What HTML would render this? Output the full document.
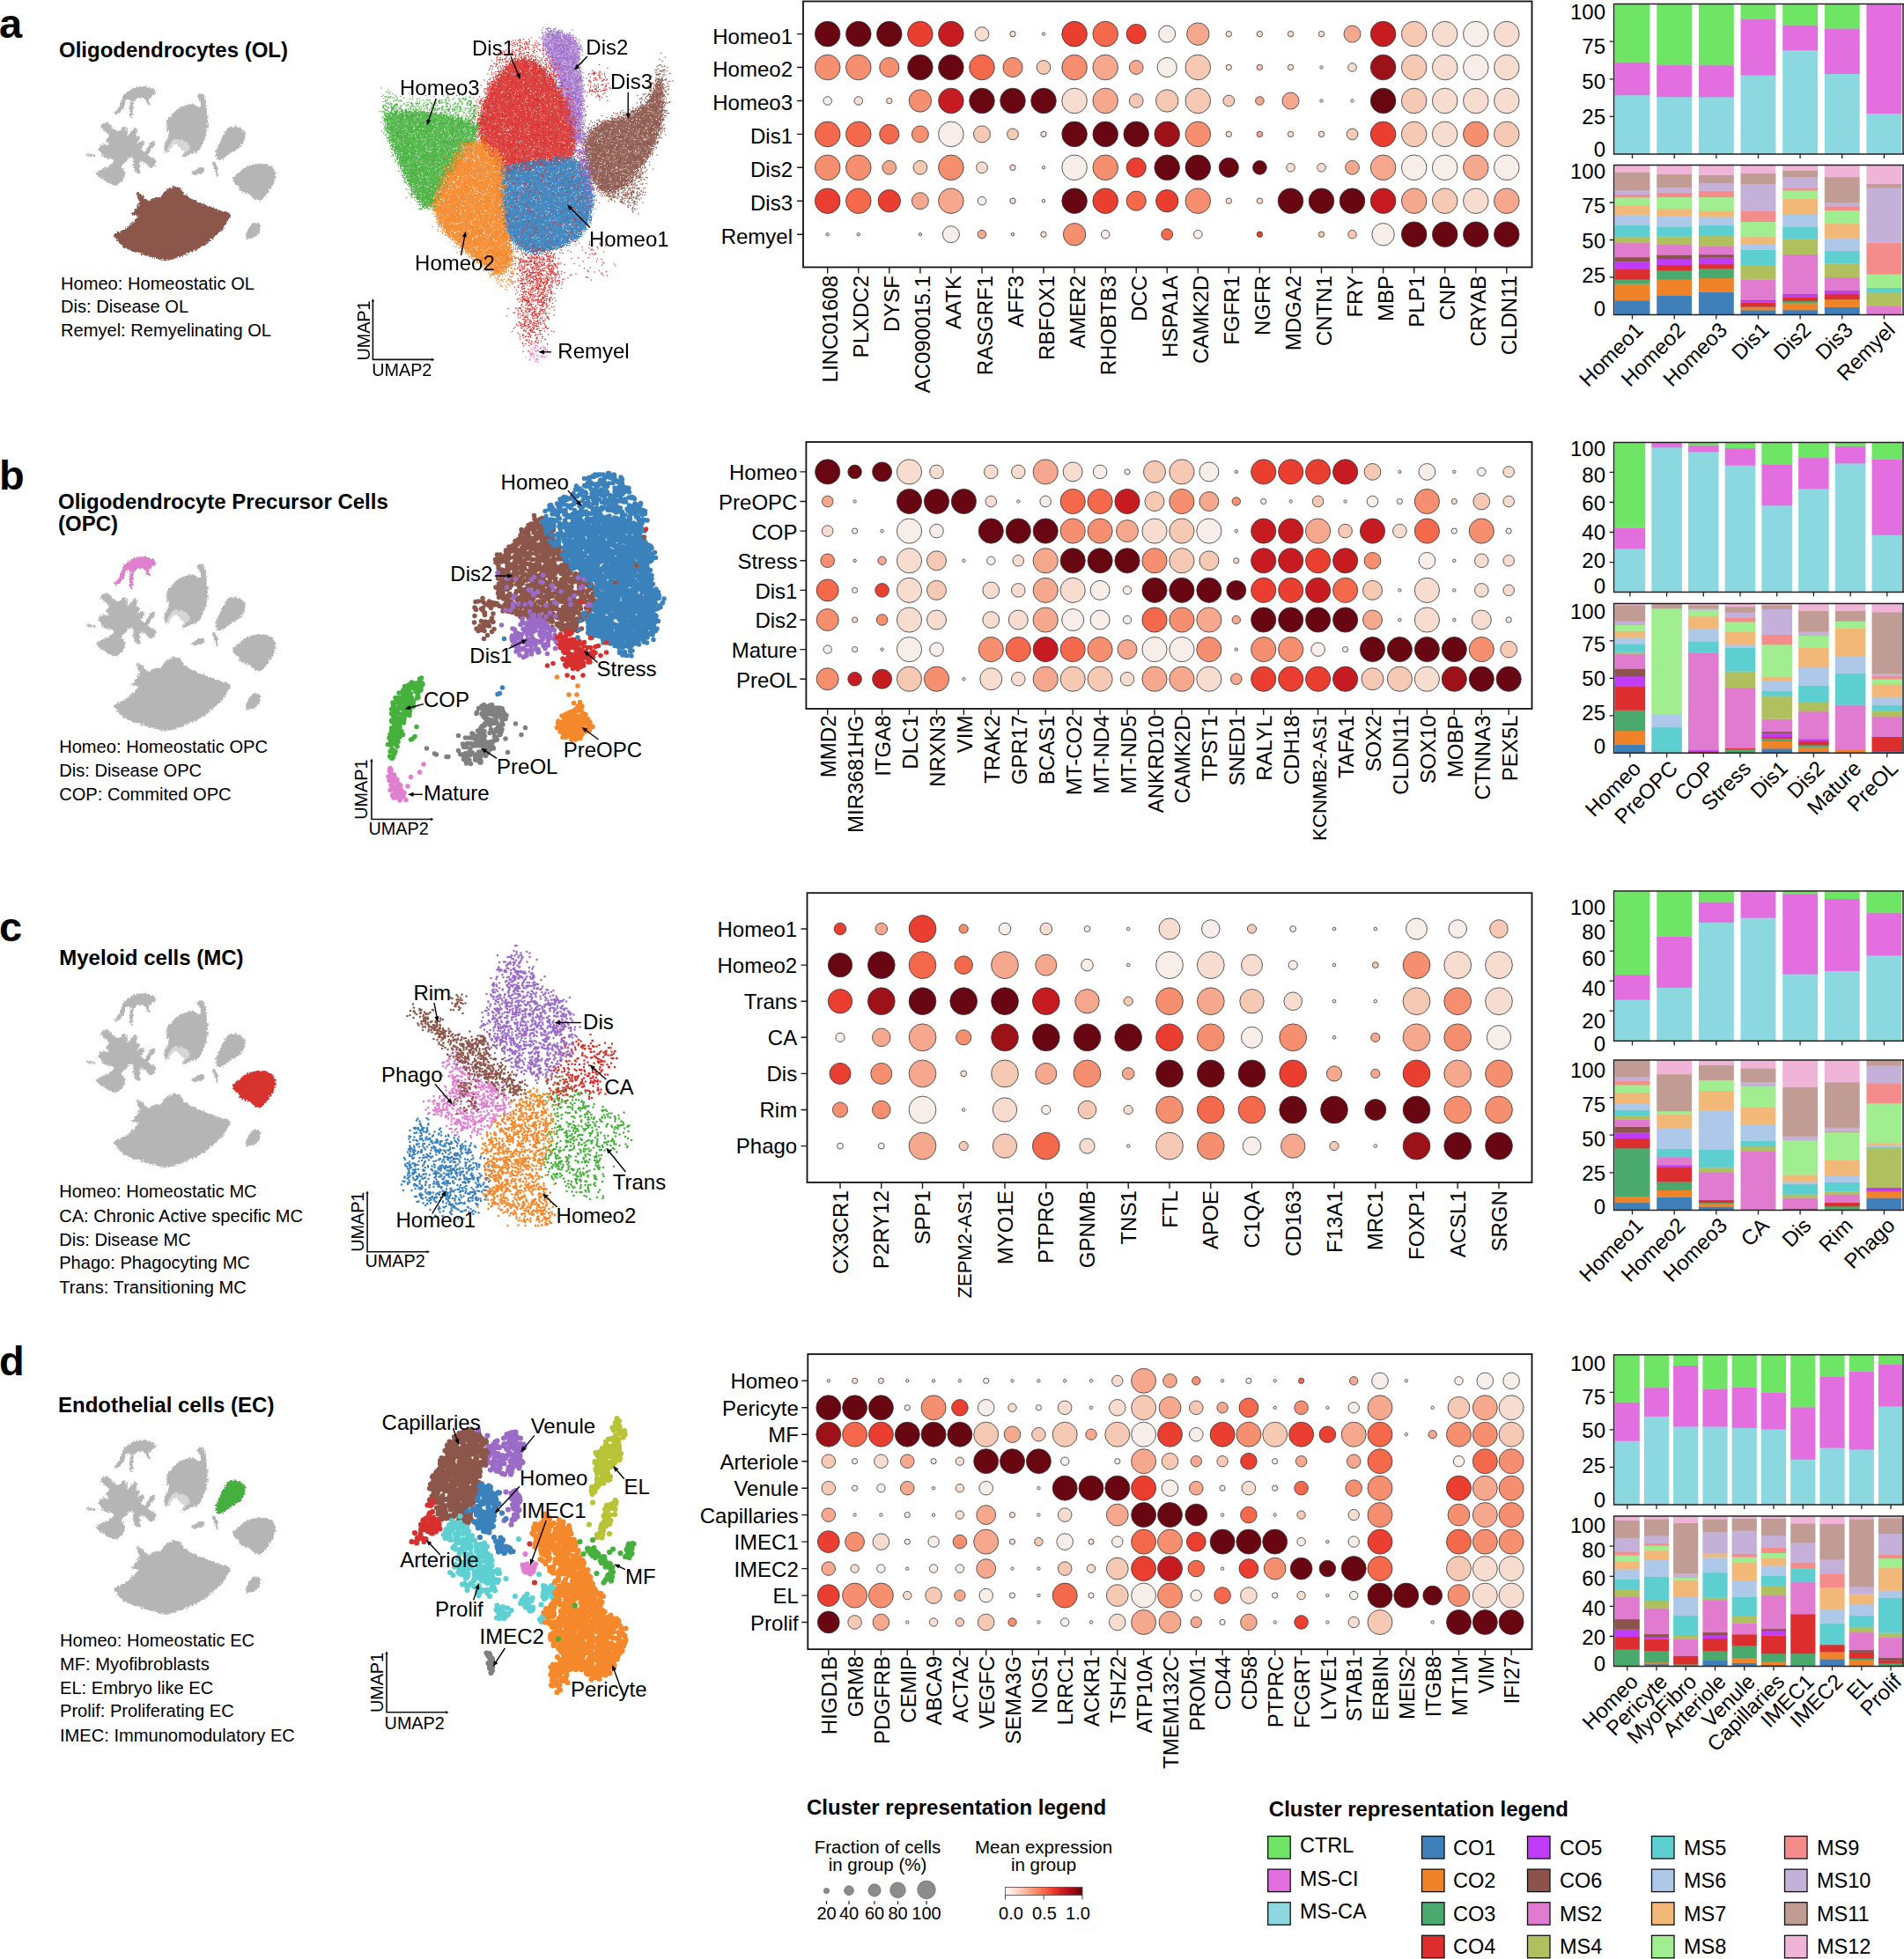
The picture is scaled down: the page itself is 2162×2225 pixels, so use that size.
<!DOCTYPE html><html><head><meta charset="utf-8"><title>Figure</title><style>html,body{margin:0;padding:0;background:#fff}svg{display:block}text{font-family:"Liberation Sans", Arial, Helvetica, sans-serif;fill:#000}.b{font-weight:bold}</style></head><body>
<svg width="2162" height="2225" viewBox="0 0 2162 2225">
<rect width="2162" height="2225" fill="#fff"/>
<defs><filter id="rough" x="-5%" y="-5%" width="110%" height="110%"><feTurbulence type="fractalNoise" baseFrequency="0.45" numOctaves="2" seed="3" result="n"/><feDisplacementMap in="SourceGraphic" in2="n" scale="5" xChannelSelector="R" yChannelSelector="G"/></filter>
<filter id="fuzz" x="-10%" y="-10%" width="120%" height="120%"><feTurbulence type="fractalNoise" baseFrequency="0.8" numOctaves="2" seed="5" result="n"/><feDisplacementMap in="SourceGraphic" in2="n" scale="16" xChannelSelector="R" yChannelSelector="G" result="d"/><feGaussianBlur in="d" stdDeviation="0.45"/></filter>
<g id="mini">
<path id="m_opc" d="M130.7 127.9C131.1 126.3 132.9 126 134.6 123.3C136.4 120.7 136 121.2 137.3 118.1C138.5 114.9 137.5 115 139.2 111.5C141 108 140.5 107.9 143.8 104.9C147.2 102 147.2 102.1 151.7 100.4C156.3 98.6 156.4 98.6 160.9 98.4C165.5 98.2 164.8 98.5 168.8 99.7C172.8 100.9 174.3 101.2 176 103C177.8 104.7 176.6 104.5 175.3 106.3C174.1 108 173.2 107.4 171.4 109.5C169.7 111.6 169.1 111.7 168.8 114.1C168.4 116.6 170.4 117.7 170.1 118.7C169.7 119.8 168.9 119.7 167.5 118.1C166.1 116.5 166.9 114.8 164.8 112.8C162.7 110.9 162.4 111 159.6 110.9C156.8 110.7 156.6 110.2 154.3 112.2C152.1 114.1 152.1 114.8 151.1 118.1C150 121.4 150.7 120.8 150.4 124.6C150 128.5 150.4 131.1 149.7 132.5C149 133.9 148.3 132.7 147.8 129.9C147.2 127.1 147.4 125.9 147.8 122C148.1 118.2 149.4 117.9 149.1 115.5C148.7 113 148.2 112.8 146.5 112.8C144.7 112.8 144.1 113.4 142.5 115.5C140.9 117.6 142 118.1 140.6 120.7C139.2 123.3 139.2 123 137.3 125.3C135.3 127.6 135.1 128.5 133.3 129.2C131.6 129.9 130.4 129.5 130.7 127.9Z"/>
<path id="m_astro" d="M115.6 142.4C116.7 140.4 117.7 139.9 120.2 139.7C122.7 139.6 122.3 139.8 124.8 141.7C127.2 143.6 126.4 145.2 129.4 147C132.4 148.7 133 149 136 148.3C138.9 147.6 138.5 144.7 140.6 144.3C142.7 144 142.6 144.5 143.8 147C145.1 149.4 142.7 153.9 145.1 153.5C147.6 153.2 150.4 146.7 153 145.7C155.7 144.6 154.6 147.1 155 149.6C155.3 152 153.5 153.1 154.3 154.8C155.2 156.6 157.9 154.1 158.3 156.2C158.6 158.3 154.8 161.7 155.7 162.7C156.5 163.8 159.5 159.7 161.6 160.1C163.7 160.4 164.1 161.6 163.5 164C163 166.5 159.2 167.2 159.6 169.3C159.9 171.4 162.4 173 164.8 171.9C167.3 170.9 166.3 168.5 168.8 165.3C171.2 162.2 172.3 160.4 174 160.1C175.8 159.7 176.4 160.9 175.3 164C174.3 167.2 171.8 168.4 170.1 171.9C168.3 175.4 167.4 174.7 168.8 177.2C170.2 179.6 173.2 179 175.3 181.1C177.4 183.2 177.7 182.6 176.7 185C175.6 187.5 174.2 189.9 171.4 190.3C168.6 190.6 169 188.5 166.2 186.4C163.4 184.3 163 181.7 160.9 182.4C158.8 183.1 158.8 185.5 158.3 189C157.8 192.5 160 193.8 158.9 195.5C157.9 197.3 156.3 197.3 154.3 195.5C152.4 193.8 152.4 192.8 151.7 189C151 185.1 152.8 183.9 151.7 181.1C150.7 178.3 150.2 177.8 147.8 178.5C145.3 179.2 145.3 180.9 142.5 183.7C139.7 186.5 137.6 186.2 137.3 189C136.9 191.8 140.5 190.7 141.2 194.2C141.9 197.7 141.6 198.3 139.9 202.1C138.1 206 137.8 206.8 134.6 208.7C131.5 210.6 132.3 210.4 128.1 209.3C123.9 208.3 123.3 207.4 118.9 204.7C114.5 202.1 113.8 201.9 111.7 199.5C109.6 197 109.4 197.6 111 195.5C112.6 193.4 113.7 193.7 117.6 191.6C121.4 189.5 122.3 189.8 125.5 187.7C128.6 185.6 129 185.8 129.4 183.7C129.7 181.6 129.6 181.2 126.8 179.8C124 178.4 122 180.2 118.9 178.5C115.7 176.7 116.7 176 114.9 173.2C113.2 170.4 111.6 170.4 112.3 168C113 165.5 114.8 164.7 117.6 164C120.4 163.3 121.8 166.7 122.8 165.3C123.9 163.9 121.2 161.9 121.5 158.8C121.9 155.6 124.5 156 124.1 153.5C123.8 151.1 122.3 151.3 120.2 149.6C118.1 147.8 117.5 148.9 116.3 147C115 145 114.6 144.3 115.6 142.4Z"/>
<path id="m_speck" d="M99.8 175.2C101.7 175 105.2 175.3 107.1 175.9C108.9 176.4 108.6 177.3 106.8 177.4C105 177.6 102.1 177.1 100.2 176.5C98.4 175.9 98 175.4 99.8 175.2Z"/>
<path id="m_neuron" d="M224.6 108.2C225.3 106.7 227.1 106 229.2 106.9C231.3 107.8 231.2 108.2 232.5 111.5C233.7 114.8 233.3 114.8 233.8 119.4C234.3 123.9 233.9 123.7 234.4 128.6C235 133.5 235.7 132.5 235.7 137.8C235.7 143 235.5 142.7 234.4 148.3C233.4 153.9 233.6 153.9 231.8 158.8C230.1 163.7 230 163.2 227.9 166.7C225.8 170.2 227.1 169.8 223.9 171.9C220.8 174 219.9 172.8 216.1 174.5C212.2 176.3 211.6 178.1 209.5 178.5C207.4 178.8 207.1 177.6 208.2 175.9C209.2 174.1 211.3 174.4 213.4 171.9C215.5 169.5 216.4 169.5 216.1 166.7C215.7 163.9 214.9 163.5 212.1 161.4C209.3 159.3 209 159.8 205.5 158.8C202 157.7 202.1 156.8 199 157.5C195.8 158.2 196.2 158.3 193.7 161.4C191.3 164.6 191.5 166.5 189.8 169.3C188 172.1 187.9 173 187.2 171.9C186.5 170.9 186.5 168.8 187.2 165.3C187.9 161.8 188.4 162.3 189.8 158.8C191.2 155.3 192.4 155.7 192.4 152.2C192.4 148.7 190.5 149.5 189.8 145.7C189.1 141.8 188.4 141.6 189.8 137.8C191.2 133.9 191.9 134.7 195 131.2C198.2 127.7 197.4 127.6 201.6 124.6C205.8 121.7 206.2 121.6 210.8 120C215.4 118.5 214.8 118.2 218.7 118.7C222.5 119.3 222.8 122.2 225.2 122C227.7 121.8 227.5 120.5 227.9 118.1C228.2 115.6 227.4 115.5 226.6 112.8C225.7 110.2 223.9 109.8 224.6 108.2Z"/>
<path id="m_ec" d="M259.4 145.7C262.5 143.2 262.1 144 265.9 144.3C269.8 144.7 270.7 144.9 273.8 147C277 149.1 277.1 148.7 277.8 152.2C278.5 155.7 277.9 156.2 276.4 160.1C275 163.9 275.7 163.5 272.5 166.7C269.4 169.8 268.8 169.1 264.6 171.9C260.4 174.7 260.6 174.7 256.8 177.2C252.9 179.6 253 180.8 250.2 181.1C247.4 181.5 247.3 181.3 246.2 178.5C245.2 175.7 245.2 175.2 246.2 170.6C247.3 166 248.1 166 250.2 161.4C252.3 156.9 251.7 157.7 254.1 153.5C256.6 149.3 256.2 148.1 259.4 145.7Z"/>
<path id="m_small1" d="M218 196.2C218.7 195 220 194.5 222.6 192.9C225.2 191.3 225.6 190.8 227.9 190.3C230.1 189.8 230.4 189.6 231.2 191C231.9 192.4 232.1 193.8 230.5 195.5C228.9 197.3 228 197 225.2 197.5C222.4 198 221.9 197.9 220 197.5C218.1 197.2 217.3 197.4 218 196.2Z"/>
<path id="m_sliver" d="M241.7 185C241.7 182.9 242.9 183.3 244.3 185C245.7 186.8 246 188.1 246.9 191.6C247.8 195.1 247.9 196.2 247.6 198.2C247.2 200.1 246.5 200.2 245.6 198.8C244.7 197.4 245.3 196.6 244.3 192.9C243.2 189.2 241.7 187.1 241.7 185Z"/>
<path id="m_mc" d="M265.3 203.4C266 200.6 266.6 201.3 269.9 198.2C273.2 195 273.2 194.4 277.8 191.6C282.3 188.8 281.7 189.1 287 187.7C292.2 186.3 292.2 186 297.5 186.4C302.7 186.7 302.8 186.5 306.6 189C310.5 191.4 310.5 191.3 311.9 195.5C313.3 199.7 313.3 199.8 311.9 204.7C310.5 209.6 309.5 209.4 306.6 213.9C303.8 218.5 304.2 218.3 301.4 221.8C298.6 225.3 299.3 226 296.1 227.1C293 228.1 293.1 227.5 289.6 225.7C286.1 224 287.2 222.9 283 220.5C278.8 218 277 219 273.8 216.6C270.7 214.1 272.9 213.4 271.2 211.3C269.4 209.2 268.8 210.8 267.3 208.7C265.7 206.6 264.6 206.2 265.3 203.4Z"/>
<path id="m_small2" d="M279.1 269.1C278.4 267 280 266 281.7 262.5C283.5 259 283.2 258.4 285.6 255.9C288.1 253.5 288.4 253.3 290.9 253.3C293.3 253.3 294 253.5 294.8 255.9C295.7 258.4 295.2 259.4 294.2 262.5C293.1 265.7 293.5 265.7 290.9 267.8C288.3 269.9 287.5 270 284.3 270.4C281.2 270.7 279.8 271.2 279.1 269.1Z"/>
<path id="m_ol" d="M129.4 266.4C129.7 264 131.1 265.6 134.6 263.8C138.1 262.1 138.7 262.3 142.5 259.9C146.4 257.4 145.9 257.4 149.1 254.6C152.2 251.8 152.2 251.8 154.3 249.4C156.4 246.9 158 247 157 245.4C155.9 243.9 151.1 245.6 150.4 243.5C149.7 241.4 152.2 240.9 154.3 237.6C156.4 234.2 157.9 235.2 158.3 231C158.6 226.8 155.7 224.8 155.7 221.8C155.7 218.8 156.2 219.1 158.3 219.8C160.4 220.5 160.7 222.2 163.5 224.4C166.3 226.7 166 228 168.8 228.4C171.6 228.7 170.5 226.8 174 225.7C177.5 224.7 178.4 226.5 181.9 224.4C185.4 222.3 184 220.7 187.2 217.9C190.3 215.1 189.5 215.3 193.7 213.9C197.9 212.5 199.4 211.6 202.9 212.6C206.4 213.7 204.4 215.1 206.9 217.9C209.3 220.7 208.3 220.3 212.1 223.1C216 225.9 215.4 225.6 221.3 228.4C227.3 231.2 227.4 230.8 234.4 233.6C241.4 236.4 240.7 236.2 247.6 238.9C254.4 241.5 257.6 239.6 260 243.5C262.5 247.3 259.4 248.2 256.8 253.3C254.1 258.4 254.4 258 250.2 262.5C246 267.1 246.6 265.8 241 270.4C235.4 274.9 235.8 275.4 229.2 279.6C222.5 283.8 223.1 283 216.1 286.1C209 289.3 209.9 289.1 202.9 291.4C195.9 293.7 196.8 294.3 189.8 294.7C182.8 295 183.7 294.3 176.7 292.7C169.7 291.1 170.5 290.9 163.5 288.8C156.5 286.7 156.7 287.3 150.4 284.8C144.1 282.4 144.4 282.7 139.9 279.6C135.3 276.4 136.1 276.5 133.3 273C130.5 269.5 129 268.9 129.4 266.4Z"/>
</g></defs>
<g transform="translate(0,0)" fill="#b5b5b5" stroke="#b5b5b5" stroke-width="1" stroke-linejoin="round" filter="url(#rough)">
<use href="#mini"/>
<path d="M191.1 160.1C194.1 156.4 194.4 157.2 199 156.8C203.5 156.5 204 156.9 208.2 158.8C212.4 160.7 212.5 160.9 214.7 164C217 167.2 217.4 167.4 216.7 170.6C216 173.8 214.4 175.5 212.1 175.9C209.8 176.2 210.6 174.4 208.2 171.9C205.7 169.5 205.7 168.8 202.9 166.7C200.1 164.6 200.1 163.3 197.7 164C195.2 164.7 195.8 166.5 193.7 169.3C191.6 172.1 191.4 174.2 189.8 174.5C188.2 174.9 187.5 174.5 187.8 170.6C188.2 166.7 188.1 163.8 191.1 160.1Z" opacity="0.55" stroke="none"/>
<use href="#m_ol" fill="#8c564b" stroke="#8c564b"/>
</g>
<g transform="translate(0,534.5)" fill="#b5b5b5" stroke="#b5b5b5" stroke-width="1" stroke-linejoin="round" filter="url(#rough)">
<use href="#mini"/>
<path d="M191.1 160.1C194.1 156.4 194.4 157.2 199 156.8C203.5 156.5 204 156.9 208.2 158.8C212.4 160.7 212.5 160.9 214.7 164C217 167.2 217.4 167.4 216.7 170.6C216 173.8 214.4 175.5 212.1 175.9C209.8 176.2 210.6 174.4 208.2 171.9C205.7 169.5 205.7 168.8 202.9 166.7C200.1 164.6 200.1 163.3 197.7 164C195.2 164.7 195.8 166.5 193.7 169.3C191.6 172.1 191.4 174.2 189.8 174.5C188.2 174.9 187.5 174.5 187.8 170.6C188.2 166.7 188.1 163.8 191.1 160.1Z" opacity="0.55" stroke="none"/>
<use href="#m_opc" fill="#e07fd0" stroke="#e07fd0"/>
</g>
<g transform="translate(0,1030.3)" fill="#b5b5b5" stroke="#b5b5b5" stroke-width="1" stroke-linejoin="round" filter="url(#rough)">
<use href="#mini"/>
<path d="M191.1 160.1C194.1 156.4 194.4 157.2 199 156.8C203.5 156.5 204 156.9 208.2 158.8C212.4 160.7 212.5 160.9 214.7 164C217 167.2 217.4 167.4 216.7 170.6C216 173.8 214.4 175.5 212.1 175.9C209.8 176.2 210.6 174.4 208.2 171.9C205.7 169.5 205.7 168.8 202.9 166.7C200.1 164.6 200.1 163.3 197.7 164C195.2 164.7 195.8 166.5 193.7 169.3C191.6 172.1 191.4 174.2 189.8 174.5C188.2 174.9 187.5 174.5 187.8 170.6C188.2 166.7 188.1 163.8 191.1 160.1Z" opacity="0.55" stroke="none"/>
<use href="#m_mc" fill="#d8302e" stroke="#d8302e"/>
</g>
<g transform="translate(0,1537.7)" fill="#b5b5b5" stroke="#b5b5b5" stroke-width="1" stroke-linejoin="round" filter="url(#rough)">
<use href="#mini"/>
<path d="M191.1 160.1C194.1 156.4 194.4 157.2 199 156.8C203.5 156.5 204 156.9 208.2 158.8C212.4 160.7 212.5 160.9 214.7 164C217 167.2 217.4 167.4 216.7 170.6C216 173.8 214.4 175.5 212.1 175.9C209.8 176.2 210.6 174.4 208.2 171.9C205.7 169.5 205.7 168.8 202.9 166.7C200.1 164.6 200.1 163.3 197.7 164C195.2 164.7 195.8 166.5 193.7 169.3C191.6 172.1 191.4 174.2 189.8 174.5C188.2 174.9 187.5 174.5 187.8 170.6C188.2 166.7 188.1 163.8 191.1 160.1Z" opacity="0.55" stroke="none"/>
<use href="#m_ec" fill="#45b03c" stroke="#45b03c"/>
</g>
<text x="-1" y="43" font-size="47" class="b">a</text>
<text x="-1" y="556.4" font-size="47" class="b">b</text>
<text x="-1" y="1069" font-size="47" class="b">c</text>
<text x="-1" y="1561.7" font-size="47" class="b">d</text>
<text x="67" y="65" font-size="24" class="b">Oligodendrocytes (OL)</text>
<text x="66" y="577.9" font-size="24" class="b">Oligodendrocyte Precursor Cells</text>
<text x="66" y="603.1" font-size="24" class="b">(OPC)</text>
<text x="67.2" y="1095.5" font-size="24" class="b">Myeloid cells (MC)</text>
<text x="66" y="1603.8" font-size="24" class="b">Endothelial cells (EC)</text>
<text x="69" y="328.6" font-size="20.1">Homeo: Homeostatic OL</text>
<text x="69" y="355" font-size="20.1">Dis: Disease OL</text>
<text x="69" y="382" font-size="20.1">Remyel: Remyelinating OL</text>
<text x="67.2" y="854.8" font-size="20.1">Homeo: Homeostatic OPC</text>
<text x="67.2" y="881.7" font-size="20.1">Dis: Disease OPC</text>
<text x="67.2" y="908.6" font-size="20.1">COP: Commited OPC</text>
<text x="67.2" y="1360.3" font-size="20.1">Homeo: Homeostatic MC</text>
<text x="67.2" y="1387.6" font-size="20.1">CA: Chronic Active specific MC</text>
<text x="67.2" y="1414.9" font-size="20.1">Dis: Disease MC</text>
<text x="67.2" y="1441.3" font-size="20.1">Phago: Phagocyting MC</text>
<text x="67.2" y="1468.7" font-size="20.1">Trans: Transitioning MC</text>
<text x="68" y="1869.7" font-size="20.1">Homeo: Homeostatic EC</text>
<text x="68" y="1896.6" font-size="20.1">MF: Myofibroblasts</text>
<text x="68" y="1923.5" font-size="20.1">EL: Embryo like EC</text>
<text x="68" y="1950.4" font-size="20.1">Prolif: Proliferating EC</text>
<text x="68" y="1977.7" font-size="20.1">IMEC: Immunomodulatory EC</text>
<g id="umap_a">
<g filter="url(#fuzz)">
<path d="M438.7 128.8C445.1 123.5 448 125.7 462.8 125.7C477.6 125.7 477.4 126.3 494.2 128.8C510.9 131.3 513 130.6 525.5 135.1C538.1 139.6 539 137.2 541.2 145.5C543.5 153.9 539.5 155.9 533.9 166.5C528.3 177.1 527.6 174.7 520.3 185.3C513.1 195.9 512.9 195.4 506.7 206.2C500.6 217.1 503.2 218 497.3 226.1C491.4 234.2 491.4 237.1 484.7 236.6C478 236 478.5 232.7 472.2 224C465.9 215.4 466.6 215 461.1 204.1C455.6 193.3 456.4 194.4 451.7 183.2C446.9 172.1 446.8 172.3 443.3 162.3C439.9 152.2 439.9 154.5 438.7 145.5C437.5 136.6 432.3 134.1 438.7 128.8Z" fill="#45b03c" opacity="0.85"/>
<path d="M619.7 36.7C623.6 33.1 623.9 35.8 632.3 37.8C640.6 39.7 644.1 39.3 651.1 44.1C658.1 48.8 656.6 47.5 658.4 55.6C660.2 63.7 657.2 63.8 657.8 74.4C658.4 85 659.5 84.2 660.5 95.3C661.5 106.5 661.3 105.1 661.6 116.3C661.8 127.4 661.8 124.9 661.6 137.2C661.3 149.5 663.3 157.8 660.5 162.3C657.7 166.8 655.3 161.7 651.1 153.9C646.9 146.1 647.6 144.2 644.8 133C642 121.8 644 123.8 640.6 112.1C637.3 100.4 636.5 100.2 632.3 89.1C628.1 77.9 628.8 80.3 624.9 70.2C621 60.2 619 60.3 617.6 51.4C616.2 42.5 615.8 40.4 619.7 36.7Z" fill="#9b6bc8" opacity="0.6"/>
<path d="M748.4 89.1C752.3 90.7 753.4 100.2 754 114.2C754.7 128.1 754 127.4 750.9 141.4C747.8 155.3 748.1 154.2 742.5 166.5C737 178.8 736.7 177.4 730 187.4C723.3 197.4 724.7 196.6 717.4 204.1C710.2 211.7 710.4 211.7 702.8 215.6C695.1 219.6 695.6 219.9 688.8 218.8C682 217.7 682.6 217.6 677.3 211.5C672 205.3 672.4 205.5 668.9 195.8C665.4 186 664.9 185.4 664.1 174.8C663.2 164.2 662.5 164.4 665.7 156C669 147.6 669 148.8 676.2 143.5C683.5 138.2 684 139.2 692.9 136.1C701.9 133.1 700.8 135.6 709.7 131.9C718.6 128.3 718.5 128.9 726.4 122.5C734.4 116.1 733.5 116.8 739.4 107.9C745.3 99 744.5 87.4 748.4 89.1Z" fill="#8c564b" opacity="0.85"/>
<path d="M545.4 128.8C548.6 117.6 548.6 116 554.4 103.7C560.3 91.4 560 91.7 567.4 82.8C574.8 73.8 573.7 74.4 582 70.2C590.4 66 590.3 66.1 598.8 67.1C607.3 68.1 606.5 68.7 613.9 74C621.2 79.3 620.3 79 626.4 87C632.5 94.9 631.8 94.8 636.9 103.7C641.9 112.6 641.3 110.4 645.2 120.4C649.1 130.5 649.3 130.2 651.5 141.4C653.7 152.5 654.2 152 653.6 162.3C653.1 172.6 655.7 173.7 649.4 180.1C643.2 186.5 640.9 184.1 630.2 186.4C619.5 188.6 620.4 186.8 609.2 188.4C598.1 190.1 597.8 189.8 588.3 192.6C578.8 195.4 580.5 201.3 573.7 198.9C566.9 196.5 569 192.3 562.8 183.6C556.5 175 555.6 176.6 550.2 166.5C544.9 156.3 544 155.6 542.7 145.5C541.4 135.5 542.3 140 545.4 128.8Z" fill="#d8302e" opacity="0.88"/>
<path d="M525.5 164.4C532.5 160.6 534.8 158.1 544.4 159.8C554 161.5 553.6 163.3 561.5 170.7C569.5 178 570.4 177.4 574.1 187.4C577.8 197.4 575.6 197.2 575.4 208.3C575.1 219.5 573.3 218.1 573.3 229.2C573.3 240.4 574 239 575.4 250.2C576.7 261.3 576.6 260.5 578.3 271.1C580 281.7 582.4 280.7 581.6 289.9C580.8 299.1 579.8 299.8 575.4 305.6C570.9 311.5 571.6 312.9 564.9 311.9C558.2 311 558.6 308 550.2 302.1C541.9 296.1 542.4 296.8 533.5 289.5C524.6 282.3 525.1 282.7 516.8 274.9C508.4 267.1 508.1 269 502.1 260.2C496.1 251.4 496.8 250.6 494.2 241.8C491.5 233 490.4 236.1 492.1 227.2C493.7 218.2 495.4 218.9 500.4 208.3C505.5 197.7 506.2 196.6 510.9 187.4C515.6 178.2 514.3 179.9 518.2 173.8C522.1 167.7 518.6 168.1 525.5 164.4Z" fill="#f5882a" opacity="0.88"/>
<path d="M572.6 193.7C577.2 185.9 578.6 188.4 588.3 185.3C598.1 182.2 598.1 183.6 609.2 182.2C620.4 180.8 619 180.4 630.2 180.1C641.3 179.8 641.9 178.1 651.1 181.1C660.3 184.2 659.4 184.3 664.7 191.6C670 198.8 668.7 198.3 671 208.3C673.2 218.4 673.6 218.1 673.1 229.2C672.5 240.4 672.8 239.9 668.9 250.2C665 260.5 666 260.1 658.4 268C650.9 275.8 651 274.7 640.6 279.5C630.3 284.2 630.9 284.1 619.7 285.7C608.6 287.4 608.3 288 598.8 285.7C589.3 283.5 590.3 284.1 584.1 277.4C578 270.7 579.1 270.7 575.8 260.6C572.4 250.6 572.8 252 571.6 239.7C570.4 227.4 570.9 226.9 571.2 214.6C571.4 202.3 568.1 201.5 572.6 193.7Z" fill="#3b82bd" opacity="0.9"/>
</g>
<path transform="scale(0.5)" d="M866 200h0m1 19h0m3-3h0m4 3h0m4-10h0m3-5h0m1 6h0m2 3h0m3-5h0m4 5h0m6 3h0m3 3h0m9 0h0m21-7h0m37 5h0m19 2h0m22-1h0m9-2h0m20 1h0m6-1h0m7 1h0m33 22h0m-3-10h0m-1 10h0m-1 0h0m-3-16h0m0 16h0m-4-7h0m0-2h0m-1 0h0m0 5h0m0-3h0m-1 3h0m0 3h0m-1-17h0m-1 9h0m0 7h0m-1-17h0m0 18h0m-1-9h0m-1 2h0m-1 4h0m-1 4h0m-1-4h0m0-3h0m-1-5h0m-1 11h0m-1-16h0m-1 3h0m-2 2h0m-2-2h0m-2 0h0m0-2h0m0 13h0m-1-4h0m-2 4h0m0-5h0m-3-2h0m-1 2h0m0-6h0m0 3h0m-2-4h0m-1 10h0m-1 4h0m0 0h0m-1-2h0m-5-3h0m0 2h0m-1 4h0m-1-3h0m-1-13h0m-3 15h0m0-12h0m-6 5h0m-1 5h0m-1-10h0m-1 2h0m0 7h0m-1-14h0m-2 0h0m0 14h0m-2 0h0m0-10h0m0 7h0m0 5h0m-1 0h0m0-3h0m-1-8h0m0 2h0m-1 1h0m-3 4h0m-4 1h0m0-3h0m0-4h0m-1 5h0m-3 2h0m-1-7h0m0 4h0m-1 4h0m0-4h0m0-2h0m-1 3h0m-2-2h0m-4 5h0m-1-3h0m0-5h0m-2 9h0m-2-5h0m-2 6h0m-1 1h0m-2-4h0m0 0h0m0 5h0m-2-4h0m-2-8h0m-1 6h0m-2-5h0m-1 10h0m-1-3h0m-2-10h0m0 4h0m0 10h0m0-2h0m-4-5h0m-1 6h0m-2-3h0m-1-8h0m-1 11h0m-8-3h0m0-1h0m0-5h0m-1-6h0m-2 13h0m-2-1h0m-1-10h0m0 5h0m0 4h0m-2 2h0m-1-1h0m-7-15h0m0 5h0m-1 10h0m0 3h0m-1-5h0m0 1h0m-2 1h0m-2-10h0m-2 7h0m-2 6h0m-1 0h0m-2-5h0m-2 6h0m-4-4h0m-1 2h0m0-14h0m-5 16h0m0-9h0m-1-2h0m-3 1h0m-3 1h0m-2-4h0m0 12h0m-1-1h0m0-15h0m-1 6h0m0 8h0m-1 1h0m0 2h0m-1-1h0m-1-1h0m0-9h0m-2 11h0m-1-16h0m-1 6h0m-1 0h0m-1-7h0m-2 14h0m-2-16h0m0 15h0m-1 3h0m0-18h0m-1 12h0m-1-10h0m-1 16h0m-1-18h0m-1 15h0m0 1h0m-1-10h0m-1 0h0m0 8h0m0-13h0m-2 14h0m-1-6h0m0-9h0m-2 8h0m0 11h0m0-9h0m-1 8h0m-2-15h0m-2 16h0m0-8h0m-8 22h0m5 1h0m1-1h0m2-8h0m0-3h0m1 3h0m1 8h0m0 3h0m0-14h0m2 7h0m0 8h0m0-9h0m1-8h0m0 8h0m1-1h0m0 5h0m1-11h0m0 1h0m1 8h0m1 7h0m1-6h0m1 1h0m0-8h0m2 2h0m0-2h0m2 14h0m3-5h0m0-8h0m1-4h0m0 7h0m0-8h0m0 16h0m1-7h0m0-6h0m1 0h0m0 3h0m0 3h0m1-1h0m1-2h0m0-3h0m1 9h0m1-11h0m0 5h0m0-3h0m1 16h0m0-12h0m1-6h0m0 16h0m1-1h0m0-9h0m1 4h0m0-5h0m1 12h0m0-3h0m0-15h0m0 12h0m1-1h0m1-8h0m0 9h0m0-1h0m1 6h0m2-4h0m0 2h0m1-1h0m1-6h0m1-5h0m1 16h0m0-13h0m2-5h0m1 11h0m0-3h0m1 4h0m2 2h0m0-4h0m6-3h0m0 5h0m1 3h0m0-8h0m0 4h0m1-10h0m0 8h0m0 3h0m1-12h0m3 15h0m1-9h0m1 5h0m1-10h0m0 13h0m1 0h0m0-1h0m1 0h0m0-7h0m1-3h0m1 11h0m0-12h0m1-3h0m1 19h0m0-6h0m1-13h0m1 19h0m0-11h0m1-7h0m1 8h0m2-6h0m0 16h0m1-2h0m0-3h0m1-8h0m0 6h0m0 4h0m1-9h0m1-7h0m1 18h0m1-9h0m2-9h0m3 4h0m0 14h0m1-9h0m1 3h0m1 6h0m0-17h0m1 5h0m0 9h0m1-1h0m2 1h0m1-14h0m0 12h0m2-9h0m1 4h0m0 7h0m0 0h0m3-15h0m2 6h0m1 10h0m0-13h0m1 8h0m0-4h0m1 9h0m0 0h0m4-1h0m1 3h0m1-8h0m0-4h0m1-1h0m1-2h0m1 9h0m1 4h0m1-5h0m0 7h0m2-13h0m1 2h0m1 4h0m0 2h0m1-13h0m0 8h0m1 1h0m0-3h0m2 10h0m1-5h0m0-11h0m1 0h0m0 7h0m1 3h0m2-3h0m2 1h0m1-3h0m1 14h0m0-3h0m2 1h0m0 1h0m1 0h0m0-11h0m0 0h0m0-4h0m0 8h0m1 4h0m0-13h0m1 4h0m0 3h0m2-7h0m2 12h0m1-4h0m0 4h0m1 0h0m1 2h0m1-14h0m1 6h0m1 4h0m0-3h0m0-8h0m0-1h0m2 3h0m0 14h0m1-5h0m0-3h0m1 0h0m1 1h0m0 3h0m0-6h0m2 0h0m1-4h0m0-3h0m0 17h0m0-1h0m4-10h0m1 7h0m0-4h0m2 10h0m0-9h0m1-9h0m0 7h0m1-5h0m1 7h0m1-5h0m0 10h0m1 2h0m0 0h0m1-3h0m0-6h0m0-7h0m0 17h0m2-13h0m1-3h0m1 16h0m0-8h0m0-8h0m1 12h0m3-2h0m0-9h0m1 3h0m0-4h0m0 7h0m1-3h0m1 7h0m0-9h0m0-1h0m3 6h0m0 0h0m2 5h0m1 4h0m1-14h0m1 10h0m1-4h0m1-3h0m1 12h0m2-13h0m3-1h0m0 11h0m1-4h0m1-4h0m1 10h0m1-4h0m1-2h0m0-12h0m1 6h0m0 5h0m1-2h0m1 9h0m0-14h0m2 15h0m1-14h0m0 12h0m1-5h0m0 2h0m1-1h0m0-4h0m1-8h0m0 10h0m1 7h0m1-6h0m0 3h0m1-15h0m2 7h0m0 1h0m0-2h0m3 10h0m0-14h0m4 3h0m5 11h0m2 17h0m-1-13h0m-6 1h0m0 17h0m-1-1h0m-2-7h0m-4-5h0m-2 1h0m-1 3h0m-1 2h0m0-7h0m0 8h0m-1-10h0m0-2h0m0 5h0m-2-1h0m0 3h0m0-5h0m-1 7h0m0 1h0m-1 6h0m0-9h0m-1 8h0m0 2h0m-1-7h0m-1 2h0m0-1h0m0-7h0m-1 9h0m-1-11h0m-1 11h0m0-3h0m0-5h0m0 14h0m0-1h0m-2-5h0m-1-5h0m-2 0h0m0-3h0m0 10h0m0-3h0m-1-8h0m-1-2h0m-1 15h0m-1-9h0m-1-4h0m-3 9h0m-3 2h0m0 3h0m-1-11h0m-1 6h0m0 6h0m0-9h0m0-5h0m0 3h0m-1 2h0m0 8h0m-1-6h0m-1 4h0m-3-7h0m-1 4h0m0-4h0m0-7h0m-1 6h0m0-3h0m0-3h0m0 13h0m-2-15h0m-1 0h0m-4 13h0m0-8h0m-4 4h0m0-4h0m-1 14h0m0-4h0m-1 3h0m0-6h0m-1 0h0m-1-6h0m-1-4h0m0 11h0m-2-10h0m0 11h0m-3-1h0m0 5h0m-1-9h0m0 1h0m-1-3h0m-2 5h0m-1-10h0m0 3h0m0 5h0m-1 9h0m0-10h0m-3 2h0m0-3h0m-1-7h0m-1 4h0m0-1h0m-1-4h0m0 5h0m-1-3h0m-1 13h0m-2-6h0m0 7h0m-1 3h0m0-17h0m0 7h0m-1-9h0m0 6h0m0 4h0m-2-1h0m0 4h0m-1-11h0m-2 14h0m-1 1h0m0-11h0m-1 10h0m0 3h0m-2-3h0m-2 2h0m0-18h0m0 5h0m-1-3h0m0-2h0m0 12h0m0-2h0m0 7h0m-2-17h0m0 10h0m-1 9h0m0-17h0m0 11h0m0-10h0m0 8h0m-1 7h0m-1-4h0m0 1h0m0-15h0m-3 4h0m0 0h0m-1 13h0m0-4h0m-2-9h0m0 4h0m-4 7h0m-2-11h0m0-3h0m0 2h0m-1 2h0m0 14h0m0-19h0m-1 16h0m-2-1h0m0-9h0m0 8h0m0-12h0m0 12h0m-1-12h0m0 2h0m0 10h0m0 3h0m-1-2h0m-1-15h0m-2 19h0m-1-10h0m0 8h0m0-11h0m-1 1h0m0 2h0m-2 7h0m-1 2h0m-5-8h0m0-9h0m0 18h0m-1-13h0m-1 3h0m0 3h0m-1-4h0m0-2h0m0 3h0m-2 6h0m-1-11h0m0 7h0m-2-1h0m-2-8h0m0-1h0m-1 17h0m-2-12h0m-1-6h0m0 13h0m-1-10h0m0 2h0m0 8h0m-1-9h0m-1 15h0m0-17h0m-1 3h0m0 6h0m-1-6h0m0-5h0m-1 3h0m0 6h0m-1 5h0m0-11h0m-2-2h0m0 0h0m-1 13h0m0-7h0m-1 10h0m0-6h0m0-4h0m-1-6h0m-2 6h0m-1-4h0m0 5h0m-1-3h0m0 1h0m0 13h0m-1-16h0m-1-3h0m0 6h0m-1 4h0m0-5h0m-1 14h0m-4-18h0m0 5h0m-1 6h0m0-3h0m0-5h0m-2-4h0m0 5h0m-1 13h0m-1-7h0m0 5h0m0-7h0m0 4h0m0-5h0m-1 9h0m0 0h0m-1-7h0m-1 4h0m-1 2h0m-1-7h0m0 6h0m0-12h0m0-1h0m-2 16h0m-1-14h0m-1 4h0m0 0h0m0 9h0m-1-9h0m-4-8h0m-2 1h0m-1 17h0m-1-15h0m0 8h0m-3-11h0m-2 9h0m-2-7h0m-1 6h0m0 4h0m-4 1h0m-1-2h0m-4-8h0m0 4h0m0-5h0m-3 9h0m-7 6h0m1 21h0m5-5h0m4-8h0m0 8h0m3-11h0m1 1h0m1 6h0m0 2h0m0-9h0m0 14h0m1-3h0m0-8h0m5 10h0m2-3h0m0-3h0m1-1h0m0-4h0m1 8h0m0 4h0m1-10h0m0 7h0m1-8h0m0 2h0m1 1h0m1 1h0m2-7h0m0 7h0m3-2h0m0-6h0m1 6h0m1 5h0m4 6h0m1-1h0m0-8h0m0 0h0m0 0h0m1-3h0m0-1h0m0 13h0m2-6h0m1 3h0m0 1h0m1-5h0m0 6h0m1-16h0m1 17h0m2-12h0m1 2h0m1 10h0m0-10h0m1 9h0m1 2h0m1-2h0m2-14h0m2 4h0m1 8h0m1-14h0m0 12h0m0 3h0m2-7h0m0-8h0m2 10h0m0 8h0m0-15h0m2 7h0m0 6h0m0-1h0m1-3h0m0-10h0m1 16h0m0-10h0m0 4h0m1-2h0m1 7h0m0 0h0m0-1h0m1 0h0m1-17h0m2 8h0m0-1h0m0 2h0m3-8h0m1 16h0m0-8h0m0 4h0m1 0h0m0-8h0m1 9h0m2-4h0m0-4h0m0 7h0m0 4h0m1-7h0m0 5h0m0-13h0m2-2h0m0 7h0m0 2h0m0-8h0m2 17h0m0-1h0m0-14h0m1 3h0m0-5h0m0 5h0m1 2h0m0-8h0m0 9h0m0 10h0m1-6h0m1 3h0m0 0h0m1-14h0m0 13h0m1-15h0m0 8h0m0 2h0m1 6h0m0-16h0m1 6h0m0 10h0m2 2h0m2-9h0m0-4h0m1 12h0m2 1h0m2-10h0m0 11h0m0-9h0m0 3h0m2 3h0m0-11h0m0-4h0m0 15h0m1 1h0m1-17h0m1 6h0m1 1h0m0 9h0m1-14h0m0 2h0m0 8h0m1 4h0m0 3h0m2-16h0m0 10h0m0-13h0m1 12h0m0-4h0m2 1h0m0 7h0m1 0h0m1 3h0m2-15h0m1 4h0m0-4h0m7-2h0m0 2h0m0 0h0m1 3h0m1-6h0m0 7h0m0 7h0m2-13h0m0-1h0m0 10h0m2 2h0m1-12h0m3 8h0m0 10h0m1-1h0m0-15h0m0-3h0m0 15h0m1 1h0m0-11h0m1-4h0m1-1h0m0 2h0m1 6h0m0-2h0m1 6h0m1 1h0m4 6h0m2 0h0m0-18h0m3 15h0m1 1h0m1 2h0m0-19h0m0 9h0m0-5h0m3 8h0m0-4h0m0-8h0m0 19h0m1 0h0m0-4h0m1 4h0m0-7h0m0 1h0m0-1h0m1-8h0m1 13h0m0 0h0m0-3h0m1 3h0m0-15h0m4 5h0m1 1h0m0 8h0m2 3h0m1-16h0m1 3h0m0-6h0m1 1h0m0 4h0m1-1h0m0 5h0m0 3h0m1-11h0m1-1h0m1 16h0m0 3h0m1-17h0m1 8h0m0 7h0m3-7h0m0-9h0m1 6h0m2 1h0m0 3h0m0 0h0m1-1h0m1 2h0m0-2h0m1 4h0m1 5h0m1-14h0m0-1h0m1 5h0m0 1h0m0-7h0m1-2h0m0 9h0m0 8h0m1-1h0m1-8h0m0 0h0m1-7h0m2 12h0m1-12h0m2 13h0m0 1h0m1-5h0m1 4h0m1 2h0m0-8h0m1 1h0m1 8h0m0-2h0m1-13h0m0 7h0m0 3h0m0 0h0m1-6h0m1 1h0m0 7h0m1-15h0m1 0h0m1 6h0m0 5h0m1 3h0m0 0h0m0 2h0m1-11h0m1 0h0m0-4h0m0 5h0m1-1h0m0 3h0m1-7h0m1 11h0m5 7h0m0-4h0m2-12h0m7 25h0m-4-5h0m-8 6h0m-2-3h0m-2 6h0m-2-1h0m-3-10h0m-1-1h0m0 11h0m-1-11h0m-1 4h0m0 3h0m0-5h0m0 1h0m-1 13h0m-2-3h0m0-8h0m0 4h0m-1-6h0m-3 15h0m-1-9h0m0 9h0m0-14h0m0 11h0m-1-12h0m-1 10h0m0 4h0m-1-1h0m-1-1h0m-2-2h0m0-9h0m-6 7h0m-1-3h0m-2 10h0m-1-13h0m0 6h0m0-9h0m0 14h0m-1 0h0m-2-13h0m-1-2h0m0 16h0m-1-8h0m-1 10h0m-1-12h0m0 2h0m0 5h0m-1-12h0m0-1h0m0 12h0m-1-1h0m0 0h0m0 4h0m0 1h0m0-1h0m0-8h0m0-1h0m-1 1h0m-1 0h0m0 11h0m-3-19h0m-2 1h0m0 10h0m-1 8h0m0-10h0m-1 7h0m0-4h0m0 2h0m0-11h0m0 16h0m0-11h0m-2 11h0m-1-4h0m0 4h0m-1-9h0m0-6h0m-1 15h0m0-3h0m-1-10h0m0 3h0m0-7h0m0 15h0m0-6h0m-1-7h0m-3-2h0m-1 14h0m-1-11h0m0 8h0m0 4h0m-1-2h0m-1-12h0m-1 8h0m0-6h0m0-2h0m-1 5h0m0-1h0m-4-7h0m0 7h0m-1 4h0m-2-10h0m0 15h0m0-8h0m-2-5h0m-1 8h0m0-6h0m-2 3h0m0 8h0m-2-11h0m-1-1h0m0-2h0m-1 15h0m0-14h0m-1 5h0m-1-3h0m0 3h0m0 5h0m-1 0h0m-2-4h0m-1 10h0m-2-3h0m0-2h0m-2-12h0m-1 9h0m-1-4h0m-1-7h0m0 5h0m-1 9h0m0-9h0m0 9h0m-1-11h0m-2 2h0m-3 8h0m0 4h0m0-2h0m-1-3h0m-2 4h0m0-5h0m-1 3h0m-1 0h0m-1-14h0m-1 5h0m0 4h0m0-9h0m0 11h0m-1-1h0m0 6h0m-1-13h0m0 2h0m-2 14h0m0-17h0m-1 6h0m0-7h0m-1-1h0m-1 2h0m0 14h0m-2-14h0m0 1h0m0 11h0m-1-3h0m0-3h0m0 4h0m-1-7h0m0 6h0m-4 8h0m-1-6h0m-1 3h0m0-14h0m-1 1h0m0 3h0m0-1h0m-2 6h0m0 4h0m0-6h0m-1 7h0m0-5h0m-3 0h0m-1 8h0m0-11h0m-1 5h0m-2 3h0m-1-5h0m0-10h0m0 7h0m0 0h0m-1 1h0m-1-6h0m0 10h0m-1-4h0m-2 7h0m0-15h0m-1 11h0m0-5h0m0 2h0m0 8h0m-2-4h0m-1-12h0m0 16h0m-3-8h0m0 8h0m-1-9h0m-1-2h0m0-4h0m0 6h0m0-2h0m-1 1h0m0 9h0m-3-11h0m-1 1h0m0 7h0m0 5h0m0-10h0m-1 11h0m-1-12h0m0-1h0m0-2h0m0 15h0m-1-6h0m0-2h0m-3-2h0m-1 1h0m0 4h0m-2 3h0m-3 1h0m-1-16h0m-1 10h0m0-7h0m0 12h0m-2-16h0m0 6h0m0-3h0m-1 2h0m0 0h0m0-4h0m0 10h0m0-4h0m-1-3h0m0 6h0m0 2h0m-1-5h0m0 11h0m-2-18h0m0 9h0m-1-7h0m-1 2h0m-1 2h0m0 4h0m0-9h0m-1 3h0m0 4h0m0-1h0m-1 0h0m0 8h0m0-6h0m-1-1h0m0-8h0m0 11h0m0 5h0m-1-14h0m0-3h0m0 0h0m-2 12h0m0-2h0m0 1h0m-1 6h0m0-8h0m-1 9h0m0-6h0m-1-5h0m-1 0h0m-1 10h0m-2-17h0m0 15h0m-2 4h0m-1-19h0m0 19h0m-2-7h0m-1 1h0m-1-1h0m-1-11h0m-1 18h0m0-19h0m-1 13h0m-1 1h0m-4-7h0m-4-4h0m14 18h0m2 11h0m2-9h0m0 14h0m3-13h0m0-1h0m2 0h0m1 3h0m0-1h0m0 14h0m3-6h0m0 1h0m1-7h0m1 7h0m0 5h0m1-16h0m0 13h0m2-5h0m1 4h0m0-2h0m2-8h0m1-1h0m0-4h0m1 14h0m0-14h0m1 14h0m0-3h0m0 4h0m1-13h0m3 4h0m0 2h0m1 2h0m1-4h0m2 10h0m1 3h0m0-5h0m0-9h0m1 10h0m0-4h0m2-5h0m0-6h0m1 17h0m0-4h0m1-8h0m2 1h0m0 6h0m0 1h0m1 5h0m1-12h0m0 7h0m0-4h0m1-9h0m1 12h0m0-7h0m0 10h0m0-12h0m1 6h0m1 6h0m0 1h0m0-9h0m0 12h0m1-14h0m2 12h0m2-12h0m0 5h0m1 1h0m0 7h0m0-5h0m1 3h0m1-6h0m0 3h0m2-13h0m1 16h0m2-6h0m1-7h0m1 12h0m1-9h0m2-5h0m1 13h0m0-8h0m1-3h0m2-2h0m0 9h0m1 9h0m1-15h0m1 5h0m1 0h0m1 5h0m1-14h0m2 14h0m1 1h0m0-6h0m0-8h0m1 12h0m1-4h0m1 7h0m1-15h0m1 16h0m0 1h0m1-17h0m1 5h0m1 12h0m0-11h0m0 1h0m2-8h0m0 3h0m1 0h0m0-3h0m1 19h0m0-7h0m7 4h0m1-6h0m1-7h0m0 16h0m1-8h0m0 8h0m1-4h0m1-2h0m0 1h0m0-8h0m0 13h0m1-2h0m0-4h0m1-4h0m0-3h0m2 13h0m0-11h0m3 8h0m2-8h0m1-2h0m2 5h0m3-7h0m1-3h0m0 16h0m0 1h0m2-18h0m0 14h0m1-13h0m1 2h0m0 14h0m1-6h0m0 3h0m0-14h0m1 19h0m0-5h0m0 1h0m1-12h0m0-3h0m0 6h0m0-1h0m3 10h0m1-12h0m0 13h0m0-15h0m1 18h0m1-18h0m0 4h0m2 14h0m0-14h0m0-2h0m0 16h0m2-5h0m0 0h0m1-5h0m0 0h0m1-7h0m0 3h0m1 9h0m0 1h0m1 3h0m1-9h0m0-5h0m1 7h0m2 0h0m0-7h0m3-2h0m0 1h0m0 6h0m1-6h0m1 2h0m2 5h0m0 9h0m0-2h0m3-17h0m1 2h0m2 5h0m1 10h0m4-11h0m1 12h0m2 0h0m1-18h0m1 19h0m0-8h0m1 4h0m1-6h0m1 6h0m2-11h0m0 6h0m2 6h0m0-3h0m1 0h0m0 3h0m1-8h0m0-2h0m1-4h0m0-2h0m2 2h0m0 3h0m1-4h0m1 4h0m2-1h0m5 5h0m2-6h0m1 14h0m2-11h0m1-6h0m1 0h0m3 9h0m-13 11h0m-8 1h0m-1-1h0m-5 10h0m-3-6h0m-2-3h0m0 15h0m-1-3h0m0-8h0m-1 3h0m0-7h0m-1 8h0m-2 10h0m-1-17h0m0 5h0m-1 4h0m-1-7h0m0 4h0m0-4h0m-1 15h0m0-5h0m-1 1h0m-1-11h0m0 3h0m-1 5h0m-1 5h0m0-15h0m-1 3h0m0 14h0m0-18h0m-1 11h0m-2-9h0m0-3h0m-3 8h0m-1-6h0m-1 4h0m-1 11h0m-1 2h0m-2-10h0m-1 4h0m0 0h0m-1-10h0m0 9h0m-1-7h0m0 5h0m-1-6h0m0 3h0m0 11h0m0-7h0m0-4h0m-1-4h0m0 5h0m0 9h0m-1-7h0m0 7h0m0-17h0m0 18h0m-1-8h0m-3-3h0m-1 6h0m0 2h0m-2-15h0m-2 2h0m-1-2h0m-1 8h0m-1-4h0m0-4h0m0 14h0m-2-5h0m0 2h0m0-11h0m-3 2h0m0 13h0m0 3h0m-4 1h0m0-13h0m-1-5h0m0-1h0m-3 13h0m-1-6h0m-1 4h0m0 4h0m-1-15h0m-1 5h0m0-3h0m-1 12h0m-1 0h0m-1 2h0m0-4h0m-1-7h0m-1 3h0m0-2h0m-1 9h0m-2 1h0m-1-9h0m-2 6h0m-2-7h0m-1 10h0m0-16h0m0 7h0m-2 8h0m0-2h0m-1-5h0m0 3h0m-1 6h0m-1-10h0m0-3h0m-1-4h0m-1 0h0m-1 13h0m0-3h0m0-10h0m-1 7h0m0-5h0m0 3h0m0 6h0m-1 6h0m-1-6h0m0 4h0m-1-4h0m0 2h0m-1 3h0m0-3h0m0-12h0m0 16h0m0-7h0m-2 9h0m-2-2h0m0-17h0m-1 7h0m-2 4h0m0 0h0m-1-8h0m0 12h0m-4-7h0m-2-7h0m0-1h0m-1 19h0m-1-10h0m0-6h0m-1-3h0m-1 2h0m-1 3h0m0-4h0m-1 14h0m-1-7h0m-1 1h0m-1 2h0m-1 6h0m0-8h0m-1-4h0m0 3h0m-2 1h0m-1-4h0m0 12h0m0-11h0m-2 6h0m-2 3h0m-1-7h0m-1-5h0m0 11h0m0-6h0m-1 10h0m-1 1h0m-1-10h0m0-3h0m-2-5h0m-1 0h0m0 7h0m-1-1h0m-1-1h0m-1 3h0m0 5h0m-1-11h0m0 14h0m-1 2h0m-1-4h0m0-15h0m-1 7h0m-1 6h0m0 6h0m-1-7h0m0 7h0m-1-14h0m0 12h0m-1-14h0m-1 0h0m0-2h0m-1 11h0m0 0h0m-1-10h0m-2 11h0m-1 4h0m-1 0h0m0-12h0m0 10h0m-4-9h0m-6 7h0m-3-6h0m0-7h0m0 14h0m13 6h0m0 1h0m1 13h0m3-13h0m1 1h0m0-2h0m1 18h0m1-17h0m0-1h0m0 3h0m1 16h0m0-8h0m2-6h0m1 0h0m0 6h0m0-5h0m0-3h0m1 2h0m0 2h0m3 11h0m1 0h0m0-12h0m1 1h0m0-2h0m1 4h0m0-4h0m1 0h0m0-3h0m1 14h0m0-2h0m0-14h0m0 12h0m1-8h0m0 11h0m0 4h0m1-6h0m0 4h0m2-11h0m1 8h0m0-14h0m1 11h0m4-7h0m0 10h0m1-14h0m0 19h0m0-17h0m3 13h0m3 0h0m1 2h0m0-11h0m0 6h0m0 1h0m0 4h0m0-3h0m1 4h0m1-9h0m0 0h0m1 10h0m0-8h0m0 4h0m1-3h0m0-10h0m0-2h0m0 10h0m0 6h0m1-16h0m0 16h0m1-3h0m2 0h0m2-4h0m1-8h0m0 1h0m0 17h0m1 0h0m2-7h0m0-10h0m2 2h0m0 15h0m1-12h0m1 11h0m0-16h0m1 13h0m0-8h0m1 8h0m2-14h0m1 5h0m0 10h0m1 3h0m0 0h0m1-13h0m1-4h0m0 12h0m2-13h0m0 2h0m2 5h0m1 2h0m1-7h0m1 11h0m1-7h0m1-1h0m1-3h0m0 15h0m1-1h0m1-2h0m2 4h0m0-12h0m0 6h0m0-11h0m1 12h0m0 5h0m1-13h0m0-3h0m1 16h0m0-16h0m1 10h0m0-3h0m0-10h0m1 5h0m4 3h0m0 1h0m3 9h0m2-1h0m0-17h0m0 4h0m0 0h0m1 6h0m1 3h0m0 6h0m0-4h0m1-2h0m0-7h0m1-5h0m1 4h0m3 3h0m1 2h0m1-4h0m0 8h0m1-11h0m1-1h0m0 5h0m0-2h0m1-5h0m1 7h0m0 11h0m2-14h0m0 5h0m0-7h0m1 15h0m0-16h0m2 8h0m0 6h0m0-2h0m1 4h0m0-15h0m0 4h0m1 0h0m0 5h0m0 3h0m0-5h0m1 2h0m1 1h0m1 4h0m1-2h0m0-8h0m0-4h0m1 9h0m1-7h0m2 15h0m1-9h0m1-6h0m1 4h0m1-7h0m3 2h0m2 16h0m0-7h0m2 4h0m1-8h0m0 8h0m1-13h0m2 2h0m2-3h0m7 0h0m-14 20h0m-1 12h0m-3-7h0m-3-5h0m0 13h0m-1-6h0m-1 0h0m0-4h0m-1 3h0m-1 2h0m-2-6h0m-2-3h0m-3 15h0m0-14h0m-1 13h0m0-8h0m-1 2h0m-1 6h0m-2-1h0m0 4h0m-1-15h0m0 10h0m-1-12h0m0 5h0m-1 4h0m-1 9h0m-1 0h0m0-4h0m0 0h0m0-13h0m-1 15h0m-2-14h0m0 5h0m-1 2h0m-1-8h0m-1 5h0m-3-1h0m0 2h0m-1 6h0m0-2h0m-1 4h0m0-6h0m0 7h0m0 1h0m-2-8h0m0 5h0m-2-8h0m-1-1h0m-1 7h0m-2-2h0m-1 7h0m0-16h0m-1 0h0m0 13h0m-3-14h0m0 1h0m-1 3h0m-1 7h0m-2-11h0m0 9h0m-1-6h0m-2 12h0m-1-10h0m0 0h0m0-4h0m-1 15h0m-1-12h0m-1 11h0m0 0h0m-2-5h0m0 6h0m0-4h0m-3-10h0m-1 10h0m0 1h0m-1-13h0m0 14h0m-2-7h0m-2-2h0m-1 4h0m0 2h0m0-10h0m0 15h0m-1-11h0m-2 12h0m0-5h0m0 6h0m0-18h0m0 15h0m-1-3h0m-1-4h0m0-2h0m-1-2h0m-1 1h0m0 3h0m0-1h0m-1-4h0m-1 2h0m0 4h0m-2-2h0m0-1h0m-1 5h0m0-12h0m0 6h0m-1 11h0m0-16h0m0 0h0m-1 4h0m0 13h0m-1 1h0m-1-3h0m0-6h0m-1-3h0m0 3h0m-1 9h0m-1-5h0m-2 0h0m0-3h0m0 2h0m-1 0h0m-1-8h0m0 11h0m-1-10h0m-1 5h0m0-3h0m-2 7h0m-1-11h0m0 2h0m0 10h0m-2-10h0m-1 8h0m0-11h0m-1 1h0m0 6h0m-1 6h0m0-8h0m-1-6h0m-1 5h0m-2-3h0m0 1h0m0 9h0m-1 1h0m-1-11h0m-3 9h0m-1 6h0m-1-11h0m-1 1h0m-2 10h0m-6-10h0m12 23h0m0 1h0m1-5h0m0-3h0m3 10h0m1-14h0m1 2h0m3 8h0m1 6h0m1-4h0m0-4h0m0 10h0m1-13h0m0 13h0m1-4h0m0-14h0m1 0h0m0 10h0m2-2h0m1-3h0m0 6h0m1-10h0m0-1h0m2 14h0m1-6h0m1 0h0m0 4h0m0-3h0m1 8h0m1-13h0m2 11h0m1-8h0m1 4h0m0 5h0m0-16h0m1 1h0m0-1h0m1 3h0m1 6h0m1-3h0m1 2h0m1-2h0m0 7h0m1-14h0m1 3h0m0 12h0m2 0h0m0 1h0m0-10h0m1 9h0m1-5h0m0-10h0m1 13h0m0 6h0m1-19h0m1 7h0m1-1h0m0-6h0m0 16h0m1-6h0m1 9h0m1-11h0m1-3h0m0-1h0m0 11h0m1 3h0m0-9h0m0-9h0m1 6h0m1 1h0m1 11h0m4-12h0m0 1h0m2 9h0m0-10h0m0-3h0m3 3h0m1 2h0m1-8h0m1 17h0m1-9h0m1 2h0m2 1h0m2 3h0m1-11h0m1 0h0m1 9h0m1-7h0m3-1h0m0 15h0m1-8h0m1-4h0m1 2h0m2 9h0m2-9h0m0 0h0m1 2h0m0 8h0m1-19h0m0 0h0m0 12h0m1 7h0m0-14h0m1 11h0m0-13h0m0 11h0m1 0h0m1-7h0m0 3h0m4 2h0m1 4h0m2-16h0m1 6h0m1 19h0m-7 14h0m-2-13h0m-3-6h0m-2 6h0m-2-2h0m-1 7h0m0-7h0m-1-1h0m-1 7h0m-1-8h0m0 11h0m0-11h0m-2 9h0m-1-5h0m-2 7h0m0 2h0m0 1h0m-1-14h0m-1-2h0m-1 15h0m0-3h0m0-2h0m-1-1h0m-1-6h0m0-3h0m-1 7h0m-1-3h0m-1-3h0m0 18h0m-1-14h0m0-4h0m0 16h0m-1-16h0m0 10h0m0 4h0m0-1h0m-1-13h0m-1 4h0m-1 10h0m0-13h0m0 15h0m-1-13h0m-1 7h0m0 3h0m-1-10h0m0 14h0m-1-13h0m0 5h0m-1-1h0m-1 10h0m0-9h0m0-5h0m0 10h0m0-3h0m-2 6h0m0-1h0m-1-11h0m-2-5h0m0 18h0m-1-18h0m-1 11h0m0-10h0m0 10h0m-1-4h0m-1 6h0m0 5h0m-1-15h0m0 1h0m-1 5h0m0 2h0m-1-3h0m0-2h0m0 9h0m0-10h0m-1 0h0m-1-3h0m0 11h0m-1-12h0m-2 4h0m-1 5h0m0-4h0m-1-6h0m-1 14h0m-3-11h0m0 15h0m0-14h0m-2-4h0m0 17h0m-2-10h0m0-8h0m-1 11h0m0 7h0m0 1h0m-2-4h0m0-14h0m-2 15h0m-1-12h0m0 12h0m-1-12h0m-1 6h0m0 9h0m-1-19h0m-2 13h0m0 2h0m0-13h0m-4-1h0m0-1h0m-3 19h0m-2-8h0m-4-2h0m1 20h0m9-4h0m0-4h0m3 2h0m1-1h0m0 7h0m5 1h0m3-2h0m1 0h0m0 1h0m2 3h0m1-9h0m0 16h0m0-13h0m0 3h0m0 3h0m1-12h0m2 9h0m1 4h0m0-13h0m1 7h0m5 4h0m1 0h0m1-7h0m0-2h0m0 17h0m0-4h0m1-1h0m1-13h0m1 3h0m0 5h0m3 0h0m1 1h0m1 8h0m0-10h0m0-5h0m0 2h0m2 8h0m0-5h0m1 5h0m1-4h0m1-3h0m1 9h0m0 0h0m1-13h0m0-2h0m1 13h0m0-4h0m0-4h0m2 8h0m1 5h0m1-1h0m0-12h0m0-3h0m0 11h0m1 3h0m0-11h0m0 12h0m1-9h0m0-7h0m1 16h0m0-13h0m0 2h0m1 9h0m1-15h0m0 7h0m0-1h0m1 11h0m1-3h0m0-14h0m1 10h0m0 0h0m1-4h0m1-1h0m1 12h0m1-11h0m1 1h0m3-6h0m0 9h0m4-10h0m0 1h0m1 1h0m5 11h0m-16 15h0m-1-8h0m-2 8h0m-4 9h0m-4-15h0m-3 0h0m-2 5h0m-3 3h0m-5 3h0m-1-10h0m0 1h0m-1 9h0m-2-5h0m0-7h0m-2 4h0m-1-5h0m-1 15h0m-1-2h0m-2 3h0m-2-1h0m-1-1h0m-1-8h0" stroke="#45b03c" stroke-width="3" stroke-linecap="round" fill="none"/>
<path transform="scale(0.5)" d="M1300 68h0m-6 11h0m0-5h0m-1 2h0m-4 1h0m-2 1h0m-5 0h0m-4-2h0m-1-6h0m-1 4h0m0-4h0m-1 3h0m-2 0h0m0 6h0m-1-11h0m0 6h0m-1 2h0m-1-7h0m-1 4h0m0-1h0m-1 2h0m0 4h0m0-5h0m0-1h0m0-1h0m-1 2h0m0 6h0m-1-3h0m0-3h0m-1 2h0m0 1h0m0-4h0m-2 3h0m-1-11h0m0 4h0m-3-2h0m0 5h0m-1 1h0m0-6h0m-1 5h0m-1-3h0m0 7h0m-1 3h0m0 1h0m-2-3h0m0-5h0m-1-2h0m-1 1h0m-1-5h0m0 8h0m-1-2h0m-1 7h0m0 0h0m-1-2h0m0-12h0m-1 8h0m-1 7h0m0-1h0m0-14h0m-1 6h0m-1-4h0m0 13h0m-2 0h0m0-14h0m-1 1h0m-1 8h0m-5-11h0m-1 13h0m-2-8h0m0 6h0m-6 11h0m5 3h0m3 10h0m0-14h0m1 11h0m0-14h0m1 18h0m0-9h0m1 1h0m2 8h0m1-10h0m1 6h0m0 4h0m1-7h0m2-9h0m1 1h0m1 13h0m0 2h0m1-15h0m1 1h0m0 12h0m2-3h0m0-2h0m3 4h0m0-4h0m0-12h0m1 18h0m0-2h0m1-1h0m0 1h0m0-15h0m0 8h0m1-7h0m1-2h0m0 1h0m0 1h0m0 7h0m0-3h0m1 1h0m0 4h0m0 8h0m0-18h0m1 6h0m0-6h0m1 17h0m1-5h0m0-10h0m0 1h0m0 13h0m0-11h0m1-3h0m0 4h0m0-4h0m1 15h0m0-13h0m0 0h0m0 8h0m0-9h0m1 4h0m0-1h0m0-7h0m1 1h0m0 12h0m1-6h0m0-2h0m1 9h0m0-14h0m1 10h0m0 3h0m1-8h0m0 8h0m1-7h0m0-4h0m0 0h0m0 0h0m1 13h0m1-9h0m1-2h0m1 9h0m0-4h0m0-1h0m1 11h0m0-19h0m0 9h0m1 7h0m0-4h0m0 4h0m2-4h0m0 1h0m0 2h0m0-2h0m1-10h0m0 9h0m2-8h0m1-4h0m1 17h0m0-11h0m0 9h0m0-13h0m0 4h0m1 8h0m0 1h0m0-7h0m0 2h0m0-9h0m1 3h0m1 5h0m1-4h0m1-2h0m0-2h0m1 14h0m0-7h0m1 0h0m0 3h0m2-11h0m0 19h0m0-16h0m0 8h0m0-6h0m1 10h0m0-9h0m1 7h0m0 3h0m0-6h0m0 5h0m1 3h0m0-17h0m0 18h0m0-3h0m0-10h0m0 8h0m2-5h0m0-1h0m0 11h0m1-14h0m1-5h0m0 15h0m2 4h0m1-15h0m0 6h0m1 6h0m0-16h0m1 6h0m0 12h0m0-11h0m1 12h0m1-6h0m1 3h0m1-3h0m1-8h0m1 4h0m1 10h0m1 0h0m4-9h0m0 9h0m7 10h0m0 5h0m-1-1h0m-2-8h0m0-3h0m0 3h0m0 2h0m-1 5h0m0-4h0m-1 3h0m0 8h0m-2-9h0m-1 0h0m-1 8h0m0-7h0m-1-7h0m0 9h0m0-2h0m-1 1h0m0 5h0m-1-17h0m0 17h0m0-12h0m-4 2h0m0-5h0m-1 10h0m0-12h0m-1 19h0m0-19h0m0 13h0m-2 6h0m0-14h0m-1 7h0m0 3h0m-1 3h0m-2-11h0m0 2h0m-1-9h0m-1 10h0m-2 9h0m0-18h0m0 1h0m-1 4h0m0 1h0m-1 3h0m0 3h0m0 6h0m0-15h0m-1 9h0m0-1h0m0 3h0m-1-3h0m0 3h0m-1-10h0m0 1h0m-1 8h0m0-4h0m0-4h0m0-4h0m-1 0h0m0 4h0m0 5h0m-1-1h0m0-5h0m0-4h0m-1 2h0m0 15h0m0 0h0m-1-14h0m0 8h0m-2 4h0m0-16h0m0 11h0m-1-3h0m0-3h0m0 11h0m0 2h0m0-8h0m-1 3h0m0-12h0m-1 3h0m0 10h0m0 4h0m-1-2h0m0-10h0m0 1h0m-1 1h0m0-1h0m0-7h0m0 1h0m0 18h0m-1-13h0m0-4h0m-1 15h0m0-5h0m0 6h0m-1-2h0m0-13h0m0 14h0m0-6h0m-1-1h0m-1-9h0m0 13h0m-1-9h0m-1 2h0m0 10h0m0-15h0m0 11h0m0-11h0m-1-2h0m0 4h0m0 12h0m-1-12h0m0 8h0m0-7h0m0 7h0m-1-6h0m0 10h0m-1-11h0m0-2h0m0 6h0m-1 9h0m0-3h0m0 0h0m-1-13h0m0 8h0m-1-10h0m0 7h0m0-7h0m-1 9h0m0 4h0m0-11h0m0 4h0m-1 7h0m0-7h0m0 0h0m-1 5h0m0 5h0m-1-4h0m0-12h0m0 10h0m-1-6h0m0 9h0m0 5h0m0-13h0m-1 1h0m0 11h0m-3-3h0m0 5h0m-1-7h0m0-7h0m-1 8h0m-1-3h0m-1 1h0m0 3h0m-1 1h0m-1 3h0m0-9h0m-2-9h0m0 7h0m0 5h0m0 6h0m-1-8h0m0 2h0m0 7h0m-1 0h0m0-15h0m0-2h0m0 9h0m-2-7h0m-2 1h0m-1 8h0m0-12h0m0 10h0m-2-8h0m-3 10h0m-1-3h0m-1-8h0m7 20h0m0 11h0m4-13h0m2 6h0m1-5h0m0 8h0m1 0h0m0-8h0m0 9h0m0 1h0m0 0h0m2 6h0m2-16h0m0 7h0m2-6h0m0 11h0m1-8h0m1-4h0m0 0h0m0 15h0m0-12h0m0 7h0m1-5h0m1 4h0m2 5h0m0 0h0m0-11h0m1 7h0m1 1h0m1-2h0m0-10h0m0 11h0m0-7h0m0-4h0m0 7h0m1 7h0m1 1h0m1 4h0m0-7h0m0 4h0m0-11h0m0 14h0m1-16h0m0 10h0m2 0h0m0-1h0m0-8h0m0-2h0m0 15h0m1-7h0m1 8h0m0-5h0m1-12h0m0 10h0m1 2h0m0-8h0m0 13h0m2-13h0m0 4h0m0-9h0m0 3h0m0-1h0m1-2h0m0 13h0m0-2h0m1-10h0m0 18h0m0-2h0m1 1h0m0-18h0m0 12h0m0 6h0m2-10h0m0-1h0m1 7h0m0-8h0m0-3h0m0 9h0m1 0h0m0-11h0m0 4h0m0 7h0m1 1h0m0-3h0m1 5h0m2-4h0m0-6h0m0-5h0m1 14h0m0 2h0m0-11h0m0-1h0m1 8h0m0 2h0m0 0h0m0-14h0m1 15h0m0-13h0m0 3h0m0 7h0m0-3h0m1 8h0m0-2h0m1 4h0m0-8h0m1-7h0m1 10h0m1-6h0m0 8h0m1-4h0m0-2h0m1 1h0m1-4h0m0 9h0m1-5h0m0-8h0m1 4h0m0 3h0m0 3h0m1-6h0m1-6h0m0 15h0m1-1h0m0 1h0m0-6h0m1 9h0m0-8h0m1 2h0m0-7h0m1 1h0m0 10h0m1-9h0m0 7h0m0-11h0m0 3h0m0 8h0m0 3h0m1-3h0m0-3h0m0-9h0m0 3h0m1-5h0m0 14h0m1-6h0m1-4h0m0 14h0m0-8h0m1-1h0m2 4h0m0-12h0m1 17h0m1-9h0m0 3h0m1-4h0m0-2h0m2 7h0m6-8h0m-1 16h0m-1 2h0m0-4h0m-2 12h0m-2 7h0m-1-15h0m0 2h0m-1 9h0m-2-8h0m-1 7h0m-2-1h0m0-7h0m0 7h0m0 2h0m-1-2h0m0 6h0m0-5h0m-1-1h0m0 1h0m0-7h0m-1 10h0m0-14h0m0-1h0m-1 12h0m-1 0h0m0-3h0m-1-9h0m0 2h0m0 11h0m-1 1h0m0 1h0m0-14h0m-1 15h0m0-17h0m0-1h0m-1 8h0m0 5h0m0-6h0m0-3h0m-1 4h0m0 7h0m0-12h0m-1 4h0m0 11h0m0-16h0m0-1h0m-1 11h0m-2 0h0m-1 2h0m-2-13h0m0 13h0m0 5h0m-1-10h0m0 5h0m0-4h0m-1 2h0m0-8h0m-1 11h0m-1-14h0m0 18h0m0-13h0m0 12h0m-1 0h0m0-12h0m0 6h0m0 0h0m-1-1h0m0 2h0m-1 1h0m-1 5h0m0-8h0m-1-8h0m0 7h0m-1-1h0m0 8h0m-1 0h0m0-7h0m-1 0h0m-1-6h0m0 8h0m0 5h0m-1 2h0m0-7h0m0 0h0m-1 4h0m0-7h0m0 1h0m0 2h0m-1-3h0m-1 6h0m0 1h0m0 2h0m-1-4h0m-1-7h0m0-6h0m0 6h0m0 8h0m-1-12h0m0 8h0m0 1h0m0 7h0m-1-8h0m0-7h0m-1 11h0m0-12h0m-1 14h0m0-9h0m-1-6h0m-1 17h0m0-7h0m0 0h0m-1-6h0m0 7h0m0 5h0m0-15h0m0 14h0m0-1h0m-2-8h0m0-4h0m0 5h0m-1-5h0m0-2h0m0 11h0m0 5h0m-1-13h0m0 7h0m-1-6h0m0 3h0m0-7h0m0 13h0m-1-10h0m0 13h0m0-9h0m-1 7h0m0-10h0m0-6h0m-1 0h0m-1 8h0m-1 6h0m-1-12h0m-1 11h0m-1-9h0m-1-3h0m0 7h0m0 5h0m-3-12h0m-1 4h0m-1-1h0m0 11h0m0-15h0m-3 0h0m10 22h0m3-2h0m0 12h0m0-9h0m1 1h0m0-1h0m1-2h0m1 10h0m0 1h0m1 2h0m0-13h0m1 15h0m3-6h0m2-2h0m1-2h0m0 6h0m1 6h0m0-4h0m0 3h0m1 1h0m1-17h0m0 15h0m0-5h0m1-2h0m1 9h0m1 1h0m1-17h0m0 15h0m0-5h0m1 1h0m1-12h0m0 14h0m1-11h0m0-4h0m0 14h0m0-1h0m1-8h0m0 3h0m1 5h0m0 6h0m1-14h0m0 6h0m1 8h0m1-8h0m0-5h0m1 10h0m0-4h0m0 3h0m2-8h0m3 5h0m0-7h0m1 4h0m1-4h0m0 12h0m0-13h0m0 12h0m0-11h0m0 0h0m1 3h0m0 11h0m0-6h0m0 1h0m0-10h0m1 10h0m1-13h0m1 8h0m0-6h0m0 3h0m1 0h0m0 7h0m0-4h0m1 9h0m1-17h0m0 6h0m0 10h0m1-17h0m0 16h0m0-11h0m0 0h0m0 9h0m0-9h0m1 8h0m0-13h0m2 18h0m1-18h0m0 9h0m0-7h0m1 9h0m1-3h0m1 7h0m1 3h0m0-1h0m2-1h0m0-13h0m1 10h0m1-4h0m1 3h0m1-9h0m0 13h0m1-10h0m0 12h0m1-3h0m1 4h0m0-6h0m1-12h0m0 16h0m0-15h0m0 5h0m1-3h0m0 14h0m0-7h0m1 4h0m0 3h0m1-5h0m3-8h0m3 29h0m-1-2h0m-2-8h0m-1 12h0m-1-14h0m-1 9h0m0-8h0m0 9h0m-1 6h0m0-11h0m-1-5h0m-1 14h0m0-16h0m0 4h0m-1-1h0m-1-2h0m-1 5h0m-1 12h0m0-5h0m0 3h0m-1-9h0m0-7h0m0 3h0m0 14h0m-1-10h0m0-6h0m-1 2h0m0 13h0m0 2h0m-1-14h0m0 5h0m0 10h0m-1 0h0m0-17h0m0 4h0m-1-1h0m0-4h0m0 13h0m-1-14h0m0 6h0m0 5h0m0 1h0m-1-12h0m0 10h0m-2-4h0m-1-2h0m0 11h0m-1-14h0m0 8h0m-3 10h0m-1-9h0m0 1h0m-1 8h0m0-2h0m0 1h0m-1 1h0m0-11h0m0 6h0m-1-14h0m0 12h0m-1-5h0m0 5h0m-1-10h0m0 14h0m0-4h0m0 2h0m-1-1h0m0-5h0m-1-8h0m0 5h0m0 14h0m-1-4h0m0 2h0m-1-12h0m0 4h0m-1 3h0m0 0h0m-1-7h0m0 7h0m-1-12h0m0 4h0m0 8h0m0-12h0m-1 0h0m0 18h0m0-8h0m0-7h0m-1 0h0m0 13h0m-1-14h0m0 13h0m0-1h0m0 0h0m0 0h0m0-14h0m-1 1h0m0 7h0m0-8h0m-1 3h0m0-2h0m0 13h0m0-10h0m0 11h0m-1-12h0m0 16h0m0-13h0m0-5h0m-1 14h0m0-10h0m0 9h0m-1-12h0m0 4h0m0 9h0m0-4h0m0-3h0m0-4h0m-1 5h0m0 2h0m0-3h0m0 8h0m0-10h0m-1 6h0m0 2h0m0-3h0m-1-10h0m0 8h0m0 6h0m-1 2h0m0-2h0m0 0h0m0-6h0m0-6h0m0 3h0m-1 12h0m0-10h0m0-2h0m-1 0h0m0-1h0m0-5h0m-1 6h0m0 1h0m-1 8h0m-1-7h0m-1-8h0m-1 16h0m0 3h0m-6-3h0m8 6h0m1-2h0m2 0h0m2 10h0m0 0h0m0 7h0m2-15h0m2 5h0m1 3h0m1-7h0m0 2h0m2 4h0m0-9h0m1 3h0m1-2h0m0 15h0m0 0h0m1-3h0m0 2h0m1-12h0m1 9h0m0 3h0m1-12h0m0 7h0m0-1h0m1 4h0m0 5h0m0-16h0m1 12h0m0-13h0m0 17h0m0-15h0m1 2h0m0-5h0m1 11h0m0-7h0m0 12h0m1-1h0m0-7h0m0 4h0m1 5h0m0-15h0m0 16h0m1-14h0m0 15h0m0-4h0m1-6h0m0 1h0m0 4h0m0 5h0m1-10h0m1 10h0m0-3h0m0-7h0m0 7h0m2-2h0m0 5h0m0-19h0m0 6h0m0 9h0m0-5h0m0 0h0m1 9h0m2-7h0m0-2h0m1 3h0m0-1h0m1-10h0m0 2h0m0 7h0m0-1h0m1-3h0m0 0h0m1 7h0m0-2h0m0-11h0m0 15h0m1-6h0m0 4h0m1 2h0m0-9h0m0-7h0m1 14h0m0-9h0m1-5h0m0 6h0m0-4h0m1 6h0m0 5h0m1-1h0m1-8h0m1 13h0m0-12h0m1 10h0m0-12h0m0 1h0m1 6h0m1 0h0m1 6h0m0-13h0m0 0h0m0 6h0m1-5h0m0 14h0m1-18h0m1 8h0m2-6h0m0 8h0m1-9h0m1 4h0m2 5h0m1-3h0m-1 21h0m-2 10h0m0 1h0m0-9h0m-1-8h0m-1 7h0m0 0h0m0 0h0m0 1h0m0-5h0m-2-5h0m0 5h0m0 10h0m-1 2h0m0-17h0m0 14h0m0 5h0m-1-9h0m-1 8h0m0-6h0m0-9h0m0 15h0m-1-8h0m0 8h0m0-10h0m0 10h0m0-14h0m-1 15h0m0-12h0m0 10h0m0 1h0m0 0h0m-1-12h0m0-6h0m-1 7h0m-1 4h0m0-7h0m0 9h0m-1-4h0m0-3h0m-1 10h0m0-3h0m-1-2h0m0-7h0m0 9h0m0-4h0m-1 5h0m0-8h0m-1-5h0m-1 9h0m0 9h0m0-2h0m-1-14h0m0-3h0m0 4h0m0 5h0m0-4h0m-1-2h0m0-3h0m0 0h0m-1 2h0m0 3h0m-1 0h0m0-3h0m-1 13h0m0-6h0m0 7h0m0-11h0m-1-3h0m-1 14h0m0-16h0m-1 18h0m0-11h0m-1 2h0m0-5h0m0 5h0m-1-4h0m0 2h0m-1 0h0m0 7h0m0-14h0m0 8h0m0 3h0m-1 7h0m0-5h0m-1-6h0m0 7h0m-1-10h0m-1 9h0m-1 2h0m0-12h0m0 9h0m-1-7h0m0 10h0m-1 2h0m0-12h0m0 2h0m0 3h0m-1-2h0m-1 11h0m0-4h0m0 4h0m0-13h0m0 5h0m-1 1h0m0 7h0m-1-10h0m-2-2h0m0 3h0m-3-7h0m-2-3h0m0 3h0m-1 5h0m0 10h0m-3-11h0m6 23h0m1-10h0m0 16h0m0 1h0m1-14h0m2-1h0m2 8h0m2-4h0m1-3h0m1 13h0m1-6h0m0-2h0m1-3h0m0-4h0m1 0h0m0 8h0m0-4h0m0 9h0m2-5h0m0 0h0m2 8h0m0-15h0m0 17h0m0-5h0m0-6h0m0 5h0m1-8h0m0 1h0m0-1h0m2-2h0m0-3h0m0 13h0m0 4h0m2-12h0m0 9h0m0 1h0m0 4h0m0-1h0m1-14h0m0 6h0m0-8h0m1 13h0m0-10h0m0 14h0m0-18h0m0 9h0m1 6h0m0-15h0m1-1h0m0 17h0m1-5h0m0-3h0m0-3h0m1 11h0m2 0h0m1-12h0m0 12h0m0-9h0m1 0h0m0-4h0m1 8h0m0 4h0m0 0h0m0-1h0m0-1h0m0-7h0m1 11h0m0-2h0m1-3h0m0-5h0m0-5h0m0 9h0m1 7h0m0-14h0m1 12h0m2-6h0m0-5h0m1 6h0m0 5h0m1-17h0m0 1h0m0 16h0m1-10h0m3-1h0m1 0h0m0 4h0m1-1h0m2 4h0m3-11h0m1 0h0m-3 19h0m-1-1h0m0 3h0m-1 13h0m0-15h0m-1 11h0m-2-8h0m-2 15h0m-1-13h0m0 2h0m0-2h0m-1 6h0m-1-6h0m0-4h0m-1 17h0m0-7h0m-1-12h0m-1 15h0m-1-10h0m0-3h0m0 5h0m-1-5h0m0 8h0m-1 8h0m0-13h0m0 5h0m0-10h0m-1 18h0m0-9h0m0 8h0m0-12h0m-1 8h0m0-12h0m0 10h0m0 7h0m-2-17h0m-1 0h0m0 17h0m-1-7h0m0 6h0m0-6h0m-1-6h0m-1 2h0m-1 9h0m0-5h0m-1 3h0m0-2h0m0-4h0m0 9h0m0-8h0m-1-2h0m-1 0h0m0 6h0m-1 3h0m0-6h0m-1 2h0m0-10h0m0 11h0m0-7h0m0 10h0m-1-6h0m0-1h0m0-5h0m0 13h0m0-8h0m-1-6h0m0 8h0m0-9h0m-1 8h0m0-4h0m0 9h0m-1-4h0m0-4h0m0-3h0m-1 9h0m0-11h0m-1 12h0m0 2h0m-1-16h0m0 13h0m0-13h0m-1 11h0m0-8h0m-1-3h0m0 3h0m0 13h0m-1 0h0m0-8h0m-2 5h0m0-12h0m-1 0h0m0 4h0m-1 0h0m0-2h0m-2 6h0m-2 12h0m4 2h0m5-1h0m1-2h0m1 0h0m3 7h0m0-5h0m0 8h0m0-7h0m0-3h0m0 17h0m1-17h0m0 2h0m2-1h0m0 13h0m0 2h0m0-12h0m0 11h0m2-6h0m1 5h0m0-14h0m1 4h0m1-2h0m1 14h0m0-16h0m0 7h0m0-7h0m1 7h0m1-7h0m2 5h0m1 9h0m0-10h0m0 1h0m0 0h0m2-1h0m0 6h0m0-1h0m0-2h0m0-3h0m1-4h0m0 0h0m0 1h0m1 14h0m0 3h0m1-3h0m0-13h0m0-1h0m0 11h0m1 2h0m1-11h0m0 3h0m0 8h0m1 3h0m0-3h0m3 3h0m1-14h0m0 6h0m0 2h0m0 1h0m1-3h0m1 9h0m2-17h0m1 5h0m3 3h0m4 3h0m2 1h0m-1 7h0m0 10h0m-6-7h0m-1 2h0m0 4h0m-1-6h0m0 13h0m0-11h0m-1 6h0m0 8h0m-1-3h0m0-8h0m0 7h0m0 2h0m0-13h0m-2-2h0m0 15h0m0-12h0m0 9h0m0 4h0m-1-4h0m-1-1h0m-1 5h0m-1-3h0m0-11h0m-1 2h0m0-6h0m0 15h0m-1 3h0m0-8h0m-1-7h0m-1 6h0m-1 7h0m0-3h0m0-8h0m0-5h0m0 3h0m-1 2h0m-1 6h0m0-4h0m0 6h0m-1-1h0m0-12h0m0 4h0m0 0h0m-1 4h0m-1-6h0m0 6h0m0-6h0m-1 12h0m0 2h0m0-14h0m0 10h0m-1-12h0m-1 2h0m-1 12h0m-1-2h0m-1-10h0m0 7h0m0-8h0m-1 9h0m0-8h0m-2 13h0m-1-12h0m-2-1h0m-2 1h0m0 9h0m0-2h0m-2 0h0m-2 4h0m-1-4h0m9 27h0m1-11h0m1-6h0m1 5h0m1-3h0m4 7h0m0-9h0m1 7h0m0 7h0m1-5h0m2 2h0m0-9h0m1 4h0m2 13h0m0-19h0m1 13h0m2 6h0m1-12h0m2 8h0m1-9h0m1 8h0m1 2h0m1 3h0m1-16h0m0 8h0m0 8h0m0-13h0m1-1h0m2-1h0m1 12h0m1 3h0m1-3h0m1-10h0m0 11h0m1 0h0m4 2h0m1-6h0m0 10h0m-1 1h0m-1 15h0m-2-7h0m0-4h0m0 8h0m-1-15h0m0 18h0m0-6h0m-1-11h0m0 1h0m0 11h0m0-8h0m-1 5h0m0-1h0m-1-4h0m-2 9h0m-1-6h0m0-3h0m0-3h0m0 5h0m0-4h0m-1-3h0m0 7h0m-1 3h0m0-3h0m0 8h0m-1-1h0m0-4h0m0-6h0m-1-5h0m-2 5h0m0 0h0m0-4h0m-1 14h0m-1-8h0m0 10h0m0-15h0m-1 3h0m0 14h0m0-15h0m-1 8h0m-1-12h0m0 8h0m0-3h0m0 7h0m-1 5h0m0-12h0m-1 4h0m0 10h0m0-15h0m-1-2h0m0 6h0m-1-6h0m0 11h0m-1-12h0m0 16h0m-1-1h0m0-8h0m0 11h0m-1-15h0m0-2h0m-1-2h0m0 0h0m-2 6h0m-2 2h0m-1 10h0m0-11h0m-2-4h0m0-3h0m-6 4h0m-3-3h0m20 36h0m1-1h0m0-5h0m1-4h0m1 2h0m0 4h0m0-11h0m1 16h0m1-11h0m0-7h0m1 4h0m0 2h0m1 5h0m0 1h0m1-11h0m1 5h0m0 3h0m0-5h0m0 9h0m1-5h0m0-5h0m0 6h0m0 1h0m0-3h0m0-4h0m0 16h0m1-11h0m1 1h0m0 0h0m0-5h0m0 1h0m1 14h0m0-12h0m1 10h0m0 0h0m1-7h0m0-10h0m0 5h0m1 11h0m0-3h0m0 1h0m1-6h0m0 11h0m0-14h0m0 9h0m0 0h0m1-8h0m0 7h0m1-11h0m0 15h0m1-4h0m0-3h0m0 9h0m1 0h0m0-6h0m0 0h0m0-2h0m2 8h0m0-7h0m0-1h0m0-10h0m0 4h0m2-1h0m0 12h0m1-7h0m1 10h0m1-1h0m1-1h0m0-6h0m11 22h0m-5-1h0m0-3h0m-1-2h0m-3 8h0m0 4h0m-1-2h0m-1-3h0m-1-3h0m0-5h0m-1 2h0m0-5h0m-2 5h0m0 7h0m0 4h0m0-17h0m-1 3h0m0 4h0m0 0h0m0 10h0m-1-17h0m-1 4h0m0-2h0m-1 14h0m0-15h0m-1-3h0m0 6h0m0 6h0m-1 7h0m-1-11h0m-1 4h0m0 6h0m-1-15h0m0 7h0m0 7h0m-1-6h0m-1-8h0m0-3h0m0 0h0m0 4h0m-1 10h0m0-10h0m0 13h0m0-16h0m-1 18h0m-1-19h0m0 16h0m0-11h0m-1 6h0m0-8h0m-1 0h0m-1 8h0m0 6h0m0-16h0m-1 5h0m0-4h0m0 11h0m-1-9h0m0-2h0m0-2h0m0 10h0m-2-8h0m-1 10h0m0-6h0m-1-3h0m-1 12h0m0-1h0m-5-11h0m6 21h0m3-1h0m7 9h0m1-1h0m0-6h0m2 0h0m0 1h0m1 11h0m0-12h0m1 6h0m1-11h0m0 19h0m1-6h0m0-12h0m2 9h0m1-9h0m0 4h0m1-4h0m2 14h0m0-3h0m0 6h0m1-1h0m1-10h0m0 6h0m0 1h0m1-14h0m0 19h0m0-8h0m0 5h0m1-9h0m1-7h0m0 17h0m3-17h0m1 6h0m2 27h0m-3-3h0m0-2h0m-1-2h0m-1 10h0m-1-13h0m0 7h0m-1-6h0m0 15h0m-1-4h0m-1 3h0m0-1h0m0-14h0m0-1h0m0 4h0m0 12h0m0-17h0m-1 12h0m0 5h0m-1-5h0m-1-8h0m0-3h0m0 11h0m-1 5h0m-1-18h0m-1 19h0m-1-12h0m0-4h0m0 16h0m0-8h0m-1-2h0m-1-3h0m-1 13h0m0-11h0m-1-4h0m-2 6h0m0 6h0m0 1h0m0-11h0m0-5h0m0 15h0m-1 0h0m-1-4h0m-1-5h0m0 31h0m3-12h0m1 9h0m1-12h0m0 12h0m1-4h0m2-7h0m1 13h0m0-14h0m2 14h0m1-10h0m0 0h0m1 2h0m1 0h0m0 9h0m0-10h0m1-3h0m0 9h0m0-11h0m0 11h0m0-10h0m1-1h0m1 3h0m1 4h0m1-6h0m0 10h0m0-8h0m0 1h0m1-4h0m1-1h0m0 13h0m4 4h0m0-5h0m1 0h0m1-8h0m2-2h0m1 12h0m7 5h0m-12 5h0m-7-6h0m0 6h0m-2 11h0m0-7h0m-1 0h0m0-6h0m0 14h0m-2-12h0m-1-1h0m0-5h0m0 15h0m0-11h0m-4-2h0m0 5h0m4 13h0" stroke="#9b6bc8" stroke-width="3" stroke-linecap="round" fill="none"/>
<path transform="scale(0.5)" d="M1498 135h0m3-14h0m3 18h0m7-9h0m5 23h0m-6 5h0m0-7h0m-1-1h0m-3 9h0m-2-8h0m0 1h0m-4-4h0m0-1h0m-1 0h0m0 1h0m-4 1h0m-1 7h0m-2-5h0m-1 8h0m-3 0h0m-8 14h0m9-9h0m1 5h0m1-5h0m1 7h0m0-2h0m3-6h0m0 6h0m1 10h0m0-12h0m2 1h0m0 7h0m0-15h0m2 8h0m0-7h0m1 1h0m2 16h0m0-16h0m0 14h0m1-15h0m2 12h0m0-4h0m2-9h0m0 4h0m1 6h0m3 1h0m1 8h0m1-18h0m7 6h0m1 0h0m6 17h0m-6 1h0m-4 0h0m0 9h0m0 3h0m-2-8h0m-3-7h0m0 15h0m-1-15h0m-2-1h0m0 18h0m-4-1h0m0-8h0m0 3h0m-1-13h0m-1 19h0m-1-6h0m0-12h0m0 7h0m0-6h0m0 3h0m-1-2h0m-2-1h0m-1 10h0m0 1h0m-1 3h0m0 0h0m0-12h0m0 1h0m-1 2h0m0 6h0m0-13h0m-3 12h0m0 0h0m0-2h0m0 0h0m-1-5h0m-1 6h0m0-11h0m-1 9h0m-1-7h0m0 14h0m-1-13h0m0 13h0m-1-4h0m-2 1h0m-3-4h0m0 1h0m-2-1h0m-2 10h0m-1 0h0m-2-7h0m-2 3h0m0 4h0m-1-2h0m-3 0h0m-2-13h0m-20 33h0m12-3h0m3 1h0m3-2h0m2 6h0m3-1h0m1-1h0m0-1h0m1-3h0m2 2h0m0-10h0m1-1h0m0 11h0m1-8h0m1 12h0m0-18h0m1 3h0m1 3h0m1 8h0m1 1h0m0 0h0m1-8h0m0 9h0m0-3h0m0 3h0m1 1h0m0-7h0m0-1h0m1 1h0m0-7h0m1 3h0m1-1h0m3 12h0m0-16h0m1 10h0m0 7h0m0-2h0m1-9h0m0 8h0m1-16h0m0 18h0m0-1h0m1-1h0m0-5h0m0 3h0m2 1h0m0-12h0m0 1h0m2 3h0m1-1h0m0 8h0m1 4h0m1-17h0m0 15h0m0-4h0m1-1h0m0 8h0m0-1h0m0-8h0m1-1h0m1 3h0m1-12h0m0 6h0m1 12h0m0-2h0m0-1h0m2 3h0m1-2h0m2-6h0m2-3h0m3 7h0m1-10h0m1 10h0m1-12h0m3 29h0m-2 2h0m-4 1h0m-3-10h0m0 8h0m-1 2h0m0 1h0m-3-14h0m0 17h0m-2-3h0m0-3h0m-1 0h0m0-1h0m-1-1h0m-1 4h0m-3-14h0m0 13h0m-1 1h0m-1-4h0m-1 4h0m0-8h0m-1 13h0m-1-14h0m0 9h0m-1-8h0m0 11h0m-1-3h0m-1-5h0m0-7h0m-1 14h0m0-3h0m-1-9h0m0 1h0m-1 7h0m-1 4h0m0 0h0m-1-16h0m-2 6h0m-1-2h0m0 15h0m0-14h0m0 1h0m-1-4h0m0 15h0m0-4h0m0-12h0m0 9h0m0 1h0m-1-10h0m0 9h0m0-9h0m-2 4h0m0 0h0m-1 5h0m-1-4h0m-1-5h0m0 8h0m-1 8h0m-1-16h0m0 17h0m0-8h0m-1 8h0m0-8h0m-1 3h0m0-2h0m-4 0h0m-2 2h0m-1 0h0m0-8h0m-1-3h0m-1 9h0m-2-3h0m-2 11h0m-2-1h0m0-12h0m-2-4h0m0 16h0m-1-14h0m0 7h0m0 0h0m-1 2h0m-2-8h0m-6 9h0m-54 22h0m4 2h0m5-1h0m7-3h0m0 3h0m1 1h0m0-5h0m4-2h0m1 5h0m3 0h0m3 3h0m6-7h0m1 7h0m2-10h0m3 5h0m1-1h0m0 5h0m2-6h0m1-7h0m0 9h0m0-3h0m0 2h0m0 1h0m1-7h0m0 4h0m1 4h0m0-1h0m0-2h0m2 2h0m0-3h0m0 8h0m1 0h0m2-8h0m0-3h0m0 11h0m1-13h0m2 5h0m1-9h0m1 16h0m1-8h0m0-3h0m1 11h0m0-7h0m2-9h0m1 6h0m1 8h0m0-16h0m0 16h0m0-10h0m3-3h0m0 14h0m1-10h0m0 11h0m0-15h0m1 6h0m0-9h0m1 6h0m1 0h0m0 8h0m0 4h0m1-13h0m0 10h0m1-1h0m1-3h0m0-10h0m0 15h0m0-15h0m0 8h0m1 3h0m1 4h0m1-10h0m1 1h0m0 7h0m1-9h0m0 7h0m1 0h0m1 3h0m0-6h0m0 3h0m1 7h0m1-12h0m3-3h0m0 2h0m1-1h0m0-1h0m0 0h0m0-2h0m1 1h0m1 7h0m0-6h0m0 14h0m1-1h0m1-3h0m0-7h0m1 4h0m0-7h0m0-1h0m1-2h0m0 15h0m0-16h0m1 3h0m2 8h0m0 2h0m0-6h0m0-5h0m1 2h0m0 2h0m1 13h0m0-8h0m1-11h0m1 4h0m0 9h0m0-2h0m1-3h0m1 11h0m0-13h0m2-4h0m0 16h0m0-4h0m1-2h0m0-12h0m2 0h0m0 14h0m1-1h0m1-2h0m0-3h0m1-1h0m1-3h0m0 3h0m0-5h0m0 10h0m2-4h0m1 4h0m1 3h0m2-13h0m0 8h0m0 0h0m1 1h0m2 2h0m1 4h0m3-5h0m1 5h0m3 0h0m-6 6h0m-4 0h0m-1 9h0m-2-11h0m0 9h0m0 1h0m-1-1h0m-1-5h0m-1-2h0m0-2h0m0 3h0m-1 15h0m0 0h0m0-4h0m0-12h0m-1 7h0m0 3h0m-1-8h0m-1 12h0m0-3h0m-2-13h0m-1 8h0m0 1h0m-1 1h0m-1-3h0m0 2h0m0-6h0m-1 11h0m-2-10h0m0 12h0m0 2h0m-1-16h0m0-3h0m-1 16h0m0-8h0m0-3h0m-1 8h0m0 0h0m0-1h0m-2 6h0m-1-6h0m0-1h0m0-6h0m0 9h0m0 1h0m-1 0h0m0-3h0m-1-5h0m0-5h0m0 13h0m-1 2h0m0-15h0m0 8h0m-1-8h0m0 0h0m0 7h0m-1 4h0m0-12h0m0 4h0m-1 5h0m-1-8h0m0 7h0m-1 0h0m0 0h0m-1 6h0m-1-14h0m0 9h0m0 0h0m-1-8h0m0 14h0m-1 1h0m0-11h0m-1 3h0m0 3h0m-1-9h0m-1-3h0m-1 14h0m-1-2h0m0-3h0m-1-7h0m0-1h0m-1 14h0m0-14h0m0 12h0m-2 3h0m-1-10h0m-1 13h0m0-14h0m0-4h0m0 14h0m-1-1h0m0-13h0m-1 1h0m0 4h0m0 2h0m-1 9h0m0-2h0m0 4h0m0-9h0m-2-8h0m-1 0h0m0 4h0m0 1h0m0 12h0m-1-15h0m0-1h0m-1 6h0m-1 10h0m-1-9h0m-1-2h0m0 9h0m-1-10h0m-1-7h0m0 6h0m0-2h0m-1 4h0m0-6h0m0 11h0m0 6h0m-1-13h0m0-6h0m0 1h0m0 16h0m-1-4h0m-4-2h0m0-5h0m0 13h0m0-2h0m0-6h0m-1 3h0m0 3h0m0-6h0m0-6h0m0 2h0m-1-6h0m0 13h0m-1 5h0m-1-12h0m-1 12h0m-1-9h0m0-9h0m-1 9h0m-1 5h0m0-12h0m0 9h0m-1-8h0m0 1h0m0-5h0m0 6h0m-1-3h0m0 6h0m-1 2h0m0 6h0m-1-8h0m0 6h0m-2 1h0m0 2h0m0-11h0m-3-4h0m-1 16h0m0-7h0m-1-2h0m-1-4h0m0-4h0m-1 16h0m-1-3h0m0-14h0m-2 8h0m0 10h0m-1-6h0m0-2h0m0 2h0m-1-10h0m0 8h0m0-10h0m0 10h0m-1-10h0m-1 15h0m-1-11h0m0 8h0m-1 1h0m-1-8h0m0 7h0m-1 2h0m-1-1h0m-2 5h0m0-2h0m-1-16h0m0 4h0m0 10h0m-1-6h0m-1-5h0m0 2h0m-1 3h0m0 4h0m-1 1h0m0 3h0m-1-17h0m-5 19h0m0-9h0m-1 9h0m0-3h0m-1 1h0m0 0h0m-1-2h0m-1-6h0m0 10h0m0-11h0m-2-5h0m0 9h0m0 7h0m0-11h0m0 5h0m-1-10h0m-1 12h0m-1-7h0m-4 9h0m-1-2h0m-2 3h0m-1-4h0m0 3h0m-1-10h0m0 11h0m-2-4h0m-1 0h0m-2 2h0m0 0h0m-3 3h0m-1-3h0m-2-13h0m-2 13h0m-5-4h0m-4 1h0m-5 5h0m0 0h0m-6 1h0m0 0h0m-3-4h0m-5 14h0m1-7h0m2 13h0m1 0h0m6-9h0m2 11h0m2-4h0m1-2h0m2 7h0m0-8h0m0 6h0m2-11h0m0 5h0m1-10h0m0 15h0m0-13h0m0 14h0m0-6h0m1 0h0m2 8h0m2-2h0m0-5h0m1-6h0m1 14h0m0-7h0m1-4h0m0 9h0m1-15h0m0-2h0m1 13h0m1-10h0m1 8h0m0 6h0m1 1h0m0-4h0m1-7h0m0-2h0m0 10h0m0-11h0m1 4h0m2-5h0m0 4h0m0 5h0m1-12h0m2 5h0m0-5h0m1 12h0m0-4h0m2-4h0m1 11h0m0-14h0m1 11h0m0-5h0m2 7h0m1-2h0m0-6h0m1 1h0m1-4h0m0 0h0m1 13h0m0-13h0m0-1h0m2 3h0m0 8h0m1-5h0m3-4h0m0 15h0m0-2h0m0-8h0m1 2h0m0 3h0m0-11h0m2 10h0m1-2h0m1-6h0m0 5h0m0 9h0m1 0h0m1-5h0m1-11h0m1 7h0m1 0h0m0 6h0m0-16h0m1 3h0m0 16h0m2-14h0m1 2h0m0 6h0m1 3h0m0 1h0m2-11h0m0 9h0m2-10h0m0 12h0m1-4h0m0-12h0m0 12h0m2 2h0m0-5h0m1 8h0m0-1h0m1-10h0m1 11h0m0-9h0m2 2h0m2 5h0m0-5h0m0 4h0m1-8h0m0 3h0m2-10h0m2 2h0m1 6h0m1-7h0m1 0h0m0 18h0m1-14h0m2-1h0m0 0h0m0 0h0m1 5h0m0-9h0m0 12h0m4-3h0m1 3h0m1 1h0m0 2h0m1-14h0m0 17h0m0-4h0m0-3h0m1 4h0m0-6h0m0-4h0m1-5h0m1 17h0m2-10h0m1 8h0m1-6h0m1-3h0m0-6h0m1 11h0m0 0h0m0-9h0m0 2h0m0 0h0m1 15h0m0-9h0m1-2h0m0 1h0m0 9h0m1 1h0m1-9h0m0 9h0m0-8h0m1-4h0m0-1h0m0-5h0m0 11h0m1-1h0m0 4h0m1-6h0m0 6h0m1-8h0m3 1h0m0 9h0m0-14h0m1-2h0m1 9h0m0 5h0m1-14h0m0 13h0m0-12h0m1 17h0m2-12h0m2 1h0m2 5h0m1-7h0m1 11h0m0 1h0m0-4h0m1-13h0m0 13h0m0-8h0m2-4h0m0 12h0m1 0h0m0-11h0m1 16h0m0-8h0m0 4h0m1-5h0m1 4h0m0-10h0m0 9h0m0-5h0m0-2h0m1-1h0m0 11h0m1-11h0m2 10h0m0-13h0m1-2h0m3 11h0m0-7h0m0-4h0m0 7h0m1 6h0m0-10h0m1-3h0m2 7h0m1 2h0m0-9h0m1 17h0m2-4h0m0-8h0m0-4h0m1 7h0m1 10h0m0-15h0m0 10h0m0-11h0m2 9h0m1-11h0m2 8h0m2 5h0m2-10h0m1 9h0m0 6h0m1-6h0m1 14h0m-8-5h0m-1 12h0m-1-9h0m-3 5h0m0 4h0m-3-6h0m-1-5h0m-2-1h0m-1 5h0m-1 8h0m0-13h0m-1 12h0m0-6h0m0 7h0m-1-14h0m-1 2h0m0 0h0m0 17h0m-1-1h0m-1-12h0m0 8h0m0-12h0m-1 4h0m-1-1h0m-2-1h0m0 2h0m0 7h0m0-7h0m-1 9h0m-1-7h0m-2-3h0m0 12h0m0-16h0m-2 2h0m0 14h0m-2-9h0m0-4h0m-1 0h0m0 11h0m-2-10h0m-1 5h0m-1-10h0m0 3h0m-1 5h0m0 6h0m-1-7h0m0-2h0m-1-5h0m0 1h0m0 8h0m-2-6h0m0 4h0m-2 9h0m0-7h0m-1-6h0m-1 14h0m-3-5h0m0-7h0m-1-3h0m0 13h0m0-4h0m-1-9h0m0 12h0m0 1h0m0 1h0m0-10h0m-7-5h0m0-1h0m-1 14h0m-1-5h0m-1-9h0m0 10h0m-1 1h0m0-2h0m-2 7h0m-1-14h0m0 6h0m-2 11h0m0-1h0m-3-8h0m0-5h0m-1-1h0m-2-3h0m0 0h0m-2-1h0m-1 14h0m0-4h0m-1-6h0m0 1h0m-2 1h0m0 2h0m0 5h0m0 3h0m-1 2h0m-1-2h0m0-5h0m-1 4h0m0-15h0m-1 14h0m0-13h0m-1 13h0m0-10h0m0-3h0m-1 18h0m-3-17h0m0 14h0m0-11h0m-1 11h0m0-4h0m0-8h0m-1 8h0m0-10h0m0 7h0m-1-7h0m-2-2h0m0 11h0m-1 6h0m0-3h0m0-3h0m-1-7h0m-1 6h0m0 9h0m-1-13h0m-1 6h0m0-2h0m-1-2h0m-1-5h0m0-1h0m-2 9h0m-1-6h0m-1-5h0m0 14h0m-1-5h0m0 3h0m-1 7h0m-1-8h0m0 0h0m0 6h0m-1 0h0m0-14h0m-2 11h0m0 2h0m0 3h0m-2-3h0m0-2h0m-1-12h0m0-1h0m-1 17h0m0-11h0m-1-6h0m-1 4h0m0-4h0m-3 3h0m0 4h0m0 8h0m0-7h0m-1 7h0m0 1h0m-1-6h0m0 3h0m0-9h0m-1 11h0m0 3h0m-1-7h0m0-11h0m-1 0h0m-1 3h0m0 9h0m0 0h0m0-8h0m0 9h0m0-3h0m-1-2h0m0-9h0m0 5h0m-1 6h0m0-5h0m-1 0h0m-1 4h0m0-5h0m-1 14h0m0-15h0m0 14h0m-1-15h0m0 8h0m0 7h0m-1 1h0m0-16h0m-1 10h0m-1-5h0m0-4h0m0-2h0m-1 9h0m-2-8h0m0 12h0m0-9h0m-1-5h0m0 13h0m-1-9h0m0 11h0m0-12h0m-1-1h0m0 8h0m-1 2h0m-3 6h0m0-16h0m-1 9h0m-1-12h0m-1 19h0m0-6h0m-1-1h0m0 0h0m-1-4h0m0-3h0m0 1h0m-2 6h0m0 7h0m0-18h0m-4 2h0m0 12h0m0-6h0m-2 4h0m-1 0h0m0-4h0m0 5h0m-1-11h0m-1 4h0m-1-1h0m0 8h0m0-7h0m-3-1h0m-4 7h0m-1-7h0m-1 10h0m-2-5h0m-1-1h0m-12 12h0m2 2h0m0 6h0m4-2h0m3 6h0m1-5h0m1-9h0m0 12h0m1-3h0m2-1h0m0 1h0m1-1h0m0 0h0m1 10h0m1-15h0m0 12h0m0-14h0m1 17h0m0-14h0m0 15h0m1-7h0m1 1h0m0-6h0m1 11h0m0-8h0m0 2h0m0-12h0m0 0h0m0 11h0m0 4h0m1 1h0m0-4h0m1-5h0m1-7h0m0 12h0m0-2h0m1-5h0m0 6h0m2 7h0m0-6h0m0 2h0m1 5h0m0-13h0m0-5h0m0 16h0m2-17h0m0 9h0m0 2h0m1-2h0m0 6h0m1-8h0m1 4h0m0 5h0m0-15h0m0 12h0m1-11h0m1 6h0m2 8h0m0-4h0m2-10h0m0 15h0m0-5h0m0-8h0m1 4h0m1-8h0m0 17h0m0-11h0m0-5h0m2 18h0m0-18h0m0 7h0m0 9h0m1-15h0m0-2h0m1 6h0m1 6h0m0-6h0m1 5h0m1 4h0m0-3h0m0-7h0m0 10h0m0-14h0m2 6h0m0-4h0m0 0h0m1 14h0m0-10h0m1 0h0m0-6h0m1-1h0m1 4h0m0 9h0m1-7h0m1 1h0m1 8h0m1-2h0m1-2h0m0-2h0m0-6h0m0 12h0m3 2h0m1 1h0m0-3h0m1-6h0m1 6h0m2-5h0m1-9h0m0 12h0m1-7h0m0-4h0m1 13h0m0 4h0m0-6h0m0-9h0m1 8h0m0-3h0m1 5h0m0 5h0m0-16h0m1 15h0m0-8h0m2 1h0m1-8h0m0-3h0m1 5h0m0 1h0m2 0h0m0 5h0m1 1h0m0-5h0m0 12h0m0-3h0m1-1h0m2-7h0m0 9h0m1 0h0m0-1h0m1-3h0m1-2h0m1-3h0m0-5h0m1 9h0m1-10h0m2-1h0m0 6h0m1 0h0m0 7h0m1-5h0m1-2h0m0-7h0m0 1h0m0 1h0m1 0h0m1 0h0m0 2h0m2 15h0m0-18h0m1 15h0m0-5h0m0-2h0m1-2h0m0 2h0m2 6h0m0-6h0m1-7h0m0 12h0m0-4h0m0 5h0m2-12h0m0-1h0m0-2h0m1 1h0m0 17h0m1-4h0m1 3h0m0-2h0m1-12h0m1 16h0m0-5h0m0-7h0m0 8h0m1-2h0m1 2h0m1-3h0m0 4h0m0-7h0m1 3h0m0-11h0m1 6h0m1 8h0m1 0h0m0 3h0m0-14h0m0 9h0m0 4h0m1 0h0m0-7h0m1 5h0m3-4h0m1 3h0m0-6h0m2-6h0m0-2h0m1 14h0m1-6h0m0-4h0m1 10h0m0-8h0m1 3h0m0 9h0m1-10h0m0 10h0m1-2h0m0 0h0m0 3h0m1-12h0m1 6h0m1-6h0m0 3h0m1-5h0m1 7h0m0 5h0m3-10h0m1-5h0m1 13h0m0 4h0m1-10h0m0-4h0m1 2h0m1-3h0m0-2h0m0 8h0m1-6h0m0-4h0m1 10h0m0-10h0m1 10h0m2-8h0m0 1h0m0 12h0m0-10h0m1 2h0m0 6h0m0-6h0m0 9h0m1-10h0m0-3h0m0 10h0m0 1h0m1-5h0m0-6h0m0 6h0m0-1h0m0-1h0m0-6h0m1 3h0m0 0h0m1 3h0m0 6h0m2-9h0m0 0h0m1 5h0m0-5h0m0 15h0m0-12h0m2-6h0m1 2h0m0-2h0m0 9h0m0-1h0m2 3h0m0 5h0m0-8h0m1-9h0m1 12h0m2-12h0m1 7h0m1 1h0m3 8h0m0-12h0m2-3h0m0 4h0m1-3h0m-2 30h0m-9-6h0m0 0h0m-1 4h0m-2-1h0m0-1h0m-3-2h0m-4-3h0m0 6h0m0-1h0m-1-3h0m0 9h0m0-7h0m-1 3h0m-1-3h0m-1 4h0m-1-7h0m0 8h0m-2 6h0m0-13h0m-1 5h0m0 3h0m-2 6h0m0-7h0m0 7h0m0-16h0m0 12h0m0-3h0m-2-10h0m0 0h0m0 1h0m0 14h0m-1-17h0m-1 0h0m0 11h0m-1 6h0m-1-17h0m0 19h0m-1-17h0m-1-2h0m0 1h0m0 6h0m0 12h0m0-8h0m0-8h0m-1-1h0m0-1h0m-1 14h0m-2 0h0m-1 3h0m0-13h0m-1 10h0m0-2h0m0 5h0m0-10h0m-1-2h0m0 5h0m-1 1h0m-2 6h0m-1-2h0m0 0h0m-1 0h0m-2-13h0m-1 16h0m0-1h0m0-3h0m0-7h0m0 10h0m-1-2h0m0-5h0m0 8h0m0-5h0m-1-11h0m-1 1h0m0-1h0m0 7h0m-1-7h0m0 10h0m0 0h0m-1-12h0m-1 10h0m0 1h0m0-2h0m0-3h0m-2-7h0m0 4h0m0-4h0m0 3h0m-1 15h0m-1 0h0m0-18h0m-1 5h0m0 12h0m0-2h0m-1-13h0m0 12h0m-2 5h0m-2-2h0m-1-14h0m-1 9h0m-2-2h0m-2 1h0m0 2h0m-1 2h0m-1-11h0m0-3h0m-1 6h0m-1-2h0m0-3h0m0 8h0m-1 7h0m-2-11h0m0 12h0m0 0h0m0-18h0m-1 0h0m0 10h0m-2-6h0m0 7h0m0-1h0m0 9h0m-1-6h0m-1-5h0m-3 7h0m0 3h0m0-12h0m-1 3h0m0-8h0m-2 16h0m0-17h0m0 13h0m0-12h0m0-1h0m-1 18h0m-2-12h0m-1-1h0m0 3h0m-3-2h0m-1 5h0m-2-11h0m0 15h0m-1-10h0m-1 14h0m-1-18h0m0 15h0m0-9h0m-1-2h0m0-2h0m0-2h0m-1 10h0m0-9h0m0 8h0m-1 2h0m-1 3h0m-2-4h0m0 1h0m-1 4h0m0-15h0m0 17h0m0-11h0m-1 0h0m0-6h0m0 6h0m0-1h0m0 0h0m-1 1h0m0 8h0m0-3h0m0-5h0m-3-6h0m0 10h0m0-10h0m-1 7h0m0 8h0m0-8h0m0 9h0m0-9h0m-1 8h0m0-3h0m0-11h0m-1 7h0m-1 1h0m0-5h0m0 7h0m0 4h0m-2-10h0m0-3h0m-1 0h0m0 8h0m-1-8h0m0 14h0m0-7h0m0-5h0m-1 6h0m0 0h0m-1-1h0m0-6h0m-2 8h0m0-11h0m0 0h0m-2 0h0m0 2h0m-1 15h0m0-11h0m0-6h0m0 7h0m-1 8h0m-1-8h0m-1-6h0m0 1h0m-1 13h0m0-6h0m-1 8h0m0-5h0m-1-12h0m0-1h0m0 19h0m-1-4h0m0 3h0m-1-7h0m0-10h0m-2 10h0m0 0h0m-1 3h0m-1-1h0m-1 2h0m-1-6h0m-1 10h0m0-2h0m-1-5h0m-2-6h0m0 5h0m-2 1h0m0 2h0m0-8h0m-1 2h0m-2-4h0m0 11h0m0 1h0m-1-8h0m0-2h0m0-1h0m-2-2h0m-1 7h0m0-8h0m0 1h0m0 14h0m0-5h0m-1-6h0m-2-5h0m-2 14h0m0-10h0m-6 2h0m-1 2h0m-4-4h0m4 19h0m4-3h0m2 2h0m4 3h0m0 6h0m2 5h0m2-17h0m3 11h0m1 0h0m1 7h0m0-1h0m2-11h0m2 5h0m0 1h0m0-1h0m1-1h0m0 9h0m0-6h0m0 2h0m1-10h0m0 0h0m1 13h0m0-3h0m0-11h0m1 12h0m0-11h0m1-2h0m0 1h0m2 15h0m0-16h0m0 10h0m1-11h0m0 7h0m0 8h0m1 2h0m0-18h0m1 6h0m0-6h0m1 11h0m1-7h0m0 7h0m1-2h0m1 3h0m0-2h0m1 6h0m0 2h0m0-10h0m3 8h0m0-15h0m0-1h0m1 1h0m0 8h0m0-7h0m0-3h0m0 14h0m0 5h0m0-19h0m1 11h0m1-2h0m0 1h0m1 0h0m0-1h0m0 4h0m0-7h0m1-2h0m0-1h0m0 7h0m1-2h0m0-2h0m0-3h0m3 4h0m0 10h0m0-9h0m1 6h0m0-12h0m1 5h0m2 11h0m1-8h0m0 1h0m1 6h0m0 2h0m0-2h0m0-9h0m0 10h0m0-12h0m1 9h0m0-3h0m2-6h0m0 11h0m0 1h0m1-11h0m0 0h0m0 3h0m2 8h0m0-8h0m0 0h0m0 6h0m0-6h0m1-9h0m0 11h0m0 4h0m0 3h0m2-15h0m1 7h0m0-10h0m1 1h0m1 13h0m1 2h0m1-6h0m3 4h0m1 0h0m1-4h0m1 5h0m0-7h0m1 1h0m1 0h0m1-6h0m1 0h0m0-3h0m1 2h0m0 15h0m0-1h0m1-15h0m0-2h0m0 15h0m0-14h0m0 5h0m1 1h0m1-5h0m0 9h0m1-10h0m0 5h0m0-6h0m0 16h0m1-10h0m0 1h0m0 2h0m1-1h0m0 11h0m1-16h0m0 7h0m1-1h0m0-7h0m0 4h0m1 1h0m0-7h0m2 2h0m1 2h0m0 1h0m1 8h0m1-9h0m0 14h0m1-7h0m0-8h0m0 3h0m1 0h0m0 7h0m1-13h0m0 18h0m1 0h0m1-7h0m2 8h0m0-9h0m0-9h0m0 8h0m1-3h0m0 4h0m0 5h0m1-9h0m0 0h0m1 5h0m0-1h0m0-2h0m2 7h0m1-7h0m2-8h0m1 4h0m0 15h0m0-10h0m0 2h0m0 1h0m1-3h0m0-1h0m1 6h0m2 0h0m0-2h0m1-11h0m0-1h0m0 5h0m0 13h0m1-3h0m0-7h0m0-1h0m1 4h0m1 8h0m1-17h0m0 9h0m0 2h0m1-8h0m0 14h0m0-9h0m1-8h0m1 4h0m0 10h0m0 2h0m1-18h0m0 18h0m1-18h0m0 15h0m1-12h0m0 1h0m0-1h0m1 12h0m0-8h0m0 5h0m4-12h0m1 2h0m1 1h0m0 11h0m1 3h0m1-7h0m0 2h0m0-12h0m1 8h0m1 6h0m0-10h0m0-1h0m0 3h0m1 6h0m0 0h0m0-9h0m1 5h0m1 2h0m1-6h0m0 9h0m1 5h0m1-9h0m1-3h0m0 1h0m1 0h0m1 1h0m0-5h0m8 12h0m0-7h0m8 16h0m-13 2h0m-4-5h0m0 9h0m-1 0h0m-1-8h0m-3 12h0m-1-12h0m0 9h0m-1-11h0m0 14h0m0 1h0m-2-7h0m-1-2h0m0 12h0m0-5h0m-1 4h0m0-17h0m-2 15h0m-1 4h0m0-19h0m-2 13h0m0-6h0m0 6h0m-1 6h0m0 0h0m-1-14h0m0 1h0m-2-5h0m0 0h0m-1 13h0m0-1h0m-1-10h0m0 14h0m-3-5h0m-1-1h0m0-3h0m0 1h0m-2 4h0m-2 0h0m0-5h0m0 1h0m-4-2h0m0 6h0m0-1h0m-1-9h0m-4-1h0m-1 2h0m0-1h0m0 15h0m-1-17h0m0 18h0m-1-4h0m0-1h0m-1-14h0m0 9h0m-2 3h0m-2-10h0m-1-1h0m0 11h0m-1 7h0m0-11h0m-1 6h0m0-7h0m0 7h0m0-14h0m-1 18h0m0-15h0m-1 8h0m-2 4h0m-1 2h0m-2-10h0m-1-1h0m0-2h0m-1 0h0m-1 8h0m0-12h0m0 14h0m-1-9h0m-2 6h0m0 0h0m0 1h0m0-1h0m-1 3h0m-2-5h0m0-4h0m0 8h0m0 2h0m0-15h0m-1 14h0m-1 1h0m-1 2h0m0-5h0m-1 3h0m-1 4h0m0-10h0m0-9h0m-1 19h0m0-7h0m-1 5h0m-2-1h0m-1 0h0m-1 1h0m-1-17h0m0 4h0m0 9h0m-1-8h0m0 0h0m-1 9h0m-1-4h0m-1 9h0m0-6h0m0-4h0m-2 8h0m-1-10h0m0-7h0m-1 14h0m0 4h0m-1-14h0m-1 12h0m0-9h0m0 10h0m0-12h0m-1 0h0m0-2h0m0 4h0m0 2h0m-1 8h0m-1-1h0m-1 3h0m0-11h0m0-1h0m-1-5h0m0 7h0m0-4h0m-1 9h0m0-12h0m0 4h0m-2-1h0m0 14h0m0-7h0m-1-11h0m0 15h0m-1-13h0m0-2h0m-1 7h0m-1-6h0m0 2h0m0 11h0m0 0h0m-1 4h0m0-10h0m0 5h0m-1-3h0m0-10h0m-1 4h0m-1 14h0m0-1h0m0-10h0m-1 10h0m0 1h0m0-17h0m-1 4h0m-1-5h0m0 0h0m-1 17h0m0-16h0m-1 12h0m-1-12h0m-1 1h0m0 16h0m0-7h0m-1-5h0m0 6h0m-1-12h0m0 1h0m-1 14h0m-1-10h0m-1 11h0m-1-6h0m0 4h0m-1-9h0m0-1h0m0 6h0m-1-11h0m-1 16h0m-1-12h0m-1 12h0m0-5h0m0-1h0m-1 3h0m-2 3h0m0-13h0m-1 14h0m0-17h0m0 5h0m0-2h0m-1 0h0m0 16h0m-4-2h0m-1-13h0m-1-3h0m-1 1h0m0-2h0m-1 3h0m-7 1h0m-1 15h0m11 20h0m2-15h0m4 10h0m0-9h0m2 10h0m1 2h0m3-12h0m2 0h0m1 0h0m2 4h0m1-2h0m0-1h0m0-4h0m1-1h0m1 17h0m0-18h0m0 9h0m1-8h0m0 3h0m1 14h0m2-9h0m0-7h0m0 16h0m0-4h0m1-12h0m1 5h0m0 4h0m1 7h0m0-17h0m1 2h0m1 0h0m0 7h0m1-10h0m1 6h0m1-5h0m0 7h0m0 9h0m1 2h0m0-6h0m0 4h0m0-14h0m0 4h0m1 3h0m0-4h0m2 7h0m1-3h0m0-1h0m2 6h0m0-11h0m0 13h0m1-3h0m0-13h0m0 5h0m1 11h0m0-9h0m0 1h0m2-8h0m1 3h0m0 4h0m0 5h0m1-7h0m0 9h0m1-8h0m0 0h0m0 4h0m2-3h0m0 3h0m1 7h0m0-6h0m2 3h0m0-15h0m0 10h0m0 0h0m2 0h0m1-5h0m3 6h0m0-11h0m1 9h0m1 0h0m0-1h0m1-8h0m0 7h0m1-3h0m1 8h0m1 6h0m2-2h0m1-7h0m1 5h0m0-4h0m0 5h0m1-4h0m0 6h0m0-5h0m1-1h0m0-8h0m0 3h0m0 0h0m1 4h0m1 1h0m1-9h0m0 6h0m1 5h0m1-6h0m1 12h0m0-3h0m1-16h0m0 10h0m0 3h0m2-5h0m0 6h0m1-3h0m0 4h0m0-10h0m2 3h0m0 2h0m2 5h0m0-10h0m0 8h0m1-3h0m1 3h0m0 0h0m0-7h0m1-5h0m1 13h0m0-5h0m1 3h0m0-10h0m1 17h0m0-17h0m0 6h0m0 10h0m4-2h0m0-8h0m0-7h0m2 8h0m3 4h0m0-7h0m0-2h0m0-2h0m1 14h0m0 0h0m1 3h0m0 0h0m0-7h0m1-9h0m0 1h0m1 10h0m0-11h0m1 0h0m0 11h0m0-5h0m0 0h0m0 1h0m1 6h0m1 2h0m1-8h0m1 6h0m2-7h0m0 7h0m1-16h0m0 5h0m2-2h0m0 2h0m2-4h0m2 11h0m0 1h0m1-9h0m1-3h0m0 11h0m1-12h0m0 4h0m1-1h0m0 15h0m1-16h0m0 6h0m2 0h0m1 11h0m0-16h0m2 14h0m2-11h0m2 3h0m3-6h0m1 14h0m2-13h0m0 0h0m-4 33h0m-1-10h0m-4 9h0m0-8h0m-1 9h0m-3-4h0m-1 2h0m-3-4h0m-1-4h0m0 11h0m-1-9h0m-1-1h0m-1 9h0m-1-8h0m-1 7h0m-1-13h0m0 15h0m0-18h0m0 8h0m-4-7h0m0-1h0m0 7h0m-1 1h0m-1-3h0m0 11h0m-1 2h0m0-3h0m-1 0h0m0-2h0m-1-9h0m0-4h0m0 15h0m-1-6h0m0-2h0m0 11h0m0-10h0m-1 5h0m0 5h0m-1 1h0m0 0h0m0-3h0m-1 1h0m0-17h0m-1 10h0m-1-3h0m0 6h0m-1 5h0m0-10h0m-2-8h0m0 9h0m-1 0h0m0-8h0m-1 12h0m0-8h0m-1-2h0m0-2h0m0 15h0m-3-15h0m0 17h0m-2 0h0m-1-5h0m0-12h0m0 9h0m0-2h0m-2-1h0m-1-7h0m0 7h0m0 8h0m-2-13h0m0 1h0m0 0h0m0 14h0m-3 1h0m0-18h0m0 9h0m-1 2h0m-2-7h0m-2 14h0m0-14h0m0 10h0m-2 0h0m0-11h0m-1-1h0m0 5h0m0-7h0m-1 4h0m0 6h0m0 0h0m0 1h0m-1-2h0m0-9h0m-2 18h0m0-3h0m0-11h0m-1 9h0m0 4h0m-1-13h0m0-2h0m0 5h0m-1-3h0m0 11h0m-1-10h0m-1 7h0m-2-10h0m0 15h0m-1 1h0m0-18h0m-1 18h0m-3-18h0m0 9h0m0 4h0m-1 3h0m-1-4h0m-1-7h0m0 3h0m0 5h0m-2-4h0m0-8h0m0 17h0m0-18h0m-1 6h0m-1 11h0m-1-8h0m-1-5h0m0-3h0m-1-1h0m-1 4h0m-1 0h0m0 11h0m0-7h0m-2 9h0m-1-12h0m-1 3h0m0 2h0m-2 7h0m0-12h0m-1 6h0m0-10h0m-1-1h0m0 2h0m-1-2h0m0 0h0m-1 7h0m0-2h0m0 4h0m-2-5h0m0-2h0m0 6h0m-1-1h0m-1 3h0m0-4h0m-3 1h0m0 7h0m0-8h0m0 8h0m-3-6h0m-6 0h0m-4 1h0m22 17h0m1-4h0m5 3h0m2-5h0m2 4h0m2-3h0m1 1h0m2-2h0m0 17h0m0-10h0m2-3h0m0-1h0m0 2h0m0-4h0m1 6h0m1 6h0m1-8h0m0 8h0m1-3h0m1 2h0m1-6h0m0 9h0m1-13h0m1 0h0m0-1h0m0 1h0m0 5h0m1 2h0m0-2h0m1-3h0m1 4h0m1 1h0m0 8h0m0-9h0m0 10h0m1-13h0m0-4h0m2 6h0m3 3h0m0 1h0m0 0h0m1-1h0m0-8h0m1 4h0m1-3h0m0-2h0m3 6h0m0 11h0m1-4h0m0 0h0m1 5h0m1-2h0m1 1h0m0-5h0m0-7h0m1 11h0m0-8h0m1 4h0m1-2h0m0-10h0m0 12h0m1-10h0m0-1h0m2 2h0m1 7h0m0 5h0m0-14h0m1 6h0m1-4h0m0-1h0m1 2h0m1-3h0m0 8h0m2-2h0m0-8h0m0 18h0m0-12h0m1-6h0m0 3h0m1-1h0m0 14h0m0 0h0m0-16h0m1 11h0m0-10h0m1 11h0m1-1h0m0-4h0m0 1h0m3 3h0m0-9h0m1 2h0m0 4h0m0-5h0m0 7h0m1-6h0m0 11h0m0-14h0m0 2h0m2 11h0m1-6h0m1 1h0m0 9h0m1-10h0m0 9h0m1 1h0m1-1h0m0 2h0m2-11h0m0 3h0m1-1h0m1 2h0m1 7h0m0-13h0m0-5h0m1 3h0m0-2h0m0 5h0m2 5h0m1-8h0m2-1h0m0 11h0m2-13h0m1 9h0m3-8h0m5 1h0m-4 17h0m-14 5h0m0 9h0m-2-10h0m-2 12h0m-1-12h0m0-1h0m-1 10h0m0-11h0m-1 6h0m-1 11h0m-1-5h0m0-3h0m-1-10h0m-1 15h0m-3-9h0m-1-1h0m-1-5h0m-2-1h0m-1 6h0m0 5h0m-2-2h0m-7-5h0m-1-3h0m-3-1h0m-1 2h0m24 20h0m13 4h0" stroke="#8c564b" stroke-width="3" stroke-linecap="round" fill="none"/>
<path transform="scale(0.5)" d="M1161 95h0m4-3h0m1 6h0m2-1h0m3-5h0m3 6h0m3-6h0m3 3h0m0-5h0m1 7h0m1-5h0m0-1h0m4 7h0m3-9h0m3 9h0m2-3h0m0 0h0m1 4h0m1-3h0m4 1h0m1-8h0m1 6h0m1-2h0m4-7h0m9 12h0m2-5h0m4 4h0m20 21h0m-7-2h0m0-12h0m-1 0h0m-1 6h0m0 5h0m-6 0h0m-1-14h0m-1 12h0m-2-11h0m-2 9h0m-1-5h0m-1 11h0m-1-11h0m-2-4h0m-2 13h0m-1-6h0m0-7h0m0 12h0m-1-7h0m-1 10h0m-2-14h0m-1 9h0m-6-11h0m0 12h0m-1-5h0m-1 11h0m-1-10h0m0 10h0m-1-13h0m0-5h0m-1 0h0m0-1h0m-1 19h0m-2-11h0m0 4h0m-1-1h0m0-6h0m0 4h0m-2-8h0m-1 11h0m-3-3h0m0 6h0m-1-8h0m-2 0h0m-1-4h0m-1 15h0m-1-8h0m0-6h0m0 9h0m0 4h0m-1-13h0m0 12h0m0-7h0m-2 3h0m-2 3h0m-1-11h0m0-4h0m-3 13h0m-1 2h0m-1-14h0m0 0h0m-2 4h0m-3-2h0m0 15h0m0-1h0m-1-15h0m0 11h0m-1-5h0m-1 8h0m-2-15h0m-3 18h0m-2-10h0m-6 5h0m-3 4h0m-1 0h0m-1-2h0m-27 22h0m11-6h0m0 4h0m1-7h0m0 10h0m4-17h0m0-2h0m0 15h0m1 1h0m0 0h0m1 0h0m1-5h0m1 5h0m1-12h0m3-1h0m0 14h0m0-2h0m0 2h0m0-17h0m4 5h0m0-3h0m1 1h0m0 11h0m0 1h0m2-2h0m0-9h0m2 0h0m0 15h0m0-1h0m0-8h0m1-2h0m3 11h0m1-18h0m1 13h0m1 0h0m0-13h0m3 16h0m0-15h0m2-1h0m0 18h0m1-18h0m1 18h0m0-19h0m3 13h0m0 0h0m0 1h0m1 0h0m1-14h0m0 4h0m1 12h0m0 3h0m1-12h0m0 3h0m0 4h0m1-1h0m0-9h0m3 12h0m0 2h0m3-5h0m0-5h0m0 9h0m1-15h0m0 3h0m2-3h0m1 8h0m1 9h0m1-8h0m0 0h0m0-9h0m0-1h0m0 5h0m1 7h0m3-10h0m1 11h0m1-1h0m0-1h0m0 7h0m0-11h0m0-8h0m1 2h0m1 11h0m0 6h0m1-12h0m1 6h0m0-3h0m3 7h0m0-12h0m2 13h0m1-12h0m0-6h0m1 10h0m0-1h0m0-9h0m1 14h0m2-5h0m1-1h0m2 6h0m0-2h0m0-7h0m1 1h0m2 1h0m0 0h0m1 8h0m0-7h0m1-8h0m1 0h0m2 17h0m0-8h0m1 1h0m0 5h0m1 0h0m0-9h0m1 8h0m4-6h0m0 9h0m4-6h0m0 8h0m0-8h0m2 5h0m3 0h0m0-4h0m1-10h0m2 0h0m1 4h0m0 4h0m2 7h0m3 0h0m1-14h0m1 10h0m1 2h0m8-6h0m4 8h0m0-7h0m2 7h0m14 9h0m-2 10h0m0-8h0m-7 9h0m-2-11h0m-2 8h0m-1 4h0m-1-15h0m-2 7h0m-1-2h0m-2 8h0m0-6h0m0 9h0m-1-14h0m-1 11h0m0-2h0m0-10h0m-1-2h0m-2 7h0m-1 3h0m-3 2h0m-1-3h0m0-6h0m0 1h0m-1 12h0m-1-10h0m0-6h0m-1 12h0m0-7h0m-3 7h0m-1-11h0m0 16h0m-1-3h0m-3-2h0m0 5h0m-1-13h0m0 5h0m-1-1h0m0 0h0m0-1h0m-1 1h0m-1-10h0m-1 9h0m0 3h0m-2-9h0m-4 6h0m0-8h0m-1 5h0m0 6h0m-1 4h0m0-5h0m0 6h0m-1-15h0m0 1h0m0 11h0m-1-3h0m-1-4h0m-2 10h0m0-5h0m-1 1h0m0-8h0m0 14h0m0-6h0m0 5h0m-4-10h0m0-2h0m-1 0h0m-1-5h0m-2 9h0m-2 1h0m0 2h0m-2-8h0m0 3h0m-2 5h0m-2-3h0m0-6h0m-1 7h0m-1-1h0m0-7h0m-1 4h0m0 7h0m-1-2h0m-1-12h0m-1 17h0m-1-8h0m-2 10h0m-2 0h0m0-17h0m-1-2h0m0 16h0m-1-2h0m0 2h0m-3-3h0m-1-7h0m-3-3h0m-2 0h0m0-3h0m-1 9h0m0 5h0m-1 0h0m-3 0h0m-1-2h0m0 3h0m0 0h0m-1-14h0m0 12h0m0 2h0m-1-9h0m0 3h0m0-8h0m-1 2h0m-1 11h0m-3-14h0m-1 0h0m-2 8h0m0-3h0m-4 11h0m0-7h0m0-9h0m0 18h0m-2-5h0m-1 3h0m0-3h0m-1-6h0m0-7h0m0 15h0m0-13h0m-2 15h0m-1 2h0m-1-8h0m-1-9h0m-1 12h0m-2-5h0m-2 7h0m0-13h0m-2 9h0m0 0h0m-2-11h0m-1 2h0m0 7h0m-3 6h0m0-3h0m-2-7h0m-2-2h0m0 4h0m-1 3h0m-3-7h0m-1 0h0m-3 8h0m-1 5h0m-2-7h0m-2 0h0m-2 5h0m-1 4h0m-3 9h0m5 11h0m4-10h0m0-5h0m2 12h0m1-1h0m2-9h0m4-3h0m0 5h0m0 1h0m1 5h0m2 3h0m0-1h0m1-5h0m1-1h0m0-7h0m3 4h0m0-5h0m0 7h0m0-4h0m0 6h0m3 6h0m0-14h0m0 14h0m1-7h0m0 2h0m1 5h0m0-10h0m1 1h0m3 8h0m0-6h0m1 1h0m1 6h0m4-12h0m0 0h0m0 1h0m1 0h0m2 13h0m0-7h0m1-6h0m0 4h0m0 4h0m1 1h0m1 3h0m0-6h0m0-1h0m1-9h0m2 6h0m0 7h0m0-9h0m1-3h0m2 0h0m1 13h0m1 0h0m1 2h0m3-8h0m2 4h0m0-10h0m1-3h0m1 2h0m1 15h0m1-11h0m2 9h0m1-13h0m0 0h0m0 13h0m0 0h0m1-5h0m0 7h0m1-11h0m0 11h0m1-17h0m5 6h0m2-4h0m1 4h0m0 6h0m1-1h0m0-3h0m1-1h0m1-3h0m0 7h0m1-1h0m0-8h0m1 14h0m0 2h0m0-3h0m1-2h0m2 1h0m0-7h0m2-3h0m0 3h0m1-6h0m2 4h0m0-1h0m4-4h0m2-1h0m2 4h0m0-1h0m1 13h0m0-15h0m1 7h0m1 5h0m1-6h0m0 2h0m2-2h0m2-1h0m0 13h0m1-18h0m2 13h0m0-6h0m1-7h0m0 13h0m1-13h0m1 5h0m1-2h0m0 1h0m0-2h0m1-1h0m2 17h0m0-12h0m0-3h0m0-1h0m1 0h0m0 3h0m3-5h0m0 13h0m2-6h0m0 5h0m0-3h0m1 3h0m1-4h0m2-7h0m0 13h0m0-9h0m0-5h0m1 10h0m0 8h0m2-17h0m1 10h0m0 2h0m1-4h0m0 8h0m1-6h0m2-11h0m2 2h0m1 7h0m2 0h0m0 8h0m1-9h0m0 10h0m1-1h0m1-4h0m1-10h0m3 15h0m0-10h0m1 1h0m0-4h0m1 2h0m3 5h0m1 0h0m2 0h0m1-4h0m1-5h0m3 8h0m5-8h0m9 4h0m-6 27h0m-2-1h0m-1-7h0m-8 12h0m-3-13h0m-1 3h0m-1 0h0m-1-1h0m-1 5h0m-1-4h0m0 8h0m-1-16h0m-1 14h0m0-12h0m0 8h0m-1-6h0m0 0h0m0 10h0m0-1h0m-1-4h0m-1-9h0m0 4h0m-2 6h0m-1-7h0m-1-1h0m-3 15h0m-1-13h0m-1 1h0m-2 7h0m-1-12h0m-1 16h0m0-5h0m0-4h0m-1 3h0m-1-3h0m-1-6h0m-2 0h0m-1 4h0m0 6h0m-1-8h0m0 0h0m0 11h0m-1 3h0m-2 0h0m-1-15h0m0 15h0m-1-5h0m0-9h0m-1 10h0m-3-3h0m-1-10h0m-1 16h0m0-9h0m-1 2h0m-2 7h0m-1-15h0m-1 3h0m0 4h0m0-7h0m-1 1h0m0 5h0m-1 8h0m0 1h0m-1-15h0m-2 11h0m-1-3h0m-1-10h0m0 11h0m-1 5h0m-1-11h0m-1 8h0m-1 1h0m-1-9h0m-1-2h0m0 12h0m0 3h0m-2-9h0m-3 4h0m-1 5h0m-1-8h0m-1-1h0m0 0h0m-1 10h0m-1-9h0m0 1h0m0-11h0m-2 15h0m-1-3h0m-1-6h0m-1-6h0m0 3h0m-1-1h0m0-1h0m-3 6h0m-2 8h0m-1 4h0m0-13h0m-1 11h0m0-9h0m-1-2h0m0-3h0m-1-1h0m-1 7h0m0-4h0m0 4h0m-1 6h0m0-13h0m-1 6h0m-2 5h0m-1 0h0m0-2h0m0 2h0m-1 1h0m0-8h0m-1 6h0m0 6h0m-2-9h0m-1-2h0m0-5h0m-1 8h0m-2-10h0m-1 4h0m-1 3h0m-1 7h0m0-4h0m0-2h0m-1-4h0m0-2h0m0 11h0m-2-11h0m-1 15h0m-1-8h0m-3 9h0m-1-9h0m0-8h0m-2 18h0m0 0h0m-2-11h0m-2-7h0m0 13h0m-1-13h0m0 15h0m-1-1h0m-3-8h0m0 3h0m-3 2h0m-1-10h0m0 15h0m-1 1h0m-1-13h0m-2 10h0m-1-11h0m0-2h0m0 11h0m0-2h0m-1 5h0m0-13h0m-1 8h0m0 5h0m-2-16h0m0 17h0m0 0h0m0-14h0m-1-2h0m0 11h0m-4-4h0m-2 5h0m0-11h0m-3 11h0m-1-6h0m0 9h0m-1-5h0m0-4h0m0 4h0m-3-1h0m-1 1h0m0 6h0m-1-10h0m0 7h0m-1-13h0m-2 9h0m0 2h0m-1-3h0m0 10h0m-1-14h0m0 6h0m-7-9h0m-7 12h0m-9 18h0m15-5h0m1-5h0m1 8h0m1-8h0m1 9h0m1 1h0m2-8h0m0-2h0m1 14h0m1-8h0m1-4h0m1-3h0m1 9h0m1-2h0m1-5h0m0 9h0m0-7h0m1-5h0m0 11h0m1-1h0m0 9h0m1-18h0m0 10h0m0-10h0m1 15h0m1-15h0m1 0h0m0 5h0m1-4h0m0 10h0m1 0h0m0-10h0m0 10h0m3-1h0m1 2h0m1 0h0m0 4h0m2 1h0m0-9h0m1-4h0m0-3h0m2 1h0m2 10h0m1-1h0m0 3h0m1-5h0m1-5h0m0 2h0m1-1h0m1 13h0m0-15h0m1 4h0m2 8h0m0-12h0m2 7h0m1 7h0m2 1h0m1 0h0m2-13h0m0 11h0m1 1h0m0-7h0m0-8h0m0 12h0m1 2h0m2 2h0m0-17h0m1 12h0m2-14h0m1 13h0m0 4h0m0-8h0m1 6h0m2-5h0m0-7h0m0 5h0m1 5h0m0-9h0m1 3h0m0-1h0m1-6h0m0 14h0m1-4h0m3 1h0m0 3h0m1-13h0m1 14h0m0-10h0m1 14h0m0-2h0m3-1h0m0-7h0m1-9h0m1 4h0m1 4h0m0 10h0m2-5h0m1 2h0m1 2h0m0-2h0m0 2h0m1 0h0m2 0h0m2-7h0m0-2h0m2-7h0m1 17h0m2-12h0m2 10h0m0-9h0m1 3h0m1 3h0m0-13h0m1 2h0m0 1h0m1 9h0m0-2h0m3-2h0m1-3h0m0-2h0m0 2h0m2 12h0m1 1h0m1-5h0m1-12h0m2 5h0m0-4h0m0 15h0m3-9h0m0 10h0m3-9h0m1 3h0m0-6h0m0 2h0m1 2h0m1-7h0m2 1h0m0 11h0m1 0h0m1-7h0m0 6h0m2-9h0m0 9h0m3 5h0m1-19h0m1 13h0m1-5h0m0 11h0m1-17h0m1 0h0m1 2h0m1 3h0m0-5h0m0 0h0m2 6h0m1 8h0m2-5h0m1 2h0m0-5h0m2 3h0m0 3h0m1-12h0m1 10h0m0-8h0m0 11h0m0 4h0m2-16h0m0 10h0m0-2h0m2-11h0m0 14h0m1-11h0m4 1h0m0-2h0m1 3h0m0 12h0m1-14h0m0 0h0m0 15h0m2-16h0m2 4h0m0 12h0m0 0h0m0-16h0m1 14h0m0 3h0m1-1h0m1-10h0m1 7h0m0-12h0m1 13h0m0 3h0m1-7h0m1-3h0m3-9h0m0 18h0m1-8h0m2-9h0m1 8h0m1 1h0m1-3h0m0-2h0m1-2h0m2 14h0m0-17h0m1 2h0m0-1h0m0 8h0m0-6h0m10 1h0m2-3h0m3 13h0m6-13h0m3 10h0m0 22h0m-5-8h0m-4 0h0m-1-3h0m0 15h0m-2-8h0m0-9h0m-1 11h0m0 5h0m0-14h0m-1 17h0m-1-14h0m0 8h0m0-9h0m0 4h0m-2-3h0m-1 13h0m0-4h0m-1-3h0m-1 2h0m-2-11h0m-1 13h0m0-12h0m-1 13h0m0-5h0m-1-5h0m0-6h0m0 18h0m0-2h0m-1-10h0m0 8h0m-2-12h0m-1 14h0m0-5h0m-1 1h0m-1 5h0m0-16h0m0 4h0m0 6h0m-2 1h0m-1-12h0m-1 1h0m0 10h0m-2-7h0m0 0h0m-3 12h0m0 2h0m-3-8h0m0-1h0m-1 1h0m-1-8h0m0 17h0m-1-6h0m0 5h0m-1-18h0m-3 3h0m-4 0h0m0 8h0m-2 5h0m0 3h0m-2-17h0m0 9h0m-1-5h0m0 11h0m-7-14h0m0 5h0m-1 9h0m-2-1h0m0 2h0m0-12h0m0 10h0m-1-12h0m-2 10h0m0-4h0m-1 0h0m0-4h0m-3-6h0m-1 16h0m-1-11h0m0 3h0m0 9h0m0-6h0m-1-8h0m0 7h0m-1-3h0m-1 10h0m0-12h0m-1 5h0m0 0h0m-1-2h0m-1-2h0m0-2h0m-1 0h0m-2 3h0m0-1h0m-2-2h0m-1-3h0m-1 12h0m-1 6h0m0-2h0m-1-1h0m0-14h0m-3 0h0m-1 7h0m-1 2h0m-1 8h0m-1-12h0m0 12h0m-1-19h0m0 5h0m-1 10h0m0-12h0m0 6h0m-1-5h0m-3 7h0m-1 8h0m0-18h0m0 17h0m0-17h0m-1 2h0m-1-1h0m-1 7h0m-3 3h0m0 0h0m-1-2h0m-1 9h0m-1-12h0m-1 0h0m-2 9h0m0-16h0m-1 15h0m0-14h0m0-1h0m0 15h0m-1-6h0m0-5h0m-1-3h0m-1 11h0m0-1h0m-1 5h0m-1 1h0m0-7h0m-1 2h0m-1-12h0m-1 1h0m0 11h0m-2-9h0m-1 14h0m-2-9h0m-2 9h0m-1-1h0m-1 3h0m0-18h0m0 0h0m0 16h0m-1-16h0m-2 10h0m0-10h0m-1 15h0m-1-14h0m-1-1h0m-1 5h0m0-3h0m-1-3h0m0 16h0m-2-4h0m-1-1h0m0-5h0m0-1h0m0 2h0m-3-1h0m-3 13h0m0-19h0m-2 15h0m-1-13h0m0 0h0m-1 7h0m-1 0h0m0 6h0m-2 1h0m0 0h0m-1-5h0m0 7h0m-2-16h0m-1 3h0m-1 9h0m-1-13h0m0 10h0m-1 2h0m-4-11h0m0-2h0m0 19h0m-1-9h0m0 2h0m-1-7h0m-1 5h0m-1-1h0m0 8h0m0-1h0m0-10h0m-1 3h0m-1-7h0m-2 13h0m-1-3h0m0 3h0m0-2h0m-1-8h0m-2 11h0m-1 2h0m-1-18h0m0 10h0m-3-7h0m0 4h0m-1 10h0m-2-7h0m-3-3h0m0-6h0m0 1h0m-2 10h0m-1-10h0m0 6h0m-1 2h0m-1 0h0m-2 0h0m-1 1h0m-1 8h0m-1-15h0m-1 7h0m-1 5h0m-1-11h0m0 3h0m-2 4h0m0-3h0m-1 7h0m0-3h0m-1 1h0m0-14h0m-1 10h0m-4-4h0m-1 7h0m-5 16h0m1-6h0m2 15h0m3-6h0m2-10h0m1 15h0m4 1h0m2-13h0m0 7h0m5-7h0m0 0h0m0 10h0m1-10h0m2 11h0m1 0h0m1-8h0m1 8h0m0-15h0m1 6h0m1 10h0m1-4h0m0-9h0m1 9h0m0-13h0m0 9h0m1-6h0m0-1h0m1 16h0m0-11h0m1-4h0m0 4h0m0 10h0m0-1h0m1-15h0m0 13h0m4-11h0m1 12h0m2 0h0m1-4h0m1-8h0m0 15h0m2-4h0m0-9h0m1 9h0m0-10h0m1 9h0m1-1h0m0-5h0m1-5h0m1 6h0m0 2h0m0-6h0m0 15h0m0-11h0m2-7h0m0 1h0m3 16h0m3-13h0m0 8h0m1-12h0m1 12h0m1-6h0m1 1h0m1 9h0m0 2h0m1-14h0m0-4h0m0 4h0m3 3h0m0 6h0m1-1h0m1-10h0m2 9h0m2 3h0m0-2h0m2-10h0m1 4h0m1-2h0m1 12h0m1-8h0m0-9h0m2 5h0m0 11h0m1-3h0m0-9h0m1-3h0m2 3h0m1 4h0m0 9h0m1 2h0m0-19h0m2 11h0m0-3h0m2 4h0m2-4h0m2 5h0m1-4h0m2 5h0m2-11h0m1 10h0m1-10h0m0-2h0m0-1h0m1 18h0m2-5h0m1-11h0m0-2h0m0 17h0m1-9h0m0 9h0m0 2h0m1-6h0m0-2h0m0-5h0m1 6h0m1-9h0m1 9h0m1 6h0m2-1h0m3-3h0m0-13h0m1 9h0m1-2h0m0-1h0m1 3h0m1-7h0m1 11h0m1 4h0m1-2h0m2-16h0m1 19h0m0-13h0m1 11h0m2-2h0m2-9h0m0-6h0m2 10h0m0-8h0m1-2h0m1 17h0m0-2h0m2-15h0m2 7h0m0 2h0m1-2h0m0 10h0m1-10h0m0 5h0m1-12h0m0 12h0m0-9h0m1 6h0m3 7h0m2-5h0m0 4h0m0-15h0m0 10h0m1-9h0m1 16h0m1-16h0m0 12h0m1-13h0m0 1h0m1 11h0m0-7h0m0 11h0m1-2h0m1-1h0m1-4h0m1 1h0m0 6h0m1-12h0m2 8h0m1 6h0m6 0h0m0 1h0m1-15h0m3 6h0m1 8h0m2-12h0m0 8h0m1 5h0m1-14h0m3 7h0m1 7h0m0-9h0m0 8h0m0 0h0m4-12h0m2 11h0m1-3h0m0-13h0m0 15h0m1 0h0m3-1h0m1-4h0m0 1h0m2 1h0m0-10h0m0-2h0m1 14h0m1-6h0m0 8h0m0-3h0m0-13h0m0 5h0m1 8h0m2-13h0m2-1h0m0 14h0m0 2h0m1-4h0m1-5h0m2 8h0m5-15h0m3 13h0m0 2h0m1-15h0m0 19h0m1-10h0m0-6h0m2 9h0m1 7h0m0-16h0m1 13h0m3-4h0m0-12h0m3 8h0m7 11h0m1 13h0m-3 7h0m0-15h0m-1 12h0m-1-8h0m-1 11h0m-1-5h0m-1 5h0m-1-8h0m-2-6h0m-1 12h0m0-11h0m-3 10h0m0 3h0m0-9h0m-2 5h0m0 2h0m0-17h0m-1 10h0m0 2h0m-2-11h0m-1 18h0m0 0h0m-2-17h0m-1 0h0m-1 16h0m0-16h0m-3 5h0m-3 2h0m-2 8h0m-1-3h0m-1-9h0m-1 12h0m0-15h0m-2 7h0m-2-5h0m0 1h0m-3 1h0m-1 11h0m0-11h0m-1 8h0m-1-1h0m0-10h0m-1 4h0m0 10h0m0 2h0m-1-6h0m-1 2h0m0-5h0m-1-5h0m-1-3h0m-1 7h0m-2 7h0m0 3h0m-1-3h0m0-5h0m-2-10h0m0 6h0m0-2h0m-1-4h0m0 2h0m0 0h0m-2 14h0m0-6h0m-1-1h0m-1 7h0m-1-3h0m-1 3h0m-1-10h0m0 6h0m-1-9h0m-1 12h0m-2-5h0m-1 1h0m-1-1h0m-1 7h0m-3-16h0m0 0h0m0 10h0m0-2h0m-1 6h0m0 1h0m-1 1h0m-1-2h0m-3 2h0m0-4h0m0-9h0m-3 11h0m-1 3h0m0-19h0m-1 5h0m0 13h0m-1-13h0m-1 1h0m-2 0h0m-1-3h0m0-1h0m0 14h0m-1-1h0m-1-5h0m0-8h0m-3 14h0m-1-16h0m-1 7h0m-1-1h0m-2 10h0m-1-14h0m0 16h0m0-1h0m-1-15h0m0 1h0m-2 8h0m-1 8h0m-1-6h0m-3-7h0m0 5h0m0 0h0m-1-8h0m-2 0h0m0 9h0m0-11h0m-2 4h0m0 4h0m-1 3h0m-3-4h0m-1 6h0m-1-1h0m0-12h0m-2 3h0m0 2h0m-2 7h0m-2-5h0m0 9h0m0-1h0m0-11h0m-2-1h0m-4 14h0m0-10h0m0 10h0m0-5h0m0-3h0m-1-9h0m-1 0h0m-1 13h0m-2-2h0m0-3h0m-2 1h0m-1 8h0m0-10h0m-2 0h0m0 11h0m-1-12h0m-1 5h0m-1-11h0m-2 4h0m0 11h0m0 1h0m-2-17h0m-1 2h0m-1 14h0m0-1h0m-1-1h0m0-8h0m-1-6h0m-1 12h0m-2-1h0m-1 5h0m0-12h0m-1 2h0m-1 12h0m0-8h0m0 2h0m-1 0h0m0-11h0m-1 11h0m-1-9h0m0 12h0m0-15h0m-2 5h0m-1-3h0m0 0h0m-2 8h0m0-9h0m0 18h0m-1-3h0m0-3h0m0-7h0m-2-4h0m0 7h0m-1-3h0m0 7h0m0 3h0m-1-10h0m0 11h0m-1-12h0m-1 4h0m0-5h0m0 5h0m-1 10h0m0-8h0m-1-1h0m0-8h0m0 17h0m-1-8h0m0 2h0m0 6h0m-4-1h0m0-14h0m0-4h0m-4 7h0m-1 10h0m0-10h0m-1 6h0m0 3h0m-2-11h0m-1 6h0m-1-10h0m0-1h0m-1 10h0m-1-4h0m-2 6h0m0-6h0m-1 3h0m0 5h0m0 0h0m0 3h0m-1-8h0m-1 1h0m-2 6h0m-2-15h0m0 0h0m0 11h0m-2 0h0m-1-3h0m0-3h0m-1 9h0m0-8h0m-1 0h0m0 3h0m0-2h0m-1-8h0m0 0h0m-2 8h0m-1 7h0m-1 3h0m0-11h0m0-5h0m0 9h0m-1-8h0m0 10h0m-2-8h0m0 6h0m0 1h0m0-10h0m-1 0h0m0 4h0m-1-3h0m0-1h0m-1 15h0m-1-14h0m-1 16h0m-3-9h0m-2-9h0m-1 9h0m-7-6h0m-5 15h0m11 4h0m7-1h0m1 0h0m3 14h0m1-5h0m0-11h0m0 0h0m1 0h0m0 11h0m1 5h0m1-16h0m1 16h0m0-12h0m1-3h0m0 1h0m1 10h0m1-11h0m1 16h0m0 1h0m0-14h0m0-1h0m1 12h0m1-3h0m2-3h0m1 9h0m1-13h0m0 14h0m1-17h0m2-1h0m2 4h0m2 8h0m0 6h0m0-10h0m1 9h0m1 0h0m1-9h0m0-2h0m0 8h0m0-7h0m0-1h0m0 5h0m1-2h0m1 2h0m3 5h0m0-6h0m0-7h0m1-4h0m1 4h0m0 7h0m0-11h0m1 18h0m0-12h0m1 3h0m1 9h0m1-18h0m1 11h0m1-7h0m2 14h0m1-7h0m1-11h0m1 11h0m0-2h0m1-7h0m5 17h0m0-6h0m1 3h0m0-1h0m1-8h0m1 2h0m1 7h0m1 2h0m0-16h0m0 12h0m1-13h0m1 11h0m2-8h0m0 3h0m2 6h0m1 5h0m0 1h0m1-18h0m0 15h0m3-16h0m2 1h0m2 0h0m0 4h0m0-1h0m0 15h0m1-19h0m1 10h0m1-3h0m1-1h0m1 13h0m1-16h0m1 7h0m1-2h0m1 10h0m0-15h0m0-1h0m1 1h0m1 9h0m1-2h0m0-7h0m1 12h0m0-7h0m1 9h0m2-17h0m1 15h0m1-11h0m1 5h0m2 9h0m0-2h0m1-3h0m3 4h0m0-11h0m0 1h0m1-5h0m1-1h0m1 0h0m1 5h0m1-4h0m0 5h0m3 2h0m1-1h0m1 11h0m1-19h0m2 5h0m2 6h0m0 5h0m1-8h0m0-5h0m2 8h0m1-6h0m2 11h0m0-7h0m1-7h0m0 0h0m1 9h0m1-7h0m1 14h0m1-15h0m0 6h0m1-6h0m1 0h0m0 11h0m1-13h0m1 4h0m0 6h0m2-5h0m0 10h0m0-15h0m0 5h0m1 3h0m0-6h0m1 1h0m1 3h0m1 1h0m0 1h0m1-3h0m2 13h0m3-14h0m1 5h0m1 2h0m0 1h0m0 4h0m0-16h0m1 1h0m0 0h0m0 4h0m1 13h0m3-9h0m0 0h0m0 9h0m0-18h0m1 10h0m1 0h0m0 0h0m0 1h0m1-5h0m0 0h0m0-7h0m1 0h0m0 4h0m1 7h0m2 1h0m0-12h0m1 3h0m0 16h0m1-3h0m0-1h0m0-5h0m2-1h0m0 0h0m1-8h0m1 6h0m0 4h0m4-8h0m0 4h0m0 7h0m0-10h0m4 7h0m2-11h0m2 6h0m2 12h0m1 1h0m2-19h0m1 10h0m2-8h0m1 4h0m2 8h0m0 2h0m1-10h0m2-1h0m1-5h0m1 9h0m2 4h0m0-5h0m1 4h0m0-12h0m0 0h0m1 7h0m2-2h0m0-2h0m0 4h0m1-7h0m1 1h0m1 7h0m1 8h0m0-2h0m1-10h0m0 11h0m0 0h0m3-8h0m0 1h0m0 9h0m1-2h0m1-12h0m1 6h0m0 4h0m1 1h0m1 1h0m1-2h0m3 2h0m4-9h0m0-3h0m7 14h0m3-1h0m-1 16h0m-6 4h0m-3-11h0m-1 0h0m-2 5h0m0 1h0m-1 6h0m-1 2h0m-1-17h0m0 13h0m-1-15h0m-1 19h0m0-1h0m-1-15h0m0 1h0m0 15h0m-1-5h0m0-7h0m-2 11h0m-3-5h0m0 2h0m0 0h0m0 2h0m-4-5h0m-2 7h0m0-9h0m-1 5h0m-3-9h0m-1 1h0m0 11h0m-2-5h0m-1 2h0m-3-14h0m-7 6h0m-1-2h0m0 4h0m0-9h0m-1 9h0m-1 4h0m0-5h0m-1 5h0m0 3h0m-1-9h0m-1-7h0m0 14h0m0-4h0m0-8h0m-2 1h0m-2 15h0m-2-18h0m0 1h0m-1 11h0m0 4h0m-2-15h0m0 16h0m-1-3h0m-1 2h0m0-2h0m0-14h0m-1 1h0m0 15h0m-1-12h0m-1 6h0m0-4h0m-1 5h0m-1 3h0m-2-12h0m-2 7h0m0 9h0m0-1h0m-1 1h0m-2-11h0m-1-5h0m0 17h0m0-6h0m-1 2h0m0-3h0m0 0h0m-2-6h0m0 7h0m0-2h0m-2 4h0m0-14h0m0 3h0m-1-4h0m-1 2h0m-2 6h0m-1 1h0m0 9h0m-2-12h0m-1 0h0m0-2h0m-1 4h0m-2-4h0m0 14h0m-1-16h0m-1 3h0m0 4h0m-1-1h0m-1 11h0m-1-7h0m-1-8h0m-1 12h0m0-9h0m0 9h0m-1-7h0m-1 8h0m-1-3h0m0 2h0m0-9h0m0-1h0m-1-3h0m0 14h0m-2-9h0m-2 3h0m-1-6h0m-1 14h0m0-1h0m-2-9h0m-2 7h0m0-12h0m-3 1h0m0 7h0m-1 2h0m-1-1h0m-1-9h0m-1 6h0m0-7h0m-4 9h0m-1 2h0m-1-12h0m-1 3h0m0 5h0m-3 2h0m0-1h0m-3-3h0m-2 8h0m-1 0h0m-1-10h0m-1 9h0m-1-10h0m-1 4h0m-1-6h0m0-2h0m-1 5h0m-1 13h0m0-18h0m-1 7h0m-2 1h0m0 4h0m-1-5h0m0 0h0m0 10h0m-2-10h0m0-1h0m0-6h0m-3 3h0m-1 15h0m-1-6h0m-1-3h0m0-8h0m-1-1h0m-1 13h0m-2-7h0m0 11h0m-3-1h0m0-7h0m-4-10h0m-2 13h0m-1 6h0m0-11h0m0 0h0m-1 8h0m-3-5h0m-2 1h0m-1 0h0m-2 5h0m0-14h0m-1 12h0m-3-5h0m0 5h0m-1-1h0m0-9h0m-1-1h0m0-4h0m-1 7h0m0 5h0m-1 0h0m-1 7h0m-1-15h0m0 3h0m-1-3h0m0 8h0m-2-2h0m0-2h0m-1 4h0m-4-5h0m-1 8h0m-3-10h0m-1 1h0m0-6h0m-1 10h0m0-2h0m-4 11h0m0-1h0m0-2h0m-2-2h0m0 1h0m-3-9h0m-2 11h0m-3 2h0m0-15h0m-1 6h0m-2 1h0m0 3h0m0 1h0m0-11h0m-4 6h0m0 7h0m3 5h0m6-1h0m0 5h0m1 9h0m2-4h0m1-11h0m0 5h0m1 4h0m4-3h0m0-6h0m0 12h0m2-11h0m0 11h0m3-5h0m1 0h0m0 3h0m0 1h0m1-1h0m3-5h0m1 9h0m1 5h0m1-17h0m0 1h0m1 1h0m0 1h0m0 8h0m2 6h0m0-18h0m2 11h0m1 6h0m0-1h0m0 0h0m3-13h0m2-3h0m1 17h0m2-1h0m0 1h0m0-12h0m5 3h0m1-2h0m0 12h0m2-1h0m0-9h0m0-6h0m1 1h0m1 15h0m1-11h0m0 6h0m3 2h0m2-7h0m2-1h0m0 3h0m0 1h0m2 5h0m0-15h0m1 12h0m0-10h0m0 9h0m0-9h0m0 11h0m1-7h0m0-6h0m0 1h0m1 13h0m0-15h0m1 9h0m2 5h0m0-6h0m0-2h0m1 8h0m1-4h0m1-4h0m1-5h0m0 2h0m1 12h0m1-13h0m0 8h0m1-11h0m0 1h0m1 16h0m1-2h0m0 2h0m0 2h0m1-8h0m0 6h0m4-14h0m0 5h0m0-5h0m0 6h0m2-8h0m1 8h0m0 7h0m0-9h0m1 5h0m0 0h0m0-10h0m4 0h0m1 0h0m1 7h0m1 3h0m0-2h0m0 1h0m3 8h0m0-7h0m4 4h0m1-16h0m0 4h0m1-4h0m1 9h0m1-1h0m2-5h0m0 3h0m0 10h0m1-15h0m2 0h0m0 5h0m4 8h0m0-5h0m0-5h0m3 13h0m2-13h0m0 5h0m6 9h0m0-14h0m0-1h0m1 10h0m2-12h0m0-1h0m1 19h0m0-7h0m1 5h0m1-1h0m4-11h0m0-3h0m1 8h0m1-6h0m0 14h0m1-2h0m1-11h0m0-4h0m1 2h0m2 0h0m0-3h0m1 12h0m0-6h0m0 0h0m0 10h0m2-14h0m1 4h0m2 4h0m0-9h0m1 16h0m1-11h0m1 5h0m2 4h0m1-12h0m2 8h0m3-5h0m2 4h0m0-6h0m2 6h0m0 9h0m1 0h0m0-3h0m3-15h0m1 8h0m1 4h0m0-8h0m1-2h0m1 10h0m3-4h0m0 1h0m1-4h0m0-4h0m1 2h0m1 4h0m3 9h0m0-5h0m0 6h0m1-18h0m0 15h0m0-6h0m1-3h0m0 0h0m1 6h0m0 6h0m1-11h0m2 4h0m1 6h0m0-8h0m1 2h0m0 2h0m0 1h0m3-5h0m2-1h0m1-7h0m2 3h0m0 8h0m0-9h0m1 4h0m1 2h0m0 7h0m1-6h0m1-8h0m1 2h0m2 3h0m1 8h0m0-13h0m2 12h0m0 3h0m0-16h0m1 9h0m1-1h0m1-4h0m0 1h0m2 8h0m0-1h0m1-11h0m1 6h0m0 4h0m1-12h0m0 1h0m1 18h0m2-15h0m12-1h0m-6 27h0m-18-5h0m-1 14h0m-1-18h0m-1 15h0m-1-5h0m-4 6h0m-2-3h0m-1-12h0m-1 16h0m-3-11h0m0-6h0m-2-1h0m-1 8h0m-4 3h0m-2-7h0m-1 2h0m-2 7h0m-2-9h0m0 10h0m-2-3h0m-2-10h0m0 18h0m0-8h0m0 8h0m-2-6h0m-3-9h0m0 7h0m-5-3h0m-2 1h0m-1-1h0m-1 4h0m0 1h0m-4-10h0m0 10h0m-1-6h0m0 8h0m-1 4h0m0-9h0m0 8h0m0-7h0m-3 1h0m-1-11h0m-1 15h0m-1 1h0m-1-7h0m-1 1h0m-1-8h0m-2 6h0m-1 0h0m-1 6h0m-1-1h0m-1-5h0m-1 2h0m0 4h0m-4-11h0m-1 5h0m0-1h0m-2 1h0m0 2h0m-1 3h0m-2-14h0m0 1h0m0-1h0m-1 10h0m0-4h0m-4 8h0m-4 1h0m0-11h0m0-2h0m-1-2h0m-3 2h0m0 15h0m-1-1h0m-1-1h0m0-14h0m-3 8h0m-1 4h0m-2 5h0m-1-4h0m-1-9h0m0-5h0m-1 5h0m0-1h0m-2 6h0m-1 0h0m0 5h0m-2-5h0m0-7h0m-1 6h0m-1-4h0m0 11h0m-1-13h0m-1 11h0m-8-4h0m-1-3h0m-2 9h0m-2-11h0m0-1h0m-1-2h0m0 1h0m0 13h0m0-2h0m-1-9h0m-1-4h0m-1 6h0m-2 10h0m-1-1h0m0-8h0m0-4h0m-3 13h0m0-9h0m0 3h0m-2 0h0m0 2h0m-1-10h0m-2 1h0m-1-4h0m-2 12h0m-2 2h0m-2 3h0m-2 1h0m-3-13h0m-2 9h0m-4-10h0m-1 6h0m-1-6h0m0-2h0m-1 17h0m-1-14h0m0 8h0m-1-12h0m-2 3h0m-1-4h0m-1 7h0m-2 5h0m-1-1h0m0-1h0m-2 9h0m0-4h0m-1-10h0m-1 6h0m-1-9h0m0 1h0m-2 6h0m0 4h0m-2 1h0m0-10h0m-1 0h0m0 2h0m-1 6h0m-1 1h0m-2-1h0m0-12h0m-2 7h0m-4-4h0m-1 0h0m-3-1h0m24 30h0m2-3h0m1-7h0m0 9h0m1-7h0m0 9h0m0-5h0m4-5h0m3 2h0m2-1h0m0 1h0m0 5h0m1-4h0m1-1h0m1-5h0m1 15h0m2-14h0m0 1h0m1 7h0m2 3h0m2 3h0m1-1h0m1-3h0m2-7h0m0-2h0m0 3h0m0 7h0m0 2h0m1-11h0m1 10h0m2-4h0m1-5h0m1 4h0m1-7h0m2 1h0m1-1h0m1 8h0m1 9h0m1-13h0m0 2h0m0 2h0m0-1h0m1-6h0m0 1h0m0-2h0m0 18h0m2-16h0m0 12h0m1-11h0m0 2h0m0-3h0m3 7h0m2-7h0m0 12h0m0-5h0m1-8h0m1 4h0m0-4h0m1 8h0m0-4h0m0 5h0m1 6h0m1 1h0m0-15h0m0 0h0m2 13h0m1-11h0m1-1h0m1-4h0m3 8h0m1 2h0m0-5h0m1 7h0m1-11h0m0-1h0m0 17h0m1-3h0m1-2h0m1-2h0m0 8h0m4-16h0m1-2h0m2 5h0m2 12h0m1-14h0m1-3h0m1 5h0m1 3h0m1 8h0m1-10h0m2 8h0m0-1h0m1-9h0m2 6h0m2-6h0m2 1h0m0 2h0m1 1h0m1-7h0m2 5h0m0-4h0m0 14h0m0-15h0m1 5h0m1-4h0m1-1h0m1 8h0m4 3h0m0-5h0m1-7h0m5 19h0m0-3h0m1-12h0m1 10h0m10-12h0m0 2h0m2 2h0m2-4h0m0-2h0m1 4h0m3 0h0m0-1h0m2-2h0m4 2h0m2-3h0m2 0h0m1 1h0m6 5h0m1-3h0m1 5h0m9-7h0m-48 21h0m-34 0h0m-11 0h0m0 3h0m-7 0h0m-9-2h0m-1-1h0m-6 0h0m-1-1h0m-9 2h0m-1 3h0m-2-1h0m-4 0h0m0 7h0m-2-6h0m-1 4h0m-2-5h0m-3-4h0m0-1h0m-2 3h0m-1 2h0m-1 3h0m-2-1h0m-12-3h0" stroke="#d8302e" stroke-width="3" stroke-linecap="round" fill="none"/>
<path transform="scale(0.5)" d="M1241 533h0m-18 24h0m-8-10h0m-6 9h0m-13 3h0m-1-6h0m-33 17h0m12 1h0m2-5h0m9 8h0m1-8h0m1 12h0m3-3h0m3-14h0m0 17h0m1 0h0m2 1h0m6-15h0m0 3h0m2 12h0m4-15h0m2 5h0m0 7h0m1-4h0m0-12h0m1 9h0m0 7h0m1 3h0m1-13h0m2 4h0m1 7h0m2-3h0m0 3h0m1-13h0m1 5h0m2-3h0m4-1h0m1 4h0m2 1h0m0-4h0m0 11h0m2-14h0m2 6h0m1-2h0m1 3h0m1 9h0m0-9h0m1 8h0m2-9h0m1 9h0m4-2h0m3-7h0m3 6h0m0-8h0m2 8h0m5 3h0m2-2h0m12-2h0m3-6h0m3 7h0m-4 23h0m-5-11h0m0 0h0m-1 10h0m-7-11h0m-1 13h0m-2 0h0m-1-19h0m0 6h0m0-2h0m-1 8h0m-1-1h0m0-9h0m0 12h0m-1-1h0m-2-8h0m0 9h0m-1-10h0m-1-3h0m0 18h0m-1-10h0m0 6h0m0-14h0m-1 5h0m0 5h0m0 2h0m-1-10h0m-1 16h0m0-6h0m0-5h0m-1-6h0m-1 6h0m0-5h0m-1 7h0m0 0h0m0 4h0m-1-13h0m0 3h0m-1-4h0m-1 13h0m-3 6h0m0-9h0m-1 7h0m-1-8h0m0-3h0m-1-1h0m0 7h0m-2-2h0m0 7h0m0-1h0m0-8h0m-1-5h0m-1 8h0m0 5h0m-2-9h0m-1 9h0m-1 2h0m0 0h0m0-9h0m0 2h0m-1-5h0m0 9h0m0-11h0m-2-3h0m0 14h0m-2-9h0m0-1h0m-1 11h0m0 3h0m-1-16h0m0 3h0m0 0h0m0 5h0m0 0h0m-1-1h0m0 9h0m-1 0h0m0-14h0m-1 14h0m-1-6h0m0-13h0m0 18h0m0-10h0m0 7h0m-1-2h0m-1 6h0m0-13h0m0 2h0m0-1h0m0 8h0m-1-10h0m0-1h0m0 13h0m-3-12h0m-1 7h0m0-9h0m0 3h0m0 6h0m-1-12h0m0 15h0m0-4h0m-1-4h0m0 2h0m-1 4h0m0 2h0m-1-11h0m0 8h0m-1 1h0m0 1h0m-1-7h0m-1-1h0m0 0h0m-1 11h0m0-1h0m-1-12h0m0 3h0m-1 6h0m-2 0h0m-1 3h0m0-3h0m-1-13h0m-1 12h0m-1 0h0m0 4h0m-2-1h0m-1-2h0m0-9h0m-1 6h0m0 0h0m-1 6h0m-1-4h0m-2 3h0m0-7h0m0 7h0m-1-8h0m0 4h0m-1 5h0m-1-2h0m-1 4h0m0-7h0m0-2h0m-2 9h0m-1-11h0m-5-1h0m-1 13h0m-1-11h0m-1-4h0m-6 8h0m-6 0h0m-3-6h0m0 20h0m8-4h0m7 8h0m6 0h0m2-2h0m2-6h0m1 11h0m0 1h0m0-9h0m1 5h0m1 6h0m0-3h0m0 1h0m2-10h0m0-2h0m1 5h0m1 6h0m1-5h0m0 11h0m1-1h0m0-10h0m0 3h0m2-6h0m1 13h0m0-8h0m1 0h0m0-10h0m0 19h0m0-13h0m0-4h0m1 15h0m2 0h0m0-1h0m1-13h0m0-1h0m0 0h0m1 13h0m0-1h0m1-14h0m0 11h0m0-1h0m1-8h0m1-1h0m1 15h0m1 0h0m0 1h0m0-4h0m1 6h0m1-19h0m1 4h0m1 4h0m0 11h0m1-18h0m1 9h0m1-3h0m0 12h0m0-9h0m0 4h0m1 4h0m1-4h0m0-8h0m0 12h0m1-9h0m0 10h0m2-7h0m0-8h0m1 5h0m2-8h0m0 17h0m0-17h0m0 2h0m1 9h0m0-5h0m1-3h0m0 6h0m0-2h0m1 5h0m0 5h0m1-16h0m0-2h0m1 7h0m0 12h0m1-8h0m0 2h0m0-8h0m1 0h0m1 5h0m0-6h0m0 15h0m0-1h0m1-13h0m1 9h0m1 3h0m0-4h0m1 1h0m0-13h0m1 3h0m2 6h0m0 4h0m0-12h0m0 1h0m1 10h0m0-10h0m1 12h0m1-14h0m0 15h0m1-7h0m1 1h0m0-7h0m1 12h0m2-7h0m2 9h0m0-13h0m0 2h0m3 3h0m0-1h0m0 3h0m0-9h0m0 8h0m1-10h0m0 5h0m0-2h0m0 8h0m1 5h0m0-11h0m0 11h0m1-13h0m0 10h0m1-10h0m0 9h0m1 5h0m0 1h0m0 1h0m1-6h0m0 4h0m1-5h0m0-8h0m1 6h0m0 7h0m0-8h0m0 3h0m0-10h0m1 14h0m1 3h0m0-15h0m1 4h0m0 8h0m0-2h0m0-8h0m1 4h0m1 0h0m1-8h0m1-2h0m1 5h0m0-4h0m1 2h0m3 6h0m0-3h0m1-6h0m1 19h0m0-3h0m1 2h0m2-18h0m5 17h0m7 2h0m0-18h0m26 21h0m-13 3h0m-5 6h0m-9 3h0m-3 1h0m-3-13h0m-4 6h0m0 10h0m-1-1h0m0-13h0m-1 7h0m-2-9h0m0 15h0m-1-13h0m-1 15h0m-2-17h0m0 3h0m-1 4h0m0 0h0m0 2h0m-1 6h0m0-13h0m-1-4h0m0 14h0m0 0h0m0-8h0m-2-3h0m0-3h0m-1 2h0m-1 16h0m0-1h0m0-6h0m-1 8h0m-1-5h0m-1-13h0m-1 12h0m0 6h0m0-8h0m0-1h0m-1-4h0m0-4h0m-1 2h0m-2 12h0m0-13h0m-1 7h0m-1 3h0m-1-11h0m0 14h0m0 1h0m0-2h0m0-8h0m-1-5h0m-1 16h0m0-15h0m0 10h0m0 1h0m0-11h0m-1 8h0m0-3h0m-1-8h0m0 18h0m-1-6h0m0-6h0m-1 7h0m-1 5h0m-2-14h0m0 11h0m0-5h0m-3-4h0m0 7h0m0-7h0m-2-3h0m-1-2h0m0 1h0m0 1h0m-1 16h0m0-3h0m0-3h0m0 0h0m0 5h0m0-1h0m-1-1h0m0-14h0m0 12h0m0-9h0m0 4h0m0 7h0m-1-2h0m0 0h0m-1 5h0m0-8h0m0-11h0m0 13h0m-1 0h0m-1-7h0m0 1h0m0-4h0m-1 1h0m0 2h0m0-1h0m-1 8h0m0-11h0m0 14h0m-1-13h0m0-3h0m-1 18h0m-1-5h0m-1-8h0m0 6h0m0 1h0m0 5h0m0-2h0m-1-7h0m0 3h0m-1-11h0m0 10h0m0-4h0m-1-6h0m0 15h0m-1-15h0m-1 8h0m0 7h0m-1-8h0m0 11h0m-1-11h0m0 6h0m0-13h0m-1 10h0m0 1h0m-1-1h0m-1-8h0m-1 16h0m0-18h0m0 11h0m-1-4h0m0-4h0m-2 10h0m0-5h0m0-2h0m0 1h0m0 7h0m0-11h0m-1 16h0m0-1h0m-1 0h0m0-12h0m0-6h0m-1 8h0m-1 10h0m0-12h0m-1 6h0m-1 3h0m0-14h0m0 7h0m-1-5h0m0 5h0m-1 2h0m0-6h0m-1 12h0m0-10h0m0-3h0m-1 11h0m0-2h0m-3-12h0m-1 16h0m-1-5h0m-1-6h0m0 10h0m-2-1h0m0-9h0m0 13h0m0-2h0m-1-15h0m-1 12h0m-1-3h0m0 8h0m-2 0h0m-1-12h0m-3 11h0m0 1h0m-1-5h0m-1-11h0m0 1h0m-1-1h0m-9-1h0m-3 8h0m0 10h0m-1-18h0m-6 13h0m9 10h0m2-4h0m3 12h0m1-12h0m3 19h0m4-10h0m0 4h0m4-9h0m2 0h0m1 10h0m1-11h0m0 0h0m0 1h0m1 8h0m0-8h0m0 13h0m1-11h0m0-1h0m0-2h0m1 13h0m0-7h0m0 1h0m2-6h0m0 11h0m1-4h0m1 4h0m0-9h0m1-3h0m0 1h0m1 0h0m3 4h0m0-8h0m1 18h0m0-15h0m3 14h0m1-14h0m1 7h0m1-7h0m1 3h0m0-4h0m1-2h0m0 18h0m0-1h0m1 0h0m1-4h0m0 2h0m1-15h0m0 15h0m0-6h0m1-7h0m0 17h0m0-3h0m1-2h0m0-11h0m1-3h0m0 0h0m0 14h0m1-4h0m1 9h0m2-12h0m1 6h0m0 4h0m0-14h0m2 11h0m0-1h0m0-5h0m1-4h0m0 7h0m0-10h0m0 14h0m1 0h0m0 1h0m0-11h0m0 4h0m1 9h0m0-18h0m1 13h0m0 3h0m1 0h0m0-12h0m1 3h0m0-2h0m0 0h0m0 12h0m0-7h0m1 0h0m1-8h0m0 9h0m0-2h0m1-2h0m0 2h0m1 9h0m1-8h0m0-8h0m0 13h0m0-15h0m2 18h0m1-15h0m0-2h0m1 3h0m0-3h0m0 16h0m1-1h0m0 3h0m0-13h0m1-4h0m0 9h0m0 2h0m1 0h0m0-3h0m1-9h0m0 16h0m0-9h0m0 0h0m0 6h0m0-6h0m0 4h0m1-5h0m0 7h0m2-9h0m0-3h0m2-1h0m0 18h0m0-17h0m0 2h0m3 15h0m0-10h0m0 3h0m1 2h0m1-5h0m2-3h0m0 7h0m0 4h0m1 0h0m1-7h0m0-10h0m1 8h0m0-6h0m2 1h0m0 9h0m6-10h0m1 0h0m2 5h0m0 8h0m0-8h0m3 1h0m1-2h0m1-4h0m2 1h0m4 12h0m1-8h0m1-6h0m-17 26h0m-1 10h0m-5-9h0m-1-4h0m-1-1h0m0 4h0m0 8h0m0-14h0m-1 2h0m0 0h0m-1 3h0m0 10h0m-1 3h0m-1-1h0m-1-18h0m-2 5h0m-2 8h0m0 6h0m-1-10h0m0-6h0m0 16h0m-2 0h0m0-6h0m-1-5h0m-1 6h0m-1-3h0m0-9h0m0-1h0m-1 14h0m-1 1h0m-1-7h0m0-4h0m0 13h0m-1-16h0m0 13h0m0-6h0m0 7h0m-1-2h0m0-9h0m0 11h0m-1 2h0m-1-11h0m0-1h0m-1 2h0m-1-4h0m-1 7h0m-1-3h0m0 2h0m-1 3h0m-1 0h0m0-11h0m-1 12h0m0-11h0m0 9h0m-2-8h0m0 3h0m-1 7h0m-4-6h0m0 4h0m-1-11h0m-1 15h0m0-3h0m-2-4h0m-1 1h0m0 0h0m-1 3h0m0-10h0m0 14h0m0-13h0m-2 5h0m-1 1h0m-1 0h0m0-10h0m0 4h0m0 5h0m0-5h0m-1 4h0m0-5h0m0 11h0m-1 2h0m0-6h0m0 6h0m-1-6h0m-1-2h0m0-1h0m0 9h0m-1-14h0m0 5h0m-1-2h0m0 14h0m-1-1h0m0 0h0m-2-4h0m-1 2h0m0 0h0m0-13h0m-2 2h0m0-2h0m0 6h0m0-7h0m-2 11h0m0 5h0m-1 0h0m0-17h0m-1 18h0m0-15h0m-1 1h0m-1 14h0m0-4h0m0 1h0m0-13h0m0 10h0m0-3h0m-1 4h0m-1 1h0m-1-6h0m-1 7h0m-1-15h0m-3 18h0m0-9h0m-4 8h0m-1-14h0m-4 4h0m4 13h0m4 5h0m1 13h0m2 0h0m1-14h0m1-4h0m0 13h0m1-3h0m0 1h0m2-10h0m0 4h0m0-1h0m1 12h0m2-16h0m2 2h0m1-2h0m1 0h0m0 12h0m1-12h0m0 5h0m0-3h0m0-2h0m1 11h0m0-10h0m1 7h0m1-4h0m0 1h0m0-2h0m0 15h0m1-18h0m0 3h0m1 11h0m0-1h0m0-7h0m1-2h0m0-2h0m0 3h0m0 7h0m0-6h0m1-3h0m1 8h0m1-4h0m0 1h0m0 3h0m0-2h0m2 3h0m0 1h0m1-2h0m0 4h0m0-15h0m0 0h0m1 4h0m1 14h0m0 0h0m0-1h0m1-18h0m0 11h0m0-9h0m0 9h0m2-7h0m1 15h0m1-16h0m2 13h0m0-15h0m1 13h0m1-13h0m2 18h0m0-17h0m1-1h0m0 4h0m0 5h0m0-10h0m0 6h0m1-6h0m1 1h0m0-1h0m1 4h0m0 9h0m0-7h0m2 0h0m0 1h0m1 6h0m0-13h0m1 3h0m1 3h0m0-2h0m0 11h0m1-14h0m0 14h0m1-14h0m0 12h0m0-6h0m1 4h0m0-3h0m1 8h0m0-1h0m0 1h0m1-5h0m0-6h0m0 2h0m0 9h0m2-7h0m0-2h0m0-7h0m1 8h0m0-5h0m3 11h0m1 5h0m0-10h0m0-6h0m0 7h0m1 3h0m1 4h0m3-3h0m1-11h0m1-3h0m0 1h0m1 1h0m0 4h0m4 11h0m2-8h0m0-9h0m3 17h0m4-14h0m-3 21h0m-1 12h0m-10-4h0m-1-11h0m-5 18h0m0-8h0m-2 4h0m-1-3h0m-1-5h0m0-5h0m-1 2h0m-1 7h0m-2 1h0m0-4h0m0-5h0m-2 1h0m0 2h0m-2-1h0m0 8h0m-1-11h0m-1-2h0m-1 4h0m0 4h0m-1 8h0m0-6h0m0 6h0m-1-1h0m0-8h0m0 4h0m0 1h0m-2 1h0m-1 6h0m-1-1h0m-1-6h0m-1 4h0m0 1h0m-2-5h0m0-10h0m0 5h0m0 8h0m-1-12h0m-1 14h0m-1-10h0m0 6h0m0-3h0m0 7h0m-1-9h0m0-7h0m0 8h0m0-5h0m-2 15h0m0-9h0m-1 8h0m-1-7h0m0 4h0m0-3h0m0-10h0m-1 1h0m0 7h0m-1 6h0m-1-1h0m-1-11h0m-1-3h0m-1 7h0m0-3h0m-1-3h0m-1 5h0m-1-5h0m0 5h0m-1 5h0m0 5h0m-1-17h0m-1 3h0m-1 6h0m-1 7h0m-1-10h0m0-1h0m-1-5h0m0 8h0m-1 11h0m-2-7h0m-2 5h0m0-2h0m-1 1h0m0-6h0m-1-5h0m-1 1h0m-1 12h0m0-11h0m-1-5h0m-2-2h0m0 13h0m-3-5h0m0-8h0m-1 13h0m-1 3h0m0-11h0m-2-4h0m-3-1h0m-2 10h0m-3 1h0m-12-10h0m-3 17h0m22 18h0m1 3h0m2-17h0m2 9h0m1 2h0m2-12h0m1 15h0m0-3h0m0 6h0m3-3h0m2-11h0m1 12h0m2-11h0m0-4h0m1 13h0m0 3h0m0-6h0m1 2h0m0 0h0m0-8h0m0 10h0m1-6h0m0-2h0m0-7h0m1 18h0m1-19h0m1 12h0m0-2h0m0-10h0m2 1h0m0 5h0m1 0h0m0 11h0m1-12h0m1 12h0m1-6h0m1-2h0m0 4h0m0 0h0m2 2h0m0-8h0m1 3h0m1 2h0m2 5h0m0-15h0m2 11h0m1-9h0m0 15h0m0-3h0m0 3h0m1-11h0m0 6h0m1-12h0m0 12h0m1 0h0m1-4h0m2 6h0m0-13h0m1 13h0m0-6h0m0 0h0m1-10h0m1 2h0m0 9h0m0-3h0m0 2h0m1 6h0m1-3h0m2-6h0m1 7h0m0-7h0m1-5h0m0 10h0m0 1h0m1 4h0m2-13h0m1 10h0m0-11h0m1-3h0m1 8h0m1 1h0m1 1h0m1 5h0m2-11h0m0 4h0m0 10h0m5-18h0m0 2h0m2-2h0m0 0h0m1 3h0m1 3h0m11 27h0m-5-1h0m-8-6h0m-2 1h0m-2-4h0m-1 1h0m-1-1h0m0-2h0m-2 11h0m-1-6h0m-4 0h0m-2 5h0m0 8h0m-3-8h0m0 8h0m-1-3h0m0-4h0m-1-1h0m-1-5h0m-1-5h0m-1 0h0m-1 6h0m-2 1h0m0-7h0m0 6h0m-2-6h0m0-1h0m-1 0h0m-1 15h0m-2-15h0m0 4h0m0 4h0m0 7h0m-1-15h0m-1 5h0m0 1h0m0 8h0m-2-4h0m0 1h0m0-8h0m-1 11h0m0 1h0m-1-6h0m0-1h0m-2 5h0m0-2h0m0-3h0m-1-5h0m-1 7h0m0-8h0m-2 0h0m0 16h0m0 0h0m0-2h0m-1-11h0m0 14h0m0-14h0m-1-5h0m-1 16h0m-1-9h0m-1-5h0m-2 9h0m0 1h0m-1 1h0m-1-12h0m-1 0h0m0 7h0m-1 3h0m-1 0h0m-1-9h0m-2 4h0m-1-5h0m-2 4h0m0-5h0m-3 19h0m-3-19h0m-1 16h0m-6-13h0m-3 3h0m-4 7h0m18 11h0m0 6h0m5 9h0m1-19h0m0 3h0m2 4h0m0-6h0m4 4h0m1 7h0m2-8h0m0 8h0m1 1h0m0 1h0m3-9h0m1 0h0m0 12h0m1 1h0m0-6h0m1-12h0m1 2h0m1 4h0m1-3h0m1 12h0m1 2h0m7-1h0m0-14h0m2 14h0m0-16h0m1 17h0m0-17h0m0 12h0m0-4h0m2-2h0m0 3h0m1 10h0m1-19h0m1 14h0m0 5h0m6-4h0m2-6h0m1-4h0m0-1h0m6 7h0m1 0h0m6-11h0m-2 36h0m0-15h0m-26 17h0m0-13h0m-10-3h0m-2-1h0m-3 4h0m-2 12h0m0 1h0m-6-17h0m-5 5h0m-1-5h0m0 18h0m15 18h0m1-17h0m16 15h0" stroke="#d8302e" stroke-width="3" stroke-linecap="round" fill="none"/>
<path transform="scale(0.5)" d="M1380 155h0m-19-8h0m-30 31h0m6-9h0m1-2h0m3 8h0m3-7h0m1-8h0m2 6h0m1 2h0m1 1h0m0-4h0m0 2h0m1 12h0m0-16h0m0 15h0m1-11h0m2 10h0m1-11h0m4 5h0m1 0h0m1-5h0m1 11h0m1-2h0m0-13h0m0 7h0m0 3h0m1-8h0m2 14h0m2-10h0m6-1h0m0 4h0m2 4h0m9 24h0m-3-10h0m-2-9h0m-2 2h0m0 13h0m-1 2h0m0-6h0m-1 5h0m-3-15h0m0-1h0m-2 2h0m-1 11h0m0-1h0m-1-8h0m-1 0h0m-1 9h0m-7 2h0m0 4h0m-1-8h0m-2-9h0m-1 14h0m-2-15h0m-2 14h0m-1-4h0m-1-8h0m-1 14h0m-6-9h0m-1 6h0m0 4h0m0-12h0m-2-4h0m0 2h0m-2 0h0m-2 9h0m-3 25h0m2-8h0m5-8h0m0 7h0m0-3h0m2-1h0m3 2h0m0 8h0m1-11h0m1 3h0m3 1h0m1 1h0m1-6h0m1-1h0m0-1h0m1 9h0m1-6h0m1-4h0m0 7h0m3 10h0m0-9h0m0 6h0m1-7h0m1 11h0m2-15h0m0 16h0m2-12h0m4-1h0m2-1h0m0 8h0m2-8h0m0-5h0m2 5h0m0 6h0m2-9h0m2 2h0m0 15h0m8-18h0m-6 28h0m-13-7h0m-5 5h0m-1-6h0m-7-1h0" stroke="#d8302e" stroke-width="3" stroke-linecap="round" fill="none"/>
<path transform="scale(0.5)" d="M1318 525h0m58 34h0m-1-3h0m-12-1h0m-1-3h0m-12-9h0m-5 16h0m-6-5h0m0-5h0m-1 7h0m-23-4h0m-8-3h0m-3-1h0m-8 24h0m26-11h0m1 7h0m7 7h0m0-1h0m8-10h0m2 14h0m2-10h0m2-2h0m1 10h0m2-8h0m2 10h0m3-1h0m1-2h0m3-14h0m2 3h0m13 8h0m1 26h0m-3-2h0m-3-7h0m-9-1h0m-2 6h0m-18-9h0m-13 9h0m-11-8h0m-9 13h0m-6-12h0m18 16h0m11 7h0m8 4h0m1 3h0m4-9h0m10 10h0m11-3h0m6-13h0m10 15h0m18-17h0m3 4h0m-19 22h0m-9-1h0m-3-5h0m-1 2h0m-23 14h0m-7-5h0m-4-2h0m-1 1h0m-33-6h0" stroke="#d8302e" stroke-width="3" stroke-linecap="round" fill="none"/>
<path transform="scale(0.5)" d="M1111 318h0m-14-2h0m-32-2h0m-26 18h0m6-7h0m3 8h0m2 6h0m1-12h0m5 10h0m1-4h0m4-8h0m0 5h0m1 5h0m0 3h0m5 1h0m1-4h0m0-2h0m2-8h0m1 12h0m2-7h0m1 8h0m1-10h0m1-7h0m1 6h0m0-4h0m2 15h0m1-7h0m1-4h0m2 8h0m0-15h0m0 17h0m0-2h0m1 1h0m0-3h0m0-10h0m0 12h0m1-5h0m2-6h0m1 15h0m0-11h0m0-8h0m2 13h0m1 4h0m0-4h0m1 2h0m3-5h0m0 4h0m0 1h0m0-3h0m0-11h0m1 1h0m0 5h0m1 12h0m2-8h0m2 8h0m0-17h0m1 5h0m0 10h0m0-6h0m0 3h0m3-4h0m0-1h0m1-3h0m3 4h0m1 5h0m0-4h0m2-2h0m3 7h0m13 3h0m10-1h0m8 21h0m-5-3h0m-1 1h0m-6-8h0m0 7h0m-3-16h0m-1 14h0m0 5h0m-1-13h0m-1-6h0m-1 8h0m0 3h0m-2 3h0m-2-11h0m0 14h0m0-9h0m0-2h0m-5 7h0m-1 5h0m-1-11h0m-1 2h0m-1 3h0m0 4h0m-2-8h0m-1 6h0m-1-6h0m-1 6h0m-1 3h0m0 0h0m-1 1h0m-1-14h0m-2 9h0m0 4h0m-3 2h0m-2-7h0m0 1h0m0-2h0m-2-8h0m-1 16h0m0-8h0m0 4h0m0-6h0m-1 0h0m0 0h0m-1 0h0m-1-4h0m0 12h0m0-17h0m-2 8h0m0 3h0m-1-11h0m-1 19h0m-1-7h0m-1 0h0m-1-12h0m-1 0h0m0 1h0m-1 14h0m-1 2h0m0-12h0m-2 10h0m-1-6h0m0 3h0m0 3h0m-1-13h0m-1 10h0m0-8h0m-1 4h0m-3 6h0m-2-6h0m0 6h0m-1-14h0m0 17h0m0-14h0m-2 1h0m-1 1h0m0 10h0m-2-8h0m0 0h0m-1 6h0m0-8h0m-1 7h0m-3 6h0m-1-8h0m0-3h0m0 11h0m-1 1h0m0-1h0m-1-18h0m0 4h0m-1 11h0m-1-14h0m0 3h0m-1 7h0m-1-9h0m0 3h0m-1 4h0m-1 7h0m0-15h0m-1 6h0m-1 0h0m-2 2h0m0 5h0m-1-8h0m0 3h0m-1 9h0m-2 1h0m-1-4h0m-1-7h0m-1 6h0m0 2h0m-2-3h0m0 6h0m-4-2h0m0-11h0m-2 10h0m0 3h0m0-14h0m0 14h0m-1-1h0m-1-15h0m-18 14h0m-3 21h0m2-1h0m9-4h0m3-11h0m1 15h0m1-3h0m2-3h0m2 1h0m2-5h0m2 3h0m2 5h0m0-4h0m1 4h0m0-13h0m0 7h0m0 2h0m1 7h0m0-14h0m1 4h0m1 4h0m1-10h0m0 11h0m1-4h0m0 4h0m1 1h0m1-2h0m0-7h0m2 6h0m1 7h0m0-9h0m1 6h0m1-11h0m1 6h0m0 8h0m0-5h0m1-13h0m2 11h0m0 1h0m0-2h0m1 2h0m1-5h0m0 11h0m0-1h0m3-1h0m1 3h0m0-14h0m1 8h0m0-7h0m1-5h0m0-1h0m1 6h0m0 9h0m1-14h0m1 0h0m0 7h0m0 5h0m0-12h0m0 18h0m1-11h0m1 11h0m0-7h0m0-9h0m1-3h0m0 16h0m0-13h0m0 1h0m1 4h0m0 4h0m1-9h0m1 3h0m0 5h0m2 4h0m0-7h0m0-3h0m0 5h0m1-10h0m1 12h0m0-3h0m1-4h0m1-5h0m0 12h0m1-11h0m0 9h0m2-1h0m1 7h0m0-15h0m0 11h0m0 0h0m1-11h0m1 9h0m1 9h0m4 0h0m1-9h0m1 0h0m1-9h0m1 15h0m0-8h0m1-3h0m0 10h0m0-13h0m1 7h0m0-9h0m2 9h0m0-4h0m1 13h0m0-9h0m0 3h0m1 3h0m0-12h0m1 12h0m0-1h0m0 0h0m1 3h0m1-11h0m0-1h0m2-3h0m0-2h0m2 1h0m0 13h0m2-11h0m0 6h0m0 10h0m2-1h0m1-14h0m0 11h0m1 4h0m1-6h0m0-8h0m1-1h0m0 14h0m0-11h0m0 6h0m1 0h0m1-10h0m0 4h0m1 7h0m1-10h0m1 14h0m1-4h0m0-5h0m1 8h0m0 0h0m1-15h0m1 16h0m1-12h0m0 3h0m0 3h0m1-8h0m1 9h0m1-5h0m2-5h0m0 16h0m0-5h0m0-5h0m2 2h0m0-5h0m1 6h0m0-10h0m1 0h0m1 4h0m1 9h0m1-9h0m1-6h0m0 13h0m0-3h0m0 4h0m1-12h0m0 12h0m0-13h0m1 4h0m0-4h0m1 11h0m0 0h0m1 0h0m0-6h0m4 10h0m6-9h0m15 17h0m-11 11h0m-4 3h0m-1-13h0m-1 9h0m0-10h0m0 1h0m-1-3h0m-1 15h0m-1-13h0m0 0h0m-2 2h0m-4 6h0m-1-11h0m0 7h0m-1 4h0m0-11h0m-1 17h0m0-4h0m0-2h0m0-8h0m-1 12h0m-2-16h0m0 4h0m0 15h0m0-4h0m-2 1h0m-2-13h0m0 3h0m-1-6h0m-1 1h0m0 14h0m-1 3h0m0-16h0m0 9h0m-1 6h0m0-13h0m-1-3h0m-1 7h0m0 3h0m-1-10h0m-1 13h0m0-2h0m-1 4h0m0 3h0m-2-1h0m-2-2h0m0-7h0m-1-6h0m0 4h0m0-6h0m0 5h0m-1-2h0m-1-4h0m-1 2h0m0 7h0m-2-9h0m-1 17h0m-1-11h0m-1-1h0m-1 11h0m-1 1h0m-1-11h0m-3 0h0m0-3h0m-1 11h0m-1-8h0m0 8h0m0 5h0m0-10h0m-1 9h0m0-14h0m-2 10h0m0-8h0m-1-3h0m0 4h0m0 8h0m-1-10h0m-2 4h0m0-9h0m0 8h0m0 4h0m-1-5h0m-1-4h0m0 2h0m-2 5h0m-1 0h0m-2-3h0m-1 3h0m0-1h0m-1-7h0m-2 8h0m-2 6h0m0-13h0m0 16h0m-2-11h0m-3-2h0m-1-3h0m-1 1h0m0 12h0m0-14h0m-1 13h0m-2 3h0m-1-13h0m0 1h0m-1 6h0m-1-5h0m-2 11h0m0-10h0m0 6h0m0-5h0m-1-3h0m0-5h0m-2 8h0m0 6h0m-2-2h0m0-6h0m-1-6h0m-2 5h0m0 3h0m0 9h0m-1-10h0m0-6h0m-1 2h0m0 0h0m-1 2h0m0-5h0m-1 17h0m0-7h0m0 7h0m-2-3h0m-1-11h0m0-2h0m-1 6h0m-1 11h0m-2-8h0m0-10h0m-2 5h0m-1-2h0m-2 10h0m0-5h0m-1-7h0m0 14h0m0-5h0m-1-11h0m-1 15h0m-1-7h0m-1 6h0m0-6h0m0 5h0m-1-5h0m-1 1h0m0 10h0m0-11h0m-2 11h0m-1-6h0m0 3h0m0-15h0m-1 3h0m0-1h0m-1 8h0m-3-5h0m-1-4h0m0 11h0m-2 5h0m-2-1h0m-3 0h0m-1-4h0m0-1h0m-1 5h0m-3-1h0m-1-8h0m0-7h0m-7 12h0m-2-9h0m-5 17h0m3 15h0m2-9h0m1-4h0m0 7h0m1-9h0m4 11h0m1 0h0m0-5h0m2-3h0m0 14h0m1-6h0m2-2h0m0 2h0m1-5h0m1 2h0m0 4h0m0 0h0m1-9h0m3 2h0m0 5h0m4 8h0m0-1h0m1-1h0m1 1h0m1-2h0m1 0h0m1-1h0m0-3h0m0-1h0m1-6h0m0 11h0m0 3h0m0 0h0m1-5h0m1-2h0m0-5h0m2-4h0m0-1h0m1-2h0m1 18h0m0-13h0m0-2h0m1 11h0m0-8h0m0-4h0m0 6h0m0-1h0m2 1h0m1 3h0m1 4h0m0 1h0m1-11h0m1 7h0m1 7h0m0-6h0m0-11h0m1 10h0m0 5h0m0-13h0m1-3h0m0 10h0m1-2h0m1 6h0m1-10h0m2-4h0m0 10h0m0-2h0m2-9h0m0 14h0m1 0h0m1 5h0m0-4h0m0-5h0m1 7h0m1 0h0m0-3h0m2 1h0m2-1h0m1-9h0m1 12h0m0-12h0m1-1h0m0 6h0m1-2h0m0-7h0m1 10h0m0-8h0m0-3h0m1 19h0m0-5h0m3-4h0m0 9h0m1-11h0m1-5h0m1 4h0m2 3h0m0 7h0m1-8h0m1 6h0m0-2h0m0-5h0m0 9h0m1-17h0m0 12h0m1-10h0m0 8h0m0 0h0m2-2h0m0 11h0m1 0h0m0-3h0m1-8h0m0 2h0m2 9h0m1 0h0m1-17h0m1 16h0m4-3h0m0-13h0m1 7h0m0-5h0m0 10h0m1 2h0m0 2h0m1-13h0m0 14h0m0-2h0m0-11h0m2 6h0m2-2h0m1 7h0m1 0h0m2-12h0m1 8h0m2-2h0m0-8h0m0 16h0m0-19h0m0 3h0m1 15h0m1-6h0m2-5h0m1 4h0m1 1h0m1-3h0m0-7h0m0 2h0m1-2h0m1 7h0m1-8h0m0 3h0m1 9h0m0 1h0m0-9h0m1 5h0m0-1h0m2-3h0m0-6h0m1 7h0m0 12h0m1-1h0m0-11h0m3 3h0m2-1h0m1 10h0m0-8h0m1 7h0m1-17h0m0 5h0m0 12h0m1-13h0m0 10h0m0-11h0m0 1h0m1 4h0m0-2h0m1 2h0m1 5h0m0 4h0m0-2h0m1-16h0m1 1h0m1 14h0m1-7h0m0-3h0m1 4h0m1 8h0m1-13h0m0 11h0m1 1h0m0-11h0m1-4h0m0 4h0m0 1h0m0-1h0m1 5h0m0 4h0m2-9h0m1 8h0m1-6h0m0 1h0m1-4h0m0-3h0m2 0h0m3 11h0m3-9h0m4-2h0m3 6h0m-8 18h0m-4-1h0m-2-3h0m-1 3h0m-3 2h0m-1 13h0m0-12h0m-1 2h0m0 10h0m0-4h0m-1-12h0m0-1h0m-1 3h0m0-1h0m-2-2h0m0 5h0m-3 1h0m0 10h0m0-15h0m0 13h0m-1-5h0m0 4h0m-1 3h0m-1-7h0m0 8h0m0-6h0m-1 4h0m0-17h0m0 5h0m-1-3h0m-1 2h0m-1 5h0m-1 4h0m-1-3h0m0-5h0m-3 11h0m-1-11h0m-1-2h0m0 0h0m0 14h0m-1-5h0m0 1h0m0 2h0m0-2h0m-1-6h0m-1 1h0m0 6h0m-2-5h0m0 2h0m0 3h0m-1-7h0m0 0h0m0-1h0m-2-2h0m-2 2h0m-2-3h0m0-1h0m-1 5h0m0 9h0m-3-6h0m-1 3h0m-1-1h0m-1-10h0m0 8h0m-1-9h0m-1 1h0m0 13h0m-1-3h0m-1-9h0m-1 3h0m0 3h0m-3 3h0m-3-3h0m-1 5h0m-1-6h0m-1-5h0m0 10h0m-1 2h0m0 4h0m-2-10h0m0-5h0m-1-3h0m-2 10h0m-2-10h0m0 18h0m0-14h0m0 1h0m0 0h0m-1 10h0m0-3h0m-2-5h0m-2-2h0m0 12h0m-1-14h0m0 14h0m-1-3h0m0 2h0m0-9h0m-1 5h0m0 6h0m-2-9h0m0-1h0m-1-7h0m-1 2h0m-2 11h0m0-14h0m-1 8h0m0-4h0m-1 2h0m-1 1h0m-2 2h0m0 6h0m0-12h0m0 4h0m0 5h0m0-13h0m-1 14h0m0-7h0m0 12h0m-1-16h0m-1 1h0m-1 10h0m-1-8h0m0 2h0m0-5h0m-1 11h0m-1-4h0m0-10h0m-1 5h0m0 0h0m-1 13h0m-1-4h0m-1-6h0m-1 6h0m0-9h0m0 4h0m0-5h0m-1 2h0m0 10h0m-1 1h0m0 2h0m-1-3h0m0-10h0m-1 12h0m0-12h0m0 8h0m-1-9h0m-2 6h0m0-1h0m-1-10h0m-1 13h0m0-10h0m-1 1h0m0 6h0m0 9h0m0-6h0m-1 4h0m-1-6h0m-2-8h0m-1-2h0m-1 0h0m0 5h0m0 11h0m-1-8h0m0 0h0m0 1h0m-1 3h0m0 1h0m0-12h0m0 0h0m-1 1h0m0 4h0m-1 0h0m0 11h0m-3-16h0m0 14h0m0-1h0m-1-3h0m-1 0h0m-1-9h0m-1 16h0m-1-14h0m-1 11h0m-1 0h0m0 2h0m-1-18h0m-1 3h0m-2 11h0m0-13h0m0 6h0m0-7h0m-1 3h0m-1 16h0m-2-10h0m0 6h0m0 0h0m0-15h0m-1 4h0m0 2h0m0 13h0m-1-4h0m-1-2h0m0-11h0m-1 13h0m-3-4h0m-1 3h0m0-14h0m-1 3h0m-2 4h0m-1 7h0m0-6h0m0-1h0m0 10h0m-3-8h0m-1 0h0m-3 6h0m-2 2h0m-5-2h0m-3 15h0m3-2h0m4-6h0m0-1h0m1 3h0m0-4h0m1 18h0m4-17h0m1 3h0m1 1h0m2 8h0m0-11h0m0 6h0m1 7h0m1 1h0m2-15h0m1 10h0m0-11h0m1 8h0m1-7h0m1 0h0m0 4h0m0 14h0m1-15h0m0 2h0m2 3h0m0 8h0m0-5h0m1-10h0m0 7h0m0 6h0m0 4h0m1-7h0m1-4h0m2 4h0m0-4h0m1 9h0m0-12h0m1-1h0m0 5h0m0 9h0m1-8h0m1 4h0m0 4h0m1-15h0m2 5h0m0-4h0m1 12h0m1-9h0m0 7h0m1 2h0m0 2h0m1-4h0m1 4h0m1-5h0m0 5h0m0-7h0m0-4h0m0 12h0m1-12h0m0-5h0m0 3h0m1 1h0m0 12h0m1-10h0m0-6h0m0 0h0m1 16h0m0-6h0m1-6h0m1 7h0m1 0h0m1 5h0m0-2h0m0-8h0m0 1h0m2 3h0m1-5h0m2 12h0m1-6h0m2-12h0m0 10h0m1-3h0m0 11h0m0-2h0m2-8h0m0 4h0m0 3h0m1-9h0m0 5h0m1-6h0m1-3h0m1 3h0m1 4h0m1 2h0m0-9h0m1 12h0m1-1h0m1-4h0m0 3h0m2 6h0m1-10h0m2-1h0m2-1h0m1-2h0m1 13h0m0-15h0m1 3h0m3 10h0m1-9h0m0 1h0m3-5h0m0 5h0m0 9h0m0-8h0m1-9h0m0 18h0m1-15h0m1 7h0m1-9h0m1 3h0m0 11h0m1 0h0m3-8h0m0 2h0m0-4h0m1 13h0m0 1h0m0-19h0m0 19h0m1-16h0m1 5h0m0-5h0m2 15h0m2-13h0m0-2h0m0 2h0m1 4h0m1 7h0m0-13h0m1 3h0m2 9h0m0-14h0m1 3h0m0 10h0m2-4h0m0 3h0m0-8h0m0 10h0m2 1h0m1 2h0m0-8h0m1 0h0m1-4h0m0 10h0m1-4h0m1 2h0m0 2h0m2-7h0m1 1h0m0 5h0m1 0h0m0-4h0m0 2h0m1 4h0m1-1h0m0-14h0m1 7h0m1 10h0m1-4h0m2 4h0m0 0h0m2-8h0m0-10h0m1-1h0m0 2h0m2 12h0m4-9h0m1 2h0m1 4h0m1 5h0m0-8h0m1 4h0m0-2h0m0 9h0m1-12h0m1-3h0m0 11h0m0-15h0m1 18h0m0-11h0m0-2h0m0 0h0m1 1h0m1 2h0m0 10h0m1-17h0m0 16h0m0-14h0m1 11h0m0-9h0m1 13h0m1-15h0m1 13h0m3-6h0m1-10h0m7 8h0m6-7h0m2 2h0m-6 19h0m0 10h0m-2-4h0m-1 11h0m-2-5h0m-1-12h0m-1 9h0m-1-1h0m-1 6h0m0-12h0m-1 6h0m0-10h0m-1 5h0m-4 12h0m-1-15h0m-2 17h0m-1-8h0m0 3h0m-1-1h0m0 2h0m-1-13h0m-2 11h0m0-8h0m-1 7h0m0-3h0m0 7h0m-1-7h0m0-7h0m-1 1h0m0 10h0m0-5h0m0-7h0m-2 1h0m0 2h0m-1 5h0m-1-5h0m0 13h0m-1 0h0m-1-1h0m0 3h0m-2-8h0m0 8h0m0-3h0m-1 0h0m0-10h0m-1 9h0m-1 3h0m-4-12h0m0 11h0m0-8h0m-1-5h0m-1 10h0m-2 0h0m0-7h0m0 3h0m0-4h0m-2 6h0m0-8h0m-1 1h0m0-3h0m-1 11h0m-1-6h0m-1 2h0m-1-8h0m0 5h0m-2 1h0m0 11h0m-3-7h0m-1-7h0m-1-4h0m0 2h0m0 11h0m-1 2h0m-2-15h0m-1 3h0m-1 16h0m0-14h0m-1-2h0m0 4h0m0-2h0m-1 3h0m-3-8h0m-1 19h0m0-11h0m-1 2h0m-1-5h0m0 9h0m-1-7h0m0-5h0m-1 14h0m0 0h0m0-3h0m-1-11h0m0 13h0m0-5h0m-1-8h0m-1 2h0m-1 3h0m0 3h0m0 1h0m-1 1h0m0 7h0m-1-18h0m-1 12h0m0-11h0m0 17h0m-3-1h0m-2-16h0m0 15h0m-1-13h0m-1 10h0m0-1h0m0-11h0m-1 5h0m0 3h0m-1-5h0m-2-4h0m-3 11h0m-1-9h0m-1 14h0m-1-6h0m0 0h0m-1-9h0m-1 2h0m-1 11h0m0-5h0m-2-10h0m0 14h0m0-7h0m-1 6h0m-1-11h0m-2 5h0m0 10h0m-1-16h0m-1 14h0m0-1h0m-1-1h0m0-8h0m0-4h0m0 5h0m-1-5h0m0 7h0m-1-5h0m0 5h0m0 3h0m-1 5h0m0-9h0m-1 8h0m0-10h0m-2 0h0m0-4h0m-1 13h0m-1-6h0m-2 11h0m-1-10h0m0 1h0m0-4h0m0 6h0m-1-1h0m0 2h0m-2-5h0m0 5h0m-1-3h0m-1-4h0m0 0h0m0 6h0m-1 3h0m0 0h0m0-10h0m-2-3h0m0 9h0m-1 7h0m-2-13h0m-1 2h0m0 11h0m-1-13h0m0-4h0m0 13h0m-1 1h0m0-7h0m-1 11h0m0-13h0m-3 11h0m-1-2h0m0-3h0m0 6h0m-1-7h0m0 3h0m0-9h0m-1-4h0m-1 6h0m0 11h0m-1-13h0m-1 10h0m-4 0h0m-1 4h0m0-13h0m0-4h0m-1 13h0m0-5h0m-2-7h0m0 4h0m-2 4h0m-1 5h0m0-7h0m0-2h0m-1-4h0m-1 3h0m-1-4h0m0 11h0m-1 6h0m0-4h0m0 2h0m-4 1h0m0-13h0m-2-4h0m-1 0h0m-2 0h0m-15 11h0m24 16h0m2 9h0m0-14h0m0-1h0m0 9h0m5 2h0m1 0h0m0 3h0m1-15h0m2 2h0m1 10h0m0-13h0m0 9h0m0 1h0m1-1h0m1 0h0m0-9h0m0 16h0m0-6h0m1 4h0m0 1h0m0-12h0m2 13h0m0-6h0m1-7h0m0 14h0m1-7h0m0 8h0m0-4h0m1-4h0m0-10h0m1 16h0m4-10h0m0 12h0m0-8h0m0-4h0m3 7h0m1 5h0m0-11h0m1-6h0m0 16h0m2-7h0m1 7h0m0-6h0m1-1h0m0-3h0m0-1h0m1 7h0m1 4h0m1-6h0m0-1h0m1-6h0m0-3h0m0 12h0m2-2h0m1 8h0m0-5h0m1-14h0m2 9h0m0 7h0m1-2h0m0 2h0m0-13h0m1 5h0m0 0h0m1-3h0m0-3h0m1 4h0m0 6h0m0-2h0m2 0h0m0-10h0m0 13h0m1-11h0m0 16h0m0-5h0m0 2h0m1 3h0m4-10h0m1 9h0m1-16h0m0 16h0m2-15h0m0 0h0m0 1h0m1-2h0m3 4h0m2 6h0m0-9h0m0 16h0m0-14h0m2 11h0m0-15h0m1 18h0m1-3h0m0-4h0m1-9h0m2 10h0m0-5h0m0 9h0m2-10h0m2 8h0m0-10h0m1 11h0m0-4h0m1-4h0m0 1h0m1 1h0m0 9h0m0-10h0m2 3h0m0 6h0m1-17h0m0 13h0m0-11h0m2 13h0m1-13h0m0 6h0m0 0h0m1-4h0m1 6h0m0 5h0m0-3h0m0-8h0m0 0h0m1 15h0m2-12h0m1-5h0m0 5h0m0 8h0m1-5h0m0-4h0m1 1h0m0-5h0m0 16h0m0-14h0m3-3h0m0 5h0m1-3h0m1 9h0m0 7h0m1-15h0m0 11h0m0-5h0m1 5h0m1-7h0m1-8h0m0 14h0m1-7h0m2-2h0m0 6h0m0 6h0m1-15h0m0 10h0m2-11h0m1 14h0m0-7h0m0 5h0m1-3h0m0-3h0m1-5h0m1 2h0m0 6h0m1-10h0m1 10h0m2 0h0m0 9h0m2-16h0m2 4h0m1 10h0m1-2h0m2-14h0m0 17h0m1-4h0m0-4h0m0-4h0m1-1h0m1 2h0m0 3h0m0 9h0m0 0h0m2-17h0m0 0h0m1 3h0m1 1h0m1 13h0m0-10h0m0 7h0m1-2h0m0-9h0m0-2h0m1 13h0m0-15h0m1 15h0m1-2h0m0-4h0m2-4h0m0 8h0m1-14h0m1 0h0m0 14h0m0-6h0m1 0h0m0 2h0m0-4h0m2 12h0m0-7h0m0-8h0m1 12h0m4-13h0m1 0h0m0 11h0m1-2h0m1 3h0m0-10h0m1 5h0m1 8h0m0-14h0m1-3h0m1 5h0m2 10h0m2-15h0m5 16h0m3 7h0m-2 10h0m-2-6h0m-2 0h0m-3 0h0m-1 3h0m0 4h0m0-1h0m-1-13h0m-1 3h0m0 16h0m-4-5h0m0-6h0m-1 1h0m0 8h0m0-17h0m0 19h0m0-14h0m-1 6h0m0-9h0m0 12h0m-1 0h0m-1-11h0m-1 10h0m-1 0h0m-1 3h0m-1-12h0m0 15h0m-1-14h0m-1 5h0m-3-2h0m0 10h0m-2 0h0m0-7h0m-1-5h0m-1 1h0m-4 12h0m-3-8h0m-2 8h0m0-7h0m-1 4h0m-2-14h0m0-2h0m-2 15h0m-1 0h0m0-10h0m-1 5h0m-1 3h0m0 3h0m-1-13h0m-3 12h0m0-5h0m0 3h0m0-3h0m0 4h0m0-10h0m0 13h0m-2-14h0m-1-2h0m0 16h0m-1-10h0m-2 5h0m-1-5h0m0-2h0m0 7h0m0-6h0m0 3h0m-1 4h0m-1 4h0m0-14h0m-2 6h0m-2 6h0m0-2h0m-1 1h0m0-8h0m0-3h0m-1 7h0m0-5h0m-1 12h0m0-3h0m-1-7h0m-3-2h0m0 13h0m0-13h0m-2 1h0m0 11h0m-1-1h0m-1-3h0m-1-11h0m0 6h0m0-4h0m-1 13h0m-1-6h0m0-9h0m0 14h0m0-8h0m-2 8h0m0-12h0m-1 0h0m0 5h0m-2 8h0m-1 2h0m0-3h0m-1 1h0m-2 1h0m0-2h0m-1 3h0m-1-5h0m-2-10h0m-1 10h0m-1-3h0m-1 1h0m-2-1h0m-1-6h0m0-3h0m0 16h0m-2-1h0m0-16h0m0 6h0m-1 3h0m0 5h0m-1-10h0m-4-1h0m-1 3h0m0 11h0m-3-7h0m-2-9h0m-1 5h0m-2 12h0m0-3h0m0-4h0m0-1h0m-1 2h0m0-12h0m-2 0h0m0 11h0m-1 4h0m0-1h0m-1-13h0m0 4h0m0-3h0m-1-1h0m0 17h0m-1-14h0m0 12h0m-1-16h0m0 7h0m-1 4h0m0 0h0m-1-12h0m-1 0h0m-1 1h0m0 1h0m0 9h0m-1-11h0m0 16h0m-1-9h0m-1 10h0m0-14h0m-1 10h0m0-4h0m-1 4h0m-1-7h0m0 2h0m-1 6h0m0-14h0m-2 14h0m0 5h0m-1-16h0m0 12h0m-1 4h0m0-18h0m-1 14h0m-1-2h0m0 1h0m-2-13h0m0 13h0m-2-13h0m0-1h0m0 8h0m0-3h0m-2 7h0m0-12h0m-1 18h0m-1-4h0m-1-6h0m-6 8h0m-3-14h0m0 0h0m0 2h0m-1 2h0m-1 0h0m-1-4h0m0 13h0m-1-5h0m-3-5h0m-11 10h0m12 6h0m1 4h0m10 4h0m7 4h0m2-10h0m2-3h0m2 8h0m0-6h0m0 11h0m1-5h0m1 4h0m0-9h0m0 16h0m1-5h0m2 1h0m1-7h0m1 2h0m4 8h0m0-16h0m2 15h0m0-4h0m5-5h0m0-7h0m0 17h0m2-10h0m1-5h0m2 15h0m0-4h0m1 3h0m0-13h0m1 9h0m0 1h0m1-3h0m0-9h0m2-1h0m1 3h0m1 2h0m0 9h0m0-1h0m0-5h0m1-4h0m1 5h0m0 9h0m3-4h0m1-6h0m2-7h0m0 7h0m1-1h0m0 10h0m1-12h0m0 11h0m1-10h0m0 6h0m1-13h0m1 7h0m0 5h0m2 1h0m0 5h0m0-9h0m2-8h0m1 2h0m0 9h0m1-1h0m1 0h0m0 3h0m1 4h0m0-9h0m0-4h0m2-5h0m2 8h0m0-6h0m0 11h0m0-7h0m0 13h0m1-15h0m0 14h0m0-12h0m1 2h0m0 11h0m0-9h0m4-2h0m0 2h0m1-3h0m1 9h0m0-9h0m0-3h0m1 4h0m5 11h0m0-14h0m1 7h0m0 1h0m0 6h0m1-16h0m0 1h0m0 0h0m0-3h0m1 7h0m0-6h0m0 16h0m2-15h0m1 3h0m0 3h0m2 6h0m1-6h0m0-3h0m1-3h0m2 12h0m2-10h0m3 6h0m1-1h0m1-3h0m2-3h0m0 10h0m0-7h0m2 2h0m1 3h0m0-4h0m1 4h0m0-12h0m0 13h0m1-10h0m0 12h0m0-2h0m0-11h0m0 9h0m0-8h0m1 7h0m1 0h0m1 5h0m2-8h0m1 6h0m0-5h0m1 1h0m0 10h0m5-1h0m1-2h0m0-8h0m0-1h0m1 6h0m1 0h0m0-6h0m0 11h0m1-11h0m1 6h0m1-13h0m0 7h0m1-4h0m2 3h0m0 4h0m0 9h0m1-5h0m1-9h0m0 13h0m0-12h0m0 8h0m1 2h0m1 3h0m1 0h0m1-6h0m0-12h0m0 17h0m2-16h0m0 13h0m0-3h0m1 3h0m0 3h0m1-6h0m0 4h0m1-7h0m0 9h0m1 0h0m0-13h0m1-1h0m1 7h0m0-3h0m0 9h0m1 0h0m0 1h0m3-9h0m1-3h0m1 6h0m3 6h0m9 1h0m-5 4h0m-2 2h0m-2 11h0m0-14h0m-1 14h0m0 1h0m-4-12h0m-1-5h0m0 1h0m0 3h0m-1 8h0m-1 5h0m0-15h0m-1 3h0m-1 14h0m-3-12h0m-1 2h0m0-7h0m-1 0h0m-3 10h0m0 1h0m-4-1h0m-1-4h0m-2-7h0m-2 11h0m0 4h0m-1-15h0m0-1h0m-3 1h0m-2 2h0m0 0h0m-2 15h0m-1-17h0m0 11h0m-1 0h0m0-6h0m0 3h0m0-7h0m0 7h0m-2 9h0m0-14h0m0 10h0m-1-1h0m0-13h0m-2 13h0m0-9h0m0 11h0m-1-12h0m0-1h0m-1 16h0m-1-10h0m-1 6h0m-1 3h0m0-12h0m-1 10h0m-1 1h0m0-12h0m0 14h0m-6-13h0m0-1h0m0 1h0m-2 11h0m0-7h0m-1-6h0m-1 7h0m-1 0h0m-1 4h0m-1 2h0m0-10h0m-1 7h0m0-6h0m-4-4h0m0 10h0m-1 6h0m-2-5h0m-1-9h0m0 11h0m-1-11h0m0 11h0m0 1h0m0-15h0m-1 14h0m-1-8h0m0 2h0m-1-4h0m0-3h0m0 11h0m-2-2h0m0-2h0m0-7h0m-1-3h0m-1 14h0m0-12h0m0 8h0m0 7h0m0-3h0m-1-8h0m0 9h0m-2-15h0m0 12h0m-1-3h0m0-7h0m0 13h0m0-8h0m-1-7h0m-1 19h0m-1-18h0m0-1h0m0 14h0m-1-5h0m0-1h0m0 6h0m0 1h0m0-4h0m-1 5h0m-1-12h0m0 13h0m-1-3h0m0 4h0m0-12h0m-1-3h0m0-1h0m-1 1h0m0 3h0m0-1h0m0-5h0m0 14h0m-1-10h0m0 6h0m0-4h0m-1-6h0m0 3h0m0 6h0m-2 0h0m0 5h0m0-6h0m0 1h0m-1 3h0m0-9h0m-2 7h0m-1 6h0m-1-8h0m0-1h0m0-6h0m-1 14h0m-1-3h0m-1-11h0m0 5h0m0 13h0m0-9h0m0 9h0m0 0h0m0-19h0m-2 10h0m-1-9h0m-1 10h0m-2 6h0m-1-16h0m0 9h0m0 3h0m-1-11h0m-1 3h0m-2 11h0m-1-2h0m0-10h0m-1-4h0m0 10h0m0-9h0m0 6h0m-1-2h0m-1 8h0m-1 1h0m-3-2h0m-4 7h0m-2-17h0m-2 4h0m10 14h0m2 13h0m4-10h0m3 8h0m3 1h0m1-6h0m2-5h0m0 0h0m1 0h0m2 0h0m2 1h0m1 10h0m1-6h0m0 11h0m2-13h0m1 9h0m0 0h0m0-10h0m1 0h0m3 1h0m2 10h0m1-6h0m1 2h0m2 8h0m4-8h0m3 0h0m1-4h0m1 0h0m0 6h0m1 4h0m0-12h0m0 10h0m2 3h0m0 0h0m0-13h0m1 5h0m0-4h0m1 11h0m1-3h0m0-9h0m2 1h0m0-5h0m0 6h0m0 1h0m1-7h0m1 17h0m1-2h0m0-2h0m0-7h0m1-2h0m0 2h0m0 8h0m0-6h0m1 9h0m4 2h0m1-6h0m1-8h0m5 9h0m1-14h0m1 14h0m0 5h0m1-17h0m2 13h0m0-6h0m2 1h0m0 0h0m0 6h0m3-9h0m1 3h0m1-3h0m0-2h0m0 14h0m1-3h0m0-4h0m1-4h0m1 6h0m1-2h0m0 7h0m1-5h0m2-4h0m0-3h0m1-5h0m1 3h0m1 13h0m0 0h0m0-1h0m0-2h0m0-1h0m0 5h0m2-2h0m0-13h0m1 14h0m1-3h0m0-13h0m1 16h0m0-7h0m1 5h0m0-12h0m0 10h0m1 2h0m1-16h0m0 12h0m0 4h0m0 0h0m2-2h0m0 4h0m0 1h0m2 0h0m0-1h0m1-7h0m1-10h0m0 17h0m2-1h0m0-14h0m2-1h0m0 13h0m0-14h0m0 9h0m0-1h0m1 2h0m1-5h0m0 0h0m0 11h0m0 0h0m2-10h0m0 11h0m0-10h0m1 5h0m0 4h0m0-7h0m0 8h0m0-9h0m1-9h0m0 15h0m2-9h0m0 8h0m2-8h0m1 10h0m0-11h0m0 3h0m0-1h0m1-4h0m1 0h0m0-2h0m1 17h0m1 1h0m0-10h0m2 6h0m3-8h0m2 5h0m1-8h0m7 9h0m8 5h0m-6 7h0m-5 9h0m-3 5h0m-2-12h0m0 6h0m-1-11h0m0 10h0m-1 7h0m0-12h0m-1 6h0m0-6h0m-1 3h0m-1-6h0m-1 3h0m0 5h0m-2-8h0m-1 9h0m0-1h0m-1-5h0m0 7h0m-1 0h0m-1-4h0m0-8h0m-1 7h0m0-7h0m-1 6h0m0 5h0m0-3h0m0 7h0m-2-6h0m0-2h0m0-1h0m0-2h0m-1 10h0m0 0h0m-1-1h0m-1-15h0m-1 8h0m-2-6h0m-1 15h0m-2-16h0m0 8h0m-1-6h0m0 15h0m-1 0h0m0-12h0m0 11h0m-1-5h0m0-6h0m-2-5h0m0 2h0m0 16h0m-1 0h0m0-17h0m-2 14h0m0 2h0m0-10h0m-1 5h0m-1 1h0m0-2h0m-2-10h0m-2 10h0m-2 2h0m0-1h0m0-12h0m0 0h0m-1 7h0m-1 7h0m-1-12h0m-1 2h0m0 0h0m-2 9h0m0-4h0m-3-10h0m0 5h0m-2 4h0m0-3h0m0 10h0m-2-13h0m-1 15h0m0 1h0m0-11h0m0 10h0m-1-12h0m0-5h0m0 2h0m-2 5h0m0-4h0m0-3h0m-1-1h0m-1 0h0m0 19h0m-1-7h0m-1-3h0m-2 5h0m0 3h0m-1 1h0m0-12h0m-2 12h0m-1-10h0m0 6h0m-1-3h0m0-6h0m0 5h0m-2-2h0m-1-7h0m0 10h0m-1 1h0m0-4h0m-6-1h0m0-1h0m-1 12h0m-1-3h0m0-6h0m-1 6h0m0-13h0m-1 0h0m0 14h0m-2-10h0m0-3h0m-1-2h0m0 1h0m0 4h0m-2 1h0m-2-4h0m-2 5h0m-1-5h0m-1 0h0m-5 1h0m-3 20h0m28 0h0m2-4h0m2 5h0m1 4h0m1 6h0m5-3h0m0-1h0m1 0h0m1-1h0m1 4h0m0-8h0m1-6h0m1 4h0m0-1h0m1 12h0m0-9h0m1 0h0m1 7h0m0-2h0m1-5h0m1-6h0m1 14h0m0-1h0m0-4h0m2-3h0m0 11h0m1-15h0m3 0h0m0 16h0m1-6h0m0-5h0m0 8h0m1-11h0m0 5h0m0 5h0m2-8h0m1 5h0m1 1h0m1 3h0m2-8h0m0 9h0m0-8h0m1 5h0m1-9h0m1-4h0m1 17h0m0-16h0m2 15h0m1 3h0m3-18h0m0 12h0m1-9h0m3 6h0m1-3h0m0 8h0m1 0h0m1-11h0m0 4h0m1-4h0m0 6h0m0 6h0m1-8h0m0 7h0m1 3h0m1-18h0m2 19h0m0-12h0m1 0h0m1-1h0m1 11h0m2-16h0m3 17h0m0-1h0m0-7h0m0-1h0m1-6h0m1 5h0m1 8h0m1-16h0m0 12h0m0-11h0m1 17h0m4-5h0m1-10h0m-5 22h0m-4 11h0m-2-8h0m-1 7h0m0-7h0m-2 9h0m-2-1h0m0-13h0m-5 16h0m-1-13h0m-3 8h0m-3-11h0m-1 13h0m0-8h0m-1 9h0m-1-3h0m-1-13h0m-1 15h0m-2-12h0m0 3h0m-1 12h0m-1-10h0m-1 6h0m-2-4h0m0-5h0m-1 8h0m-2 3h0m-2-6h0m-2-5h0m0 0h0m-1-4h0m-1 2h0m-2 0h0m-4 0h0m-1 5h0m-1-4h0m-3-5h0m19 22h0m5 1h0m2 3h0m1 4h0m1 0h0m3 1h0m1-11h0m6 9h0m0 8h0m3-4h0m1-11h0m0 17h0m1-13h0m4 2h0m2-8h0m1 4h0m3-1h0m8-2h0" stroke="#f5882a" stroke-width="3" stroke-linecap="round" fill="none"/>
<path transform="scale(0.5)" d="M1294 357h0m-4-5h0m-4 6h0m-10-3h0m-1-6h0m-6 8h0m-32-2h0m-99 23h0m6-13h0m5 11h0m9 2h0m8-3h0m1-3h0m4-2h0m7 5h0m2 1h0m1-4h0m1-1h0m1-7h0m0 9h0m0 3h0m1-5h0m2 3h0m1 3h0m0-8h0m1 5h0m0-6h0m1 0h0m1 5h0m3 2h0m0-13h0m2 9h0m7 8h0m0-3h0m1-2h0m3 0h0m2-6h0m0 9h0m2-9h0m1 11h0m2-11h0m0 0h0m0-5h0m0 14h0m2-10h0m2 4h0m2-3h0m2-4h0m0 5h0m1 2h0m1-3h0m1-6h0m2 1h0m2 11h0m1 4h0m5-13h0m1 6h0m1-6h0m0 1h0m0 13h0m0-4h0m1-11h0m1 7h0m2-2h0m1 5h0m1 3h0m1-7h0m1 7h0m1 0h0m1-8h0m0-2h0m7 6h0m3-2h0m0-1h0m2 9h0m0-5h0m0-4h0m3-9h0m0 13h0m1-12h0m2 7h0m3 3h0m0 1h0m0-11h0m2 7h0m0 5h0m1-3h0m1-2h0m0 1h0m1 4h0m0 0h0m2-1h0m0-6h0m0 1h0m1 9h0m1-15h0m3 2h0m2-2h0m0 6h0m1-6h0m1 15h0m1-10h0m2 8h0m1 3h0m0-14h0m1 2h0m0 9h0m3-3h0m3 2h0m1 1h0m1-5h0m0-2h0m0-4h0m1 11h0m1-1h0m0 3h0m2-5h0m0-2h0m1 7h0m1-10h0m0 12h0m1-10h0m1 0h0m0-6h0m1 11h0m0 1h0m2-9h0m4 11h0m1-7h0m1 4h0m2 1h0m2-1h0m0-3h0m1 6h0m5-3h0m4 1h0m3 18h0m0-13h0m-1 5h0m-6-1h0m-2 8h0m-1-10h0m-2 16h0m-2-7h0m-1-2h0m-4 4h0m-4-6h0m0-3h0m0 6h0m-4-7h0m0 7h0m-1-3h0m-1-2h0m-1-3h0m0 13h0m-1-6h0m0 4h0m-1-8h0m-2 3h0m-1-8h0m0 7h0m-1 7h0m-2-4h0m0 7h0m-1 1h0m-2-14h0m-4-1h0m-2 13h0m-2-16h0m0 17h0m0-8h0m-2 6h0m0 1h0m-1-16h0m-1 1h0m-1 8h0m-1 6h0m-1-8h0m0-5h0m0 2h0m-1 12h0m-1-4h0m0 1h0m-1-7h0m0-2h0m0-2h0m-2 0h0m-1 5h0m-1 10h0m0-15h0m-1 5h0m-1 11h0m0-11h0m-1-1h0m-2-6h0m-1 14h0m-1-14h0m0 5h0m-1 11h0m-2-1h0m-2-8h0m0-3h0m-2-1h0m0 3h0m-1-4h0m-1 6h0m0-7h0m0 13h0m-1 3h0m0-2h0m0-8h0m-1-4h0m0 11h0m-2 1h0m-3 4h0m-3-2h0m-3-9h0m0-8h0m-1 1h0m-1 0h0m0 12h0m0 5h0m-2-9h0m-1-5h0m-2 7h0m-1-3h0m-1 6h0m0 1h0m0-12h0m-1 16h0m-2-5h0m-2-2h0m0 0h0m0 5h0m-1-15h0m0 11h0m0 5h0m-2-13h0m0 4h0m-2 9h0m-1-5h0m0-1h0m0 3h0m-1-11h0m-1-3h0m-2 15h0m-1-12h0m0 12h0m0-9h0m0 6h0m-2-9h0m0 1h0m-3-2h0m0 1h0m0 3h0m-1-1h0m-1 0h0m0 5h0m0 0h0m-1 0h0m-1-2h0m-1-3h0m0 7h0m-1-10h0m0 6h0m-1 1h0m-1-5h0m-1 3h0m-1-6h0m-1 5h0m-3 11h0m-1-9h0m-2-2h0m0 1h0m0 11h0m0-7h0m-1 1h0m-1-11h0m-1 13h0m0 1h0m-1-7h0m0 0h0m0 9h0m-1-16h0m0 4h0m-1 11h0m-1-4h0m0-8h0m-1 12h0m-1-1h0m-1-8h0m-1 7h0m-1-3h0m0 2h0m0 1h0m-2-1h0m-1-11h0m-1-2h0m-4 11h0m-1-5h0m-1 4h0m0-5h0m-2 10h0m0-7h0m0 4h0m-2-12h0m0 4h0m0 10h0m-2-3h0m-3 2h0m-1-6h0m-2 6h0m0 1h0m0-3h0m-1 6h0m-2-18h0m0 10h0m-1-5h0m-2 2h0m-2 11h0m-6-5h0m-1-8h0m-5-1h0m-2 13h0m5 21h0m1-2h0m3-2h0m1-4h0m0 2h0m2-8h0m0 10h0m1-14h0m0 11h0m0 5h0m0 0h0m2 1h0m0-8h0m1 0h0m0-8h0m1 1h0m0 8h0m2-9h0m1 15h0m1-9h0m0 7h0m1-9h0m1 12h0m0-7h0m1 3h0m2-5h0m0 8h0m1-15h0m1 1h0m0 4h0m1-6h0m0 15h0m4 1h0m1-11h0m1 14h0m1-16h0m1 5h0m0-3h0m0-5h0m1 15h0m1-14h0m0 5h0m0 6h0m1-3h0m0 0h0m2 9h0m2 1h0m0-5h0m1-10h0m0 12h0m1-1h0m1 3h0m1-15h0m2 13h0m1-15h0m1 16h0m1-7h0m0-7h0m2 12h0m1 2h0m0-14h0m1 15h0m0-16h0m2 10h0m0 1h0m0-5h0m3 7h0m0-14h0m1 15h0m0-1h0m1-8h0m0-5h0m1 12h0m1-7h0m0-3h0m0 4h0m0-5h0m1 1h0m1 9h0m0-7h0m0-1h0m0 10h0m4-12h0m0 4h0m1-4h0m0 0h0m1 2h0m0-1h0m2 3h0m0-6h0m2 17h0m2-14h0m0-3h0m0 12h0m2 4h0m0 2h0m1-13h0m1-2h0m1 1h0m1-5h0m0 8h0m2-4h0m0 14h0m0-15h0m1 9h0m1-5h0m1 9h0m0-13h0m1 5h0m0-8h0m0 16h0m0-16h0m1 12h0m0 6h0m0-6h0m2-1h0m1-6h0m1 14h0m4-14h0m1 14h0m4-12h0m2 8h0m1-5h0m1-2h0m0 1h0m1 9h0m1-10h0m0-2h0m2 11h0m1-9h0m1 1h0m0 7h0m1-7h0m1 7h0m1-1h0m0-3h0m1-6h0m0 8h0m2-7h0m0 11h0m0-6h0m0 6h0m0-8h0m0 2h0m1-11h0m2 18h0m0-10h0m0 7h0m2-8h0m0 1h0m0 5h0m1-3h0m1-7h0m1-1h0m0 4h0m0-2h0m1 12h0m0-8h0m0-8h0m3 14h0m0-5h0m0-2h0m0 0h0m0-4h0m1 5h0m1-6h0m0 13h0m2-14h0m1 15h0m0-14h0m1-1h0m0 8h0m2-5h0m0 8h0m1 4h0m0-15h0m1 6h0m2 9h0m0-1h0m0-9h0m1-6h0m1 2h0m0 0h0m0 10h0m0-11h0m0 8h0m2-3h0m1-1h0m0-2h0m0 13h0m1-13h0m1 5h0m2 4h0m1-7h0m1 10h0m1-16h0m0 19h0m1-1h0m0-6h0m1-8h0m0 10h0m0-2h0m1 0h0m2 7h0m0-6h0m0 5h0m1-7h0m0-3h0m1 7h0m0-12h0m0 0h0m1 10h0m1-11h0m1 3h0m1 4h0m1-5h0m0 1h0m1 2h0m1-7h0m0 13h0m3-1h0m0-5h0m0-4h0m1 13h0m0-3h0m1-12h0m0 2h0m0 8h0m1-4h0m1 10h0m1-10h0m1 0h0m1 5h0m0 3h0m1-4h0m0-2h0m0-3h0m0 11h0m1-5h0m0 1h0m1-12h0m0 7h0m2 3h0m1 3h0m1-3h0m0-8h0m1 6h0m1 1h0m1-7h0m1 4h0m1-2h0m0 14h0m0-13h0m0 5h0m1-9h0m3 10h0m0-9h0m2 3h0m4 13h0m15 0h0m-8 13h0m0-3h0m-5 8h0m-1-15h0m-1 13h0m0-11h0m-2 15h0m-1-14h0m-2-5h0m0 16h0m-1 3h0m-1 0h0m0-18h0m0 1h0m-1 17h0m0-11h0m-1 11h0m0-15h0m-2 13h0m0-2h0m-1-2h0m-1-6h0m0-1h0m0 1h0m0 6h0m-2 5h0m-1-8h0m0 8h0m-1-11h0m-2-1h0m-1 11h0m0-13h0m0 0h0m0-2h0m-1 0h0m-2 12h0m-2-3h0m-1 7h0m-1-14h0m-2 4h0m0 3h0m-1-2h0m-4-6h0m0 7h0m0 9h0m-2-8h0m-2-3h0m-1-1h0m0-7h0m-1 12h0m-1 4h0m0-14h0m-1 17h0m0-7h0m0-7h0m-3 2h0m0 10h0m-1-16h0m0 4h0m0 8h0m0-8h0m-1 5h0m-1 4h0m0 3h0m-1-2h0m-1 3h0m-1-7h0m0 5h0m0-7h0m-1-1h0m-2 6h0m0-14h0m0 18h0m0-8h0m-1-8h0m-1 14h0m0-11h0m0 10h0m-1-9h0m-1 10h0m0-14h0m-1 8h0m-1 1h0m-1-9h0m0 7h0m0-5h0m0 6h0m-2 2h0m-2-1h0m0-1h0m-2 2h0m-1 3h0m-1-1h0m-1 4h0m0 1h0m-1-14h0m0 6h0m-1 7h0m0-17h0m-1 15h0m0-16h0m-1 14h0m-1-12h0m0 11h0m-1-12h0m-1 1h0m-1 3h0m0 2h0m0-1h0m-2 9h0m0 4h0m-1-2h0m-1-3h0m-1-3h0m-3-4h0m0 12h0m0-1h0m0-2h0m-1-7h0m-1 3h0m0-10h0m-4 1h0m0 13h0m-1-15h0m-3 14h0m-1 0h0m0-7h0m-1 1h0m0-6h0m0-1h0m-1 2h0m0 0h0m0 6h0m-1-2h0m-2 6h0m0 4h0m0-10h0m-2 11h0m0-15h0m-4 3h0m-2-7h0m0 19h0m0-2h0m-1-5h0m-2-7h0m-1 13h0m-4-10h0m-1 6h0m-1-3h0m-1-3h0m0-2h0m0-5h0m-1 16h0m0-9h0m0-4h0m-1 4h0m-2 9h0m0-14h0m-3 11h0m-2-3h0m0 1h0m-1 7h0m-3-2h0m0-3h0m-1-13h0m-1 17h0m0-1h0m-2-12h0m0 14h0m0-15h0m-1-2h0m0 12h0m0-7h0m-1-5h0m-2 14h0m0-9h0m-1-1h0m-1 9h0m-1-13h0m-3 13h0m-2 3h0m-3-4h0m0-14h0m-1 6h0m0 5h0m-1-5h0m-3-2h0m-2 5h0m-1 8h0m-2-2h0m-1-8h0m0 7h0m-2-12h0m-1 15h0m0-13h0m-1 6h0m0 8h0m-1-13h0m-1-3h0m0 1h0m-1 6h0m0 0h0m-1-6h0m-1-2h0m0 8h0m0 3h0m-1 4h0m-1-15h0m-1 13h0m-1-14h0m0 3h0m-1 7h0m-3-5h0m-2 10h0m0-7h0m0-4h0m-1 3h0m-1-6h0m0 10h0m0-4h0m-1 5h0m-1 2h0m0 2h0m-2-5h0m0 2h0m0-1h0m-1 1h0m-1-6h0m0 1h0m-1-1h0m0-6h0m-4 17h0m-2-10h0m-3 5h0m-7-11h0m7 26h0m0-4h0m9 13h0m1-10h0m0 12h0m3-13h0m2 7h0m0-8h0m0 1h0m0 7h0m1-1h0m1-4h0m0-5h0m1 8h0m1-2h0m2-8h0m1 2h0m0 7h0m1 8h0m1-1h0m0 2h0m1-19h0m1 18h0m1-7h0m0 2h0m1-10h0m0 11h0m1 5h0m0-5h0m0-13h0m1 10h0m0 1h0m1 0h0m1 6h0m0-15h0m3 12h0m0-15h0m0 1h0m0 3h0m1 15h0m0-1h0m1-15h0m0-1h0m2 3h0m1 8h0m4-3h0m3-3h0m0 6h0m0-12h0m0 10h0m0-9h0m2 6h0m0-1h0m2 3h0m2-5h0m0 13h0m0-1h0m1-8h0m1 0h0m0-5h0m0-4h0m1 2h0m0 7h0m1 9h0m2-6h0m1-1h0m1-7h0m2 13h0m0 2h0m1-4h0m0-7h0m2 9h0m1 0h0m0-5h0m1 6h0m1-9h0m1-8h0m0 9h0m0-7h0m2 11h0m0-11h0m1 5h0m1-2h0m0 10h0m0-13h0m2 2h0m0 5h0m0 1h0m0-4h0m1 0h0m1 7h0m0-2h0m0-7h0m2 6h0m1-2h0m3-5h0m1 4h0m1-1h0m0-5h0m0 13h0m1 3h0m1-10h0m1 1h0m1 7h0m1-15h0m0 1h0m2 2h0m2 11h0m0 2h0m1-15h0m0 6h0m0 3h0m1-1h0m0-10h0m1 13h0m2-12h0m1 10h0m0-9h0m0 12h0m0-6h0m2-1h0m1 5h0m0 1h0m0-9h0m1-3h0m0 12h0m1-1h0m0-10h0m1 13h0m2-1h0m1 5h0m2-1h0m0-10h0m1 3h0m0-10h0m1 13h0m1-6h0m0 11h0m1-17h0m0-2h0m0 0h0m1 8h0m1-8h0m1 16h0m1-1h0m0-12h0m1 15h0m4-9h0m1-7h0m1 11h0m2 4h0m1-3h0m1-6h0m0-6h0m1-1h0m0 12h0m2 4h0m0-5h0m1 2h0m1-13h0m1 11h0m0 1h0m0-9h0m0 2h0m4-3h0m1 0h0m2 9h0m1 2h0m0-11h0m1 9h0m1 5h0m1-7h0m2-7h0m1 6h0m0 0h0m0 4h0m1-1h0m1 0h0m0-7h0m0 0h0m1 7h0m1 1h0m1 0h0m1-4h0m0-5h0m0-2h0m0 0h0m2-1h0m2 18h0m1-12h0m1 2h0m1 4h0m0-9h0m2-3h0m1 7h0m3-8h0m3 11h0m1-11h0m2 6h0m3 1h0m0 2h0m1 3h0m0 2h0m1-4h0m2-1h0m1 4h0m0 3h0m0-5h0m2 8h0m1-11h0m0 8h0m1-6h0m1 9h0m4-16h0m0 7h0m0 9h0m1 0h0m1-1h0m2-3h0m0-5h0m0 1h0m1-10h0m1 5h0m3 4h0m3-3h0m0 8h0m1-6h0m1-6h0m0 11h0m0-7h0m3-7h0m1 6h0m0 2h0m6 6h0m-7 9h0m0 11h0m-4-5h0m-1-7h0m-1 14h0m-1-5h0m-1-3h0m-1 9h0m-1-9h0m-1-3h0m-1 0h0m0 1h0m0-4h0m-1 12h0m0-12h0m-1 7h0m0 4h0m-1 6h0m-3-9h0m-1-3h0m-2 10h0m0-13h0m-1 13h0m-1-5h0m0-9h0m-2 0h0m0 9h0m0 2h0m-3 0h0m-2-9h0m-1-4h0m0 0h0m-1 10h0m-1 5h0m0-16h0m-2 12h0m-1-4h0m-2 4h0m-3-9h0m0 4h0m-1-3h0m-1 3h0m0-5h0m-3 10h0m0 1h0m-1-2h0m-1 1h0m-3 6h0m0-11h0m-1 3h0m-1-6h0m-2 12h0m-1 1h0m-3-10h0m0-6h0m0 15h0m0-12h0m-1 3h0m0 12h0m0-15h0m0 13h0m-1-1h0m0-12h0m-1 6h0m0 4h0m-1 1h0m-1-3h0m0 3h0m0-2h0m0-12h0m-1 7h0m0 9h0m-1-13h0m-1 11h0m0 2h0m0-14h0m-1 3h0m-2 4h0m0-8h0m0 17h0m-1-15h0m0 7h0m-1-11h0m0 12h0m-1-10h0m0 7h0m-1 10h0m0-10h0m0-9h0m-1 19h0m-2-18h0m-1 5h0m-1 6h0m-2-4h0m0 8h0m0-14h0m0 13h0m-3-11h0m-1-4h0m0 3h0m0 8h0m0-5h0m-1 4h0m-1 8h0m-2-11h0m0 5h0m-1-10h0m-1 10h0m-3-2h0m0-2h0m0-8h0m-1 16h0m-1 2h0m-1-8h0m0 2h0m-1-9h0m0 5h0m-1-3h0m0 10h0m-2 4h0m-1-16h0m-1 5h0m-1 8h0m-1-16h0m0 16h0m-1-12h0m0 11h0m-1-14h0m-1 6h0m-2 0h0m-1-1h0m-1-6h0m-1 1h0m0 12h0m-3 2h0m-1-9h0m-1 12h0m-1-11h0m0-6h0m-1 12h0m-2-12h0m0 15h0m-2-1h0m-1-7h0m-2 4h0m0-10h0m0 4h0m-2 9h0m0-15h0m-3 3h0m-2-2h0m-2 5h0m0-1h0m-1-2h0m0-2h0m0 12h0m0 4h0m0-12h0m0 2h0m-2 2h0m0 8h0m-1-13h0m0-1h0m-3-1h0m0-2h0m-3 7h0m-1-2h0m-1-3h0m-2 17h0m0-16h0m0 13h0m-1 3h0m-1-9h0m0 8h0m-1-16h0m0 2h0m0 6h0m-1 2h0m0 1h0m-2 0h0m-1-6h0m-1-6h0m0 17h0m-1-13h0m-2-2h0m0 15h0m-1-13h0m-3-1h0m-1-3h0m0 3h0m0-3h0m-1 14h0m-1-1h0m-1 3h0m-2-7h0m-3-8h0m-1 17h0m-2-7h0m-1-7h0m-1-4h0m0 0h0m-1 12h0m0-3h0m0 5h0m-2-15h0m-1 16h0m-1-7h0m0-6h0m-1 11h0m-1-14h0m0 13h0m0-1h0m0 4h0m-1-7h0m-1-9h0m-1 1h0m-1 16h0m-1-12h0m0 10h0m-1-5h0m-2-7h0m-1 11h0m0 5h0m-2-5h0m-1-8h0m-1-4h0m0 14h0m-2-8h0m0-5h0m0-2h0m-1 6h0m-2-7h0m-4 8h0m-2 1h0m-2 5h0m6 24h0m0-9h0m2-7h0m2 2h0m1 11h0m3-7h0m0 1h0m1 10h0m1-4h0m1-9h0m0 1h0m0 12h0m1-14h0m1 6h0m0-1h0m1 5h0m1 2h0m0 1h0m0-18h0m0 10h0m1-1h0m0 3h0m0-2h0m0-5h0m1-3h0m0 9h0m1-8h0m1 6h0m0 10h0m0-7h0m1-3h0m1-7h0m2 14h0m0-5h0m1-7h0m0-2h0m0 6h0m0 9h0m2-9h0m0 5h0m2-4h0m0 7h0m0 1h0m2-16h0m0 3h0m1 3h0m2 3h0m1 9h0m0-16h0m3 15h0m0-11h0m2-1h0m1 6h0m2-6h0m0 10h0m1 1h0m1-4h0m1 0h0m0-2h0m1 1h0m1-4h0m1 1h0m1-3h0m0 12h0m1-15h0m0 11h0m3-6h0m2-3h0m0 2h0m0 8h0m1-13h0m1 3h0m1 2h0m0 8h0m0-2h0m1 6h0m2-10h0m0-3h0m1 5h0m0-7h0m0 13h0m1-15h0m1-1h0m0 18h0m0-13h0m1-2h0m2-4h0m0 11h0m0 5h0m0-13h0m1 12h0m0-2h0m1-10h0m0 5h0m2 1h0m1 8h0m1-1h0m0-4h0m1-5h0m0 9h0m1 3h0m2-6h0m0-11h0m1-2h0m2 17h0m1 0h0m3-3h0m0-9h0m1 9h0m0-11h0m1 10h0m2-3h0m0-6h0m1 0h0m3 2h0m0-6h0m0 16h0m1-11h0m1 9h0m0-5h0m1 7h0m0-8h0m0 11h0m1-2h0m0-15h0m0 11h0m3-11h0m0 10h0m1 3h0m0-6h0m3-3h0m1 6h0m2-11h0m0 1h0m1 5h0m1-5h0m1 4h0m2 0h0m0 4h0m1-6h0m0-4h0m0 3h0m0 12h0m1-6h0m0 0h0m1 9h0m0-10h0m1-7h0m1 9h0m0 7h0m1-16h0m1 15h0m0-8h0m1 10h0m0 0h0m0-9h0m2 9h0m0-13h0m1 7h0m0 7h0m0-10h0m2-7h0m1 17h0m1-17h0m0 9h0m0-2h0m3-8h0m0 3h0m1 3h0m0-2h0m1-3h0m2 5h0m1-5h0m1 13h0m1-8h0m0-4h0m1 10h0m1-10h0m0 16h0m1-10h0m0-9h0m0 7h0m0 1h0m1 6h0m1-14h0m2 0h0m1 19h0m0-3h0m0-5h0m2 8h0m0-1h0m1-12h0m1-6h0m0 14h0m0-3h0m0-6h0m1 4h0m0-3h0m1 0h0m0-2h0m0 14h0m1-15h0m1 12h0m0 1h0m1-1h0m0-11h0m0-4h0m2 18h0m0-16h0m2 8h0m0-7h0m0 15h0m0-5h0m1-4h0m0-3h0m1-1h0m2 5h0m0 4h0m1 3h0m1-12h0m0 11h0m1 3h0m0 0h0m1 0h0m1-3h0m1-5h0m1-2h0m1 10h0m2-8h0m0-11h0m1 5h0m0 13h0m1-16h0m1 13h0m1-3h0m0-1h0m1 0h0m1 8h0m1-17h0m0 16h0m2-13h0m0 3h0m0-4h0m0 2h0m3 11h0m0-17h0m1 13h0m0 1h0m1-2h0m0 3h0m1 4h0m0-2h0m1 2h0m0-15h0m0 0h0m0 2h0m0 3h0m1-2h0m1 6h0m1-7h0m2 10h0m0-8h0m0 0h0m1 10h0m0-16h0m1 4h0m0 6h0m0-3h0m1 5h0m2 4h0m1-18h0m1 12h0m1-1h0m0 3h0m1-1h0m0 6h0m-1 2h0m0 7h0m-1-6h0m0-2h0m-8 5h0m-1 2h0m0-4h0m0-2h0m-1 3h0m-1 8h0m-1-4h0m-1 8h0m-2-2h0m-1-13h0m-4 18h0m0-4h0m0-15h0m-2 5h0m0-2h0m0 8h0m0-3h0m-2-3h0m0-5h0m0 5h0m0-2h0m-1 6h0m0-7h0m-3 7h0m-1-5h0m-2 0h0m0-3h0m0 15h0m-1-2h0m0-11h0m0 8h0m-1-9h0m0 11h0m-1-8h0m0 11h0m0-11h0m-1 10h0m-5-12h0m-1 7h0m0-6h0m-1 4h0m0 2h0m-1 1h0m-1 1h0m-1-1h0m0-4h0m-1 4h0m0-3h0m0 3h0m0 8h0m-1-15h0m-2 9h0m0-11h0m-1 6h0m0-5h0m0 1h0m-1 5h0m-2-7h0m-1 17h0m0-2h0m-1-16h0m0 2h0m-1 11h0m-1 3h0m-1-10h0m0-6h0m-1 2h0m-2 2h0m0 14h0m-3-6h0m0-1h0m0-5h0m-1 3h0m0 1h0m0 6h0m-1 0h0m0-11h0m-1-5h0m-2 7h0m0 6h0m0 5h0m-1-15h0m-2 7h0m-1-5h0m-1 5h0m0 0h0m-4-11h0m-2 4h0m-2-1h0m0 3h0m0-5h0m-1 14h0m-1-7h0m-1-2h0m0 5h0m0-4h0m0 12h0m0-3h0m-1-6h0m-2-9h0m0 7h0m-5 3h0m0-2h0m0 6h0m0-5h0m-1 3h0m0-4h0m-2 3h0m-1-7h0m0 5h0m-1 5h0m-1-12h0m-2 16h0m0-14h0m-1 6h0m-1-5h0m-1 8h0m0 3h0m-1-11h0m0-3h0m0 15h0m0-3h0m-2 2h0m0-14h0m-2 0h0m0 14h0m-1-9h0m0-2h0m-1-5h0m-1 17h0m-1-12h0m-1 7h0m0-10h0m-1 14h0m-1-13h0m0-4h0m-1 3h0m-1 9h0m-1-11h0m-2 11h0m-1-7h0m0-2h0m0 13h0m0 3h0m-1-16h0m0 5h0m-1-7h0m0 5h0m0-1h0m-2 1h0m0 10h0m-1-4h0m0 4h0m-1-5h0m0 7h0m-1 1h0m-1-3h0m0-9h0m-2 7h0m-1-7h0m-2 9h0m-1-14h0m-1 14h0m0-1h0m-1 1h0m0 3h0m0-15h0m0 14h0m-1-12h0m0-5h0m-2 2h0m0 3h0m-1 13h0m-1-1h0m0-1h0m-1-5h0m0 2h0m-2-10h0m0 11h0m-1-2h0m0-9h0m-1-3h0m0-1h0m-1 14h0m-2-10h0m0 2h0m-1 13h0m0-8h0m-1-7h0m0 6h0m-1-10h0m-1 3h0m0-1h0m0 10h0m-2-1h0m-2-7h0m0 8h0m-1 7h0m-1-1h0m-1-11h0m0 5h0m-3 2h0m0 1h0m-1-10h0m-1 5h0m-2-10h0m-1 9h0m0 1h0m0 6h0m-1-5h0m-1-10h0m0 14h0m-3-2h0m0-10h0m0 12h0m-1 4h0m0-2h0m-1 2h0m0-13h0m0 4h0m-1-3h0m-1 8h0m0-1h0m-1-1h0m0 2h0m-1-13h0m-1 14h0m0-8h0m-2 5h0m0-13h0m-1 4h0m0 14h0m-1-11h0m-1 4h0m0-4h0m0-7h0m0 3h0m-1 15h0m0-14h0m-1-1h0m-1-1h0m0 1h0m-4 6h0m-3-2h0m3 15h0m1 9h0m5-11h0m0 5h0m1 4h0m4-7h0m2 4h0m1-1h0m1-3h0m0 8h0m0-6h0m3 4h0m1 5h0m0 1h0m0-10h0m1 2h0m1-4h0m0 12h0m0 4h0m0-16h0m1 12h0m1-6h0m0 9h0m0 1h0m3-12h0m1 1h0m0 0h0m1 7h0m1-13h0m0 8h0m1-7h0m0 4h0m1 10h0m0-4h0m1-5h0m1-2h0m0-2h0m1 0h0m2-1h0m1 13h0m2-12h0m0 9h0m1-12h0m0 14h0m2-14h0m1 8h0m1 9h0m3 0h0m1-14h0m0 6h0m0-8h0m0 0h0m1 10h0m2 1h0m1-3h0m2 4h0m0-9h0m1 4h0m0-6h0m1 5h0m0 10h0m1-6h0m2-9h0m1 0h0m1 14h0m1-1h0m2 0h0m1-12h0m0 7h0m2 1h0m0-9h0m1 5h0m0 1h0m0 3h0m0 6h0m1-2h0m0-13h0m0 10h0m1-5h0m3 9h0m1 1h0m2-9h0m0 10h0m0-2h0m1-7h0m0 1h0m0-4h0m1-3h0m1 13h0m0-14h0m1 14h0m2-8h0m0-3h0m1 10h0m1-3h0m0-7h0m1 12h0m1-17h0m1 8h0m0 0h0m0 6h0m1-14h0m1 2h0m1 14h0m0-9h0m0 6h0m1-5h0m1 6h0m0-11h0m3 13h0m1 2h0m0-15h0m1 13h0m1 2h0m0-2h0m0-11h0m0-5h0m1 18h0m1-17h0m1-1h0m0 11h0m0-11h0m1 11h0m1-4h0m0 1h0m2-6h0m1 8h0m2 4h0m1-9h0m0 12h0m1-4h0m1-10h0m0 15h0m2 1h0m1-14h0m1 8h0m1 1h0m2-7h0m1-4h0m1-3h0m0 6h0m0 0h0m3 3h0m1-4h0m1 10h0m0 3h0m0 0h0m2-15h0m5 8h0m0 3h0m1-8h0m1 4h0m0-3h0m1-1h0m1-2h0m1 13h0m0 2h0m2 0h0m0-12h0m1 9h0m0-9h0m0 3h0m1 6h0m0 0h0m2-12h0m1 10h0m2-10h0m2-3h0m1 1h0m1 15h0m1-13h0m0 13h0m1-9h0m1-8h0m2 1h0m1 9h0m1 0h0m0 6h0m0-7h0m0 1h0m0-9h0m1 12h0m1 5h0m1-2h0m2 1h0m2-17h0m0 4h0m0 14h0m1-9h0m0 7h0m1 2h0m1-18h0m0 16h0m1-10h0m2 5h0m0-9h0m1 16h0m0-15h0m2 8h0m0-4h0m8-3h0m2-3h0m-24 21h0m-7 3h0m-8 3h0m-1-7h0m-1 10h0m0-1h0m0 2h0m-3-5h0m-2 4h0m-1-11h0m0 0h0m-1 5h0m-1 12h0m0-13h0m-2 7h0m-1-2h0m-1-8h0m0 4h0m0-5h0m-3 7h0m-3 9h0m0-2h0m-2-10h0m-1-2h0m-2-2h0m0 6h0m-1 6h0m0-3h0m0-2h0m0 10h0m-1-8h0m0-4h0m-1 7h0m-1-7h0m-1 14h0m0-13h0m-1 7h0m0-13h0m-1 11h0m0 5h0m-2-7h0m0 3h0m-1 6h0m-1-18h0m-1 11h0m-1 8h0m0-14h0m-1 3h0m0 5h0m-2-4h0m-1-1h0m-1-7h0m-3 18h0m0-13h0m0-5h0m-1 17h0m0-8h0m-1 1h0m-1 2h0m0-4h0m-1 8h0m-1-17h0m0 17h0m0-15h0m-1 3h0m0 5h0m0 3h0m-1 6h0m0-17h0m-1 16h0m0-5h0m-1 0h0m0-5h0m-3-6h0m0 6h0m-1 7h0m-1-15h0m-1 1h0m-1 14h0m0-1h0m0 4h0m-1 1h0m-4-16h0m-2 0h0m-1 3h0m-5 0h0m-1 9h0m-1-4h0m0 6h0m-1 2h0m-1-5h0m0-3h0m-3 8h0m0-1h0m-1-8h0m-1-7h0m-2 2h0m-1-3h0m0 2h0m-1 7h0m-1-4h0m-2 5h0m0 3h0m-2-9h0m0 11h0m-1-14h0m0 13h0m-1-16h0m-1 3h0m0 10h0m0 1h0m-1-10h0m-1 4h0m0 8h0m-1-16h0m-1 14h0m-1-13h0m-2 1h0m0 9h0m0 8h0m-1-16h0m0 2h0m-2 3h0m-1 1h0m-1 1h0m0 6h0m-2-8h0m0 5h0m-4-12h0m-1 2h0m0 3h0m-3 5h0m-1-1h0m-1-5h0m-1 1h0m-1-2h0m-9 3h0m-1-6h0m22 23h0m7-1h0m3 2h0m1-2h0m4 2h0m0 11h0m3-3h0m1-9h0m1 0h0m2 1h0m0 0h0m4 4h0m5-9h0m0 13h0m1-11h0m1-2h0m3 9h0m0-2h0m0 4h0m1-4h0m0-6h0m1 2h0m2 1h0m2 14h0m1-10h0m1 0h0m1-6h0m1 8h0m1-9h0m0 4h0m1-3h0m2 3h0m2 11h0m0-7h0m1-6h0m0 8h0m2 1h0m2-5h0m0 1h0m11-6h0m1 1h0m1 2h0m3-2h0m0 3h0m1 0h0m1 0h0m12-4h0m22 7h0" stroke="#3b82bd" stroke-width="3" stroke-linecap="round" fill="none"/>
<path transform="scale(0.5)" d="M1244 783h0m-4 11h0m-1-1h0m-1 0h0m0 2h0m0-6h0m-2 1h0m-1 7h0m-1-9h0m0-2h0m-6 3h0m0 3h0m-2-1h0m-3 5h0m-2 1h0m0-11h0m-1 9h0m-4-6h0m-2 0h0m-1 4h0m0-12h0m-3 9h0m-1 5h0m-3-3h0m-12 20h0m9 6h0m1-6h0m0-8h0m1 4h0m1-2h0m1-3h0m1 1h0m0-2h0m1 3h0m1 3h0m1-5h0m1 7h0m2 4h0m0-9h0m3 12h0m2-9h0m1 8h0m0-10h0m1 11h0m3-8h0m4-9h0m1 11h0m1-2h0m0-8h0m0 7h0m2 0h0m1 4h0m3-9h0m0 6h0m1 3h0m4-3h0m-19 14h0m-1 0h0m-3-3h0m-4 2h0" stroke="#e07fd0" stroke-width="3" stroke-linecap="round" fill="none"/>
<path transform="scale(0.5)" d="M1296 340h0m-25 12h0m-54 1h0m-15 5h0m-55 14h0m36 4h0m10-10h0m8 0h0m9 13h0m18-4h0m1-2h0m17-5h0m5 5h0m5-1h0m10 1h0m37 6h0m2-15h0m18 13h0m6 2h0m-10 15h0m-1-6h0m-21 0h0m-17 3h0m-4 5h0m-3-9h0m-2 9h0m-11 3h0m-1-16h0m-12 12h0m-3-1h0m-1-10h0m-1 6h0m-5-2h0m-4 9h0m0 2h0m-6-11h0m-8 5h0m-2 6h0m-12-14h0m-4 1h0m-2 9h0m-11-11h0m-6 5h0m-15 1h0m-5 9h0m-6-12h0m-2-3h0m-4 21h0m5 4h0m5-7h0m6 15h0m0-11h0m2 11h0m7-9h0m3-1h0m13 10h0m1 1h0m2-1h0m1-10h0m3 4h0m5 8h0m2 0h0m2-7h0m5 7h0m0-1h0m18-9h0m1-9h0m1 13h0m2-12h0m4 15h0m7-9h0m2 10h0m0 1h0m1-15h0m4 16h0m13-13h0m10 9h0m4-6h0m12 3h0m7-7h0m0 6h0m3-10h0m0 18h0m4 0h0m9-2h0m5-16h0m6 11h0m5 11h0m-8 16h0m-8-17h0m-2 7h0m-6 0h0m0-6h0m-11 14h0m-5-13h0m-4 13h0m-6-17h0m-8 2h0m-17 2h0m-7 0h0m-13 10h0m-9 4h0m0-3h0m-7-6h0m-4 3h0m-1 6h0m-9-4h0m-4-7h0m-1 12h0m-4-9h0m-4-6h0m-4 8h0m0-11h0m-7 14h0m-6 3h0m-7 0h0m4 12h0m0 3h0m8-7h0m5-4h0m4 13h0m13-11h0m22 10h0m1-4h0m2-2h0m31-7h0m5 11h0m5-12h0m2 7h0m20 11h0m11-6h0m7-4h0m3 10h0m1-2h0m3-3h0m6-7h0m9 3h0m16 18h0m-9 1h0m-6 5h0m-8-3h0m-16 8h0m-2-4h0m-5-1h0m-1 0h0m0-6h0m-7 4h0m-17-11h0m-11 4h0m-7 14h0m-17 0h0m-13-18h0m-8 17h0m-7-15h0m-11 16h0m0-6h0m-3 1h0m-1-9h0m-2 4h0m-21 6h0m-1-14h0m-2 10h0m-10-1h0m-27 15h0m15 6h0m2 5h0m20-7h0m2 8h0m1-3h0m15-9h0m14-2h0m7-1h0m2 6h0m9 5h0m1-5h0m8 7h0m6-4h0m12 0h0m15-3h0m14-5h0m9 12h0m19 3h0m11-15h0m0 1h0m2 14h0m4-5h0m0 4h0m10 2h0m1-16h0m1 21h0m-19 2h0m-6 7h0m-2-10h0m-6 1h0m-1 6h0m-13 4h0m-7-13h0m-6 9h0m-1-1h0m-8 1h0m-8-4h0m-7 12h0m-10 0h0m-21-2h0m-3 3h0m-1-9h0m-6 7h0m-1-6h0m-6-7h0m-5 7h0m-2-9h0m-2 17h0m-35-3h0m-2-11h0m-1-3h0m-6 13h0m21 24h0m1-2h0m13 2h0m2-10h0m3-8h0m0 4h0m16 10h0m3 2h0m5-9h0m4-5h0m2 0h0m1 7h0m11 9h0m20-16h0m1 13h0m7 0h0m0-11h0m25 2h0m8 8h0m5-5h0m4-2h0m7 29h0m-17-15h0m-3 4h0m-21 3h0m-11 8h0m-7-4h0m0-6h0m-37 12h0m-4-2h0m-4-9h0m-1-1h0m-17 4h0m-8 3h0m-3-3h0m-3 2h0m-1 14h0m44 12h0m8-10h0m2-4h0m18-2h0m4 0h0m17 5h0m10-6h0" stroke="#d8302e" stroke-width="3" stroke-linecap="round" fill="none"/>
<path transform="scale(0.5)" d="M1245 359h0m-66 18h0m2-4h0m10 4h0m15-12h0m21 13h0m2 1h0m12-15h0m6 4h0m8 1h0m1-7h0m3 15h0m10-13h0m2 1h0m4 3h0m10-5h0m4 5h0m20 9h0m1-6h0m24 24h0m-3-7h0m-10-3h0m-6 2h0m-3 9h0m-3-14h0m-4 5h0m-6 4h0m-3-8h0m-3-1h0m-4 2h0m-11 2h0m-8-4h0m-1 10h0m-1-4h0m-4 6h0m-11 1h0m-10-5h0m-7-9h0m-3 6h0m-7 4h0m-4-3h0m-3-8h0m0 18h0m-5 0h0m-2-13h0m0 2h0m-3-2h0m-2 3h0m-13 2h0m-5-7h0m-5 16h0m-7-15h0m-3 14h0m-17 1h0m-12 6h0m5 9h0m6-2h0m3 5h0m14-17h0m15 13h0m11 5h0m8-9h0m21-5h0m6 8h0m6-4h0m4 4h0m5-11h0m6 15h0m7 2h0m7-10h0m7-4h0m28 3h0m3-4h0m4-3h0m6 0h0m0 0h0m4 11h0m12 5h0m6 2h0m2-9h0m-7 24h0m-10-12h0m-2 14h0m-5 2h0m-14 0h0m-4-9h0m-2-1h0m-14 6h0m-4-9h0m-6 1h0m-4 10h0m0-9h0m-1 4h0m-6 9h0m-6-4h0m-5-15h0m-4 8h0m-3 2h0m-4-5h0m-12 9h0m-20-13h0m-13 3h0m-6 12h0m0-13h0m-2-3h0m-1 3h0m0 9h0m-1-11h0m-4 3h0m-1 10h0m-2-7h0m-3-1h0m-1 5h0m-6-9h0m-2 6h0m-2-6h0m-7 13h0m-4-15h0m-9 18h0m7 8h0m2 12h0m9-9h0m7 7h0m9-10h0m0 8h0m12 4h0m16-2h0m4-7h0m3 4h0m1-6h0m4 7h0m7-9h0m1 4h0m1 5h0m13 5h0m19-4h0m7-5h0m5 4h0m0-5h0m4 10h0m8-10h0m1 5h0m14-11h0m8 4h0m2 5h0m1-10h0m9-1h0m3 16h0m8 0h0m9-11h0m-3 19h0m-22-1h0m-3 13h0m-11-8h0m-5-8h0m-6 7h0m-20 3h0m-2 6h0m-4-10h0m-15 6h0m-1-8h0m-4 14h0m-14-17h0m-10-2h0m-8 16h0m-1-1h0m-13-1h0m-1-1h0m-12 3h0m-3-7h0m-8-7h0m-10 12h0m-6-4h0m1 28h0m14-4h0m3-3h0m14 8h0m4-9h0m0 9h0m11-3h0m12-1h0m3-11h0m13 6h0m8-10h0m2 8h0m5-4h0m1-3h0m6 5h0m6 4h0m4 8h0m4-14h0m24 1h0m13 0h0m15 11h0m8-14h0m12-2h0m3 35h0m-29 1h0m-13-1h0m-2-14h0m-1 8h0m-2 0h0m0 1h0m-3 0h0m-6 5h0m-5-6h0m-1 4h0m-1 5h0m-1-9h0m-1 5h0m-19-13h0m-9-1h0m-7 17h0m-3-15h0m-5 7h0m-56-7h0m-13 0h0m-14 2h0m13 18h0m15 16h0m1-16h0m23 0h0m8 17h0m5-4h0m7 4h0m18-4h0m8-8h0m3 3h0m6 7h0m7-2h0m17-4h0m4-9h0m1 12h0m2-9h0m3-1h0m13-1h0m0 5h0m8 0h0m-19 18h0m-1-4h0m-10 11h0m-6-10h0m-2 3h0m-16-3h0m-15-1h0m-20 5h0m-6-7h0m-8 0h0m-4 15h0m-11-13h0m-22 9h0m-4 1h0m-1-9h0m-1 4h0m6 17h0m13 2h0m1-1h0m39-4h0m14 9h0m16-9h0" stroke="#fff" stroke-width="2.4" stroke-linecap="round" fill="none"/>
<path transform="scale(0.5)" d="M1197 93h0m2-6h0m1 9h0m2-6h0m3 5h0m3-9h0m22 20h0m-5 13h0m-4-18h0m-3 9h0m-7 9h0m-1-6h0m-11 3h0m-2-11h0m-6 9h0m-7-2h0m0-2h0m-3 5h0m-8-9h0m-9 2h0m-15 16h0m3 11h0m3-1h0m0-5h0m15 7h0m5-4h0m4 6h0m0-7h0m3 3h0m3-9h0m3 5h0m8 7h0m1-4h0m6-5h0m0 2h0m2-7h0m2 4h0m1-4h0m0-2h0m10 5h0m6 7h0m12 0h0m18 9h0m-4 0h0m-1 8h0m-5 0h0m-10 7h0m-4-7h0m-8 3h0m-1-12h0m-13 8h0m-1 5h0m-2 2h0m-1-13h0m-1 11h0m-1-7h0m-2-6h0m-17 0h0m-9 18h0m-34-16h0m-5 8h0m-2-11h0m-25 38h0m9-1h0m11-1h0m1 0h0m8-9h0m4 2h0m7-8h0m0 9h0m3-8h0m2 2h0m8 2h0m4 3h0m4-1h0m12-8h0m2 2h0m7 15h0m6-12h0m6-5h0m4 4h0m3 5h0m10-9h0m6 10h0m4 3h0m10-4h0m2 4h0m3-2h0m7-8h0m13 16h0m2-13h0m6 19h0m-1-5h0m-12 8h0m-6 5h0m-9-7h0m-2-5h0m-13 8h0m-4-7h0m-6 8h0m-14 1h0m-16-3h0m0-2h0m-11-2h0m-20-1h0m-11 11h0m-4-3h0m-14 2h0m-2-3h0m-1 9h0m0-18h0m-1 2h0m-5 5h0m-6-2h0m-10 6h0m-7 25h0m6-8h0m3 7h0m7-6h0m5-3h0m20 3h0m2-1h0m1-1h0m0-1h0m12 10h0m5-16h0m3 9h0m8 5h0m2-5h0m4-4h0m2 9h0m9-8h0m3-4h0m10-2h0m3-1h0m3 14h0m0-8h0m2 1h0m5 5h0m3-3h0m2-1h0m10-7h0m0 1h0m5 17h0m4-8h0m0 3h0m0 3h0m6-6h0m7 4h0m9-13h0m1 11h0m13-9h0m6 0h0m2 5h0m0 10h0m3-3h0m1 10h0m-4 9h0m-2-8h0m-11-3h0m-6-3h0m-2 13h0m0-13h0m-7 3h0m-2 12h0m-8 2h0m-4-11h0m-4-6h0m-6 3h0m-2 13h0m0-16h0m-11 0h0m-7 6h0m-10-3h0m-1 9h0m-1-13h0m-2 10h0m0-6h0m-7 10h0m-7 5h0m-3-15h0m-11-2h0m-12 7h0m-3 4h0m0 0h0m-10-7h0m-7 13h0m-11-19h0m-1 7h0m-12-7h0m-10 4h0m-5 21h0m3 9h0m6 2h0m0-7h0m10-9h0m3 1h0m4 14h0m2 2h0m7-13h0m6 1h0m1 9h0m6 1h0m4 4h0m19-8h0m1 8h0m13-17h0m4 9h0m8-7h0m3 11h0m0-6h0m7-5h0m2 5h0m3 8h0m4-2h0m2-5h0m5 3h0m1 6h0m2-14h0m7 5h0m0 6h0m0-14h0m15-2h0m10 13h0m6-12h0m3 4h0m3-3h0m2 16h0m0-2h0m30 2h0m6 21h0m-5-14h0m-4 5h0m-4 9h0m-12-9h0m0-4h0m-3 11h0m-2-1h0m-4-12h0m-18-4h0m-2 17h0m-13-15h0m0 12h0m-6-7h0m-1 8h0m-2-13h0m-10 10h0m-9-9h0m-12 0h0m-13 10h0m-8-6h0m-4-7h0m-4 5h0m0 11h0m-13-10h0m-3 3h0m-2 3h0m-6-3h0m-1 9h0m-4-12h0m0 3h0m-12 6h0m-13-15h0m-2 0h0m-2 17h0m-8-8h0m-1-9h0m-13 6h0m3 23h0m7 1h0m1 9h0m4-2h0m10-1h0m10 3h0m2-18h0m2 1h0m6-2h0m7 9h0m4-2h0m1 5h0m1-11h0m0 15h0m4-5h0m1 6h0m1-2h0m3 2h0m0-3h0m1 2h0m1-2h0m3-6h0m2 4h0m5-4h0m14 8h0m1-5h0m2 7h0m8-13h0m2 9h0m4-13h0m2 9h0m1 9h0m2-14h0m13 12h0m16-10h0m11 1h0m1 2h0m7 4h0m13-14h0m6 13h0m8 6h0m5-15h0m1 0h0m3-1h0m4 3h0m11 26h0m-17-11h0m0 14h0m-34-5h0m-1 9h0m-4-3h0m-3-5h0m-13-8h0m-21 14h0m-6-12h0m-4 0h0m-7-5h0m-12 9h0m0 0h0m-8-3h0m-11 1h0m-4-3h0m-3 15h0m-3-8h0m-2 5h0m-2-13h0m-10 2h0m-2-2h0m-2 2h0m-4 11h0m-5-7h0m-10-2h0m-5 8h0m-8-7h0m-3-3h0m-10-4h0m4 23h0m17 8h0m2-3h0m5 4h0m3 3h0m4-13h0m2 13h0m5-9h0m20 9h0m11-14h0m2 1h0m6 14h0m5-3h0m0-12h0m4 1h0m3 1h0m1-3h0m4 0h0m10 8h0m4 9h0m1-15h0m4 10h0m1 0h0m6 6h0m2-15h0m5 9h0m6-12h0m0 11h0m6 5h0m3-17h0m9 17h0m10-5h0m3-7h0m12-2h0m3 7h0m2-7h0m6 1h0m0-1h0m4 2h0m0 10h0m9-1h0m0 1h0m5-11h0m0 5h0m3-4h0m2 0h0m3 4h0m-10 26h0m-8-1h0m-18-3h0m-11 4h0m-5-6h0m-5-6h0m-4 0h0m-2 13h0m-16-12h0m-11-4h0m-4 0h0m-1 11h0m-1-7h0m-3 14h0m-5-5h0m-4 2h0m-3-14h0m-7 17h0m-1-4h0m-4-11h0m-7 12h0m-17-5h0m-2-8h0m-8 10h0m-4-2h0m0-2h0m-1 3h0m-6-5h0m-2 13h0m-2-11h0m-1-8h0m-1 11h0m-6 1h0m0 6h0m-1-16h0m7 27h0m9-3h0m7 1h0m1-2h0m5 8h0m4-2h0m3 7h0m4-3h0m7 1h0m2-10h0m3 5h0m3 6h0m28-5h0m1-6h0m0 5h0m3-11h0m0 3h0m7 2h0m3-5h0m22 2h0m1 4h0m2-6h0m-85 22h0m-12 6h0" stroke="#fff" stroke-width="2.4" stroke-linecap="round" fill="none"/>
<path transform="scale(0.5)" d="M1047 339h0m5-2h0m6 0h0m1-4h0m15 3h0m1-8h0m4 3h0m6-4h0m2-2h0m4 3h0m28 22h0m-1 9h0m-1-19h0m-4 4h0m-2 14h0m-4-8h0m0-6h0m-2 3h0m-1 7h0m-3-11h0m-13 12h0m-2 3h0m-1-1h0m0-5h0m-7 3h0m-1-14h0m-1 9h0m-1-4h0m-2 2h0m-8-3h0m-4 11h0m-3-10h0m-1 12h0m-3-12h0m0-4h0m-4 2h0m-3 14h0m-5 0h0m-3-5h0m-17 17h0m8 4h0m11-12h0m11 6h0m0-6h0m5 3h0m1-4h0m3-1h0m5 0h0m5 6h0m2-4h0m3 0h0m0 10h0m1-7h0m0 2h0m1-2h0m11-4h0m3 7h0m0 7h0m5 1h0m4-8h0m7 2h0m3 5h0m3-8h0m5 10h0m0-16h0m2 18h0m1-2h0m11-6h0m2-11h0m1 14h0m10-2h0m-2 27h0m0-13h0m-9-4h0m0 13h0m-5-6h0m-5 1h0m-4 1h0m-8-3h0m-6 3h0m-1 4h0m-1-8h0m-8 9h0m0-12h0m-2 6h0m-10 3h0m-7-10h0m-5-1h0m-2 17h0m-5-2h0m-9 2h0m-6-13h0m-17 5h0m0 7h0m-19 1h0m-7 12h0m0-6h0m19 10h0m2-3h0m3 3h0m0-2h0m6-3h0m0-3h0m3-1h0m0-4h0m1-1h0m6 11h0m2-5h0m0 6h0m1-12h0m22 1h0m5 3h0m9 6h0m5-1h0m7 2h0m6-11h0m10 6h0m0 2h0m2 6h0m23-12h0m8 16h0m2-3h0m0 21h0m-7-5h0m-4-2h0m-2-2h0m-3-1h0m-16-3h0m0 1h0m-7 12h0m-1-16h0m-3 10h0m-2 0h0m-2 8h0m-7-6h0m-8 4h0m-3-2h0m-1-1h0m-1 5h0m-1-9h0m0-4h0m-1 13h0m-3-5h0m-1-6h0m0 6h0m-1 5h0m-1-13h0m-2-2h0m-2 9h0m-4-9h0m-4-4h0m-10 15h0m-9-11h0m-4 0h0m-3 2h0m-1-4h0m0-1h0m-8 9h0m-3-8h0m0-1h0m-6 8h0m0-7h0m-4 16h0m-3 0h0m-11-12h0m-1 8h0m0-1h0m-6 0h0m-8 17h0m9 9h0m6-6h0m3-1h0m3 2h0m1-4h0m1 7h0m9-3h0m1-3h0m1-8h0m3-2h0m18 8h0m8 8h0m7-1h0m2 3h0m3-10h0m4-7h0m8 0h0m6 7h0m2-9h0m4 7h0m4 10h0m2-5h0m1-11h0m3 9h0m1 2h0m1-10h0m4 12h0m0-13h0m17 13h0m1 1h0m1-12h0m3 4h0m1-5h0m11 14h0m10-1h0m1-14h0m-3 24h0m-1 12h0m-2-1h0m-3-11h0m-3 2h0m-1-5h0m-7 12h0m-5-7h0m0 0h0m-4-5h0m-1 12h0m-13 4h0m-1 0h0m-1 1h0m-2-15h0m-4 0h0m0 7h0m-4 8h0m-13-18h0m-1 17h0m0 1h0m-1-12h0m-2 3h0m-5-7h0m-3 4h0m-3-3h0m-8 13h0m-2-9h0m-3-1h0m-3 11h0m-2-3h0m0-11h0m-8 6h0m0 7h0m0-7h0m-17-6h0m-14 4h0m-8-2h0m-4 0h0m-6-1h0m11 21h0m6 4h0m5 5h0m7-7h0m20 6h0m8-10h0m2 2h0m2 13h0m8-19h0m2 15h0m13-15h0m5 2h0m1 13h0m2 3h0m3-11h0m1 3h0m3 9h0m5-14h0m5 2h0m1 6h0m1-6h0m6-5h0m6 12h0m0-10h0m4 3h0m4-7h0m4 6h0m2 3h0m6-1h0m2 10h0m2-14h0m2 3h0m3 6h0m3 1h0m0-8h0m1-2h0m3 17h0m-3 3h0m-2 11h0m-3-1h0m-9-7h0m-7-5h0m-4 3h0m-1 9h0m0-1h0m-5-2h0m-4-5h0m-9 13h0m-5-5h0m-2 2h0m-1-6h0m-3 8h0m-10-5h0m-2-13h0m0 19h0m-3-8h0m-3-2h0m-1-3h0m0-3h0m-18 2h0m-4 1h0m-4 0h0m-5 3h0m0-2h0m-3 1h0m-4 1h0m-4-3h0m0 1h0m-4-1h0m-3 5h0m-16-11h0m5 22h0m1 0h0m11 6h0m2 6h0m4-10h0m3 14h0m1-9h0m2 0h0m1-1h0m5-3h0m4 1h0m7 5h0m3 3h0m6 4h0m5-14h0m1 1h0m1 7h0m1-3h0m3-7h0m11 16h0m2-2h0m7-1h0m1 0h0m6-7h0m1 2h0m1 0h0m1-5h0m5 8h0m6 2h0m1-3h0m4-4h0m5-6h0m10-1h0m0 17h0m5-4h0m6-8h0m5-6h0m4 10h0m4 12h0m-1 16h0m-9-5h0m-6 3h0m-13-10h0m-1 2h0m-5-1h0m0-5h0m0 2h0m-13-3h0m-10 6h0m-17-7h0m-6 0h0m0 4h0m-1-3h0m-1 3h0m-1 11h0m-8 4h0m-7-9h0m-11 3h0m-2 5h0m0-4h0m-3-14h0m-5 9h0m-2-2h0m10 22h0m14-2h0m6 7h0m6-8h0m7-4h0m4 2h0m1 0h0m1 3h0m0 2h0m1-9h0m2 2h0m6 16h0m1-11h0m5 8h0m1-5h0m7-4h0m3 13h0m1-17h0m4 2h0m0 13h0m7-14h0m10-3h0m4 2h0m6 2h0m8 3h0m6 10h0m6-12h0m1 12h0m7 12h0m-3-2h0m-2-7h0m-1 0h0m-1 16h0m-6-11h0m0 9h0m-20-9h0m-2 7h0m-4-3h0m-8 6h0m-4-5h0m-4-10h0m-13 0h0m-15 9h0m-7-3h0m-1 0h0m-9-2h0m29 20h0m12 3h0m4 3h0m4-6h0m4-4h0m0 6h0m6-4h0m7 10h0m3 6h0m1-15h0m5-1h0m1 12h0m0-7h0m3 8h0m3-12h0m2 16h0m5-6h0m1 10h0m-21 12h0m-3-14h0m-4 1h0m4 21h0m8 4h0m2-4h0m8 0h0" stroke="#fff" stroke-width="2.4" stroke-linecap="round" fill="none"/>
<path transform="scale(0.5)" d="M882 214h0m179 16h0m-7 8h0m-21 1h0m-3-8h0m-4 3h0m0-12h0m-4 10h0m-2 3h0m-3 3h0m-4-2h0m-7-3h0m-6 6h0m-8-2h0m-2-5h0m-1-2h0m0 0h0m-4 1h0m-1 8h0m-3-11h0m-8 8h0m-8-10h0m0 11h0m-5 1h0m-3-2h0m-1-1h0m-23-2h0m-14-8h0m-2 13h0m-1-10h0m-20-6h0m-4 8h0m-3-8h0m-3 17h0m-5-15h0m0 12h0m-7 0h0m0 6h0m1-1h0m2 6h0m1 6h0m6 5h0m1-18h0m6 2h0m0 10h0m2 0h0m2-7h0m3 5h0m5 8h0m2-3h0m1 3h0m0-5h0m7-10h0m1-1h0m6 17h0m3-18h0m1 3h0m6 15h0m0-11h0m1-7h0m3 13h0m2-2h0m21-1h0m1-2h0m3 1h0m5 2h0m4-2h0m9 1h0m4-4h0m0 3h0m3 4h0m9-9h0m0 13h0m2-15h0m3 9h0m1-5h0m2 6h0m1 5h0m10-7h0m3 2h0m0 6h0m6 0h0m7-18h0m1 3h0m2-3h0m1 13h0m3 4h0m2 0h0m13-14h0m3 9h0m1-7h0m1-5h0m6 3h0m10 10h0m8-1h0m1 13h0m-10-5h0m-1 3h0m0 15h0m-2-7h0m-3-1h0m-4-4h0m-1 4h0m-1-6h0m0-4h0m-1 18h0m-3-15h0m-1 5h0m0 2h0m-1 4h0m-1-1h0m-5-10h0m-5 9h0m-4 6h0m-6-8h0m0-5h0m-12-2h0m0 10h0m-2 4h0m-5-8h0m-3-4h0m-4 10h0m-7-6h0m-4 6h0m-2 2h0m-2-12h0m-1 13h0m-15-15h0m-3 12h0m-5-4h0m-12-7h0m-2 3h0m-5-2h0m-1-1h0m-6 7h0m-1-5h0m-11-7h0m-9 7h0m-2-1h0m-1 2h0m-14 4h0m-15-10h0m-1-1h0m-4 14h0m-8-8h0m1 18h0m0-5h0m6 16h0m0-9h0m3 12h0m6-14h0m8 4h0m5-8h0m9 14h0m7-3h0m0 7h0m1-19h0m3 0h0m0 15h0m11-13h0m4 9h0m0 2h0m1-5h0m7-5h0m0 1h0m0 15h0m2-18h0m3 11h0m6 1h0m2-1h0m4-10h0m16-2h0m3 16h0m0-13h0m3 10h0m5-6h0m2-2h0m15 10h0m1-3h0m0-8h0m2 13h0m3-12h0m3 13h0m15-12h0m1-5h0m8 15h0m11-1h0m1-2h0m2-3h0m1 9h0m0-5h0m3 4h0m3-13h0m5 10h0m1-1h0m0-9h0m1 9h0m2-10h0m4-1h0m2 3h0m1-5h0m12 13h0m-9 9h0m0 3h0m-1-3h0m-10-2h0m0 1h0m-2 7h0m0-7h0m-2 9h0m-1 5h0m-1-3h0m-3 0h0m-7-1h0m-3 5h0m-6-9h0m-1-7h0m-1 11h0m-8 1h0m-3-11h0m0 15h0m-2-11h0m-2 6h0m-4 0h0m-2 5h0m0-9h0m-3 3h0m0-4h0m0-5h0m-4 14h0m-8-4h0m-1-5h0m-3 11h0m-1-16h0m-2-1h0m-3 16h0m-5-4h0m-6-7h0m-4 8h0m0-13h0m-1 0h0m-4 12h0m-4-12h0m-7 5h0m-1 10h0m-4 2h0m-4-1h0m-1-3h0m-2-5h0m-7 8h0m-4-6h0m-1-3h0m-1-6h0m-4 1h0m-4 6h0m-1-4h0m-4-2h0m-1 6h0m-12 8h0m-3-11h0m-5-1h0m-5 11h0m-5-6h0m-2 3h0m-1-10h0m-7 11h0m-1-7h0m1 14h0m0 5h0m3-1h0m4 0h0m1 2h0m1 4h0m7-11h0m0 6h0m4-5h0m2 11h0m7-6h0m2 3h0m9 9h0m3-8h0m1 2h0m12 7h0m1-12h0m2-3h0m13 5h0m3-4h0m4-4h0m0 12h0m1 3h0m0 3h0m10-2h0m6-2h0m8-12h0m3 8h0m1-2h0m2 8h0m8-3h0m3 3h0m1 2h0m11-6h0m9 4h0m1 2h0m4-2h0m1 1h0m1-2h0m13-4h0m0-3h0m2 4h0m2 2h0m4-8h0m2 7h0m6-1h0m-19 16h0m-2-1h0m-7-4h0m-5 7h0m-6-1h0m-7-8h0m-4 5h0m-2 4h0m-16 8h0m-2-17h0m-3 3h0m-15 0h0m-1-1h0m-2 1h0m-2-3h0m-5 1h0m-4 5h0m-8 0h0m-4 7h0m-1 3h0m-4-17h0m-1 6h0m-1 6h0m-14-3h0m-2-2h0m-16-1h0m-1 0h0m0 5h0m-10-5h0m9 14h0m13 12h0m3-7h0m2 5h0m16-7h0m1 8h0m4 7h0m3-1h0m4-14h0m0 5h0m6 7h0m5-1h0m8-7h0m5 9h0m0 2h0m8-11h0m9 1h0m0 10h0m5-16h0m2 3h0m2 9h0m5-7h0m3 5h0m4-10h0m4-1h0m6 19h0m-10-1h0m-2 0h0m-4 12h0m-4-9h0m-5 4h0m-4 3h0m-2 2h0m0 6h0m-5-3h0m-3-12h0m-1 4h0m-13-7h0m-1 8h0m-4-1h0m-12 7h0m0 4h0m-1-5h0m-8-5h0m-1 11h0m-20-17h0m-2 15h0m0-10h0m-3-5h0m-1 7h0m-12-4h0m18 20h0m9 12h0m8 2h0m7-19h0m0 6h0m3 5h0m3-8h0m8 0h0m1-2h0m1 6h0m4 3h0m0 0h0m1-7h0m29-1h0m5 13h0m0 2h0m3-12h0m2 3h0m5-7h0m-13 24h0m-1-3h0m-5 14h0m-1 0h0m-1 1h0m-5-3h0m-2-11h0m-2-1h0m-7 8h0m-2-10h0m-2 17h0m-4-12h0m-1 0h0m-4-2h0m-4-1h0m-7-1h0m-3 18h0m-2-17h0m-2 2h0m-4 15h0m-6-10h0m0-7h0m-2-1h0m0 17h0m-1-11h0m8 24h0m12-5h0m7-4h0m3 13h0m12-8h0m6 0h0m0 3h0m3-7h0m3 3h0m-24 26h0m-6-12h0m-2 7h0m-6-6h0" stroke="#fff" stroke-width="2.4" stroke-linecap="round" fill="none"/>
<path transform="scale(0.5)" d="M1501 156h0m-1-2h0m-10 10h0m3 13h0m2-14h0m1 2h0m4 10h0m1 2h0m3-1h0m5 1h0m1-3h0m1-3h0m-2 27h0m-1 0h0m-11-9h0m-1 8h0m-21 21h0m7-10h0m0 2h0m5-9h0m7 8h0m4-3h0m4 12h0m3-11h0m7 7h0m0 18h0m-4-11h0m0-1h0m-5 7h0m-3-3h0m0 15h0m-4-13h0m-4 10h0m-4-4h0m-1-9h0m0 7h0m-5 4h0m-10 3h0m-3-11h0m-3 0h0m-2 4h0m-54 23h0m11 6h0m6-1h0m8-1h0m2-9h0m1 0h0m3 2h0m12-1h0m2 0h0m9 10h0m6-17h0m2 11h0m0-3h0m0 9h0m1-15h0m5 9h0m1-6h0m4 10h0m0-3h0m12-2h0m3-4h0m2-1h0m1 2h0m5-2h0m1 8h0m-7 22h0m-3-17h0m-2 6h0m-4 5h0m-1-10h0m0 9h0m-8 3h0m-2-4h0m-3-2h0m-16-4h0m-1 1h0m-7 7h0m-2 8h0m-2-15h0m-3 7h0m0-2h0m-1 8h0m0 1h0m0 0h0m-6-17h0m-1 11h0m-2-12h0m-1 4h0m0 9h0m-2-13h0m-3 19h0m-3-15h0m-2 12h0m0-14h0m-2 6h0m-3 5h0m-1-6h0m-6-3h0m-5 4h0m-2-8h0m-2 12h0m-1-9h0m-19 16h0m-4 0h0m-2-4h0m-4-5h0m-5 5h0m-19 23h0m5-14h0m5 6h0m2-9h0m16 17h0m0 0h0m9 1h0m1-8h0m2 1h0m8-11h0m0 9h0m3-7h0m5 14h0m1 2h0m0-3h0m0 0h0m9-4h0m6-3h0m6 10h0m0-8h0m3-9h0m8 11h0m2-11h0m5 14h0m5 2h0m2-5h0m6-9h0m4 13h0m4-7h0m0 2h0m2-2h0m1 9h0m2-18h0m4 4h0m4-4h0m3 8h0m1 10h0m3-13h0m2 7h0m4 3h0m8 4h0m-11 18h0m-1-9h0m0-8h0m0-1h0m-6 0h0m-2 3h0m-9 10h0m-2-7h0m-1 3h0m-1 8h0m-3-2h0m0 3h0m-2-1h0m-1-1h0m-2-6h0m-2-2h0m-8-8h0m-3 10h0m0-5h0m-4-4h0m-1 16h0m-2 0h0m-4-5h0m-12-2h0m-1-5h0m-4 9h0m-2-11h0m-6 13h0m-2-14h0m0 15h0m-3-11h0m-3 10h0m-2-9h0m0 6h0m-13 6h0m-2-11h0m-1-5h0m-1 12h0m-1-1h0m-3-2h0m-7-2h0m-4-5h0m-1-4h0m-1 18h0m0-7h0m-2 1h0m-1-8h0m0-2h0m-2 13h0m-1-1h0m-4 4h0m0-19h0m-1 14h0m-2-14h0m-8 7h0m-4 1h0m-4-3h0m-2 9h0m-9 21h0m9-3h0m1 2h0m2-1h0m3 2h0m7 0h0m2-15h0m6 1h0m2 4h0m8 1h0m1-1h0m8 3h0m0-6h0m14 5h0m5-7h0m2 15h0m3-6h0m1 1h0m11-6h0m5 12h0m0-6h0m1-6h0m3 12h0m4-6h0m17 2h0m8 6h0m0-1h0m0-4h0m6-11h0m11 14h0m6-4h0m1 0h0m3 2h0m6-4h0m-3 17h0m-9-4h0m-2 3h0m-3 7h0m-3 5h0m-2 1h0m-3-7h0m-3-12h0m-4 4h0m-1 3h0m-3 3h0m-3-5h0m-1-1h0m0-1h0m-2 5h0m-3-7h0m-5 2h0m-3 2h0m-2-1h0m-1-3h0m-2 15h0m-3 3h0m-4-8h0m-4-1h0m-2-9h0m-3 7h0m-10-4h0m-3 14h0m-2-9h0m0-9h0m-3 10h0m-7 7h0m-2-12h0m0-4h0m-2 7h0m-2-1h0m0 9h0m-4-16h0m-4 19h0m-1 0h0m-2-13h0m-4 3h0m-3 6h0m-2-1h0m-16 3h0m0-12h0m-1 8h0m-3-4h0m-1-4h0m-2 3h0m-6 9h0m-2-15h0m7 19h0m3 12h0m2-6h0m8 7h0m7-7h0m7 11h0m3-9h0m0 6h0m2-6h0m1-4h0m5 8h0m2-5h0m0 2h0m5 7h0m3-16h0m3 6h0m9 2h0m5-4h0m1 14h0m3-17h0m11 2h0m3 12h0m3-9h0m4 7h0m3 1h0m7 0h0m3-8h0m3 4h0m6-5h0m4 1h0m0 5h0m2 4h0m5 1h0m3-2h0m0 1h0m4-8h0m0-8h0m4 11h0m-3 22h0m-4-11h0m-4 15h0m-7-12h0m-5 0h0m-2 8h0m-3-4h0m-1-2h0m-4 7h0m-1 5h0m-6-10h0m-3-5h0m-1 13h0m-1-17h0m-4 15h0m0-12h0m-4 1h0m0 9h0m-1 2h0m-2-10h0m-3 1h0m-2-2h0m-5 4h0m-1-7h0m-1 8h0m0-7h0m0-1h0m-1 1h0m-1 15h0m-3-6h0m-4-6h0m-3 3h0m-5 10h0m-6-11h0m0 5h0m-1 5h0m-2-17h0m-9 9h0m-1-5h0m0 3h0m-4 2h0m0-5h0m-1 14h0m-5-5h0m-4-11h0m-2-1h0m3 34h0m3-7h0m1 3h0m2-9h0m0 11h0m2-8h0m3 14h0m2-17h0m1 16h0m9-14h0m10 4h0m0 9h0m3-8h0m0-4h0m13 13h0m1-4h0m1 4h0m7-11h0m0-6h0m0 7h0m6 8h0m1-14h0m0 14h0m1-3h0m5-6h0m3-3h0m1 1h0m2-4h0m3 3h0m7 12h0m2-2h0m0 2h0m1-16h0m4 12h0m2-5h0m4 3h0m1 9h0m1 10h0m0 1h0m-3 3h0m-1 4h0m-6-11h0m-5-3h0m-3 10h0m0-3h0m-2 0h0m-4 6h0m-2 0h0m-10 0h0m-15-1h0m-1 4h0m-2-6h0m-9-12h0m-4 8h0m-23 9h0m-7-18h0m31 22h0m10 2h0m13-1h0m0 2h0m5 9h0m2 4h0m5-4h0m1 3h0m1-8h0m2-6h0m10 13h0m9 0h0m0 17h0m-1-8h0m-5 5h0m0 1h0m0 3h0" stroke="#fff" stroke-width="2.4" stroke-linecap="round" fill="none"/>
<text x="536" y="62.9" font-size="24">Dis1</text>
<text x="665.3" y="61.9" font-size="24">Dis2</text>
<text x="693" y="100.6" font-size="24">Dis3</text>
<text x="454" y="107.9" font-size="24">Homeo3</text>
<text x="668.9" y="279.5" font-size="24">Homeo1</text>
<text x="471.1" y="306.7" font-size="24">Homeo2</text>
<text x="633.3" y="407.1" font-size="24">Remyel</text>
<path d="M580 64L588.7 85" stroke="#000" stroke-width="1.4" fill="none"/>
<path d="M590.8 90.1L585.9 85.1L590.7 83.1Z" fill="#000"/>
<path d="M666.8 64L655.9 75.6" stroke="#000" stroke-width="1.4" fill="none"/>
<path d="M652.1 79.6L654.7 73.1L658.4 76.7Z" fill="#000"/>
<path d="M713.2 104.7L713.2 129.6" stroke="#000" stroke-width="1.4" fill="none"/>
<path d="M713.2 135.1L710.6 128.6L715.8 128.6Z" fill="#000"/>
<path d="M495.2 112L486.5 137.2" stroke="#000" stroke-width="1.4" fill="none"/>
<path d="M484.7 142.4L484.4 135.4L489.3 137.1Z" fill="#000"/>
<path d="M670 258.5L647.7 236.3" stroke="#000" stroke-width="1.4" fill="none"/>
<path d="M643.8 232.4L650.2 235.1L646.6 238.8Z" fill="#000"/>
<path d="M523.5 290L527.7 268.1" stroke="#000" stroke-width="1.4" fill="none"/>
<path d="M528.7 262.7L530 269.6L524.9 268.6Z" fill="#000"/>
<path d="M626 399.8L616.8 399.8" stroke="#000" stroke-width="1.4" fill="none"/>
<path d="M611.3 399.8L617.8 397.2L617.8 402.4Z" fill="#000"/>
<path d="M423.4 341.6V408.4H491.1" stroke="#111" stroke-width="1.6" fill="none"/>
<path d="M423.4 339.2l-1.8 3.4h3.6zM493.5 408.4l-3.4 -1.8v3.6z" fill="#111"/>
<text x="422.2" y="426.7" font-size="19.8">UMAP2</text>
<text transform="translate(419.6 409.6) rotate(-90)" font-size="19.8">UMAP1</text>
</g>
<g id="umap_b">
<path transform="scale(0.5)" d="M1213 1171h0m1 8h0m13 0h0m4-2h0m23 12h0m-5 1h0m-1-2h0m-1 6h0m-1 4h0m0-9h0m-1 5h0m0 5h0m0-3h0m-1-2h0m-1-4h0m-2-1h0m-1 0h0m-2 10h0m-1-13h0m0-2h0m-1 13h0m-3-7h0m-3 3h0m-7 6h0m-1-1h0m-2-9h0m0-3h0m-2 4h0m0 6h0m0 2h0m-2-18h0m-2 14h0m-1-5h0m-5 8h0m0-3h0m-2-4h0m-3 2h0m-1 6h0m-2-5h0m-18 23h0m2-13h0m1 6h0m3-2h0m0-1h0m4 5h0m0-3h0m2 7h0m2-3h0m0-11h0m1 18h0m2-6h0m1 0h0m0-9h0m6-3h0m6-1h0m0 10h0m1-9h0m4 18h0m2-9h0m2 0h0m3 5h0m3 2h0m0-9h0m1 2h0m1-6h0m1-2h0m0 13h0m1-4h0m0 2h0m3-11h0m1 15h0m2 0h0m0-6h0m0-8h0m3 6h0m1-7h0m0 13h0m5 3h0m0 1h0m1-6h0m1-2h0m0 4h0m0-15h0m1 0h0m1 11h0m0-11h0m1 12h0m0-7h0m1 5h0m5-6h0m9 32h0m-6-4h0m-3 1h0m0 6h0m-1-18h0m0 8h0m-2 3h0m0 1h0m-3-4h0m-1-4h0m0 12h0m-1-3h0m-3-13h0m-3-1h0m-1 16h0m0 2h0m-3-8h0m-1-5h0m-2-3h0m-2 14h0m-1-13h0m-1 8h0m-1-1h0m-1-4h0m-4 12h0m-2-18h0m0 17h0m-6 1h0m0-13h0m-2 12h0m-1-10h0m-2 9h0m0-13h0m-1 0h0m-1 15h0m-2 1h0m0-12h0m-4 9h0m-1-15h0m-1 12h0m-2-3h0m-1-4h0m0 9h0m-1-2h0m0 6h0m-3-14h0m-1 13h0m-1-18h0m0 14h0m-4-2h0m-1 5h0m0-7h0m-2-8h0m-1 2h0m0 0h0m-2-1h0m-2 9h0m-4-3h0m-1-4h0m-2 12h0m-3 0h0m-2-8h0m-1 8h0m-3 1h0m-17 12h0m0 1h0m0 2h0m4 0h0m3-11h0m0 8h0m0 6h0m4-5h0m2 1h0m0-2h0m2-10h0m1 11h0m1-2h0m4-6h0m0 3h0m3 13h0m1-7h0m2-2h0m1 0h0m0 4h0m1 1h0m1 3h0m0-6h0m1 0h0m3 3h0m0 4h0m2-15h0m1 0h0m1 11h0m1-5h0m0 1h0m1-2h0m1-2h0m2 6h0m1-6h0m0 11h0m2-18h0m2 19h0m1-18h0m4 16h0m1-12h0m2 4h0m1 9h0m1-17h0m7 6h0m1 10h0m3-15h0m0 17h0m1-5h0m1-11h0m2-3h0m4 8h0m3 6h0m2-13h0m0 7h0m4 10h0m4-9h0m0-6h0m1 3h0m0 0h0m1 9h0m3 4h0m1 0h0m0-13h0m1-2h0m2 10h0m1-6h0m2-5h0m3 7h0m1 3h0m7-8h0m3 11h0m1-4h0m4 0h0m1-8h0m10 10h0m2 23h0m-2-8h0m-2-8h0m-1 7h0m-2-7h0m-2 3h0m0 6h0m-4-9h0m-1 1h0m-2 8h0m-9 5h0m-1-7h0m0-6h0m-1 13h0m0 2h0m-3 1h0m-1-5h0m-1 6h0m-3-5h0m-1-13h0m-1 14h0m-2-7h0m-3 8h0m0-11h0m0 5h0m-2 8h0m-1-12h0m-3 5h0m-2-6h0m-1 8h0m-3-8h0m-4 6h0m-2 0h0m0 4h0m-3-15h0m0 12h0m-1-2h0m0 1h0m-9 0h0m-4-1h0m-5-7h0m0 5h0m-4 1h0m-2-5h0m-4 9h0m-5-1h0m0-11h0m-2 13h0m-2-1h0m-1-5h0m0 4h0m-1-11h0m-2-1h0m-1 16h0m-1-6h0m-2 3h0m0 3h0m-1-16h0m-3 2h0m-1 14h0m-2-10h0m-9 1h0m0 0h0m-3-3h0m-2 12h0m0-1h0m-2 3h0m-1-5h0m-3 2h0m0-13h0m-1 6h0m-1-1h0m0 1h0m-6 8h0m-2-9h0m-1-7h0m-2 16h0m-1-1h0m-1-4h0m-3-11h0m-2 10h0m-1 8h0m-1-7h0m5 9h0m2 5h0m0 6h0m4 6h0m4-3h0m4 5h0m2-3h0m0 2h0m1-2h0m3-1h0m1 3h0m1-12h0m2 10h0m0-8h0m0 8h0m1-12h0m1-3h0m1 1h0m4 6h0m2-6h0m1 9h0m2-10h0m1 3h0m1 13h0m0-5h0m0-2h0m2 9h0m2-2h0m0-17h0m1 12h0m3-3h0m5 0h0m2 3h0m1-10h0m1 17h0m1-2h0m0 1h0m1-8h0m1-10h0m2 9h0m2 3h0m4-11h0m5 0h0m0 16h0m3-16h0m1 6h0m4 6h0m1 3h0m1-12h0m1 14h0m3-6h0m0-5h0m1-5h0m1 14h0m3-6h0m1 0h0m2-1h0m1 4h0m1-10h0m4 11h0m4-3h0m3-4h0m2 1h0m0 11h0m0-9h0m2 5h0m0-3h0m1-12h0m1 19h0m1-19h0m1 3h0m1 14h0m3-7h0m3 8h0m1-12h0m0 1h0m1 1h0m5 4h0m1-11h0m1 5h0m1 1h0m1 7h0m1 3h0m1-10h0m1 1h0m1 9h0m2-8h0m5 1h0m1 6h0m1-12h0m1 12h0m3 3h0m2-4h0m3-5h0m1-7h0m4-3h0m0 8h0m3 7h0m3-2h0m1 1h0m1-2h0m4-1h0m2 0h0m28 26h0m-2-1h0m-1-3h0m-5-5h0m-1-6h0m-2 17h0m-1-2h0m0 1h0m-1-15h0m-2 4h0m-3 5h0m-1-4h0m-1 6h0m-1 5h0m-2 0h0m-1-16h0m-3 7h0m-1 2h0m-1 4h0m-1-2h0m-5-12h0m-1 16h0m-1 1h0m-1-5h0m-1-11h0m-3 0h0m0 9h0m-1-5h0m0 10h0m-3-3h0m-4-5h0m0 9h0m0-13h0m-1-1h0m-5 14h0m0-1h0m-1-14h0m-12 11h0m-1-13h0m0 2h0m0 15h0m-2-14h0m-2 7h0m0-9h0m-1 7h0m-3 3h0m-2 0h0m-2 5h0m0-13h0m-2 1h0m-1-4h0m0 0h0m-2 7h0m-9 3h0m-2-5h0m-1 1h0m-1 0h0m0 7h0m-2-8h0m0-2h0m-2 2h0m-4 3h0m-2 0h0m-1 7h0m-2 0h0m0-9h0m-1 7h0m0-3h0m0 8h0m0-5h0m-4 3h0m-2-5h0m-2-9h0m-2 12h0m-2-13h0m-2 15h0m-1-5h0m-1-2h0m0-3h0m0 5h0m-1-3h0m-4 9h0m-1-11h0m-2 11h0m-2-13h0m0-1h0m-6-3h0m0 10h0m-3 4h0m0 2h0m-5-1h0m0-14h0m-2 16h0m-1-12h0m-2 3h0m-3 2h0m-1 2h0m0-5h0m-1 2h0m-1-7h0m-2 16h0m-2-8h0m-2 5h0m-2-2h0m-1-7h0m-3-7h0m0 4h0m-1 5h0m-3-9h0m-2 0h0m-4 9h0m-1 10h0m-2-4h0m-1-14h0m-1 11h0m-1-2h0m-1-5h0m-5-4h0m-1 9h0m0 4h0m-5 20h0m3 2h0m4-6h0m0-4h0m1 2h0m0-1h0m1 9h0m1-11h0m0 1h0m2-4h0m3 13h0m0 2h0m4-6h0m2-8h0m0 0h0m2 9h0m3 7h0m0-15h0m1 8h0m0 3h0m3-9h0m2 9h0m0-8h0m0-3h0m0-4h0m4 9h0m11-2h0m6 2h0m0 4h0m1-8h0m0 2h0m1 9h0m0-12h0m2 2h0m0 1h0m2 12h0m2-15h0m0 1h0m4 14h0m7-9h0m1 3h0m0 3h0m1-3h0m1 3h0m4-7h0m0 0h0m0 2h0m1-1h0m3-10h0m3 12h0m3-4h0m2 6h0m3-3h0m2-11h0m1 7h0m1 8h0m0-3h0m1-3h0m7 6h0m1 0h0m1-6h0m3-7h0m0 4h0m1-5h0m4 7h0m1 1h0m2-5h0m1 15h0m2 0h0m3-2h0m2-10h0m3 0h0m9 1h0m1 1h0m3 6h0m0 4h0m0-10h0m1-5h0m5 3h0m3 12h0m0-6h0m1 3h0m2-13h0m1 1h0m3 6h0m1 7h0m0-9h0m4 10h0m2 1h0m3-18h0m0 12h0m2 1h0m0-13h0m0 11h0m1 1h0m2-10h0m3-1h0m6-2h0m6 8h0m0-3h0m0 10h0m0-14h0m2 15h0m2 2h0m5 0h0m1-11h0m2 0h0m0 0h0m4-1h0m1-1h0m2 5h0m1-4h0m2-1h0m1-5h0m2 11h0m4-2h0m1 5h0m3 4h0m4-3h0m7 11h0m-2-3h0m-3 5h0m-1 1h0m-1 2h0m-6-2h0m-1 8h0m-7-17h0m-1 15h0m-2-13h0m-2 4h0m-4 10h0m-3 3h0m-2-2h0m0-14h0m-1 11h0m0 2h0m0-3h0m-1-8h0m-2 8h0m0-13h0m0 17h0m-3-9h0m-1 1h0m-4-4h0m-6 6h0m-4-6h0m-3 11h0m0 3h0m-2-12h0m-1-6h0m-1 2h0m-1 7h0m0-1h0m-1-9h0m-4 8h0m-1 11h0m0-12h0m-1 9h0m-1-10h0m-1 6h0m-2-1h0m-1 3h0m0-3h0m-1-11h0m-3 12h0m-2-8h0m0 12h0m-2 2h0m-2-8h0m-1 1h0m-1 2h0m-3-3h0m-1 6h0m-2 3h0m0-17h0m-2 3h0m-6 4h0m-1 4h0m-2 2h0m-3-5h0m0-2h0m-2 6h0m-3-2h0m-1-9h0m-1 16h0m-1-4h0m-1-10h0m-2 9h0m-1-13h0m-5 17h0m-3-12h0m-1 0h0m0 10h0m0-1h0m-1-13h0m-1 0h0m-1 9h0m-2 2h0m-1-6h0m-2 5h0m-2-2h0m-3-5h0m0 9h0m-2-12h0m-3 17h0m-3 0h0m-1-4h0m0-5h0m-2-1h0m-1 7h0m-1-6h0m0-4h0m-2-2h0m-1-3h0m-1 10h0m-4 8h0m-1-15h0m0 14h0m-1-8h0m-2 5h0m-2-10h0m-2-1h0m-1 4h0m0-6h0m-2 2h0m-3 13h0m0-14h0m-3 16h0m-5-16h0m-1 16h0m-1-10h0m-1 8h0m-6-1h0m-6-7h0m-1 0h0m-2 3h0m0 0h0m-1 3h0m-1 1h0m-4-1h0m-2 3h0m-5-10h0m0-4h0m-2 8h0m-1-5h0m-6 10h0m-1-11h0m-1 2h0m2 28h0m2 1h0m8-17h0m3 14h0m0 5h0m3-8h0m0 0h0m1-7h0m1 1h0m1-2h0m2 9h0m0 2h0m2-9h0m2 9h0m0-8h0m1 5h0m3-3h0m4 4h0m0 6h0m1-3h0m4 1h0m4-12h0m2 13h0m2-15h0m3 12h0m1 5h0m4-14h0m2 0h0m1 13h0m1-5h0m0 4h0m1-2h0m0-13h0m0 8h0m0 1h0m2 3h0m0-12h0m1 10h0m0-7h0m3 14h0m0-14h0m4 2h0m1 5h0m2-9h0m2 2h0m0 12h0m1 1h0m2-17h0m1 0h0m3 11h0m2 7h0m3 0h0m3-13h0m4 1h0m0 3h0m2-2h0m2 1h0m2 3h0m2-5h0m0 8h0m1-13h0m0 7h0m1-3h0m5-6h0m1 15h0m3-14h0m4 8h0m2 1h0m3 8h0m1-8h0m2-1h0m0 1h0m0 4h0m0-7h0m0 2h0m2 7h0m1-4h0m2-4h0m1 8h0m0-10h0m1 7h0m3-9h0m0-1h0m5 3h0m4-6h0m1 7h0m2-2h0m0 14h0m3-15h0m3 11h0m1-13h0m0 12h0m2-13h0m0 14h0m1 1h0m0-8h0m1-8h0m1 9h0m3 4h0m1 4h0m2 0h0m0-16h0m1 1h0m3 8h0m0-6h0m0 13h0m1-13h0m2-2h0m0 14h0m1-5h0m1-2h0m1 4h0m1 3h0m1-5h0m2-3h0m2 10h0m1-13h0m0 3h0m0 3h0m1 7h0m2-8h0m1 9h0m4-15h0m3-1h0m2 0h0m2 4h0m0 1h0m7-2h0m4 13h0m0-16h0m0 2h0m1 8h0m0-11h0m2 0h0m4 0h0m0 3h0m3 9h0m0-10h0m1 13h0m2-6h0m1 7h0m1-2h0m3-4h0m1 3h0m0-5h0m2-10h0m-8 24h0m-12 1h0m-3 9h0m-1-2h0m-4 5h0m0-4h0m-2-1h0m0-11h0m0 15h0m-3-3h0m-2 0h0m-3 2h0m-4-12h0m-1 14h0m-5-6h0m-1 1h0m-3-12h0m-1 10h0m-1-7h0m0 8h0m-1-7h0m-3 0h0m-1 13h0m-2 2h0m-1-18h0m0 6h0m-2-3h0m0 13h0m-1-4h0m-5-8h0m-1 7h0m-3-12h0m0 6h0m-1-1h0m-1-5h0m-1 16h0m0-16h0m-1 19h0m-1-11h0m-1-8h0m-3 19h0m-1-9h0m-2-1h0m-2 8h0m-2-11h0m-1 4h0m-1 4h0m0-9h0m-4-2h0m-2-1h0m-1 17h0m-1 0h0m0-19h0m-2 3h0m-2 12h0m-3 1h0m-1-10h0m-1 0h0m0 13h0m0-11h0m-1 3h0m0 4h0m-2-3h0m0-12h0m0 6h0m-2 6h0m-1 6h0m-1-8h0m-4 0h0m-1 2h0m-1-7h0m-1 10h0m-2-13h0m-2 2h0m0 2h0m-1-1h0m-7 7h0m0-1h0m0-8h0m-3 1h0m-2-4h0m0 18h0m-1-11h0m0 1h0m-1 6h0m-4-8h0m-3 2h0m0-6h0m0 10h0m-1 7h0m-1-14h0m0-4h0m-1 0h0m-1 3h0m-4 4h0m0 4h0m-4-7h0m-2 8h0m-2 0h0m0-4h0m-1-1h0m0-2h0m-4 11h0m-1 0h0m0-7h0m-3 7h0m-1-1h0m-4-7h0m-4 3h0m-1 4h0m-4-12h0m0-2h0m0 13h0m-2-10h0m-8 6h0m0-1h0m-3-10h0m-1 1h0m-4 8h0m-4-1h0m-1-8h0m-3 2h0m-4 0h0m-1 6h0m40 13h0m18 2h0m5 0h0m2 3h0m6-2h0m1 0h0m10-4h0m2 4h0m9-3h0m1 12h0m1-6h0m3-4h0m4-3h0m1 7h0m0-5h0m2 6h0m4 4h0m0-11h0m3 2h0m1 9h0m7-11h0m2 0h0m1 2h0m0 16h0m0-2h0m1 1h0m4-14h0m0 12h0m1 3h0m3-14h0m0-1h0m2 9h0m1-8h0m2 0h0m3 1h0m1-1h0m4 3h0m1-6h0m1 17h0m1-14h0m0-3h0m2 1h0m1 13h0m0-14h0m3 3h0m3 1h0m1 10h0m1 0h0m0-2h0m0-1h0m2 0h0m0-6h0m3 2h0m2 7h0m1 2h0m1-12h0m0 9h0m1-9h0m8-5h0m1 4h0m2 3h0m9-7h0m1-1h0m-11 28h0m-6 2h0m-4 3h0m-1-4h0m-1-9h0m0 9h0m-1-8h0m-2 8h0m-3-5h0m0 7h0m-3-2h0m0 0h0m-1-1h0m-1 9h0m0-7h0m-2-10h0m0 11h0m-4 3h0m0-7h0m-2-6h0m-1 0h0m-3 5h0m-2-3h0m0 12h0m-1-14h0m-2 6h0m-2-1h0m-1-4h0m-3 8h0m-3-5h0m-3-5h0m-1 2h0m-14 2h0" stroke="#8c564b" stroke-width="11" stroke-linecap="round" fill="none"/>
<path transform="scale(0.5)" d="M1096 1359h0m-16 8h0m6-1h0m10 0h0m4 4h0m4 3h0m7-7h0m0 9h0m0 1h0m4 3h0m3-7h0m0-3h0m5 5h0m1-4h0m5 1h0m-9 23h0m-5-13h0m-14 16h0m0-5h0m-1 0h0m-3-11h0m-1 5h0m-3-3h0m-12 2h0m-1-2h0m-2-3h0m0 19h0m-1 15h0m16-3h0m5 4h0m4-3h0m8 1h0m5-3h0m2-6h0m3 9h0m2 16h0m-11-7h0m0 0h0m-6-1h0m-5 12h0m-1-10h0m-7 8h0m-6 2h0m-4-5h0m25 15h0" stroke="#8c564b" stroke-width="11" stroke-linecap="round" fill="none"/>
<path transform="scale(0.5)" d="M1395 1079h0m-1-1h0m-11-3h0m-2 0h0m-11 3h0m-7 0h0m-5 0h0m-7 0h0m-24 9h0m7 11h0m3-13h0m0 7h0m1-1h0m1 4h0m1 2h0m3 0h0m1 2h0m1-17h0m0 1h0m4 0h0m7-3h0m2 19h0m4-3h0m0 2h0m1-7h0m4-1h0m1 7h0m5-1h0m0-10h0m2-2h0m4-1h0m4 15h0m2-13h0m6 2h0m0-7h0m1 17h0m3-13h0m2 5h0m4 4h0m2 2h0m2 0h0m3 0h0m2-11h0m0 3h0m1 10h0m2-8h0m0 9h0m16 20h0m-1-9h0m-4-1h0m-2 4h0m0 0h0m-3 5h0m-2-11h0m-3 5h0m-3-3h0m-1 10h0m-3-3h0m0 0h0m-1-9h0m-4 10h0m-5-2h0m-1 3h0m0-9h0m-17-3h0m0 13h0m-2-2h0m-1-13h0m0 4h0m-1-6h0m-1 3h0m-3-2h0m-3-2h0m-1 13h0m-1 5h0m-1-6h0m-7-9h0m0 0h0m-2 12h0m-2-10h0m-1 5h0m-2 4h0m-1-14h0m-5 14h0m-2-2h0m-2-3h0m-1-9h0m-9 5h0m-2 13h0m-2-15h0m-5 11h0m-3 5h0m-2-9h0m-3 2h0m-4 0h0m-1-8h0m-2 8h0m-35 22h0m6 5h0m1-9h0m2-1h0m2 5h0m3-4h0m1 5h0m6-2h0m3-2h0m3-3h0m3-7h0m1 11h0m0 2h0m3-7h0m4 1h0m0 0h0m1-1h0m4-3h0m8 14h0m2-10h0m2 3h0m3 0h0m1-10h0m4 10h0m8-2h0m1-7h0m0 6h0m2-6h0m1 12h0m5-9h0m1 11h0m2-2h0m0-8h0m4-4h0m2 13h0m5-10h0m4-1h0m3 8h0m4-9h0m6 12h0m2-10h0m4 13h0m1-3h0m1 4h0m3-13h0m2 5h0m1-6h0m4 12h0m0-17h0m3 5h0m1-5h0m2 3h0m1 15h0m1-7h0m5-9h0m5 12h0m1 3h0m8-7h0m5 0h0m0 1h0m1-2h0m4 1h0m3 3h0m20 26h0m-6-13h0m0-3h0m-1 13h0m-4 0h0m0-5h0m0-3h0m-1 9h0m-5-12h0m-1 14h0m-1-15h0m-2 4h0m0-1h0m-1 7h0m-4 2h0m-1-4h0m-2 5h0m0 2h0m-3-11h0m-5 8h0m-3-16h0m-5 0h0m-7 14h0m-6-2h0m-1 5h0m-2-17h0m0 10h0m-5 3h0m-3-5h0m-2 4h0m0-12h0m-1 19h0m0-10h0m-4 7h0m-2-6h0m-2 9h0m-1-1h0m0-17h0m-6 2h0m-1 10h0m-3-13h0m-3 1h0m0 16h0m-1-4h0m-8 4h0m-3-3h0m0 4h0m0-14h0m-7-1h0m-1 1h0m-2 10h0m-1-1h0m-7-3h0m-1-7h0m0-3h0m-3 6h0m-3-2h0m-1 2h0m-1-3h0m-4 8h0m-3 8h0m-1-3h0m-2-6h0m-2-1h0m-5-8h0m-6-1h0m0 19h0m-2-15h0m0 1h0m-5 3h0m-2 6h0m-6-4h0m-1-2h0m-5 11h0m-2 0h0m-1-15h0m-1 2h0m-7-3h0m-1 11h0m-1-4h0m0-3h0m-1 6h0m0-5h0m0 4h0m-2-2h0m-3-6h0m-7 14h0m-1 0h0m-3-6h0m-1 5h0m-2-10h0m-3 1h0m-1 9h0m-9 4h0m2 12h0m0 4h0m14-17h0m0 8h0m2-6h0m4 6h0m3-5h0m1 3h0m3 3h0m0 4h0m1-13h0m3 18h0m2-17h0m8 4h0m1 4h0m3-3h0m3 9h0m3-4h0m4 4h0m5-7h0m8 1h0m0-4h0m1 13h0m2-3h0m1-10h0m5 14h0m0-16h0m5 6h0m1-1h0m2-3h0m6-3h0m2 8h0m4 9h0m1-13h0m3 13h0m1-12h0m4 12h0m1-17h0m2 15h0m2-13h0m0 12h0m0-15h0m1 8h0m3-4h0m4 9h0m3-9h0m4 8h0m18-1h0m11-11h0m4 3h0m1 13h0m5-15h0m2-1h0m6 7h0m0-5h0m0 11h0m7-4h0m6-10h0m3 0h0m0 16h0m2 2h0m0-14h0m0 8h0m1-10h0m0 1h0m4 2h0m5 2h0m3-1h0m1 8h0m4 0h0m5-10h0m1-3h0m4 8h0m0 0h0m2-7h0m1 5h0m3 0h0m0-6h0m5 21h0m-6-1h0m-4 1h0m-1 5h0m0-7h0m-2 6h0m-1 13h0m0-4h0m0 1h0m-3 2h0m-1-12h0m-2-6h0m-2 13h0m-1-2h0m-1 4h0m-4-1h0m-3-6h0m-9-7h0m-1 1h0m0 16h0m-1-14h0m-3-1h0m-2 14h0m-5-16h0m-1 18h0m-1-5h0m-7-8h0m0-5h0m-3 0h0m0 14h0m0-13h0m-2 4h0m-1-3h0m0 7h0m-6-3h0m-7-6h0m-2 4h0m0 9h0m-2-12h0m-3 9h0m-5-2h0m-1-8h0m-2 13h0m0-11h0m-3 9h0m-1 0h0m-3 5h0m-2-16h0m0 3h0m-2-2h0m-12 14h0m0 0h0m-2-2h0m0 3h0m-1-7h0m-1 7h0m-4-14h0m-3-2h0m0 1h0m0 15h0m-3-10h0m0 7h0m-6-8h0m-6 8h0m-7-6h0m-4-6h0m-11 10h0m-2-12h0m-1 6h0m-3 7h0m-1 4h0m-2-5h0m-1 6h0m0 0h0m-3 1h0m-5-10h0m-2 2h0m-1-9h0m-5 9h0m-1 2h0m0 2h0m-14-12h0m-2 0h0m-3 10h0m0 4h0m-1-16h0m-6 16h0m0-10h0m-1-7h0m-1 14h0m-2-9h0m-1 12h0m-6-8h0m-2 7h0m-5-13h0m-1 4h0m-1-2h0m9 24h0m0 3h0m1-12h0m5 6h0m2-2h0m1-2h0m4 14h0m4 0h0m9-3h0m6-13h0m2 14h0m1-2h0m2 4h0m2 3h0m9-8h0m2-8h0m8 13h0m2-3h0m4-6h0m1 12h0m0-17h0m0 13h0m2-7h0m0-1h0m3 12h0m3-7h0m1 4h0m1-16h0m7 14h0m2-14h0m8 1h0m2 12h0m1-11h0m2 5h0m1 0h0m1-3h0m8 10h0m1 5h0m0-18h0m0 5h0m2 4h0m1-4h0m5-4h0m0 5h0m9 2h0m1 3h0m2-1h0m0 7h0m1-2h0m0-16h0m1 17h0m1-14h0m3 3h0m0 11h0m1-16h0m0 8h0m2 7h0m1-14h0m3 14h0m1-7h0m2 10h0m2-18h0m1 2h0m3 7h0m4 1h0m0 5h0m5-14h0m1 1h0m0 13h0m1-11h0m5 5h0m1-9h0m2 1h0m0 5h0m2 10h0m0-8h0m1 0h0m1 2h0m1-1h0m0 5h0m0-1h0m2-4h0m0-7h0m0 13h0m0 2h0m1-14h0m1 4h0m12-6h0m2 6h0m0 1h0m1-4h0m0 2h0m14-3h0m1 9h0m0-10h0m4 12h0m2-6h0m10-3h0m11 33h0m-11-7h0m-6 4h0m0 3h0m0-19h0m-1 10h0m0 3h0m-3-13h0m0 0h0m-8 19h0m-3-17h0m0 11h0m-3-7h0m-1 12h0m-1-5h0m-5 2h0m-1-4h0m-3 7h0m-7-14h0m-1 6h0m-1 1h0m-4-10h0m-6 18h0m0-9h0m-1 0h0m-9-3h0m-3-5h0m-4 10h0m0 2h0m-2-7h0m-8 9h0m0 2h0m-1-4h0m-5 2h0m-4 1h0m-1-1h0m-3-7h0m-1 1h0m-2-8h0m-1 10h0m-3 4h0m-3 0h0m-2-16h0m-9 10h0m-2-6h0m0-1h0m-3 2h0m-3-5h0m-1 5h0m-1-4h0m-1 12h0m-1 4h0m0-9h0m-8 10h0m-4-5h0m0 3h0m-1-14h0m0-1h0m-1 17h0m-8-7h0m-3 6h0m0-10h0m-4 9h0m-2-1h0m-3-5h0m-1 0h0m-3 7h0m-5-12h0m-2 13h0m-1-11h0m-1 3h0m-8-2h0m0 2h0m-12-5h0m0 12h0m0-5h0m-1-11h0m-3 8h0m-2 10h0m0-7h0m-4 2h0m-1 0h0m-2 4h0m-7-9h0m10 11h0m18 19h0m3-14h0m0-1h0m3 3h0m5-5h0m0-1h0m4 12h0m1-9h0m1 10h0m0-3h0m1 1h0m5-4h0m1 0h0m5 0h0m1-5h0m1 4h0m8 8h0m1-15h0m1 4h0m1 6h0m1-10h0m9 2h0m3 9h0m1-7h0m14 5h0m2-1h0m1 3h0m2 7h0m2-16h0m0 13h0m0-1h0m2-8h0m2 13h0m3-18h0m3 1h0m3 13h0m3 4h0m3-6h0m2-13h0m5 11h0m8 4h0m3-2h0m0 5h0m15-11h0m3-4h0m4 13h0m2-5h0m6 2h0m1-6h0m8-7h0m2 15h0m0-11h0m3 9h0m2 0h0m6 4h0m0-1h0m7-9h0m4 1h0m1 5h0m4 2h0m1-5h0m5 9h0m0-10h0m1 4h0m1-12h0m1-1h0m0 3h0m1 8h0m1 5h0m5-7h0m2 9h0m1-17h0m1 2h0m1 16h0m0-14h0m1 14h0m5-4h0m1 0h0m2 12h0m-9 6h0m-1-7h0m-2 0h0m0-4h0m-1 14h0m0-1h0m-3-9h0m-1 4h0m-4 5h0m-1-2h0m-2 6h0m-2-16h0m-1 0h0m-1 10h0m-2 1h0m-1 0h0m0 3h0m0 0h0m-5-8h0m-2 3h0m-3-4h0m-2 11h0m-4-17h0m-4 13h0m-2-9h0m-1-4h0m-2 14h0m-4-13h0m-1 11h0m-2-5h0m-8 0h0m0-7h0m-4-2h0m0 0h0m-1 1h0m-7 5h0m-1-4h0m-5 16h0m-1 0h0m-2-8h0m-2 5h0m-1-5h0m-4 2h0m-3-8h0m-1 10h0m-1-10h0m-1-4h0m-11 12h0m0 1h0m-4-9h0m-4 0h0m-1 0h0m-5 15h0m-1-18h0m0 5h0m-4-4h0m-1 9h0m-1-11h0m-4 17h0m-7 1h0m-1-13h0m-3 4h0m-2 5h0m-9 5h0m-4-14h0m-2 12h0m-1-6h0m0-6h0m-1 9h0m0 1h0m-1-8h0m0 9h0m-5-12h0m0-2h0m0-2h0m-3 12h0m-1 5h0m-4-11h0m-1-1h0m-1 8h0m-1-11h0m-2 7h0m0-8h0m-6-1h0m-2 4h0m-5 9h0m-3 0h0m-1-8h0m15 21h0m2 2h0m0 4h0m5-12h0m1 6h0m1 3h0m5-3h0m5 3h0m0-4h0m2 8h0m7 6h0m0-9h0m4-6h0m1-1h0m2 16h0m0-6h0m5-7h0m4 10h0m1-7h0m1 4h0m5-3h0m0-1h0m5 7h0m5-15h0m1 18h0m4-7h0m7 2h0m6-14h0m2 12h0m5-4h0m2 0h0m0 6h0m5-13h0m2 9h0m5 3h0m1-5h0m4 8h0m4-5h0m13 1h0m1-9h0m2 12h0m10-7h0m0 6h0m0-1h0m1 4h0m4 1h0m3-12h0m1 2h0m4 6h0m0 2h0m1-6h0m1 0h0m1 3h0m10-4h0m4-6h0m2 14h0m1-8h0m2-6h0m2 2h0m1 4h0m4 23h0m-1-6h0m-2 3h0m-4-3h0m-3-5h0m-1 14h0m0-15h0m-6 8h0m-7 5h0m-1-5h0m-9 11h0m0-11h0m0-8h0m-3 5h0m-8 4h0m0 9h0m-1-17h0m-1 11h0m-3-8h0m-1 11h0m-2-14h0m-2 7h0m-2-5h0m-1-1h0m-4 14h0m-1-11h0m-2 12h0m-1-13h0m-2 10h0m-4 0h0m-4-14h0m-1 3h0m-3 5h0m-1-1h0m0-7h0m-2 5h0m-3-5h0m-3 11h0m0-7h0m-12 8h0m-1 3h0m-1-3h0m-4 1h0m-2-5h0m-2 10h0m-4-7h0m-9-11h0m-4 17h0m-2 1h0m-1-1h0m-4-1h0m-2-5h0m-6 8h0m-6-11h0m-1-5h0m0-1h0m-1-2h0m-2 10h0m-8 2h0m28 18h0m15-4h0m3 5h0m1 3h0m1-3h0m0 0h0m0-1h0m1-2h0m6 10h0m7-14h0m1 2h0m4 1h0m2 7h0m3 2h0m1-15h0m1 1h0m1 9h0m4 6h0m1-4h0m9-4h0m2 2h0m5-7h0m6 12h0m1-4h0m0 0h0m3 0h0m4 7h0m2-14h0m7 3h0m0-1h0m5 12h0m3-13h0m3 12h0m1-16h0m2 13h0m1 4h0m3-11h0m4 10h0m2-11h0m9-2h0m3-5h0m2 10h0m3 2h0m2 7h0m0-3h0m4 2h0m11 0h0m7 15h0m-1 6h0m-1-14h0m0 9h0m-7-8h0m-2-4h0m-3 0h0m-1 4h0m-4 12h0m-1-9h0m-5 9h0m-1-13h0m-2 8h0m0-2h0m-2 4h0m-5-12h0m-4 0h0m0 3h0m-14 1h0m0 11h0m-1 0h0m-2-4h0m-1 1h0m-3-12h0m0 2h0m-3 6h0m-3-7h0m-1 4h0m-3 11h0m-2-4h0m0-6h0m-1 7h0m0-11h0m-1 13h0m-3-14h0m-11 4h0m-4 0h0m-1 8h0m0-7h0m-4-9h0m-2 5h0m-3 12h0m-2-2h0m-2-13h0m-7 12h0m-3-8h0m-1 8h0m-1-9h0m-1 6h0m0 2h0m-2-9h0m-8 7h0m-1-2h0m-1 7h0m-5-4h0m-7-10h0m-5 31h0m8-6h0m0 4h0m1 5h0m5-16h0m0 5h0m3 0h0m1 7h0m1-5h0m0 11h0m0-17h0m4 4h0m3-2h0m0 10h0m4-12h0m1-1h0m1 9h0m2 6h0m1-5h0m0-8h0m4 1h0m1 6h0m6 4h0m0-5h0m6 9h0m3-4h0m5 4h0m7-2h0m0 2h0m3-2h0m4-2h0m2 3h0m1-2h0m4 4h0m4-4h0m2-5h0m0 3h0m1-11h0m1 18h0m0-15h0m4 11h0m4 3h0m1-14h0m5 10h0m2-2h0m1-5h0m5-5h0m1 13h0m4 1h0m0 1h0m3-16h0m1-1h0m0 13h0m1-4h0m3 1h0m0-7h0m0 6h0m1 3h0m2-10h0m2 14h0m2-9h0m2 8h0m3 0h0m2-10h0m1-1h0m10 12h0m2 3h0m4-9h0m1-1h0m3-9h0m-13 22h0m-9 14h0m-2-10h0m-2 12h0m-1-8h0m0-6h0m-1 14h0m-3-11h0m-1 2h0m-2 1h0m-1 4h0m-2 0h0m0-5h0m-1 7h0m0-11h0m-3 2h0m-3-7h0m-3 9h0m-2 1h0m-2 2h0m-1-5h0m-1 1h0m-2-6h0m0-1h0m0 0h0m-2 15h0m-3-7h0m-11-7h0m0 9h0m-2-9h0m-6-1h0m-1 3h0m0 4h0m-2 9h0m-4-9h0m-5 11h0m-1-17h0m-1 13h0m-2-4h0m-5 4h0m-2 2h0m-2-14h0m-4 13h0m-1-3h0m-2-10h0m-1 8h0m-1-5h0m0 1h0m0 6h0m-1-7h0m-5-5h0m-3 3h0m0 11h0m-3-13h0m0 10h0m-5-8h0m-9 5h0m-1 4h0m-1-11h0m0 10h0m-1 7h0m-4-2h0m-3-5h0m-1 4h0m-2-16h0m0 13h0m-3-5h0m-2-1h0m0 11h0m-1-17h0m-1 3h0m-7 12h0m-14-3h0m-4 4h0m-6 13h0m14-3h0m3 6h0m3-2h0m0 1h0m1-12h0m0 5h0m5 2h0m1-4h0m2-1h0m0 3h0m0 4h0m2 8h0m1-6h0m1-6h0m6 11h0m3-14h0m4 2h0m1 5h0m11 8h0m3-3h0m0 4h0m1-7h0m1 5h0m3 1h0m1-10h0m0 4h0m2-11h0m15 2h0m6 6h0m0-5h0m2 11h0m1-13h0m1 0h0m3 9h0m5-7h0m1 8h0m13-3h0m1 1h0m0 3h0m1-10h0m3-2h0m1 13h0m1-3h0m0 1h0m0 7h0m1-7h0m4-8h0m0 15h0m4-13h0m6 9h0m1-6h0m3-6h0m3 9h0m4-2h0m1 3h0m1 4h0m7-5h0m0 5h0m3-10h0m1-3h0m2 2h0m3-3h0m2 12h0m3-8h0m5 5h0m-3 17h0m-3 5h0m-1-5h0m0 4h0m-5 5h0m-1-13h0m0-3h0m-1 13h0m-4-13h0m0-1h0m0 0h0m-3 5h0m-7 8h0m0 6h0m0-12h0m-5 12h0m-3-10h0m0 8h0m-1-7h0m-2 1h0m-7 0h0m-3 7h0m-3 1h0m-9-4h0m0-15h0m-7 7h0m-5 7h0m0-4h0m-4-8h0m-2 16h0m0-16h0m-2 16h0m0-12h0m0 3h0m-4-5h0m-1 2h0m0-6h0m-2 3h0m-2 16h0m-4-19h0m0 11h0m-5-11h0m-13 14h0m0-14h0m-1 15h0m0-14h0m-1 2h0m-7-1h0m0 8h0m-5 7h0m-3-1h0m-1-7h0m-4 10h0m-6-14h0m-2 7h0m-1 0h0m0 4h0m-2-13h0m-1 14h0m-4-14h0m-1-2h0m-1 10h0m-1-10h0m-1 2h0m-5 0h0m-21 8h0m23 9h0m6 9h0m5-5h0m2-3h0m10 4h0m4-2h0m10 13h0m1-3h0m5-7h0m6 4h0m5-4h0m4 4h0m0 1h0m0-10h0m1 5h0m0-1h0m2 13h0m2-15h0m1-1h0m0 15h0m2-8h0m8 6h0m1-15h0m1 9h0m5-7h0m3 11h0m6 0h0m3-12h0m3 15h0m3-2h0m0-4h0m3 0h0m0-6h0m7-1h0m2 9h0m12-11h0m1 11h0m0 6h0m1-6h0m4-12h0m2 5h0m13-3h0m2 11h0m-15 7h0m-18 4h0m-1-3h0m-8 1h0m-6 16h0m-2-16h0m0 5h0m-3 6h0m0 6h0m-2-15h0m-3-2h0m-2 6h0m-6-3h0m0 2h0m-2-4h0m-3-1h0m-8 8h0m-4-3h0m-12-7h0m-3 2h0m21 18h0m0 3h0m3-2h0m0 2h0m4 5h0m5 0h0m0-7h0m5 8h0m8-9h0m2 10h0" stroke="#3b82bd" stroke-width="11" stroke-linecap="round" fill="none"/>
<path transform="scale(0.5)" d="M1306 1175h0m11 0h0m16 4h0m4 0h0m17-1h0m1-4h0m9 3h0m1-6h0m7 5h0m6-2h0m17 2h0m14 3h0m29 15h0m0-1h0m-2 6h0m-3-1h0m0-2h0m-4-9h0m-1 11h0m-7-10h0m0 1h0m0-5h0m-3 11h0m-2 3h0m0-7h0m-3-8h0m-5 2h0m-2 8h0m-3-3h0m-1 7h0m-3-4h0m-1 1h0m-1 4h0m-1-4h0m-1-11h0m-2 12h0m-2-6h0m-2-4h0m-1-1h0m-6 15h0m-1-18h0m0 5h0m-9 12h0m-8-16h0m-4 12h0m0 5h0m0-10h0m0 8h0m-1-10h0m-1 10h0m-2-17h0m-7 7h0m0 7h0m0-10h0m-3 13h0m-7-12h0m0-5h0m-2 7h0m-2 12h0m-1-13h0m-1-3h0m-1-3h0m0 13h0m-3 0h0m0 6h0m-1 0h0m-1-9h0m-5-2h0m-1-4h0m-1-2h0m-3 8h0m-1 2h0m-3-12h0m0 18h0m-1-12h0m0 4h0m-5-8h0m0 13h0m-4 2h0m-1 2h0m-1-1h0m0-11h0m0-2h0m-4 11h0m0-6h0m-10 8h0m-5-5h0m-3 4h0m-1-4h0m-4-2h0m-2 7h0m-1-9h0m-1 7h0m3 11h0m4 7h0m5 2h0m3-3h0m1-11h0m2 13h0m0 1h0m4-3h0m1-7h0m0 8h0m1 3h0m6-8h0m0-5h0m0 0h0m2 2h0m3 4h0m2 0h0m3 9h0m1 0h0m1-2h0m2-7h0m1-4h0m0 10h0m1-14h0m1 17h0m1-5h0m1 1h0m0-5h0m3-5h0m0 11h0m0-11h0m4 6h0m2 2h0m6-8h0m1 0h0m2 13h0m1 1h0m0-2h0m0 1h0m0 1h0m1-6h0m0 4h0m1-8h0m3 2h0m1 8h0m2-2h0m2 0h0m4-15h0m2 15h0m4-7h0m2-10h0m3 6h0m0 1h0m6-1h0m5 5h0m0-3h0m3 5h0m1-13h0m1 0h0m2 13h0m2-9h0m2 6h0m0-4h0m6-4h0m0 0h0m1 6h0m0 5h0m1-12h0m4 0h0m3 6h0m4 7h0m1-12h0m1 10h0m1-4h0m1 4h0m4-7h0m1-3h0m1 17h0m1-5h0m1-12h0m1 7h0m1 9h0m7-10h0m0-2h0m2-2h0m2 4h0m1 1h0m0 7h0m1-15h0m1 2h0m8 4h0m2 8h0m0-7h0m1 10h0m2-14h0m0 2h0m1 3h0m1 6h0m1 4h0m1-10h0m1 5h0m1 4h0m17 17h0m-4-6h0m-1 4h0m-3 0h0m-1-3h0m-2 8h0m-1-2h0m-1-15h0m-1 9h0m-2-10h0m-1 4h0m-5 11h0m-1-7h0m-1 6h0m-4-3h0m-1-1h0m0-2h0m-1 2h0m-5-8h0m-1 15h0m0-14h0m-1 7h0m-1 4h0m0 0h0m-3-14h0m-1 18h0m-3-9h0m0-4h0m-3 6h0m-7-1h0m-1-5h0m-2 1h0m-1 4h0m-1-6h0m0 9h0m-2-8h0m-6 14h0m-9-13h0m-2-4h0m-2 0h0m-1 9h0m-4-8h0m0 16h0m-3-5h0m-1 1h0m-2 2h0m-4-2h0m0 2h0m0-7h0m-2-7h0m-1 6h0m-3-7h0m-4 2h0m0 13h0m-6-10h0m-1 1h0m0-8h0m0 13h0m-3 5h0m-2-15h0m-3 5h0m-2-3h0m-1 8h0m0-7h0m0 6h0m-7 5h0m-1-6h0m-2 6h0m-4-2h0m-1 2h0m-2-8h0m-1-1h0m-1 4h0m0-9h0m-6 5h0m-1 11h0m-8-6h0m-1-1h0m-1-8h0m-3 15h0m-2-7h0m-6 7h0m-2-4h0m-1-11h0m0 1h0m0 7h0m-7 5h0m-3 2h0m-3-18h0m-1 5h0m3 33h0m5-16h0m3-2h0m1 11h0m1-6h0m0 5h0m0-2h0m2-5h0m3-2h0m1 17h0m3-4h0m5-2h0m1 1h0m2-6h0m2-8h0m0 8h0m2 11h0m2-1h0m3-1h0m7 0h0m1-14h0m2 1h0m3 10h0m3-7h0m1 2h0m1-3h0m1 6h0m1-1h0m1-3h0m1-1h0m2 1h0m0-8h0m1 11h0m4-7h0m9 2h0m1-3h0m0 5h0m1 8h0m1-14h0m1 9h0m2-11h0m1 9h0m4 9h0m0-6h0m2-4h0m0-6h0m1 17h0m1-12h0m1 10h0m0 1h0m1-1h0m2-16h0m0 3h0m1 15h0m0 0h0m3-14h0m0 14h0m0-18h0m0 8h0m3 5h0m1 1h0m1 4h0m0-1h0m1-8h0m7-10h0m2 13h0m2 4h0m1-13h0m1 4h0m4-2h0m1 4h0m2 3h0m1 4h0m1-7h0m2-7h0m1 2h0m2 0h0m3 6h0m1-9h0m0 3h0m2 11h0m6-10h0m7 6h0m2-11h0m1 1h0m0 7h0m1 9h0m2-6h0m2-6h0m2 8h0m2-12h0m2 0h0m1 10h0m4-6h0m2-5h0m2 12h0m3 5h0m2-13h0m1 13h0m2-4h0m8 2h0m1-9h0m-3 13h0m-2 4h0m-2 12h0m0-13h0m-1 16h0m-1-6h0m-3 6h0m-2-13h0m-2 10h0m-1 0h0m0-15h0m-2 14h0m-1 2h0m-4-15h0m-7 16h0m-1-16h0m0 15h0m-3-7h0m-1 8h0m-3-18h0m-1 11h0m-2-6h0m-1 2h0m-2 11h0m-1-9h0m0-8h0m-1 16h0m-2-11h0m-2 3h0m0 7h0m-2-5h0m-2-7h0m-1 4h0m-1 8h0m-1-12h0m0-1h0m-2 7h0m-4-2h0m0 10h0m-5-10h0m-2 4h0m-7-1h0m-2 5h0m-1-14h0m0 1h0m-3 15h0m0-14h0m-4 11h0m-2-3h0m-1-1h0m0-6h0m-1 12h0m0-12h0m0 10h0m-2-2h0m-3-3h0m0 1h0m-1 0h0m-3-3h0m-2 0h0m-1-2h0m-2-1h0m-1-4h0m0 15h0m-5-7h0m0 8h0m0-10h0m-1 11h0m-1-5h0m-2 4h0m-3 1h0m-1-18h0m-3 4h0m-3 13h0m0-10h0m-1-7h0m-1 5h0m0 3h0m0 1h0m-2-9h0m-3 13h0m-1-6h0m0 6h0m-3-6h0m-7 7h0m0-13h0m0 13h0m-3 4h0m-1-7h0m-1 0h0m-4-9h0m-2 4h0m0 2h0m-1-5h0m-1 13h0m-1-14h0m-1 12h0m-1-7h0m-7-2h0m-7 0h0m-6 11h0m9 5h0m3 4h0m3 2h0m5 2h0m9-2h0m5 7h0m2 0h0m1-8h0m3 2h0m3 2h0m1-5h0m3 13h0m1-1h0m1-7h0m1 0h0m1 6h0m0-8h0m0-2h0m1 6h0m2-9h0m0 3h0m2-2h0m7 3h0m1-2h0m0 14h0m1-2h0m1 1h0m2 0h0m10-3h0m1-8h0m1 6h0m3-10h0m0 16h0m4-10h0m4 0h0m4 7h0m1-8h0m1 10h0m0-6h0m1 2h0m2-5h0m2-7h0m1-2h0m3 14h0m5-14h0m1 18h0m3-17h0m1 7h0m1 11h0m0-11h0m1 1h0m1-4h0m7 8h0m1-10h0m4 6h0m1 8h0m1-14h0m1 4h0m0 0h0m4 3h0m1 1h0m0-5h0m2-1h0m1 0h0m1 1h0m1-4h0m2 16h0m5-3h0m1-15h0m4 14h0m0-14h0m1 13h0m4-13h0m1 17h0m0-15h0m1 1h0m1 3h0m1 12h0m0-3h0m4 3h0m1-9h0m2 8h0m1-12h0m1-4h0m1 14h0m0-4h0m0-3h0m2-7h0m8 14h0m3 12h0m0 8h0m-4-1h0m-3-13h0m-3 17h0m-1-3h0m-1 2h0m-3-5h0m-1-4h0m-1-7h0m0 7h0m-1 1h0m-1 6h0m0-3h0m-5-11h0m-1 18h0m0-8h0m-6-3h0m-3-2h0m-1 0h0m0 2h0m-4-8h0m-2 2h0m-3 0h0m0 12h0m-2-3h0m0 3h0m-1-4h0m0 1h0m-2 4h0m-2-15h0m-3 6h0m-1-5h0m-2 7h0m-1 11h0m-1-13h0m-1 8h0m-1-14h0m-1 14h0m-3-6h0m-2 8h0m-1-1h0m0-15h0m-2 17h0m0-3h0m0 2h0m0-4h0m-6-4h0m-2 4h0m-1-6h0m-2-1h0m-5 1h0m0 5h0m-1 1h0m-3 5h0m-1-13h0m-1 15h0m-5-11h0m-1 2h0m0-8h0m-2 8h0m-1-5h0m-2-2h0m-1 2h0m-2 11h0m-2-6h0m-2 2h0m-1 0h0m-1 6h0m-1-8h0m-1 4h0m-1-8h0m-1 5h0m0-6h0m-1-5h0m-1 6h0m-1-3h0m0 9h0m-2 5h0m0 2h0m-4-9h0m-3 8h0m-2-2h0m-1-8h0m-1 1h0m-1 8h0m-3-4h0m-1-3h0m0-4h0m-1-3h0m-5 1h0m-1-2h0m-1 9h0m0 2h0m-9-7h0m-7 3h0m34 28h0m2-2h0m0-13h0m5 5h0m1-5h0m2 11h0m4-6h0m4 5h0m4-7h0m3 9h0m2 1h0m1-6h0m1 9h0m0-13h0m1 1h0m2 11h0m1-11h0m1 0h0m2-3h0m3 2h0m2 10h0m2-4h0m1 1h0m2 6h0m5-16h0m3 9h0m1-4h0m1 12h0m3-15h0m4 3h0m1-4h0m4-1h0m4 1h0m1 6h0m0-5h0m6 0h0m1 5h0m1-9h0m2 0h0m0 1h0m2 7h0m6 1h0m0 7h0m6-9h0m6 4h0m5 4h0m2-12h0m0 1h0m3 6h0m1 1h0m1-3h0m2 10h0m1-2h0m2 1h0m2 0h0m0-11h0m1 0h0m1-4h0m1-2h0m0 10h0m0 5h0m5-8h0m6 24h0m0-11h0m-2 11h0m-3-8h0m-3 14h0m-5-8h0m-1 10h0m0-13h0m0 12h0m0-10h0m-3 10h0m-2-8h0m0 9h0m-3-9h0m-5 9h0m-7-3h0m0-2h0m-2 0h0m-4 1h0m-3-15h0m-2 13h0m-4-3h0m-2 9h0m-7 0h0m-2-18h0m0 17h0m-2-10h0m-1-1h0m-1-5h0m-6 7h0m-2 8h0m-1 2h0m-1-13h0m-7 5h0m-2 2h0m-1-1h0m-2 0h0m-1 7h0m-3-15h0m-1 0h0m0-4h0m0 11h0m-2 8h0m0-13h0m0 7h0m-1 6h0m-1-18h0m-4 10h0m-6-1h0m-2-5h0m-1-1h0m0-1h0m-2-1h0m-1 14h0m0-13h0m-4 6h0m-2 9h0m0-4h0m-2 1h0m-9-8h0m-6-2h0m-1 7h0m9 14h0m2 4h0m0-1h0m4 9h0m2 1h0m3-8h0m3-6h0m2 12h0m1-13h0m1 1h0m3 8h0m3-8h0m1-4h0m0 5h0m1 4h0m1 9h0m1-16h0m1 16h0m5-18h0m1 5h0m4 9h0m2-14h0m1 18h0m0-9h0m4 4h0m0-3h0m3 6h0m3 0h0m1-11h0m3-6h0m2 5h0m0 1h0m0 3h0m1 1h0m1 2h0m4-12h0m1 0h0m1 11h0m1-4h0m0-3h0m1-3h0m4 13h0m3 5h0m1-4h0m0-11h0m3 13h0m1-11h0m0 11h0m1-17h0m1 14h0m2-1h0m1-8h0m1-1h0m4 1h0m4 0h0m3 8h0m0-11h0m4 7h0m3-5h0m0 13h0m1-2h0m5 3h0m2-12h0m1 2h0m1 3h0m3 4h0m0 2h0m1 1h0m1-13h0m1-1h0m2 5h0m1 1h0m1-9h0m2 11h0m1 27h0m0-15h0m-3-3h0m-6 15h0m-3-9h0m-4-6h0m-4 1h0m-4 15h0m-6-14h0m-2 6h0m-1-7h0m-4 0h0m-1 10h0m-4-5h0m-2-5h0m-2 3h0m-5 9h0m-3-6h0m-1-5h0m-5 8h0m-1-10h0m-3 10h0m-3 2h0m-1 0h0m-1-5h0m-1-3h0m0 11h0m-2-11h0m-1-2h0m-2 8h0m0-5h0m-4-5h0m-4 3h0m0 3h0m-5 5h0m-3-5h0m-2-7h0m-2 17h0m0-2h0m-2 4h0m-8-17h0m-2 0h0m-6-2h0m-1 10h0m-4-5h0m-2 13h0m0-18h0m-5 5h0m0-4h0m0 15h0m-1-15h0m-3 7h0m-3 9h0m-18 18h0m12-2h0m0-11h0m2 5h0m2 9h0m3-11h0m1 12h0m0 1h0m1-11h0m2 7h0m2 5h0m2-9h0m1 6h0m0-1h0m0-15h0m3 9h0m1-7h0m0 17h0m7-15h0m0 13h0m3 1h0m0-9h0m1 6h0m0-3h0m1-10h0m1 1h0m2 6h0m0 1h0m1-8h0m2 0h0m0 3h0m0-2h0m0 12h0m5 3h0m2-17h0m8 1h0m1 5h0m4-5h0m2 5h0m5-7h0m0 2h0m2 14h0m1-5h0m1-2h0m6 8h0m0-6h0m0 7h0m2-6h0m0-12h0m3 5h0m4-5h0m3 5h0m8 11h0m4-9h0m0 6h0m0-5h0m4 4h0m2-7h0m4 8h0m0 3h0m4-15h0m1 3h0m0 0h0m2 11h0m2 3h0m1-1h0m5-12h0m1-4h0m0 2h0m0 0h0m2 5h0m1-5h0m1 13h0m4 4h0m-3 1h0m0 1h0m-2 8h0m-5 9h0m-5-12h0m0-3h0m-3-3h0m0 5h0m-3 7h0m0-8h0m-1-1h0m0 7h0m-1 4h0m-7 2h0m0-7h0m-3-10h0m0 4h0m-1 7h0m0-6h0m-2 3h0m-1 4h0m-1-2h0m-3-6h0m0 15h0m0-9h0m0 4h0m-4-9h0m-6-3h0m-1 12h0m-1-5h0m-1 7h0m-1-15h0m-2 7h0m0 3h0m-1-3h0m0 5h0m0-1h0m0-3h0m-4 5h0m0-1h0m-1 6h0m-2-13h0m-2-6h0m0 14h0m-2 3h0m-1-6h0m0 7h0m-1-15h0m-1 0h0m-2 2h0m-1 6h0m0-8h0m-3 15h0m-1-14h0m-1 12h0m-3-7h0m-2 7h0m-6-12h0m-5 7h0m-2-8h0m0 14h0m-1-10h0m-1 8h0m-1-11h0m-1 0h0m-5 7h0m0 4h0m-1-3h0m-1 7h0m-1-9h0m-2-7h0m0-3h0m-2 8h0m-5 10h0m-2-14h0m-6 10h0m-1-10h0m-2 14h0m0-7h0m-1-6h0m-3 6h0m0-2h0m-4 3h0m0-11h0m0 18h0m0-4h0m-3-12h0m-3 14h0m-3-17h0m-2 9h0m-1 8h0m21 7h0m8 2h0m5 6h0m2-4h0m3-1h0m1-6h0m5 10h0m1 2h0m1-2h0m1 0h0m0-5h0m2-5h0m0-1h0m3 11h0m2 2h0m1-13h0m7 3h0m0 9h0m6 3h0m0-14h0m0 17h0m2-13h0m1 8h0m0 0h0m0-4h0m2-5h0m1-4h0m4 9h0m1-5h0m1 5h0m0-4h0m4 4h0m1-2h0m2-1h0m1 6h0m1 7h0m1-11h0m5 9h0m2-3h0m2-1h0m0 2h0m2-5h0m1-9h0m5 18h0m7-14h0m6 7h0m1-10h0m4-2h0m1 8h0m8 0h0m5-7h0m-37 21h0m-3-1h0m-6 3h0m-5 2h0m-10 5h0m-4-5h0m-14 1h0m-4-6h0m-22-1h0m48 25h0" stroke="#3b82bd" stroke-width="11" stroke-linecap="round" fill="none"/>
<path transform="scale(0.5)" d="M1182 1419h0m4-11h0m0 6h0m1-9h0m5 11h0m6 2h0m1-4h0m2 0h0m1 1h0m1-7h0m4 3h0m1-11h0m3 14h0m2-12h0m1 14h0m3-3h0m0-4h0m0 0h0m1 8h0m4-2h0m1-3h0m1 2h0m1-8h0m2 9h0m1-1h0m6-4h0m0 2h0m3 6h0m5 0h0m17 13h0m0 0h0m-3-1h0m-3-2h0m-4 6h0m-1-5h0m-5-5h0m0-2h0m-3 5h0m0-7h0m0 1h0m-3 14h0m-1-3h0m-3-11h0m0 7h0m-3 7h0m-2-2h0m-2 4h0m0-1h0m-2-13h0m-4 0h0m-4 9h0m-3 2h0m-1-11h0m0 4h0m-3 8h0m-1-12h0m0 14h0m-3-17h0m-2 15h0m0 4h0m-1-11h0m-1 11h0m-2-16h0m0 11h0m-1-4h0m0-6h0m-6 5h0m0 5h0m-1-5h0m-2-1h0m-1 1h0m-11 10h0m-6-3h0m-2-6h0m-5-2h0m-2 21h0m1-5h0m0 11h0m7 0h0m1-6h0m0-1h0m1 2h0m1-5h0m4-3h0m0 4h0m4 13h0m1-9h0m0 1h0m1-4h0m1 11h0m1-17h0m3 15h0m2 3h0m7-18h0m1 10h0m1 8h0m2-5h0m4 5h0m3-12h0m1 6h0m2-1h0m4 6h0m1-1h0m1-1h0m1 0h0m6 1h0m1 1h0m1-16h0m1 0h0m2 0h0m0 17h0m0-13h0m4-5h0m0 11h0m1-7h0m0 4h0m3-7h0m2-1h0m2-1h0m2 2h0m2 7h0m0 6h0m2-5h0m1 0h0m0-8h0m1 4h0m9 5h0m2-9h0m-15 24h0m-1-4h0m-3 1h0m-3 1h0m-1 3h0m-3 0h0m-12 8h0m-1 4h0m-4-19h0m-1 14h0m0-12h0m0 3h0m-7-1h0m0-2h0m-1 17h0m-2-11h0m-1 8h0m-4-12h0m-1 15h0m-3-14h0m-2 12h0m-2-1h0m-2-1h0m-2-3h0m-6 2h0m-1 2h0m-4-7h0m-2 9h0m-3-8h0m-1-8h0m-2-1h0m-5 5h0m7 14h0m8 8h0m9 5h0m3-2h0m3-3h0m1 1h0m0-9h0m10 1h0m1 5h0m17-5h0" stroke="#9b6bc8" stroke-width="11" stroke-linecap="round" fill="none"/>
<path transform="scale(0.5)" d="M1326 1316h0m-13-3h0m-80-6h0m-20 4h0m-6 6h0m-36-2h0m-18-1h0m-2 20h0m77-12h0m4 1h0m22 7h0m3 8h0m61-2h0m5-4h0m-19 21h0m-30-9h0m-53 1h0m-9 7h0m0-4h0m-7-6h0m-4-2h0m-33 14h0m-2 4h0m-1 21h0m0-7h0m12 0h0m15 1h0m12-4h0m3 4h0m33 2h0m19-7h0m5 3h0m30-10h0m2 12h0m39 2h0m3-3h0m2 3h0m-91 17h0m-23 5h0m-13 0h0m-10-8h0m-44-2h0m67 27h0m14-13h0m21-1h0" stroke="#9b6bc8" stroke-width="11" stroke-linecap="round" fill="none"/>
<path transform="scale(0.5)" d="M1298 1437h0m-4 1h0m-6-3h0m-1 0h0m0-1h0m-22 13h0m0 7h0m5 5h0m1-13h0m0 12h0m1 1h0m0-13h0m1-5h0m4 12h0m2-6h0m1 1h0m1 9h0m2-11h0m0 0h0m2 7h0m0-8h0m0 0h0m3 9h0m2-14h0m2 14h0m2-13h0m5 12h0m6 0h0m1 6h0m10-2h0m11 2h0m25 10h0m-11 2h0m-6 0h0m-9-3h0m-6 8h0m-2-15h0m0 2h0m-2 12h0m-4-8h0m-1 4h0m-1-9h0m-1 14h0m-1 2h0m-1-10h0m-2 4h0m0-5h0m0 3h0m-2-7h0m-2 6h0m-1-7h0m-2 9h0m-6-7h0m0 9h0m-3 2h0m-1-11h0m0 2h0m-1 0h0m-2 11h0m-1-10h0m-4-5h0m-1 12h0m0 5h0m-1-6h0m-2-5h0m-2-2h0m0 5h0m-1-4h0m-1 4h0m-1-7h0m-4-2h0m11 34h0m1 2h0m3-15h0m2-1h0m0-2h0m2 19h0m4-6h0m0-8h0m1-2h0m4 11h0m2-8h0m0 3h0m6 4h0m2 5h0m2-12h0m1 2h0m1-3h0m1 12h0m0-4h0m1 6h0m0-1h0m2-2h0m2-15h0m4 7h0m1 0h0m1 1h0m0 1h0m2 8h0m2-12h0m0 7h0m0-11h0m1 10h0m1-12h0m2 9h0m1-9h0m1 1h0m2 13h0m1-4h0m1 8h0m1-2h0m6-11h0m1 1h0m0-4h0m4 10h0m1-12h0m4 3h0m-12 21h0m-1-3h0m0-1h0m-3 4h0m-11 8h0m0-6h0m-1-1h0m-1 6h0m-4 4h0m-1-13h0m-2 0h0m-1 7h0m0 5h0m-3 2h0m-1-9h0m-1 9h0m-1 1h0m-3-10h0m0 1h0m-1 3h0m-1 3h0m-1-14h0m-2 19h0m-3-16h0m-1 1h0m-1 7h0m-2-10h0m-7 2h0m0 5h0m0-3h0m-1 9h0m-3-4h0m29 10h0" stroke="#d8302e" stroke-width="11" stroke-linecap="round" fill="none"/>
<path transform="scale(0.5)" d="M1292 1619h0m4-2h0m5 0h0m2-2h0m2 4h0m1-4h0m0-3h0m5 3h0m1-9h0m0 7h0m0-9h0m1 1h0m0 0h0m1 9h0m2-4h0m0 3h0m4-1h0m2-8h0m13 29h0m-3 5h0m-2-15h0m-3 0h0m0 13h0m0-6h0m-1 4h0m-1-13h0m-1 1h0m0 14h0m-2-16h0m0 2h0m-2 10h0m-1 1h0m0-4h0m-1 3h0m-5-5h0m-4 12h0m0-2h0m-2 0h0m0-9h0m-1 3h0m-1-11h0m-1 5h0m0 6h0m-1-5h0m0-6h0m0 11h0m-2 6h0m0-3h0m-1 0h0m-1-5h0m-1 1h0m0-5h0m-3-2h0m-2 8h0m0-2h0m-2 7h0m-1-8h0m0-6h0m-1 14h0m0-6h0m-1 3h0m-2 6h0m0-5h0m-1-12h0m-3 14h0m-1-5h0m-1 7h0m-4-12h0m-8 12h0m-3 15h0m2-12h0m1 4h0m0 3h0m2 4h0m1-9h0m0 1h0m0 2h0m0-5h0m2 10h0m1-1h0m0 9h0m2-13h0m1 11h0m1-11h0m2 12h0m2 0h0m0-4h0m1-3h0m2-2h0m2-4h0m1 11h0m0-5h0m4-4h0m2 8h0m2-9h0m0-4h0m3 13h0m2 3h0m1-13h0m0 10h0m3-11h0m4 3h0m1 3h0m0 3h0m1-12h0m2 17h0m1 0h0m0-16h0m1 16h0m1-14h0m2 5h0m0 8h0m0-13h0m0 0h0m3 15h0m1-13h0m1-1h0m0 5h0m0 3h0m1 6h0m4-16h0m4 12h0m2-10h0m2-4h0m1 17h0m1-3h0m1-2h0m0 6h0m1-19h0m4 9h0m2 2h0m-15 11h0m-6-2h0m-3 9h0m-4 8h0m-1 0h0m-2-16h0m-1 9h0m0 6h0m-1-6h0m0 3h0m-3-11h0m0 16h0m-3-13h0m-1 14h0m-1-9h0m-5-7h0m0 14h0m-1-9h0m0-8h0m-2 7h0m0-1h0m0 0h0m0-5h0m-3 7h0m-1 4h0m0-6h0m-2 4h0m-3 2h0m0-7h0m0 7h0m0-6h0m-3 9h0m0-3h0m-7-7h0m0 10h0m0-10h0m-6-3h0m26 19h0m9-1h0" stroke="#f5882a" stroke-width="11" stroke-linecap="round" fill="none"/>
<path transform="scale(0.5)" d="M960 1554h0m-1 2h0m-1-5h0m-1-11h0m0 15h0m0-15h0m-3 2h0m-1 0h0m-4 9h0m-2 2h0m0 1h0m-1 3h0m-3-5h0m0 3h0m-1-1h0m-2 5h0m0-4h0m-5-5h0m-1 1h0m-3 5h0m-1 1h0m-1-1h0m-2 1h0m-8 2h0m-13 15h0m7-1h0m2 2h0m0-6h0m0 10h0m1-2h0m2-1h0m0-11h0m0 2h0m2 5h0m1-7h0m1 10h0m1-9h0m0 11h0m0-16h0m1 4h0m4 12h0m0-9h0m1-7h0m4 14h0m3-12h0m1-2h0m2 2h0m0-1h0m5 9h0m3-9h0m0 0h0m1 10h0m1 7h0m2-8h0m0-7h0m1-2h0m4 0h0m0 6h0m-6 16h0m-2-1h0m0-2h0m-1 5h0m-8 9h0m0-3h0m-4-7h0m0 13h0m-2-3h0m-2-9h0m-1 11h0m0-15h0m-4 12h0m-1-6h0m0 5h0m-1-8h0m-2 8h0m-1-12h0m0 13h0m-1-8h0m-2-5h0m-1 3h0m-5 9h0m-1 5h0m-1-11h0m0 2h0m-3 5h0m0-7h0m-1 1h0m-1-3h0m-1 6h0m-3 4h0m-2-8h0m-1-2h0m-6 11h0m-3 15h0m4-10h0m0 3h0m3 5h0m0-1h0m0 7h0m0-10h0m0 13h0m2-9h0m4 10h0m4-9h0m1-8h0m3 6h0m1 1h0m6 3h0m1 7h0m1-13h0m3-6h0m2 19h0m0-5h0m2-8h0m1 5h0m3 1h0m1 3h0m1-8h0m3-1h0m3-5h0m1 4h0m-9 20h0m0-5h0m-6 2h0m-3 1h0m-2 4h0m-1 4h0m0 2h0m-1 6h0m-1-12h0m-1 12h0m0 0h0m0-7h0m-1-9h0m-1 5h0m-1-6h0m0 7h0m0-4h0m-4 6h0m-2 4h0m-2-15h0m-3 10h0m0 0h0m-1 9h0m-1-12h0m-1 3h0m0-2h0m-5 11h0m0-13h0m-3 13h0m0-3h0m-1 1h0m0-16h0m0 38h0m0-5h0m2-14h0m3 19h0m1-10h0m1-2h0m1 7h0m0 4h0m2-4h0m0-1h0m0-11h0m3 1h0m1 5h0m0 10h0m1-9h0m0-2h0m2 0h0m0-6h0m2 10h0m2-10h0m4 0h0m3 1h0m-5 19h0m-4 13h0m0-4h0m0-10h0m0 6h0m-1-3h0m-1 11h0m-1-8h0m-1 11h0m-1-12h0m0 2h0m-1 9h0m-2 1h0m-1-17h0m-1 4h0m-2-2h0m0 17h0m0-5h0m-1-6h0m0 10h0m-3-14h0m0 8h0m-6-4h0m-1 10h0m-1-2h0m-3 15h0m1 0h0m4 1h0m1-4h0m0-7h0m1 11h0m1-10h0m1-2h0m5 10h0m0-3h0m0-7h0m0 1h0m3 5h0m2 4h0m1-2h0m1 8h0m2-11h0m-6 22h0m-2 5h0m0-2h0m-2 4h0m-3-12h0m-1 0h0m-1 2h0m0 0h0m-3 3h0m-1 11h0m4 4h0m1 1h0m3-3h0" stroke="#45b03c" stroke-width="11" stroke-linecap="round" fill="none"/>
<path transform="scale(0.5)" d="M1083 1618h0m0 0h0m4-9h0m7-1h0m0-4h0m1 6h0m1-1h0m0-4h0m2 9h0m2-2h0m1-2h0m1-4h0m1 9h0m4-10h0m1 12h0m0-2h0m2 0h0m1-11h0m0-1h0m0 15h0m2-15h0m0 3h0m1-4h0m0 0h0m3-1h0m1 4h0m1 7h0m0 1h0m4-4h0m4-1h0m0 4h0m0-1h0m0 2h0m1 2h0m1-5h0m3 6h0m1-6h0m1-2h0m1 1h0m4 0h0m2 2h0m3 8h0m6 6h0m-2 8h0m-1-10h0m-1 10h0m0-3h0m-3 4h0m-1-13h0m-2 14h0m-1-10h0m0 7h0m0-11h0m-1 9h0m-1-9h0m-4 2h0m-1 0h0m-2-3h0m-3 11h0m-2-2h0m0-6h0m-2 16h0m-3 0h0m-2-16h0m-1-3h0m-1 2h0m-1 13h0m-2 2h0m-3-15h0m-1 12h0m-2-13h0m-2 17h0m-1-12h0m0 4h0m-2 2h0m-4-4h0m-1-7h0m0 0h0m-1 2h0m-1-3h0m-1 2h0m-12-1h0m10 32h0m2 5h0m0-6h0m1-3h0m4 0h0m1-1h0m1-4h0m1 3h0m5-5h0m1 1h0m5 4h0m1-2h0m1 12h0m0-17h0m7 3h0m4 14h0m2-16h0m1 14h0m1-1h0m2 5h0m0-11h0m1 9h0m0-7h0m5-4h0m2 11h0m0-14h0m2 3h0m0 0h0m-4 17h0m-2 6h0m-2 0h0m-3-8h0m-5 18h0m0-4h0m-3-2h0m-1-8h0m-10 0h0m-11 7h0m-1-11h0m-1 0h0m0 18h0m-1-13h0m-2 5h0m0-10h0m-3 18h0m0-19h0m-2 13h0m0 3h0m-1 1h0m0 1h0m0-16h0m-1 4h0m-2-6h0m-2 0h0m-3 12h0m0 3h0m-1 4h0m-3-1h0m-4-11h0m-2-1h0m-1 10h0m-7 0h0m-7 0h0m-6 14h0m2 7h0m1 0h0m4-4h0m1 4h0m2-8h0m1 0h0m7 0h0m5 1h0m2 4h0m3-5h0m3 1h0m1 4h0m3-9h0m1 5h0m3 4h0m4-9h0m4 6h0m1 8h0m1-4h0m2 3h0m0-6h0m1 3h0m0-1h0m0-9h0m0 0h0m1 12h0m3-1h0m1-3h0m1-4h0m1 10h0m1-13h0m3 7h0m1 0h0m3-6h0m0-3h0m1 13h0m5-15h0m5-2h0m-15 22h0m-5 8h0m-3-1h0m-2 6h0m-1 2h0m-2-17h0m-1 8h0m0 4h0m-6-2h0m0 3h0m0-6h0m-1 2h0m-1 9h0m-5-10h0m0 5h0m-3 1h0m-2 0h0m-3 4h0m0 1h0m-6-9h0m-5 5h0m0-15h0m-1 6h0m-5 13h0m-1-2h0m-3-6h0m-3 2h0m-8 1h0m-2-1h0m8 12h0m1-4h0m2 3h0m3 10h0m2-14h0m1 5h0m4 2h0m3 8h0m10-9h0m3-4h0m0-2h0m1 7h0m5-1h0m2 6h0m1-3h0m1 3h0m0-4h0" stroke="#808080" stroke-width="11" stroke-linecap="round" fill="none"/>
<path transform="scale(0.5)" d="M888 1748h0m0 7h0m-2-10h0m-1 2h0m0 5h0m-3 12h0m2 9h0m2-11h0m1 1h0m1 8h0m2 0h0m1-6h0m0-4h0m2 14h0m0 0h0m2-15h0m0 15h0m1-10h0m1 8h0m5-2h0m10 25h0m-2-3h0m0 6h0m0-15h0m-1 9h0m-1-5h0m0 9h0m-2-2h0m-2-15h0m-1 19h0m0-17h0m-1 6h0m-1-3h0m-3 12h0m0-11h0m0 11h0m-1-1h0m-3-3h0m-4-2h0m-1-7h0m0-2h0m-1 2h0m-2 11h0m5 12h0m1 1h0m1-3h0m1 7h0m1-3h0m4 3h0m0-11h0m2 6h0m2 3h0m2-7h0m0 5h0m2-6h0m0 10h0m1 6h0m1-10h0m1-8h0m0 14h0m0-14h0m1 11h0m0-7h0m1-4h0m0 10h0m0-8h0m4 7h0m1-7h0m1-1h0m4 16h0" stroke="#e07fd0" stroke-width="11" stroke-linecap="round" fill="none"/>
<path transform="scale(0.5)" d="M1467 1202h0m-146 166h0m20 81h0m36 11h0m-18 7h0m5 22h0m13-7h0m-121 25h0m-13 5h0m45 22h0m13 5h0m23-5h0" stroke="#d8302e" stroke-width="11" stroke-linecap="round" fill="none"/>
<path transform="scale(0.5)" d="M1463 1220h0m-18 65h0m-47 38h0m-281 112h0m-27-13h0m9 29h0" stroke="#8c564b" stroke-width="11" stroke-linecap="round" fill="none"/>
<path transform="scale(0.5)" d="M1265 1538h0m47 20h0m-20 20h0m18 0h0m7 17h0m-14 2h0" stroke="#f5882a" stroke-width="11" stroke-linecap="round" fill="none"/>
<path transform="scale(0.5)" d="M946 1651h0m-4 22h0m-5 5h0m-22-9h0m18 11h0" stroke="#45b03c" stroke-width="11" stroke-linecap="round" fill="none"/>
<path transform="scale(0.5)" d="M1099 1601h0m72 43h0m22 9h0m-9 16h0m-36 9h0m-107-7h0m112 38h0m-32-9h0m-80 5h0m-23 14h0m-4 0h0m-23-5h0m-4-2h0m-18-12h0" stroke="#808080" stroke-width="11" stroke-linecap="round" fill="none"/>
<path transform="scale(0.5)" d="M962 1736h0m-9 18h0m-20 11h0m-7 21h0" stroke="#e07fd0" stroke-width="11" stroke-linecap="round" fill="none"/>
<path transform="scale(0.5)" d="M1145 1451h0m167-3h0m-182 129h0m5-2h0m6-13h0" stroke="#3b82bd" stroke-width="11" stroke-linecap="round" fill="none"/>
<path transform="scale(0.5)" d="M1130 1301h0m18 85h0m-9 34h0m124 38h0m-2 15h0m-23 0h0m-16 9h0m21 3h0" stroke="#9b6bc8" stroke-width="11" stroke-linecap="round" fill="none"/>
<text x="568.6" y="555.9" font-size="24">Homeo</text>
<text x="511.3" y="660.4" font-size="24">Dis2</text>
<text x="533.3" y="752.5" font-size="24">Dis1</text>
<text x="677.5" y="768.2" font-size="24">Stress</text>
<text x="481" y="803.4" font-size="24">COP</text>
<text x="639.7" y="859.6" font-size="24">PreOPC</text>
<text x="564.1" y="879.3" font-size="24">PreOL</text>
<text x="481" y="908.5" font-size="24">Mature</text>
<path d="M644.9 557.1L657 570.9" stroke="#000" stroke-width="1.4" fill="none"/>
<path d="M660.6 575L654.4 571.8L658.3 568.4Z" fill="#000"/>
<path d="M561.8 654.1L577.2 654.1" stroke="#000" stroke-width="1.4" fill="none"/>
<path d="M582.7 654.1L576.2 656.7L576.2 651.5Z" fill="#000"/>
<path d="M577.5 736.7L594 728.6" stroke="#000" stroke-width="1.4" fill="none"/>
<path d="M598.9 726.2L594.2 731.4L591.9 726.7Z" fill="#000"/>
<path d="M678.6 752.5L667.1 742.6" stroke="#000" stroke-width="1.4" fill="none"/>
<path d="M662.9 739L669.5 741.3L666.1 745.2Z" fill="#000"/>
<path d="M481 799.6L464.9 803.8" stroke="#000" stroke-width="1.4" fill="none"/>
<path d="M459.6 805.2L465.2 801L466.5 806.1Z" fill="#000"/>
<path d="M679.7 840L665 829.2" stroke="#000" stroke-width="1.4" fill="none"/>
<path d="M660.6 825.9L667.4 827.7L664.3 831.9Z" fill="#000"/>
<path d="M564.1 861.4L550.7 852.7" stroke="#000" stroke-width="1.4" fill="none"/>
<path d="M546.1 849.7L553 851.1L550.1 855.4Z" fill="#000"/>
<path d="M479.8 902.3L468.5 902.3" stroke="#000" stroke-width="1.4" fill="none"/>
<path d="M463 902.3L469.5 899.7L469.5 904.9Z" fill="#000"/>
<path d="M421.9 864V930.5H490.1" stroke="#111" stroke-width="1.6" fill="none"/>
<path d="M421.9 861.6l-1.8 3.4h3.6zM492.5 930.5l-3.4 -1.8v3.6z" fill="#111"/>
<text x="418.5" y="948.4" font-size="19.8">UMAP2</text>
<text transform="translate(417.4 930.7) rotate(-90)" font-size="19.8">UMAP1</text>
</g>
<g id="umap_c">
<path transform="scale(0.5)" d="M973 2543h0m0 10h0m0 0h0m-1 2h0m-3-15h0m-12 18h0m-1-1h0m-1-5h0m-1 2h0m-1-7h0m-4-6h0m-3 4h0m-15 23h0m9-6h0m1 12h0m1-10h0m2-2h0m1 1h0m0 10h0m1 0h0m4-11h0m0 3h0m4 3h0m1 5h0m2 1h0m1-9h0m0 14h0m1-17h0m0 6h0m1-2h0m3-4h0m0 9h0m5 1h0m1-1h0m1-9h0m0 7h0m0-4h0m1 4h0m4 7h0m9 3h0m3-8h0m9 6h0m1-2h0m1-9h0m2-3h0m2 8h0m0 8h0m16-1h0m15 1h0m37 18h0m-13-4h0m-7 6h0m-8-8h0m-2-4h0m-1 10h0m-3-3h0m-3-3h0m-2-6h0m-5 12h0m-1-3h0m0 2h0m-2 2h0m-4-1h0m0-16h0m-3 8h0m-2 7h0m-1-6h0m-1-9h0m-2 18h0m-7-7h0m-3 3h0m0-2h0m-2 6h0m-4-7h0m0 2h0m-1-5h0m-1 7h0m-1-2h0m0-5h0m-1 6h0m-2 0h0m-5 2h0m-1-16h0m-1 11h0m-1 1h0m-1 1h0m0-2h0m-2-5h0m-1-1h0m-3 2h0m-1 0h0m-3-5h0m-2 2h0m0 4h0m-3 9h0m-3 0h0m0-7h0m-3-5h0m-1 2h0m-3 0h0m0-7h0m0 6h0m-3 11h0m-3-6h0m-2 7h0m-1-9h0m-4-7h0m-2 7h0m-7-8h0m-1 12h0m-2-13h0m0 6h0m-3 30h0m2-6h0m3-5h0m0-3h0m0 8h0m0-3h0m1 8h0m3-7h0m2 4h0m2 5h0m1-15h0m0 14h0m1-10h0m0 5h0m2 2h0m4-13h0m3 15h0m2-11h0m4 11h0m0 2h0m1-2h0m0-3h0m0 5h0m1-6h0m0 3h0m2-12h0m3 4h0m3 4h0m4-6h0m5-5h0m4 13h0m1-6h0m5 1h0m0-4h0m3 9h0m1-6h0m1 10h0m1-5h0m3 1h0m1 3h0m3-1h0m0 4h0m1-8h0m2-10h0m1 12h0m4-10h0m2 1h0m0 9h0m3 1h0m1-11h0m0 15h0m5-5h0m2 0h0m1-13h0m1 12h0m1-1h0m0-4h0m1 11h0m5-10h0m3 0h0m7-5h0m7 7h0m1-8h0m0 2h0m1 11h0m0-5h0m1-3h0m1 2h0m1-1h0m2-4h0m5 8h0m0-3h0m0-6h0m1 15h0m0 0h0m4 1h0m1-5h0m2-4h0m1 8h0m1-6h0m0-9h0m1-1h0m2 15h0m8-14h0m2 3h0m28 28h0m-8-3h0m-8-4h0m-1 4h0m-16 0h0m-2-6h0m-2 9h0m-5 4h0m-4-17h0m0 13h0m-6-1h0m-6-13h0m-2 0h0m-2 9h0m-2-5h0m-1 11h0m0-10h0m-3-5h0m-1 12h0m-1-8h0m-2 1h0m0-5h0m-1 12h0m0-12h0m-3 1h0m0 3h0m-1 10h0m-1-3h0m0 3h0m-4-6h0m-1 9h0m-2-6h0m0-1h0m-4-8h0m0 8h0m-1 5h0m-2-2h0m0 0h0m0-5h0m-5 0h0m-2 1h0m-1-2h0m-1 8h0m0-1h0m-2-13h0m-1 18h0m-4-6h0m-1-1h0m-3 3h0m-5-12h0m-1 14h0m-5 1h0m0 0h0m-3-11h0m-3 3h0m-2-10h0m-1 7h0m-1-1h0m-1 9h0m0 0h0m-2-10h0m-2 4h0m-1-7h0m-2 6h0m-1 10h0m-3-8h0m-1-6h0m-2 6h0m-2 6h0m-5-6h0m-2 8h0m-3-18h0m-6 2h0m-2 8h0m-2-7h0m-1 9h0m-2-5h0m-4-3h0m-1 15h0m0-17h0m0 4h0m-10 8h0m-2-4h0m2 15h0m1 3h0m3 2h0m1-8h0m1 13h0m3-10h0m1 4h0m0 6h0m2-4h0m1-6h0m1 7h0m4 5h0m0-15h0m2 1h0m2 5h0m0 10h0m1-9h0m0-5h0m1 12h0m0-10h0m5 0h0m1 10h0m10-8h0m1 11h0m0-2h0m2-13h0m1-4h0m0 19h0m1-7h0m7-4h0m0 3h0m7 5h0m2-7h0m0 8h0m1 2h0m4-14h0m1 7h0m0-5h0m8 6h0m1 4h0m0-1h0m3-7h0m1 3h0m1-3h0m0 7h0m0 3h0m1-5h0m2-7h0m2 2h0m2 3h0m2-12h0m0 15h0m1-4h0m1 2h0m1-5h0m2 11h0m1-8h0m3 0h0m0 8h0m2-10h0m1 2h0m0-11h0m2 16h0m1-7h0m2 9h0m0-2h0m3-16h0m1 14h0m1 4h0m2-18h0m1 7h0m0 3h0m3 6h0m2-11h0m3 11h0m1-16h0m1 13h0m6 1h0m6-13h0m0 8h0m1-4h0m1 9h0m0-13h0m5 18h0m0-6h0m1 5h0m1-2h0m0-7h0m3-2h0m0 0h0m2 7h0m1 3h0m1 0h0m2-15h0m1 10h0m5-10h0m1 3h0m1 5h0m0 6h0m4-11h0m1 6h0m1-5h0m11 3h0m2 8h0m7-7h0m8-1h0m4 22h0m-5-11h0m-4 11h0m-2-1h0m-3 6h0m-3 0h0m-11-6h0m-1 1h0m-3 4h0m0-9h0m-3 9h0m-2 4h0m0-3h0m-7 0h0m-1-1h0m-1 4h0m-1-9h0m-1 4h0m0 3h0m-1-4h0m-1-4h0m0-4h0m-2 4h0m-1 9h0m-4 0h0m-4-13h0m0-2h0m-1 15h0m0-3h0m-4 3h0m-1-5h0m0-4h0m-1 0h0m-1-8h0m-1 0h0m-1 1h0m-3 4h0m-2 12h0m0-12h0m0-4h0m0 8h0m-6-5h0m-1 6h0m-2-5h0m0-5h0m-1 2h0m0 3h0m0 12h0m-3-3h0m-3-2h0m-2 2h0m-1-12h0m-1 3h0m-1 1h0m-2-7h0m-1 14h0m-2-3h0m0-6h0m-1 4h0m-4-2h0m-1 2h0m0 0h0m-4 5h0m0 1h0m-1-10h0m-1 14h0m-2-1h0m-2-7h0m-2-3h0m-1 5h0m-3 0h0m-1-8h0m0-1h0m-4 1h0m-1 14h0m0-18h0m-1 12h0m0-4h0m-2-4h0m0-4h0m-1 4h0m0 10h0m-2-9h0m-9 3h0m-3 9h0m-5-11h0m-2 8h0m-3 1h0m0-9h0m-2 1h0m-2 10h0m-2-5h0m-1-1h0m-4-5h0m-1 4h0m-2 2h0m-1 3h0m-2-4h0m0 7h0m-2-16h0m-2-2h0m-2 5h0m0 13h0m-2-15h0m0 11h0m-1-11h0m0 4h0m-6 3h0m-1-6h0m-1-5h0m-1 15h0m-1-11h0m0 11h0m-1-6h0m-1 8h0m-6-4h0m0 2h0m-7 16h0m3-8h0m4 1h0m7 3h0m0 3h0m3-9h0m1 5h0m10 4h0m1 3h0m2-12h0m0 9h0m3 3h0m2 1h0m3 5h0m2-10h0m0-5h0m1-2h0m1 16h0m3-5h0m1 4h0m7-5h0m1-5h0m1-3h0m7 13h0m1-5h0m8-3h0m1 7h0m1-12h0m0 0h0m3 5h0m3-4h0m2-1h0m0 6h0m1-5h0m0 10h0m2-5h0m1 5h0m3 2h0m1 2h0m1-3h0m2-8h0m1-1h0m2 0h0m1-2h0m1 5h0m4-8h0m0 5h0m1 6h0m2-10h0m0 5h0m1-1h0m0-4h0m4 5h0m6-3h0m1-2h0m2 5h0m8 4h0m4-12h0m1 17h0m2-5h0m3 7h0m1 0h0m1-13h0m4 11h0m0-13h0m1 3h0m2 0h0m1 7h0m3-13h0m2 3h0m0 2h0m2-2h0m5 14h0m9-11h0m2 10h0m2-6h0m2-7h0m0-1h0m0 12h0m0-15h0m2 11h0m1-1h0m3 4h0m0 1h0m5-4h0m2-4h0m3 9h0m1 1h0m1-17h0m2 15h0m2 1h0m2-12h0m2-1h0m2 24h0m-10 12h0m-1-15h0m-2 12h0m-3-13h0m-4 4h0m-6-1h0m-3-1h0m-5 6h0m-1-5h0m-1 7h0m-1-4h0m-2-7h0m-1 14h0m0-8h0m-3 0h0m-3 2h0m0-2h0m-2 4h0m-3 0h0m0-1h0m-4-10h0m-1 5h0m-1 4h0m-4 7h0m-1-12h0m-2 0h0m-4 10h0m0-9h0m-2 2h0m-2-6h0m-3 0h0m-3 16h0m-2-2h0m-1-13h0m-3 4h0m-1-1h0m-4-6h0m0 4h0m0 1h0m-2 2h0m0 7h0m0-5h0m0-9h0m-1 16h0m0-8h0m-3 10h0m-2-8h0m-1 3h0m0 4h0m-2 0h0m0-16h0m0 7h0m-1 4h0m-2 3h0m-3 1h0m-1-10h0m-2 12h0m0-13h0m-6 3h0m-1 6h0m-2-2h0m-2-2h0m-2 9h0m-2-6h0m-6-4h0m-2 9h0m-4-8h0m-1 2h0m0-4h0m-3 5h0m-1-5h0m-4 3h0m-2-9h0m-1 5h0m-7 7h0m-1 1h0m0-15h0m-3 11h0m-1-10h0m0 11h0m0 4h0m-1-2h0m-7 4h0m-3-18h0m-1 18h0m-7-14h0m-19 0h0m31 26h0m4-1h0m5-9h0m1 1h0m3 2h0m1 10h0m5 5h0m1-18h0m3 14h0m0-8h0m1 8h0m4-12h0m0 6h0m3 5h0m1-13h0m0 5h0m6-3h0m1 4h0m2-6h0m1 10h0m1-9h0m1 9h0m8-2h0m2-8h0m5 9h0m0 2h0m7-9h0m1 11h0m0-9h0m4-1h0m0 5h0m2 8h0m1-5h0m0-10h0m1 13h0m0 2h0m2 2h0m0-2h0m4 0h0m0-14h0m5 1h0m0 4h0m2 6h0m2 2h0m5-1h0m0-11h0m2 3h0m1 6h0m3-12h0m0 12h0m5 2h0m2 0h0m0-2h0m8-5h0m1 1h0m0 0h0m0-6h0m3 7h0m2-9h0m1 1h0m3 6h0m1-6h0m6 2h0m1 11h0m0-14h0m1 0h0m0 6h0m1 11h0m2-1h0m0-10h0m1-3h0m5 0h0m1 5h0m9-3h0m-14 30h0m-7-2h0m-5-3h0m0 8h0m-3-5h0m-3-7h0m-2 10h0m-2-3h0m-2-10h0m0-1h0m-1 0h0m-4 7h0m-3 1h0m-5 2h0m-4 0h0m-5-4h0m-1-1h0m-1 0h0m-4-3h0m-3-4h0m-1 3h0m-3-2h0m-2 9h0m0 8h0m-1-13h0m0 6h0m0 7h0m-3-4h0m-9-14h0m-4 3h0m-2-1h0m0 9h0m-8-6h0m0 8h0m-2-12h0m-1 5h0m0 1h0m-19 1h0m12 13h0m16 1h0m36 6h0m12 0h0" stroke="#3b82bd" stroke-width="5.2" stroke-linecap="round" fill="none"/>
<path transform="scale(0.5)" d="M1263 2427h0m3 20h0m11-2h0m7 13h0m0-5h0m10-3h0m6 28h0m-2-10h0m-1 4h0m-6 0h0m-5 7h0m-1-5h0m-1 5h0m-3-17h0m-1 14h0m-8 3h0m-2-16h0m-4 9h0m-2 7h0m0-17h0m-21 0h0m-18 26h0m18 4h0m6-8h0m4 11h0m3-14h0m3 16h0m4-14h0m2 6h0m0 4h0m1 3h0m10 2h0m12-12h0m1 13h0m5-8h0m3-1h0m3 9h0m5-11h0m3-8h0m0 18h0m4-12h0m2 13h0m0-16h0m2 4h0m3-5h0m11-1h0m8 6h0m31 27h0m-20-6h0m-2 7h0m-10-3h0m-2 1h0m-4 0h0m-2 5h0m0-5h0m-3-9h0m-1 12h0m0-9h0m-1 4h0m-2 7h0m0-17h0m-2 2h0m-2 14h0m-3-1h0m-1 1h0m0 2h0m-9-13h0m-5 10h0m0-6h0m-4-4h0m-1 9h0m-4-1h0m-2-14h0m0 15h0m-4-9h0m-3-4h0m-6 1h0m-1 12h0m-3 1h0m-1-9h0m-2-7h0m-1 12h0m-2 7h0m-4-9h0m-3-9h0m-3 9h0m-17-9h0m19 19h0m2 10h0m6-2h0m0 7h0m2 1h0m7-3h0m1-1h0m9-5h0m5 1h0m4 0h0m5 8h0m1-16h0m3 17h0m2 2h0m2-14h0m1 2h0m0 1h0m9 8h0m1-13h0m1 12h0m9-3h0m1 6h0m3-9h0m2 2h0m1-6h0m0-1h0m1 14h0m3-11h0m4 12h0m0-7h0m7 7h0m17 0h0m0-17h0m1 15h0m1-13h0m1-2h0m2 11h0m2 6h0m1-18h0m3 3h0m1 8h0m2 5h0m2-8h0m3 10h0m3-10h0m7 7h0m9-2h0m12-7h0m12 30h0m-3 1h0m-10-4h0m-1-5h0m-2 7h0m-2-9h0m-2 9h0m-3-15h0m-1 18h0m-2-3h0m-5-16h0m-1 3h0m0 4h0m-8 10h0m-9-4h0m-2 2h0m-1 4h0m-10-11h0m-2-1h0m-2-3h0m-1-1h0m-7 5h0m-2 10h0m-2-1h0m0-4h0m-3-11h0m-1 7h0m-7 7h0m-2-13h0m0 13h0m-2-6h0m-1 8h0m0-15h0m-3 13h0m-2-3h0m-9 6h0m-1-14h0m0 3h0m-6 9h0m-7 1h0m0 1h0m-4-3h0m-1-8h0m-6 6h0m-2-1h0m-3 0h0m0 6h0m-4-10h0m-12-8h0m-3 16h0m-1 0h0m-1 1h0m-3-12h0m-5 7h0m-6-11h0m-4 2h0m-8 33h0m3-5h0m2-1h0m1 6h0m3-5h0m7-10h0m4 14h0m1-7h0m0 2h0m1-11h0m4 6h0m1-6h0m2 0h0m2 6h0m3-1h0m4 8h0m4-2h0m1-2h0m0 6h0m1 0h0m5-6h0m6 7h0m0-15h0m3 8h0m2-5h0m1 0h0m0-2h0m1 12h0m2-4h0m2-6h0m2 1h0m1 4h0m1 9h0m3 0h0m2 0h0m4 0h0m2-14h0m2 5h0m2-4h0m3-1h0m4-3h0m3 13h0m3 2h0m2-3h0m1-11h0m1 7h0m9-3h0m2 7h0m1 5h0m2-18h0m4 13h0m26-13h0m4 12h0m1-7h0m2-5h0m2 14h0m2-12h0m2 2h0m4 13h0m9-4h0m2-10h0m7-3h0m2 10h0m7 20h0m-8-4h0m-5 13h0m-1-17h0m-21 17h0m-1-18h0m-3 18h0m-1-4h0m0-3h0m-3-2h0m0-3h0m-3 5h0m-6 1h0m-1-13h0m0 13h0m-2 1h0m-4 2h0m-1-10h0m-1-6h0m-1 15h0m-15-15h0m0 8h0m-1 10h0m0-5h0m-4-9h0m-6 7h0m-2 5h0m-1 1h0m-1-5h0m-2-12h0m-3 10h0m-4 2h0m-1 1h0m-5 3h0m-5-7h0m-1 1h0m-2-3h0m-4 11h0m0-2h0m-3-15h0m-3 8h0m-5-6h0m0 8h0m-1 0h0m-1-7h0m0 14h0m-3-11h0m-2-7h0m-1 15h0m-1-6h0m-1-9h0m-3 14h0m0-1h0m-2-11h0m0 1h0m-1 1h0m0 8h0m-1 3h0m0-15h0m-2 0h0m0 11h0m-12 1h0m-6-9h0m-1 13h0m-3 3h0m-10-16h0m-2 10h0m-26 3h0m11 10h0m9 6h0m2 0h0m2-9h0m1 13h0m2-14h0m1 16h0m0 1h0m2-6h0m1-1h0m2-2h0m3 0h0m3-5h0m5 8h0m1 4h0m2-10h0m2 7h0m6-2h0m1 0h0m3-6h0m3-3h0m1 1h0m5 9h0m2 0h0m1-10h0m0 9h0m4-1h0m4-7h0m0 4h0m10-7h0m3 10h0m2 3h0m0 4h0m2-18h0m5 15h0m0-5h0m1 6h0m1-13h0m3-2h0m0 9h0m0 1h0m6-2h0m1 6h0m4-2h0m6-6h0m6-6h0m1 18h0m3-15h0m4 1h0m0 7h0m2 0h0m2 0h0m2-10h0m1 4h0m4 7h0m6-13h0m8 2h0m1 10h0m4-4h0m3 2h0m6 7h0m6-15h0m17 4h0m1-2h0m-59 20h0m-3 8h0m-2 5h0m0-1h0m-1-11h0m-5 11h0m0-7h0m-1-4h0m-3 4h0m-1 7h0m0-8h0m-10-4h0m-1 10h0m-4-12h0m-3 15h0m-2-10h0m-1 12h0m0-16h0m-1 15h0m-2-5h0m-1-3h0m-11-8h0m-2 16h0m0-18h0m-4 7h0m-1 9h0m-11-9h0m-4-3h0m0 1h0m-1 6h0m-2 6h0m0-7h0m-1 4h0m-2 5h0m-1-11h0m-9 10h0m-2 0h0m-2-8h0m-2 9h0m-1-8h0m-1 0h0m-1-6h0m-4-1h0m0 8h0m-1-2h0m0-3h0m-2-7h0m-9 0h0m-1 4h0m-3 1h0m-1 6h0m-5 3h0m-1-11h0m0 10h0m-1-5h0m-1 3h0m0-1h0m-5 5h0m-7 0h0m-1-2h0m-2 3h0m6 20h0m0 0h0m7-10h0m3 6h0m4-12h0m2 1h0m3 14h0m4-13h0m1 8h0m1 3h0m3-7h0m0 1h0m4-7h0m1 4h0m1 6h0m1-2h0m3-3h0m0 10h0m2-5h0m0-8h0m1 14h0m3-13h0m2 14h0m1-5h0m2-1h0m1-5h0m10-1h0m2 6h0m0 5h0m1-15h0m1 8h0m5 6h0m1 2h0m3-1h0m1 2h0m9-1h0m2-16h0m2 14h0m6-15h0m3 14h0m4-13h0m4 7h0m3-8h0m3 19h0m11-3h0m3-9h0m1-6h0m3 0h0m0 9h0m1 3h0m0-13h0m1 7h0m1 9h0m2-4h0m8 0h0m24-2h0m-23 22h0m-2-5h0m-14 12h0m-2-5h0m0 4h0m-1-1h0m0-6h0m-2 6h0m-1-6h0m-14-1h0m0 3h0m-1-12h0m-2 2h0m0-1h0m-5 5h0m-2 1h0m-1-4h0m-4 5h0m-1 4h0m-1-10h0m0 4h0m-5 5h0m-1 1h0m-1-11h0m-1 17h0m0-1h0m-1-7h0m-1-4h0m-1 11h0m-4-9h0m-9-5h0m-7-4h0m-7 17h0m-4-7h0m-4 3h0m0-7h0m-6 2h0m-1 7h0m0-9h0m-4 2h0m0 5h0m-4 6h0m0-12h0m-3 9h0m-1-4h0m-7-10h0m-2 7h0m-13 5h0m31 14h0m21-4h0m3 10h0m4-5h0m1-7h0m1 15h0m4-7h0m2-6h0m1 10h0m3 4h0m3-1h0m3-13h0m0-3h0m2 7h0m6-8h0m2 19h0m1-7h0m0-12h0m0 4h0m0 13h0m10-5h0m0-9h0m3 1h0m3 13h0m1-5h0m5-1h0m8-1h0m2-3h0m1 7h0m16-10h0m2 33h0m-8-14h0m-3 5h0m-21-1h0m-2-4h0m0-3h0m-4 18h0m-1-11h0m-2-3h0m-2 12h0m-6-8h0m-4 0h0m-8 0h0m-6 8h0m-4-9h0m-12-1h0m53 18h0m16-4h0m13 2h0" stroke="#45b03c" stroke-width="5.2" stroke-linecap="round" fill="none"/>
<path transform="scale(0.5)" d="M1341 2350h0m-59 7h0m0 14h0m1 5h0m18-8h0m1 4h0m4 7h0m3-13h0m4 8h0m1-12h0m0 9h0m5-6h0m1 12h0m0 1h0m4-1h0m0-3h0m4 1h0m9 1h0m5-6h0m3-6h0m1 0h0m0 12h0m2 2h0m1-1h0m6 0h0m6-3h0m13-5h0m16 2h0m7 17h0m-1 0h0m-2 5h0m-4 3h0m-1-7h0m-2-9h0m0 17h0m-5-17h0m-1 17h0m-4-10h0m-1 8h0m0-1h0m0-4h0m-1-1h0m0 1h0m-1 6h0m-3-5h0m-6-3h0m-3 3h0m-2 3h0m-4 1h0m-5 4h0m-1 0h0m-1-10h0m-6 1h0m-1-7h0m-1 6h0m-3-7h0m-9 17h0m0-17h0m-1 1h0m-5-2h0m0 17h0m0-6h0m-1 4h0m-15-12h0m-6 9h0m-2-5h0m-1 11h0m0-14h0m-3 14h0m0-1h0m-5-2h0m0-16h0m-11 13h0m-17 0h0m12 17h0m12 0h0m1 2h0m4 6h0m2-8h0m6 7h0m7 1h0m0-9h0m2 2h0m3-6h0m2-1h0m3 14h0m11-1h0m0-8h0m6-7h0m2 11h0m7-10h0m3-1h0m4 13h0m4-14h0m1 2h0m4 9h0m0-7h0m0 6h0m2 3h0m0-8h0m2 6h0m3 6h0m0-7h0m0-3h0m4 11h0m0-8h0m1-10h0m3 10h0m6 7h0m9-3h0m1-11h0m4 0h0m7 0h0m1 0h0m-5 20h0m-12 0h0m-1 1h0m-1-2h0m-14 8h0m-2 2h0m-3-9h0m0 13h0m-1-8h0m0 0h0m-8 10h0m-1-6h0m0 4h0m-2-8h0m-4 7h0m-1-1h0m0-4h0m-7 8h0m-1 0h0m0-19h0m-1 18h0m-9-4h0m-1-3h0m-1-7h0m-6 15h0m0-8h0m0-1h0m-4 0h0m-7 2h0m-4-3h0m-13 0h0m-1 7h0m-1-10h0m-8 3h0m0 5h0m-2-8h0m-4 9h0m-2-15h0m-5 10h0m-1-6h0m-1 8h0m-6-3h0m-3 3h0m-1-8h0m-3 15h0m-6-8h0m-7 25h0m2-5h0m0 8h0m2-6h0m8-6h0m7 12h0m2-14h0m9 1h0m1 9h0m7-3h0m3 5h0m4-5h0m1-11h0m1 17h0m1-18h0m0 2h0m3 5h0m3 8h0m0-13h0m0 0h0m4 12h0m0-8h0m0 4h0m1 6h0m0-14h0m6 4h0m0 4h0m0-4h0m1 8h0m1-8h0m2 7h0m2-5h0m1-4h0m1 0h0m0 0h0m6 14h0m2-6h0m0 4h0m4-7h0m3-8h0m1 16h0m4-13h0m3 0h0m4 6h0m1 6h0m0-7h0m3 9h0m2-1h0m0-9h0m0-3h0m3 9h0m3 2h0m1-8h0m3 9h0m0-16h0m1 13h0m5 3h0m11-16h0m6 0h0m1 34h0m-16 0h0m-6 0h0m-1-4h0m0 6h0m0-14h0m-1 13h0m-8-16h0m-2 0h0m0 19h0m0-12h0m-7-7h0m-2 18h0m-4-1h0m0 0h0m-5 0h0m-2-10h0m-2 1h0m0-6h0m-2 6h0m0 1h0m-1-9h0m0 9h0m-3-7h0m0-2h0m-4 5h0m-5 11h0m-2-10h0m-2 0h0m0 12h0m-2-8h0m-4 4h0m-4-3h0m-2 2h0m-3-10h0m-1 6h0m-1 0h0m-2-2h0m-1 8h0m-1-1h0m-1 2h0m-1-5h0m-2-11h0m-3 11h0m-2 7h0m-8-6h0m0 4h0m-1-16h0m0 3h0m-4 12h0m-6-11h0m-6 13h0m-3-5h0m3 19h0m2 7h0m0-3h0m3-10h0m2-4h0m7-1h0m4 7h0m0-7h0m1 15h0m4-11h0m5 4h0m1-8h0m5 7h0m4 0h0m12 5h0m20-8h0m17 12h0m0-4h0m2-9h0m1-2h0m3 13h0m4-13h0m12 4h0m3-4h0m12 4h0m-90 16h0m-17 7h0m-9-5h0" stroke="#d8302e" stroke-width="5.2" stroke-linecap="round" fill="none"/>
<path transform="scale(0.5)" d="M1039 2396h0m-4-7h0m-5 10h0m-6-2h0m-19 17h0m4-1h0m6-3h0m3 9h0m0-8h0m1 7h0m0-13h0m2 12h0m1-11h0m9 10h0m1-5h0m0 5h0m1-6h0m1-4h0m1 12h0m4-12h0m1 7h0m1-6h0m0-1h0m2-1h0m1-5h0m8 11h0m0 4h0m4-7h0m10 9h0m54 22h0m-38-3h0m-15 2h0m-1-12h0m-1 1h0m-2 11h0m-2-11h0m-2-4h0m-2 0h0m-2 0h0m-1 16h0m0-14h0m-2 12h0m-1 2h0m0-12h0m-1 8h0m0 4h0m-2-3h0m-2-2h0m0-9h0m-2 8h0m-1-5h0m-4-1h0m0 2h0m-2-4h0m-1-2h0m0 2h0m-3 3h0m-2 1h0m-4-5h0m0 10h0m-1 0h0m-3 1h0m-1 1h0m-7-15h0m-3 5h0m-6-4h0m-1 21h0m14 2h0m2-1h0m6-2h0m0 5h0m1 2h0m0 9h0m2-11h0m0 8h0m1-3h0m2 5h0m0-9h0m1-2h0m2 8h0m2-10h0m0-1h0m0 14h0m1-3h0m1-10h0m2 9h0m4-8h0m2 10h0m1-9h0m4 13h0m3-18h0m1 11h0m5-12h0m1 7h0m1 2h0m2 2h0m0-6h0m2-1h0m3 13h0m5-10h0m4 5h0m1 3h0m3-4h0m0 4h0m1 4h0m2-14h0m1-5h0m2 16h0m2-3h0m3 6h0m0-17h0m5 6h0m9 11h0m1-3h0m24-11h0m11 21h0m-2-6h0m-9 5h0m0 6h0m-5 5h0m-2-4h0m-1 7h0m-2-9h0m0 2h0m0 5h0m-1-15h0m0 10h0m0 0h0m-1-10h0m0 10h0m-1-6h0m0 13h0m0-13h0m-2 13h0m0-5h0m-1-1h0m0-12h0m-1 11h0m-1 4h0m0-7h0m-2-6h0m0 8h0m0-2h0m-1-5h0m0 14h0m-2-7h0m-2-5h0m0 5h0m0-10h0m0 5h0m-3 12h0m-2-8h0m0 9h0m-3-16h0m-2 11h0m0-6h0m-2-3h0m0 4h0m-2 0h0m-1-3h0m-1 10h0m-2-5h0m0 1h0m-3-2h0m0-7h0m-3 6h0m-1 0h0m-2 0h0m-1 3h0m0-3h0m-1-3h0m-3 2h0m-9 3h0m0-8h0m-4 8h0m-1-2h0m-2 7h0m0 1h0m0-14h0m0 9h0m-4-12h0m-3 12h0m-1 6h0m-2-18h0m-1 3h0m-2 1h0m-2 8h0m0-11h0m-1 5h0m-1 11h0m-2-7h0m-1 8h0m0-7h0m-2 8h0m0-3h0m-2-14h0m-1 15h0m-1-12h0m-1 10h0m-1-8h0m-2 4h0m-1-9h0m-2 17h0m0-15h0m-1 10h0m-1 3h0m-13 0h0m-1-7h0m-1-3h0m-26 23h0m2 9h0m11-5h0m1-4h0m6 8h0m2-10h0m3 8h0m1-5h0m3 0h0m1-1h0m5 9h0m1-14h0m0-4h0m1 16h0m0-14h0m1 8h0m3-8h0m4 8h0m1-8h0m3 7h0m2-7h0m1 11h0m2 2h0m0-10h0m5 1h0m2 8h0m0-9h0m1 4h0m0-10h0m2 3h0m1-2h0m1 0h0m1 8h0m1 0h0m2-1h0m0-1h0m0 4h0m2-3h0m0-7h0m4 0h0m0 4h0m1 5h0m2-7h0m1 5h0m2-5h0m0 6h0m4 2h0m0-9h0m1 2h0m1 1h0m0 14h0m1-14h0m1-5h0m0 5h0m4 7h0m1 3h0m0-11h0m1-2h0m0 11h0m1-2h0m2 2h0m0-8h0m2 1h0m1-6h0m2 10h0m1 7h0m4 1h0m3-3h0m0-8h0m1 8h0m0-1h0m1-5h0m0-5h0m1 8h0m2 7h0m5-9h0m1 1h0m0-10h0m1 12h0m0 1h0m4-6h0m1 9h0m1-1h0m0-11h0m1-5h0m2 10h0m1 9h0m2-14h0m1 13h0m3-6h0m1-11h0m0 13h0m1-2h0m4-3h0m0-6h0m1 8h0m0-4h0m2 0h0m5-3h0m2 14h0m1-14h0m2 0h0m0 8h0m1-3h0m0-7h0m1 6h0m2 0h0m0 6h0m2 4h0m5-4h0m4-12h0m11 4h0m-11 29h0m-3-10h0m0 3h0m-8 8h0m-1-6h0m-1 0h0m-1 6h0m-1-10h0m-1-3h0m-1 8h0m-4 8h0m-1-7h0m-4 7h0m0-7h0m-3-6h0m-1 6h0m-3 7h0m0-3h0m-1-4h0m0 4h0m-4-12h0m-2 5h0m0 3h0m-2-8h0m-2 2h0m-3 7h0m-2 1h0m-2 0h0m-1-1h0m0-11h0m-1 0h0m0 4h0m0 5h0m-1 3h0m-1-6h0m-1 3h0m-2-1h0m-1-5h0m0 9h0m-2 1h0m-1-9h0m-1 5h0m-1-5h0m-1 11h0m0-14h0m-2 6h0m-3 0h0m-6-2h0m-1 7h0m0 1h0m-1 1h0m0 1h0m-3-4h0m0-12h0m-1 7h0m0 9h0m-2 0h0m0-9h0m-4-3h0m0 7h0m-5 0h0m-3-12h0m-3 3h0m-6 14h0m-7-9h0m-6 11h0m-5-11h0m-4-8h0m0 1h0m-1 1h0m-2 17h0m-1-11h0m-1 9h0m-2-7h0m-2-2h0m0-8h0m-1 10h0m-1 2h0m0 0h0m-4-3h0m-1-4h0m0-1h0m-1 10h0m-1-8h0m0 8h0m-1 5h0m-3-12h0m-2-6h0m-1 9h0m0-1h0m-1 6h0m-3-14h0m-6 11h0m0 4h0m0-9h0m0 1h0m-1 10h0m-1-9h0m-2-2h0m0 4h0m0-5h0m-5 10h0m-1-15h0m-2 6h0m-2-5h0m-8-2h0m-2 1h0m-1 15h0m-10-14h0m5 19h0m5 9h0m3-2h0m9-6h0m1 10h0m1-9h0m3-2h0m0 10h0m2-5h0m1-2h0m0-4h0m3 11h0m0-6h0m4-2h0m0-2h0m2 14h0m0-10h0m2 6h0m0-4h0m0-5h0m3-2h0m2 2h0m3-2h0m0 0h0m1 14h0m0 4h0m3-11h0m0 9h0m1-16h0m0 1h0m3 8h0m0 3h0m1-5h0m5 4h0m1 4h0m9-4h0m2-8h0m2 6h0m1-9h0m4 3h0m0 7h0m3-3h0m2 3h0m1 9h0m2-18h0m0 8h0m1-5h0m0 6h0m2 5h0m0 1h0m3-9h0m0-6h0m1 15h0m0-14h0m1 14h0m1-7h0m2 7h0m6-1h0m1-9h0m0 1h0m1-7h0m2 10h0m1 0h0m0 6h0m1 2h0m0-10h0m7 9h0m3-16h0m0 5h0m0 1h0m2-7h0m2 15h0m2-9h0m2 7h0m6-8h0m2 11h0m1 0h0m0 0h0m4-13h0m0 10h0m3-5h0m2 3h0m4-8h0m3 0h0m2 8h0m2 6h0m0 0h0m1-2h0m2 1h0m2-5h0m3-9h0m1 13h0m0-11h0m5-2h0m4-2h0m4 0h0m1 14h0m1-9h0m0 2h0m2 5h0m5-2h0m19-9h0m-23 32h0m-8-6h0m-10 6h0m-6-11h0m-3 0h0m-1 3h0m0-5h0m-3 9h0m0-8h0m-1 12h0m-2-6h0m-2-7h0m-4 18h0m-2-12h0m-1 11h0m-5-17h0m-1 19h0m-2-16h0m0-2h0m-3 5h0m-1-6h0m0 0h0m0 6h0m-1 2h0m0-7h0m0 4h0m0 12h0m-2-8h0m-2-4h0m-2 2h0m-1 1h0m-1 1h0m-1 0h0m-4 2h0m0 0h0m-1 4h0m-1-10h0m-1 7h0m0-4h0m-2 6h0m0 1h0m-1-13h0m-2 5h0m-2-1h0m-2 12h0m-1-17h0m-4 3h0m0 11h0m0-5h0m-1 9h0m-1-18h0m0 1h0m-4 10h0m0-10h0m-2 9h0m0-11h0m-2 18h0m-1-7h0m0-1h0m-5 6h0m-1-2h0m0-5h0m-2-3h0m-1 2h0m-1 2h0m0-6h0m-1 3h0m-1-4h0m-2 11h0m-1-5h0m0-5h0m-3 10h0m-1-4h0m0 2h0m0-1h0m-2-10h0m-5 0h0m0 13h0m-1-7h0m0 7h0m-7-13h0m-4 17h0m7 6h0m4 0h0m2 8h0m6-5h0m3-3h0m1 14h0m2-6h0m8-4h0m1-4h0m2-4h0m1 1h0m0 5h0m2-5h0m1 1h0m4 0h0m1 0h0m2 1h0m1-1h0m6-2h0m4 12h0m3-6h0m3 3h0m0-7h0m5 16h0m1-7h0m1-1h0m0 3h0m1-8h0m4 0h0m1 0h0m0 11h0m4-11h0m17-3h0m-42 22h0m-1-4h0m-27 2h0" stroke="#e07fd0" stroke-width="5.2" stroke-linecap="round" fill="none"/>
<path transform="scale(0.5)" d="M1173 2148h0m-3 0h0m-40 22h0m23 4h0m4 0h0m1 0h0m3 0h0m1-4h0m1 8h0m3 0h0m1-18h0m2 11h0m4-9h0m0 5h0m4 8h0m2-4h0m4-6h0m1 5h0m1 6h0m0 2h0m2-4h0m9-12h0m7 12h0m0-9h0m16 15h0m-8 16h0m-9 2h0m-5-13h0m-14-3h0m-2 4h0m-1 10h0m-1-7h0m0-1h0m0 9h0m0-11h0m-4 7h0m-3-12h0m-3 6h0m0-2h0m-1 4h0m0 10h0m-2-7h0m0-6h0m-7-1h0m0 5h0m0-3h0m-4 1h0m-2 3h0m-1 2h0m-1 6h0m-1-6h0m-2-8h0m-4 0h0m-10 1h0m-1 13h0m-1-2h0m-4 22h0m1-16h0m0 16h0m3-18h0m2 5h0m2-3h0m2 1h0m1-1h0m2 11h0m4-7h0m1-3h0m2 0h0m1 4h0m1-1h0m5-7h0m1 19h0m4-8h0m0 2h0m0-9h0m1 6h0m4-9h0m1 15h0m1 2h0m0 1h0m1-16h0m0-2h0m2 8h0m1-4h0m0 13h0m2-11h0m2 3h0m0 4h0m0-1h0m1-7h0m1 1h0m0 6h0m1-5h0m1-1h0m1 10h0m3-11h0m0 2h0m0 11h0m1-1h0m0-12h0m1 3h0m3 0h0m2 2h0m1-4h0m3 4h0m3 7h0m5-11h0m2 12h0m2-7h0m0 0h0m2 1h0m1-3h0m0-9h0m1 18h0m2-4h0m1 4h0m24-1h0m-8 8h0m-7 10h0m-4-1h0m-2 2h0m-1 2h0m-1-8h0m-3-8h0m0 9h0m0 7h0m0-3h0m-2-13h0m-2 1h0m-1-1h0m0 0h0m-4 9h0m0 7h0m-4 0h0m-1-7h0m-3-10h0m-1 3h0m-3 2h0m-1 4h0m-1 8h0m0-7h0m-1-11h0m-1 12h0m0 5h0m-6-17h0m-2 2h0m0 0h0m-1 10h0m-1-12h0m-3 16h0m-2-12h0m-1-4h0m-1 4h0m-1-4h0m0 16h0m-1-10h0m-1 1h0m-2 10h0m0-17h0m-1 10h0m-2-4h0m-1 11h0m-1-14h0m-2 8h0m0-7h0m-1 8h0m-1 2h0m-1 1h0m-2-16h0m-1 18h0m0-10h0m-2 1h0m-1 1h0m-5-10h0m-9 13h0m-7-9h0m0 12h0m-5 3h0m-1-4h0m0-2h0m-3 4h0m-3-15h0m-10 36h0m10 1h0m3-9h0m2 4h0m1-7h0m0-7h0m1 14h0m1-1h0m1 1h0m3-6h0m1-8h0m2 12h0m4-8h0m1 15h0m6-10h0m1-2h0m5 11h0m6-17h0m1 14h0m0-3h0m1-9h0m0 12h0m1-10h0m1 4h0m1-6h0m5-3h0m1 1h0m0 0h0m1 18h0m1-7h0m1 1h0m1-3h0m1-4h0m0 3h0m1-4h0m0 12h0m2-12h0m1-3h0m1 8h0m1-3h0m0 11h0m2-6h0m0-12h0m0 1h0m0 4h0m2 14h0m0-18h0m1 4h0m0 13h0m5-6h0m3 1h0m1-9h0m4 1h0m2-5h0m3 15h0m0-13h0m2 12h0m5 4h0m1-18h0m0 0h0m1 19h0m0-8h0m2 1h0m3-7h0m0 11h0m1-11h0m3 14h0m2-4h0m1-9h0m0-1h0m2-1h0m1 2h0m5 2h0m3-2h0m1 8h0m1-13h0m5 17h0m2-3h0m2-7h0m2 1h0m1 0h0m2 7h0m6-3h0m5-3h0m37 16h0m-8 9h0m-6-4h0m-3 3h0m0 0h0m-3 0h0m-3 3h0m-1-2h0m-1-2h0m0 5h0m-3-9h0m-1-2h0m-1 5h0m-1 2h0m0-11h0m-1 14h0m-2 0h0m0-7h0m0 3h0m-3-2h0m-1-10h0m-3 18h0m-1-8h0m-2-8h0m-3 16h0m-2-6h0m0 5h0m-4-10h0m-2 4h0m-1-7h0m-4-5h0m-6 9h0m-1-6h0m-7 16h0m-1 0h0m-2-15h0m0 12h0m-3-2h0m0 5h0m-3-4h0m-2-9h0m-1 9h0m-1-5h0m-1-6h0m-1 11h0m-2-11h0m-2 14h0m-2-2h0m-2-15h0m-1 1h0m-4 4h0m-1 8h0m-2-11h0m-2 4h0m0 9h0m-4-3h0m-1-11h0m-4-1h0m0 12h0m0 4h0m0-14h0m-4 11h0m0-7h0m-3 9h0m-2-8h0m-6 1h0m0 4h0m0-13h0m0 18h0m-3 1h0m-1-16h0m0 4h0m-3 10h0m0-16h0m-1 2h0m-1 14h0m-4-6h0m0 7h0m-1-2h0m-1-4h0m-2-12h0m-1 6h0m0 11h0m-4-4h0m-2-4h0m-2-7h0m-2 5h0m-3 10h0m-1-14h0m0 7h0m0-8h0m-1 14h0m-3-11h0m-1 9h0m0-2h0m-5-3h0m0-5h0m-4-1h0m-2-3h0m-6 15h0m0 1h0m-7 20h0m3 0h0m1-7h0m4 4h0m3-7h0m1-5h0m4 17h0m5-7h0m1 1h0m0-12h0m1 1h0m2 15h0m1-5h0m2 2h0m0-2h0m1 8h0m0-6h0m2 4h0m2-4h0m0-10h0m1 6h0m3 3h0m1-12h0m9 0h0m0 9h0m0-5h0m0 3h0m2 12h0m0-14h0m0-2h0m1-3h0m0 5h0m0 7h0m1 7h0m0-14h0m4 2h0m0 0h0m0 12h0m1-5h0m3-9h0m2 8h0m0-9h0m1 14h0m1-7h0m5-6h0m1 1h0m1 2h0m0 10h0m0-3h0m0-4h0m0-3h0m1 6h0m2-7h0m1 2h0m1-7h0m2 13h0m0-10h0m1-1h0m1 8h0m2-8h0m2 13h0m1-1h0m4 0h0m0 1h0m1-16h0m1 13h0m1 2h0m0-4h0m1-8h0m2 9h0m1-11h0m1-2h0m5 4h0m1 1h0m0 9h0m3-4h0m2 7h0m2 0h0m3-3h0m1 0h0m1-3h0m1-1h0m0-9h0m1 8h0m1 5h0m1-7h0m2-3h0m1 10h0m2-2h0m2-8h0m4 5h0m1 10h0m0-7h0m0-5h0m3 9h0m1 0h0m1-11h0m0 2h0m0-4h0m0 14h0m3-16h0m2 1h0m3-1h0m2 0h0m1 3h0m0-3h0m0 11h0m1 5h0m1-7h0m1-7h0m4 6h0m2-8h0m1 18h0m1-9h0m0 4h0m1-12h0m2 12h0m4-4h0m0-5h0m1 14h0m6-1h0m0-9h0m2 2h0m1-5h0m2-1h0m2 7h0m1 3h0m2-4h0m4 0h0m3 6h0m3 1h0m10 7h0m-3 14h0m-3-17h0m-1 11h0m0 2h0m-1-10h0m-3-4h0m-5 13h0m-1-9h0m-1 4h0m-3 0h0m-1-5h0m-2-2h0m-1 4h0m0 3h0m-1-6h0m0 13h0m-1-1h0m-2-7h0m-5 10h0m-2-9h0m-1-7h0m-2 0h0m-1 7h0m-4-2h0m-1 1h0m-1 11h0m-8-2h0m-2-1h0m0-8h0m-1 8h0m-3-5h0m-1 1h0m-3-11h0m-1 1h0m-3 10h0m-4 4h0m-1-6h0m-1-3h0m-1 0h0m0-5h0m-1-1h0m0 9h0m-2 2h0m0 4h0m-3-8h0m0 1h0m-2-4h0m-2 6h0m-1 0h0m-6 5h0m0-16h0m-1 4h0m0 7h0m0 1h0m-3 6h0m-2-14h0m-1 3h0m-1-5h0m0 6h0m-3-4h0m-6 6h0m-1-8h0m0 3h0m-2 6h0m-3-1h0m-1-5h0m0 11h0m-1 3h0m-1-4h0m0-2h0m0 6h0m-4-18h0m-3-1h0m0 6h0m-4-6h0m-1 5h0m-1 11h0m-1-7h0m-1-6h0m0-3h0m-2 4h0m-2 6h0m0 0h0m-1-8h0m-1 2h0m-1 12h0m-1-5h0m0 6h0m-9-16h0m0 7h0m-2 0h0m0 5h0m-5-1h0m0-12h0m-5 3h0m-2 6h0m-1 10h0m-2-7h0m0-3h0m-2-7h0m-1 0h0m0 10h0m0-11h0m-4 15h0m0 2h0m-2-13h0m-1 2h0m-1 7h0m-3-2h0m-1-11h0m0 0h0m-1 7h0m0-7h0m-1 15h0m0-1h0m-1-1h0m-8 4h0m-1-16h0m0 4h0m-12 5h0m-2-11h0m-4 34h0m3-14h0m0 10h0m3 0h0m1-4h0m2 13h0m2-11h0m5-3h0m4-5h0m2 2h0m8 13h0m2-1h0m1-3h0m0-9h0m1-1h0m1 6h0m2-7h0m2 0h0m1 12h0m0-7h0m1 11h0m2-10h0m1 2h0m0 7h0m3-2h0m0 3h0m2-14h0m2 10h0m1 2h0m2-5h0m1 10h0m2-6h0m2-3h0m0-9h0m0 3h0m2 0h0m0 7h0m1 2h0m1-13h0m1 19h0m0-17h0m3 9h0m1 0h0m1 5h0m2 2h0m1 0h0m5-15h0m2 3h0m3-2h0m1 7h0m0 5h0m1 1h0m0 1h0m0-14h0m0-2h0m0 7h0m1 9h0m3-3h0m3-12h0m0 5h0m1 2h0m3 9h0m1-10h0m1-8h0m0 16h0m2-16h0m2 9h0m1-8h0m1 15h0m1-10h0m2 5h0m1 7h0m0-3h0m1-15h0m6 10h0m1-1h0m2 9h0m1-19h0m0 7h0m0-6h0m1 17h0m0 1h0m4-13h0m0 11h0m1-12h0m0 2h0m0-7h0m2 3h0m1 7h0m1 3h0m0-3h0m2 1h0m0 2h0m1-5h0m1-2h0m0 2h0m1-4h0m3-3h0m0 16h0m1-7h0m1 4h0m3-11h0m0 14h0m1 1h0m0-11h0m10 8h0m0-15h0m1 2h0m1 9h0m2-11h0m1 3h0m1 9h0m1 1h0m0-2h0m0-4h0m5 12h0m0-6h0m0-10h0m1 0h0m1 11h0m0 2h0m1-6h0m0 4h0m0-1h0m0 4h0m0-9h0m3 8h0m2-1h0m0-2h0m1-8h0m0 5h0m2 9h0m2-8h0m2-5h0m1-2h0m1 13h0m2-15h0m1 5h0m0 4h0m0-10h0m1 17h0m2 1h0m0-17h0m1 17h0m0-6h0m0-8h0m1 6h0m0 6h0m1-4h0m1-5h0m2-8h0m1 12h0m4-9h0m1 2h0m1 3h0m1 7h0m4-1h0m1 3h0m8 2h0m1-6h0m11 0h0m-7 22h0m-4-3h0m-6 5h0m0-7h0m-3 0h0m-1-8h0m-1 12h0m-2 2h0m-1-4h0m0 0h0m-15 7h0m0-1h0m-2-8h0m-1-1h0m0-7h0m-2 2h0m-1 7h0m0-9h0m-3 3h0m-2-2h0m-1 5h0m-1 3h0m0-3h0m-2 4h0m0 0h0m-1-8h0m0-2h0m-1 5h0m0-2h0m-3-4h0m0 17h0m-1-16h0m-4 4h0m0-2h0m-5 12h0m0-11h0m-1 14h0m-1-11h0m-3 4h0m0 5h0m-3 2h0m0-14h0m-1 6h0m0-10h0m-2 2h0m0 1h0m-2 6h0m-4 2h0m-1-6h0m0 2h0m-9-3h0m-1 9h0m-1-11h0m-4 8h0m-2-11h0m0 14h0m-1-7h0m-1-1h0m-3 1h0m-2 12h0m-1-10h0m0-9h0m-1 13h0m-5-13h0m-3 10h0m0-4h0m0 5h0m0-8h0m0 6h0m-2 10h0m-1-8h0m0-8h0m-1 4h0m0 0h0m-1 6h0m-1-10h0m-1 8h0m-2-1h0m-1 8h0m-1-4h0m-2-6h0m-1-5h0m-3 12h0m0-7h0m-1-8h0m-3 19h0m-1-8h0m0 2h0m-1-2h0m-1-9h0m-5 16h0m-3-13h0m0 6h0m-2 8h0m-1-2h0m-3 2h0m-1-6h0m-1-13h0m0 6h0m0-4h0m0-2h0m-3 11h0m-1-3h0m-1 8h0m-2-3h0m-1 5h0m0-11h0m-3-4h0m-1 8h0m-1-8h0m0 13h0m0 1h0m-2-2h0m-1-8h0m-3-5h0m-3 14h0m-1 1h0m-1 0h0m0-16h0m-1 8h0m-1 6h0m-4 3h0m-1-10h0m-2 6h0m-1-13h0m-8-1h0m-1 15h0m-1-7h0m-5-4h0m-7 11h0m-9-3h0m9 13h0m10 10h0m6-14h0m1 18h0m1-16h0m1-3h0m2 14h0m3-7h0m1 9h0m2-16h0m0 18h0m1-16h0m1 3h0m1-2h0m0 11h0m0-13h0m7 9h0m0-9h0m0 13h0m0-10h0m2 5h0m0-1h0m1-5h0m1-2h0m1 4h0m0 1h0m0-2h0m4 13h0m0-11h0m1 0h0m1 12h0m3-17h0m0 7h0m1 5h0m8-8h0m1 3h0m1 3h0m0-11h0m0 14h0m2-12h0m2-1h0m1 5h0m1 3h0m0-1h0m0-4h0m1 9h0m2-3h0m2 7h0m1 0h0m1-4h0m2 0h0m1 5h0m0 1h0m3-11h0m1 11h0m0-3h0m2 0h0m0-13h0m6 3h0m1 8h0m0-2h0m0-6h0m2 7h0m1 3h0m2-9h0m2 7h0m4 0h0m2-9h0m1 0h0m0 8h0m0 4h0m3-2h0m0-9h0m1-1h0m1 3h0m3 4h0m2-8h0m1 15h0m3-12h0m0 12h0m5 0h0m2-10h0m3 2h0m2 7h0m2 1h0m1-17h0m1 1h0m0 10h0m0 0h0m1 1h0m1 1h0m0-11h0m2-2h0m0 5h0m3-7h0m0 6h0m2-5h0m1 14h0m0 4h0m3-7h0m2 1h0m0-3h0m6 5h0m2 0h0m2-3h0m2 5h0m3-2h0m0 4h0m1-1h0m1-8h0m2 7h0m6 1h0m0-11h0m1-6h0m2 3h0m1 0h0m2 3h0m1-2h0m1 2h0m2 5h0m2 1h0m1-4h0m3 10h0m3-6h0m5-2h0m4 2h0m-4 16h0m0-6h0m-3 14h0m-1-4h0m-1 4h0m-3-9h0m-3 2h0m0 6h0m-3-16h0m-2 13h0m-3 5h0m-1-17h0m-1 17h0m-2-18h0m0 2h0m0 14h0m0-15h0m-1 9h0m-2 4h0m0-2h0m0 3h0m-1-6h0m0-4h0m-2 4h0m-1 6h0m-1-12h0m-4 8h0m-2-2h0m-2 9h0m-2-1h0m-1-12h0m-1 0h0m-1-5h0m-1 3h0m-3 10h0m-3-11h0m-1 16h0m-1-1h0m-1-4h0m0 0h0m0-8h0m-1 10h0m0-4h0m-3-9h0m-4 0h0m-5-2h0m-7 10h0m0 9h0m-2-19h0m0 10h0m0 3h0m0 5h0m-1-6h0m0-10h0m-4 1h0m0 6h0m-2 4h0m0 1h0m-1 0h0m-2-11h0m-3 6h0m-2 2h0m-1 1h0m-3 1h0m-2-1h0m0-1h0m-8-9h0m-3 0h0m-2 10h0m-1-8h0m-1 0h0m-1 0h0m0 13h0m-4-17h0m-1 18h0m0-5h0m-1 0h0m0-7h0m-1-4h0m-2 17h0m-2-10h0m-4 0h0m0-2h0m0 7h0m-1 1h0m0-6h0m-2 4h0m-2-3h0m-2 3h0m0-7h0m-2 1h0m-1-3h0m-2-1h0m0-1h0m-1 4h0m0 12h0m-5-13h0m-6-3h0m0 7h0m0 4h0m-1-12h0m-1 0h0m-1 7h0m-1-7h0m-2 1h0m0 4h0m-12-5h0m-4 11h0m-20-7h0m36 21h0m6-3h0m2 7h0m4-1h0m4-1h0m1 1h0m2-3h0m3 8h0m1-10h0m7 8h0m1 1h0m0-6h0m1 7h0m0 5h0m2-17h0m1 9h0m1 4h0m1-12h0m0 12h0m0-12h0m3 8h0m0-5h0m1 3h0m5 0h0m3 4h0m1 5h0m2-13h0m9 9h0m2 1h0m0-13h0m1 13h0m0-6h0m1 9h0m2-11h0m1 11h0m0-6h0m1 1h0m0-13h0m0 2h0m2 14h0m3-8h0m3 4h0m0-8h0m0 12h0m2-11h0m1 5h0m0-2h0m1 3h0m1-10h0m1 6h0m0 2h0m5 0h0m1 0h0m2-4h0m7 10h0m1-5h0m0 7h0m1 0h0m2-11h0m1 12h0m0-1h0m0-10h0m1 2h0m2-3h0m3-1h0m4 9h0m1 0h0m4-7h0m1-2h0m2-2h0m2 14h0m1 0h0m1 0h0m1-6h0m3 6h0m3-8h0m1-2h0m0-5h0m3 5h0m9-7h0m-19 37h0m-3-1h0m-2-12h0m-2-2h0m-6 10h0m-2-10h0m-1 10h0m-3-8h0m-2 5h0m-2 6h0m-1-13h0m-1-1h0m-1 18h0m-1-9h0m-10 6h0m-1-9h0m-1 1h0m0-2h0m-1 12h0m0-5h0m-1 3h0m0-16h0m-1 7h0m0 2h0m-2 1h0m-1-9h0m-5-1h0m0 2h0m-3 13h0m0-15h0m0 18h0m-1-15h0m-2 15h0m-4-1h0m0-9h0m-1 3h0m0 2h0m0-9h0m-2 3h0m-3-1h0m-1 1h0m0-6h0m-4 12h0m-4-2h0m-5-6h0m-1 9h0m-1 2h0m-3-10h0m-3-2h0m-1-2h0m-2 9h0m-2-8h0m-2-3h0m-5 4h0m-5-1h0m11 21h0m18-4h0m2 14h0m17-13h0m8 3h0m0 10h0m1-12h0m2 2h0m1-4h0m2 7h0m0 4h0m10-10h0m6 6h0m2-4h0m0 0h0m10 0h0m1 9h0m-32 8h0" stroke="#9b6bc8" stroke-width="5.2" stroke-linecap="round" fill="none"/>
<path transform="scale(0.5)" d="M932 2296h0m6-15h0m1 16h0m1-8h0m1 8h0m12-5h0m0 3h0m4-1h0m7 5h0m18-5h0m2 1h0m22 21h0m-5-1h0m-1-2h0m-10 6h0m-13-19h0m-4 3h0m-1 11h0m0 1h0m-1-4h0m-1 3h0m0 0h0m0-11h0m-2 9h0m0-8h0m-2 13h0m0-6h0m-1-10h0m-1 16h0m0-5h0m-1 7h0m-1-13h0m0 9h0m-1-6h0m-5-9h0m-2 2h0m0 8h0m-8-6h0m-4-3h0m-3 11h0m-8-6h0m-6 2h0m24 17h0m2 4h0m6-4h0m0-5h0m2 7h0m1 6h0m1-13h0m4 12h0m1-7h0m0 8h0m1-12h0m4 6h0m1-4h0m2 6h0m0 10h0m0-6h0m4-11h0m0 0h0m0 11h0m1-1h0m2-12h0m1 16h0m1-1h0m1-7h0m1 3h0m1 7h0m0-9h0m1 0h0m1 5h0m1-12h0m1 17h0m1-6h0m1-4h0m0-5h0m1 7h0m0-4h0m1-7h0m1 19h0m1 0h0m2-4h0m1-15h0m0 8h0m1 2h0m0 6h0m6 0h0m13 1h0m93 13h0m-10 9h0m-4-2h0m-1-3h0m-2-1h0m0 1h0m-3 1h0m-7-2h0m-14 2h0m-4-12h0m-9 15h0m-4 1h0m-5-3h0m-6-7h0m-1 2h0m-2 8h0m-1-8h0m-5 1h0m-5 4h0m-1-7h0m-1 1h0m-3 3h0m-1-10h0m-3 4h0m0-4h0m-2 11h0m-5-12h0m-1 11h0m-1 1h0m0 3h0m0-4h0m-1 4h0m0-10h0m-1-3h0m0 9h0m-1-13h0m0 14h0m-1 5h0m-1-11h0m0 1h0m0-9h0m0 6h0m-3 11h0m0-13h0m-1 3h0m0 1h0m-2 3h0m-1-9h0m-1 14h0m0-2h0m0-1h0m-1 3h0m0-6h0m0-2h0m-1 8h0m-2-11h0m0-5h0m-1 2h0m-1 5h0m-3 2h0m-3-9h0m-5 5h0m-2-5h0m-6 3h0m0 0h0m-13-3h0m25 20h0m8 2h0m4 10h0m0-4h0m5 6h0m1-11h0m3 13h0m0-16h0m1 10h0m0-1h0m11-2h0m2-5h0m2 11h0m2-8h0m0 3h0m0 1h0m5-6h0m1 14h0m0-13h0m1 11h0m0-14h0m2 16h0m2 1h0m0-16h0m1 1h0m1 5h0m0 11h0m3-18h0m5 10h0m0 2h0m1-10h0m2-2h0m1 15h0m0-1h0m1-4h0m3 6h0m0-5h0m5-7h0m3 5h0m0 1h0m1 6h0m0-9h0m1 0h0m0 3h0m1 0h0m0-8h0m1 13h0m0-2h0m1 2h0m1-8h0m1 10h0m2-6h0m1 3h0m1-11h0m1 8h0m0-10h0m1 13h0m0 2h0m0-2h0m1-4h0m4-1h0m1-10h0m0 11h0m1-4h0m2 9h0m0-14h0m0 1h0m0 10h0m1-13h0m0 18h0m1-4h0m0 2h0m1-5h0m2-3h0m0-4h0m4 5h0m0-4h0m1-2h0m1 2h0m1 7h0m2-2h0m0 4h0m1-5h0m0-6h0m0 0h0m0-3h0m1 12h0m1-8h0m1-1h0m2 3h0m4 5h0m1-1h0m13 4h0m-8 23h0m-1-14h0m-1 16h0m-2-19h0m0 14h0m-2-2h0m-1 0h0m-1-3h0m-1-9h0m0 8h0m-1 7h0m-1-12h0m-1 12h0m-2-4h0m-1 7h0m-1-15h0m-2 16h0m-3-2h0m-1-4h0m-1 6h0m-1-12h0m0-5h0m-2 10h0m0 2h0m-1 1h0m-4-8h0m-1 11h0m0-15h0m0-2h0m0 4h0m-1-1h0m-4 7h0m-1-3h0m0-6h0m-1 13h0m0 1h0m-1-5h0m0 5h0m-1-14h0m0-2h0m-2 4h0m-1 1h0m0 1h0m-1 2h0m0 4h0m-2-5h0m0 2h0m-1-4h0m-2 13h0m-1-5h0m-3-10h0m0-3h0m-6 5h0m0-5h0m-1 16h0m0-4h0m-2 0h0m-2-3h0m0 9h0m-2-3h0m0-10h0m-1-2h0m-1 3h0m0 7h0m-1-8h0m0 9h0m-2 2h0m-2-16h0m0 11h0m-2-7h0m0 12h0m-8-12h0m-1 8h0m-1-8h0m-1-3h0m-9 15h0m0-12h0m-1 11h0m-5-15h0m-7 2h0m17 18h0m9 1h0m6-1h0m2 6h0m0 12h0m2-10h0m0-6h0m4 0h0m0 10h0m1 0h0m0-2h0m3-2h0m1 2h0m1 4h0m0-12h0m5 10h0m0 2h0m0-9h0m1 9h0m0-14h0m1 10h0m1-8h0m1 1h0m0 8h0m0 0h0m0-8h0m2 2h0m0-3h0m0 3h0m0-3h0m2 12h0m0 3h0m1-15h0m1 5h0m6 11h0m3-5h0m4-3h0m0-5h0m1 13h0m1 1h0m1 0h0m0-10h0m1 10h0m1-5h0m2 0h0m0 1h0m1-12h0m2 10h0m2 5h0m1-13h0m1 1h0m0 8h0m0-8h0m3-3h0m0-1h0m0 17h0m1-16h0m2 12h0m0-8h0m1 4h0m0-8h0m2 15h0m1-12h0m1 11h0m0-14h0m3 4h0m2 5h0m2 1h0m5-9h0m6 2h0m1 12h0m0-12h0m1-1h0m1 0h0m1 2h0m1-2h0m4 12h0m8-3h0m3 5h0m1-13h0m21 29h0m-9 1h0m-6-13h0m-2 6h0m0 10h0m-1-1h0m0-10h0m-1 11h0m-4-8h0m-1 4h0m-1-13h0m-1 16h0m0-2h0m0-10h0m-1 13h0m-1-15h0m-1-2h0m-2 8h0m-1 8h0m-3-1h0m-1-2h0m0 4h0m-1-2h0m0-4h0m-5-5h0m-1 4h0m-1-7h0m0 8h0m-1-12h0m-1 17h0m0 0h0m0 1h0m-1-18h0m0 13h0m-1-1h0m-1-4h0m0-8h0m-2 7h0m-1-2h0m0 12h0m-1-11h0m-1-7h0m0 1h0m-1 4h0m-2 1h0m-1 8h0m-1 5h0m0-7h0m-1-1h0m-1-10h0m-2 13h0m0-14h0m0 13h0m0 5h0m-4-4h0m-1-6h0m0 7h0m-3-15h0m-2 6h0m0 8h0m0-5h0m-1 5h0m0-3h0m-2-6h0m-2-1h0m-2 11h0m-1-12h0m0 5h0m0-5h0m-3-1h0m0 4h0m-1-4h0m-2 12h0m0-2h0m-2-5h0m-1-3h0m-5 7h0m-3-6h0m0 12h0m-6-6h0m0-5h0m-2 4h0m-2-5h0m-2-2h0m13 17h0m6 0h0m6 3h0m0-3h0m6 3h0m1-2h0m0 1h0m2 13h0m0-9h0m2-5h0m3 2h0m7-2h0m1 7h0m1 2h0m2-10h0m0 3h0m0 4h0m1 11h0m1-8h0m1 9h0m0-12h0m1-7h0m1 12h0m0-12h0m2 4h0m0-4h0m1 8h0m2-8h0m0 8h0m1-8h0m1 6h0m0-6h0m1 18h0m2 1h0m1-9h0m0-1h0m0-2h0m1 2h0m1-3h0m3-6h0m2 12h0m0 7h0m0-15h0m2 5h0m0-1h0m0-6h0m0 6h0m2 11h0m0 0h0m2-19h0m2 7h0m1-5h0m1 0h0m0 5h0m0 3h0m4 8h0m1-6h0m1-3h0m0 1h0m2 4h0m1-1h0m2 4h0m1-5h0m3 7h0m2-10h0m0 6h0m1-2h0m2-2h0m0-7h0m0 5h0m0 1h0m3-1h0m0-8h0m0 1h0m2 10h0m0 0h0m0 0h0m1 5h0m1-2h0m0 1h0m1 3h0m0-5h0m2-1h0m1-12h0m1 13h0m5-13h0m7 17h0m3 1h0m3-2h0m0 1h0m11 8h0m-5 10h0m0-13h0m-7 13h0m-3 0h0m-1-5h0m0-3h0m0-8h0m-1 12h0m-2-2h0m-1 4h0m0 3h0m0-4h0m-1-8h0m0 1h0m-1 13h0m-1-13h0m-2 10h0m-1-7h0m-2-2h0m-1 10h0m-1-6h0m0 7h0m0-5h0m-2-7h0m-1 7h0m-1-11h0m-4 7h0m0 5h0m-1 3h0m0-13h0m-2 2h0m-3 1h0m-1 2h0m0-2h0m-2-4h0m-3 12h0m-3 0h0m-2-6h0m0 7h0m-1-6h0m0 8h0m-1-2h0m-9 1h0m0-14h0m-3 11h0m-3-7h0m-3-3h0m-1 2h0m-3-5h0m11 33h0m10-9h0m6 3h0m12-7h0m3 0h0m5 0h0m0 7h0m1-1h0m2-5h0m0 17h0m4-18h0m0 3h0m0 1h0m4 2h0m7-1h0m9-3h0m2 10h0m0-8h0m-33 15h0" stroke="#8c564b" stroke-width="5.2" stroke-linecap="round" fill="none"/>
<path transform="scale(0.5)" d="M1049 2259h0m10 4h0m-2 16h0m-8-7h0m-2 6h0m-1 0h0m0-11h0m-2 5h0m-4-2h0m0 6h0m0-12h0m-1 13h0m-2-17h0m0 11h0m-10-3h0m0 11h0m-4-13h0m1 28h0m6 0h0m3-8h0m1-5h0m1 5h0m1-6h0m2 1h0m0 0h0m4 13h0m0-7h0m3 3h0m6-10h0m0 22h0" stroke="#8c564b" stroke-width="5.2" stroke-linecap="round" fill="none"/>
<path transform="scale(0.5)" d="M1041 2457h0m25-6h0m9 1h0m5 4h0m0 13h0m-10-6h0m-3 11h0m-1-4h0m-1-10h0m-5 18h0m-1-17h0m-1 5h0m-1 7h0m-2-13h0m0 11h0m0 8h0m-1-2h0m0-12h0m-3 5h0m-1-1h0m-2 9h0m-1-18h0m-1 7h0m-4-1h0m-1 2h0m-7 29h0m9-4h0m1-10h0m6 2h0m2 3h0m1 3h0m4-6h0m5-5h0m10 16h0m1 0h0m1-4h0m2-6h0m4 17h0m0 2h0m-1 7h0m-1-6h0m-1 12h0m-2-5h0m-4-4h0m-1-5h0m-1-2h0m-4-1h0m-1 12h0m0-13h0m-10 16h0m-7-14h0m-1 15h0m-7-16h0m-8 4h0m0 6h0m7 19h0m18-6h0m4-3h0m22 2h0m4-3h0" stroke="#8c564b" stroke-width="5.2" stroke-linecap="round" fill="none"/>
<path transform="scale(0.5)" d="M1253 2478h0m-33-3h0m-8-3h0m-7 5h0m-1 2h0m-24 20h0m4-3h0m1 2h0m5-13h0m8 9h0m1-13h0m2 0h0m3-1h0m0 16h0m1-8h0m2 3h0m1-4h0m3 12h0m1-14h0m2 6h0m1-3h0m0 2h0m2 0h0m2 2h0m0-12h0m1 18h0m2-10h0m3 11h0m2-6h0m0 2h0m3-4h0m1-1h0m0 2h0m3-7h0m3 1h0m5-2h0m4 15h0m0-13h0m2 8h0m0-3h0m6 22h0m-12-8h0m-3 3h0m-3 2h0m-1 9h0m-1-3h0m0-16h0m-1 9h0m0-4h0m0 5h0m-1-8h0m0 5h0m-2-6h0m-1 2h0m-4 6h0m0-9h0m0 4h0m-1 10h0m0-8h0m-2 3h0m-1 5h0m-1-13h0m0 10h0m-4-9h0m-3 6h0m0 0h0m-1 10h0m-2-4h0m0-2h0m-4-5h0m-1 11h0m-1-15h0m-1 5h0m0 4h0m-1 0h0m-1-2h0m-1 3h0m0-2h0m-3 0h0m-1-10h0m0 5h0m-2-2h0m-1 11h0m-2-11h0m-3 8h0m-1-9h0m-3 12h0m0-4h0m-1 8h0m0 0h0m-1-10h0m-2-3h0m0 13h0m-1-9h0m-1 0h0m-4 4h0m-1-5h0m-1 2h0m0 0h0m-9-8h0m-2 0h0m-25 32h0m8-5h0m1 5h0m8 2h0m6-4h0m0-6h0m1 5h0m0 7h0m5-15h0m0 14h0m1-8h0m0-1h0m1-2h0m0 4h0m4-9h0m1 9h0m6 8h0m1-15h0m1 11h0m0-14h0m3 3h0m1 12h0m0-6h0m0-4h0m0 10h0m3-4h0m2 5h0m0-8h0m5-1h0m1-8h0m1 17h0m0-6h0m6 5h0m0-15h0m1 16h0m0 1h0m2-17h0m1 13h0m0 4h0m2-5h0m0-5h0m4-1h0m0-6h0m1 7h0m3 8h0m2-3h0m0-5h0m0 8h0m1-3h0m1 6h0m2-12h0m1 12h0m6-5h0m1-1h0m0-9h0m0 3h0m2 5h0m1-6h0m2 2h0m1-1h0m2-4h0m1 3h0m0-2h0m0 4h0m1 0h0m3-8h0m3 14h0m5 1h0m1-5h0m10 5h0m-6 13h0m0 0h0m-1-4h0m-3-2h0m-1 8h0m-1 2h0m-4 0h0m-2 6h0m0-4h0m-3-7h0m0 5h0m0-12h0m-1 10h0m0 2h0m-1-8h0m0 11h0m0 4h0m0-13h0m-4 5h0m-1 4h0m0 1h0m-1-13h0m-2-1h0m-3 7h0m-2 6h0m0-2h0m-3-7h0m-5 10h0m-1-7h0m0-9h0m-2 12h0m-1-3h0m0 8h0m-1-5h0m-2 3h0m0-3h0m-1 3h0m0 3h0m-1-18h0m-1 1h0m0 16h0m-1 1h0m-1-17h0m-3 1h0m-2 14h0m0-10h0m-3-3h0m0 4h0m-5 7h0m0-12h0m0 16h0m-2-8h0m-3-5h0m-2 9h0m-2 3h0m-1-15h0m-1 17h0m-1-15h0m-1 15h0m-1-4h0m-1-14h0m-1 2h0m0 13h0m-1 1h0m-1 0h0m-4-4h0m-1-6h0m-1 11h0m-2-9h0m0-8h0m0 11h0m-1 6h0m0-18h0m-1 14h0m0-3h0m-1-2h0m-2-3h0m0 7h0m-2 1h0m-2-14h0m0 0h0m-2 3h0m-3-2h0m-1 3h0m-5 7h0m-2-1h0m-1-9h0m-3 5h0m-1-3h0m0 3h0m-3 8h0m-5-3h0m-2 8h0m-1-7h0m-1 7h0m-2-13h0m-3 3h0m-8 8h0m-9 19h0m0-4h0m1 7h0m7-4h0m8 2h0m1-5h0m3 7h0m0-4h0m9-9h0m1 3h0m1 2h0m2-8h0m0 3h0m2 2h0m1 1h0m2 2h0m2 4h0m1-12h0m2 1h0m1 10h0m0 4h0m2-14h0m0 0h0m1 2h0m1 0h0m1 1h0m1-5h0m1 15h0m5-15h0m0 6h0m1-1h0m0-6h0m4 11h0m0 6h0m0-17h0m1 4h0m1 11h0m1 1h0m0-4h0m1-13h0m2 16h0m2-7h0m1 2h0m1 5h0m0-4h0m0-2h0m4 0h0m2-6h0m0 5h0m2-9h0m1 16h0m3-12h0m1 9h0m1-4h0m2 1h0m0 8h0m3-17h0m2 17h0m0-6h0m1-9h0m1 1h0m0 7h0m0-2h0m2-5h0m2 15h0m1-10h0m2 8h0m5-1h0m0 1h0m2-16h0m0 11h0m3-7h0m0 2h0m1-4h0m1 14h0m0-2h0m2-1h0m1 0h0m2-1h0m0-3h0m1-9h0m5 15h0m1 2h0m0-9h0m0 7h0m3 2h0m2-9h0m1 0h0m1-5h0m1 7h0m1-10h0m1 0h0m1 6h0m1-2h0m2 10h0m5-4h0m4-7h0m4 7h0m2 5h0m-5 12h0m0 4h0m-4 7h0m-4-12h0m-1 9h0m-2-4h0m-2-12h0m-3 6h0m0-6h0m-4 10h0m0 9h0m-1-14h0m-5 5h0m-6 2h0m0-7h0m-1 7h0m0-5h0m-1 10h0m0-17h0m-1 16h0m0-6h0m-1 0h0m0-1h0m0 7h0m-1-12h0m0-4h0m-2 19h0m0-5h0m-3-4h0m-1-3h0m-1 0h0m0-4h0m-3-3h0m-5 12h0m-5-8h0m0 6h0m-1-2h0m-1-8h0m-2 6h0m0 7h0m-2-9h0m-3 6h0m-1-10h0m0 6h0m0 11h0m-3-5h0m-1 6h0m-3-1h0m-2-13h0m0 12h0m0-12h0m0-1h0m-2 15h0m0-16h0m-1 17h0m0-7h0m-10-3h0m0-1h0m0 0h0m-1 7h0m0-10h0m0-2h0m-2 9h0m-2-7h0m-1 3h0m-1-7h0m-1 12h0m-2-5h0m-1-6h0m-1 6h0m0 0h0m0 5h0m-2-8h0m-1-2h0m0 9h0m0-11h0m-7 17h0m-3-6h0m0-5h0m-7 8h0m0 4h0m0-13h0m-5 12h0m-1-7h0m-2-4h0m0-1h0m-3 0h0m-4 7h0m-1 1h0m0 5h0m-2-4h0m0-11h0m0 5h0m-1-1h0m-1 2h0m-1 5h0m-2-5h0m-1-1h0m-4-8h0m-4 16h0m-5 1h0m-2-12h0m0 23h0m2 10h0m1-1h0m1-18h0m2 13h0m1-1h0m2 2h0m0-10h0m2 7h0m0 4h0m0-3h0m1-2h0m2 6h0m2-16h0m3 15h0m2-4h0m0 3h0m3-7h0m2-3h0m0-4h0m4 6h0m1-6h0m4 11h0m1-1h0m1 8h0m1-4h0m1-6h0m0-2h0m1-2h0m2 2h0m0 3h0m0 10h0m4-18h0m1 6h0m0 12h0m0-6h0m0-11h0m1 15h0m1 0h0m1 0h0m2-2h0m0-12h0m2 11h0m2-5h0m1 7h0m3-1h0m0-6h0m0 1h0m0 5h0m1 1h0m1-16h0m3 16h0m5 3h0m3-1h0m1-4h0m3-3h0m2 4h0m1-12h0m2 13h0m2-16h0m2 0h0m0 18h0m1-14h0m0 13h0m1-17h0m2 11h0m2 5h0m0-11h0m3 11h0m0-11h0m2 7h0m0 5h0m5-4h0m0 0h0m5-2h0m2-11h0m0 17h0m1-1h0m1-1h0m3 0h0m0 0h0m2-10h0m1-4h0m3 5h0m0-4h0m0 2h0m1 1h0m1 13h0m2-3h0m0-8h0m3 7h0m2 0h0m1-2h0m2-1h0m4 8h0m1-9h0m0 9h0m2-10h0m5-2h0m1 0h0m0 3h0m1 5h0m5-9h0m5 11h0m2-3h0m-14 6h0m-3 11h0m-3 1h0m-1-10h0m-1 4h0m0 9h0m-3-15h0m-3 3h0m-1 10h0m-1 4h0m-6-12h0m-1 10h0m0-12h0m-1 9h0m-1-6h0m0 8h0m-2 2h0m0-15h0m-1 9h0m-7 2h0m-3-2h0m-1 9h0m-1-14h0m-2 7h0m-3 6h0m0-7h0m-1-1h0m-1 4h0m-1 5h0m-1-6h0m-1 0h0m-1-9h0m0 0h0m0 7h0m0 5h0m-3 0h0m-2-3h0m-2-2h0m-1-9h0m-1 17h0m-1-13h0m-1 9h0m-2 4h0m-1-2h0m0-3h0m0 5h0m-2-17h0m-2 16h0m-1-3h0m-2-8h0m-3-4h0m0 3h0m-3 2h0m0-6h0m-2 16h0m-1-11h0m-1 9h0m-1-3h0m-3 1h0m-1-14h0m0 8h0m-1 1h0m-1 0h0m-1 1h0m0 5h0m0-5h0m0 7h0m-1-2h0m-1 4h0m-1-10h0m-1-8h0m0 0h0m-1 15h0m-1-5h0m-4 2h0m-3-2h0m0 4h0m-3-1h0m-1-11h0m-1-3h0m-3 15h0m0 3h0m0-4h0m0-2h0m-2-12h0m-1 12h0m-3 0h0m0 0h0m0-11h0m-1 7h0m-2 5h0m-2 4h0m-2-11h0m-2 12h0m-2 1h0m-2-5h0m-1-2h0m-3-12h0m-12 1h0m8 30h0m1 8h0m0-4h0m1-11h0m2-3h0m0 3h0m2 13h0m0-17h0m3 5h0m1 2h0m0 12h0m1-2h0m7-17h0m0 4h0m1 8h0m0 6h0m1-7h0m1 8h0m0-10h0m1-4h0m0-3h0m1 6h0m2 4h0m1-5h0m4 4h0m1-3h0m2 4h0m1 6h0m2-2h0m0 0h0m1 3h0m1-7h0m0 4h0m3-6h0m1 3h0m2-8h0m0-5h0m2 12h0m1-11h0m1 7h0m2 6h0m0-10h0m1 0h0m0-3h0m1 17h0m0-1h0m1-9h0m1 5h0m0-7h0m1 6h0m6-3h0m1-6h0m1 16h0m0-8h0m4-6h0m1 7h0m3 0h0m0-9h0m4 2h0m0 10h0m1 2h0m0-9h0m0-4h0m1-3h0m4 14h0m0-4h0m1-10h0m0 6h0m1-5h0m2 1h0m0 16h0m0-17h0m2 16h0m0-13h0m2 4h0m0-9h0m2 8h0m2 1h0m0 4h0m1-7h0m0 6h0m1-3h0m0 6h0m4-15h0m0 16h0m0-9h0m1 3h0m3 1h0m4 6h0m0-12h0m0 11h0m1 3h0m3-11h0m5 8h0m1-8h0m4-7h0m3 15h0m1-15h0m1 1h0m1 14h0m0-12h0m0 6h0m2-5h0m3-3h0m3-2h0m3 30h0m-14 7h0m0-5h0m-1 0h0m-2-1h0m-2 8h0m-1-15h0m0 2h0m-1-2h0m-2 7h0m-5 7h0m-1-3h0m0-1h0m-1-3h0m-1 1h0m-1 2h0m-2-3h0m0-4h0m-2 0h0m-2 9h0m-2-7h0m-4-2h0m0 12h0m-3-4h0m0 2h0m-5-10h0m-4 2h0m-1 9h0m-1-16h0m-4 4h0m-1-3h0m-2 8h0m0-8h0m-1 7h0m-2 8h0m-1-17h0m-2 9h0m-4 0h0m0-4h0m0 12h0m-2-17h0m-3 4h0m0 2h0m0 5h0m-5-10h0m-3 17h0m0-14h0m-3-1h0m-5 1h0m-1-4h0m-1 6h0m-1-3h0m-2 14h0m0-4h0m0 4h0m-1-4h0m-1-3h0m0 6h0m-3-8h0m0 5h0m-1-12h0m-1 4h0m-2 10h0m-1-6h0m-2 2h0m-2 5h0m0-8h0m0-7h0m0 7h0m-1 6h0m-1 3h0m0-8h0m-4-6h0m-2 2h0m0 8h0m-1-1h0m0-6h0m-1-7h0m-3 10h0m-1 8h0m-6-9h0m-1-3h0m-2 11h0m12 5h0m6 16h0m4-18h0m0 17h0m1-14h0m0 0h0m3-1h0m0 11h0m0-12h0m1 13h0m0-1h0m2 3h0m2-13h0m0 11h0m0-13h0m0 3h0m1 15h0m1-12h0m0 9h0m3-4h0m1 4h0m2-4h0m0-2h0m1-4h0m1 10h0m4-5h0m1 4h0m0-15h0m2 4h0m0 7h0m0 8h0m3-12h0m1 3h0m0 9h0m0-17h0m2 7h0m3 5h0m3-7h0m0-5h0m1 1h0m3 13h0m2 2h0m0-15h0m1 12h0m2-13h0m1 17h0m0-11h0m1 5h0m1 3h0m6-16h0m2 16h0m0-14h0m0 2h0m2 10h0m1-1h0m4-9h0m3 15h0m2-8h0m2-6h0m1 11h0m1-5h0m2 1h0m1 6h0m0-6h0m2-4h0m2 11h0m0-3h0m2 1h0m2-13h0m0 10h0m4 1h0m0-9h0m1 6h0m3-9h0m2 11h0m2-3h0m3 8h0m0-10h0m2 7h0m4 0h0m6-8h0m0 5h0m24-3h0m-9 20h0m-1-1h0m-5 7h0m-3-14h0m0 16h0m-2-18h0m-2 10h0m-1-10h0m0 16h0m-1-9h0m0-5h0m0 15h0m-2-17h0m-3 0h0m-1 17h0m-1-5h0m-2-1h0m-1 7h0m-1-16h0m0 9h0m-1 3h0m-1-13h0m-6 0h0m-5 1h0m-1 12h0m0-13h0m-1 4h0m-1 6h0m-3-4h0m-4-4h0m-7 1h0m-2-4h0m0 18h0m-1-3h0m0 2h0m-1 1h0m-1-11h0m-3 11h0m-2-14h0m-2 6h0m-2-5h0m-3 3h0m-1-2h0m0-2h0m0 10h0m-1 0h0m-2-5h0m-1-9h0m-1 12h0m-1 3h0m-7-2h0m-4-7h0m-1 0h0m-3-4h0m-4 2h0m-1 2h0m0-3h0m-1-3h0m-1 6h0m-1 1h0m-2 2h0m-1 9h0m0-5h0m-4-9h0m0-4h0m-1 13h0m-2 3h0m0-14h0m-6 2h0m0 1h0m-1 11h0m0-15h0m-1 5h0m0 12h0m-2-11h0m0-7h0m0 2h0m-4 4h0m0 2h0m0 4h0m-3-1h0m0 5h0m-1-11h0m-2-3h0m-1 11h0m-4-12h0m0 11h0m0-12h0m-1 6h0m0 3h0m-1-2h0m-1 3h0m-2 5h0m0-10h0m-4 8h0m-2 2h0m-4-4h0m8 14h0m3 0h0m2 10h0m6-9h0m2 6h0m0 6h0m0-6h0m2-1h0m0-6h0m1 0h0m1 5h0m0 4h0m1-12h0m0 13h0m0-1h0m0-14h0m2 12h0m3 3h0m3-1h0m2 5h0m2-14h0m2 5h0m2-9h0m0 13h0m1-8h0m1 8h0m2-5h0m1-8h0m2 1h0m0 10h0m1-4h0m2-6h0m1 13h0m1 3h0m0-17h0m1 11h0m2-6h0m2 11h0m1-3h0m2 3h0m5 0h0m1-9h0m0 1h0m1 10h0m1-5h0m1-13h0m2 18h0m1-15h0m3 3h0m2 6h0m0 0h0m0-13h0m3 18h0m0-2h0m0-14h0m1 3h0m1-3h0m0-1h0m2 2h0m2-3h0m2 15h0m1-15h0m0 10h0m0 8h0m0-8h0m2 9h0m1-7h0m0 5h0m4-13h0m0 3h0m2 2h0m4 6h0m5 4h0m1-6h0m1-3h0m0 6h0m1-9h0m3 2h0m0 2h0m1-6h0m1 11h0m1-10h0m1-2h0m2 8h0m0 0h0m1 3h0m2 2h0m1-1h0m0 2h0m1 0h0m0-1h0m1 0h0m1-11h0m0-5h0m0 5h0m1 3h0m3-9h0m1 12h0m4 3h0m2-9h0m0-2h0m1 0h0m1 3h0m1 2h0m1 10h0m1-6h0m1 4h0m1-13h0m4 0h0m3 7h0m7 5h0m12 20h0m-9 3h0m-5-17h0m-1 16h0m-1-5h0m-5 2h0m-1-9h0m-1 10h0m-5-3h0m-4 5h0m0-9h0m0-2h0m0-4h0m-1 6h0m-1 1h0m-2-8h0m0 14h0m0 3h0m-1-8h0m0-1h0m-1 3h0m-1 6h0m0-1h0m-1-14h0m-1 6h0m0 7h0m-2-8h0m-1 0h0m0 2h0m0-9h0m-1 8h0m-2 0h0m-1-10h0m-1 15h0m0-6h0m-1-5h0m0 0h0m-2 7h0m-2 0h0m-3-2h0m0 10h0m-1-9h0m-2 2h0m-1 6h0m0-2h0m-3-12h0m-1 0h0m-1 13h0m0-15h0m-1 0h0m0 14h0m-2-4h0m0-3h0m-2-8h0m-2 10h0m-1-6h0m-1 5h0m-2 7h0m-1-7h0m-2 6h0m-1-12h0m-3 15h0m0-17h0m-1 16h0m-1-12h0m-8-4h0m0 5h0m-2-4h0m-1 14h0m-1-16h0m-1 13h0m0-1h0m-2-3h0m-1 7h0m-1 2h0m-3-4h0m-2-14h0m-1 3h0m0 12h0m-1-15h0m-5 7h0m-1-1h0m0 6h0m-1-5h0m-4 5h0m-2-12h0m-3 14h0m-3-7h0m-2 0h0m-1 1h0m-4-4h0m-18-4h0m-6 5h0m-24-5h0m47 21h0m25-1h0m16 2h0m0 5h0m5 5h0m2-6h0m4 6h0m6-4h0m0 5h0m0-3h0m2-8h0m0 13h0m1-3h0m5-3h0m5 3h0m2-5h0m0 7h0m4-15h0m10 11h0m1-1h0m0-5h0m2 3h0m0 2h0m0-4h0m1-3h0m1 8h0m1 5h0m6-3h0m4-4h0m1-4h0m2 3h0m1 9h0m1-11h0m1 13h0m0-7h0m1-4h0m4 0h0m2 6h0m1-9h0m0-3h0m0 15h0m3 1h0m8-17h0m-16 20h0m-3 1h0m-2 0h0m-8 1h0m-1 0h0m-8 1h0m-6 0h0m-23 0h0m-16-1h0m-24 1h0" stroke="#f5882a" stroke-width="5.2" stroke-linecap="round" fill="none"/>
<text x="469.4" y="1136.1" font-size="24">Rim</text>
<text x="662.1" y="1169.2" font-size="24">Dis</text>
<text x="433.1" y="1229.1" font-size="24">Phago</text>
<text x="686.2" y="1242.8" font-size="24">CA</text>
<text x="695.7" y="1351" font-size="24">Trans</text>
<text x="449.5" y="1394" font-size="24">Homeo1</text>
<text x="631.6" y="1388.8" font-size="24">Homeo2</text>
<path d="M492.9 1138.8L496.1 1155.4" stroke="#000" stroke-width="1.4" fill="none"/>
<path d="M497.1 1160.8L493.3 1154.9L498.4 1153.9Z" fill="#000"/>
<path d="M660 1161.5L635 1161.5" stroke="#000" stroke-width="1.4" fill="none"/>
<path d="M629.5 1161.5L636 1158.9L636 1164.1Z" fill="#000"/>
<path d="M494 1231.2L510.3 1250.1" stroke="#000" stroke-width="1.4" fill="none"/>
<path d="M513.9 1254.3L507.7 1251.1L511.6 1247.7Z" fill="#000"/>
<path d="M688.3 1226L673.5 1212.9" stroke="#000" stroke-width="1.4" fill="none"/>
<path d="M669.4 1209.2L676 1211.6L672.5 1215.5Z" fill="#000"/>
<path d="M710.4 1331L691.8 1308" stroke="#000" stroke-width="1.4" fill="none"/>
<path d="M688.3 1303.7L694.4 1307.1L690.4 1310.4Z" fill="#000"/>
<path d="M490.8 1378.3L503.8 1356.7" stroke="#000" stroke-width="1.4" fill="none"/>
<path d="M506.6 1352L505.5 1358.9L501 1356.2Z" fill="#000"/>
<path d="M632.6 1370.9L619.8 1359" stroke="#000" stroke-width="1.4" fill="none"/>
<path d="M615.8 1355.2L622.3 1357.7L618.8 1361.5Z" fill="#000"/>
<path d="M417.1 1354.8V1421.8H485.6" stroke="#111" stroke-width="1.6" fill="none"/>
<path d="M417.1 1352.4l-1.8 3.4h3.6zM488 1421.8l-3.4 -1.8v3.6z" fill="#111"/>
<text x="414.5" y="1438.7" font-size="19.8">UMAP2</text>
<text transform="translate(412.9 1421.8) rotate(-90)" font-size="19.8">UMAP1</text>
</g>
<g id="umap_d">
<path transform="scale(0.5)" d="M1151 3258h0m8-3h0m1 3h0m4-4h0m0 5h0m1-5h0m4 2h0m2-3h0m11 14h0m-9-4h0m-2 10h0m-1-13h0m0 7h0m-3 6h0m-1-11h0m-1 9h0m-4 1h0m-2-7h0m-1 7h0m-2-5h0m-2 11h0m-10-11h0m-15 6h0m-4 2h0m-18 16h0m3 7h0m0-12h0m9 7h0m1-11h0m2 8h0m0 8h0m0-18h0m2 4h0m5 1h0m2 3h0m3 0h0m9-4h0m2-4h0m5 11h0m2 0h0m3 6h0m0-7h0m3-10h0m6 6h0m3 4h0m2-8h0m3 3h0m0 11h0m0-4h0m4-6h0m0 1h0m1 11h0m4-18h0m0 2h0m1 8h0m2 5h0m1-14h0m1 7h0m3-7h0m2 6h0m-6 32h0m-3-1h0m-1-11h0m-1 4h0m-5 2h0m-3-5h0m-2 10h0m-1-6h0m-1 6h0m0-4h0m-4-9h0m-1 10h0m-4-13h0m0 17h0m-3-18h0m-1 4h0m0 0h0m-4 2h0m-2 3h0m-1 2h0m-4-5h0m-3 8h0m0-9h0m-2 11h0m0-2h0m-1-7h0m-3 3h0m-1-3h0m-3-6h0m-3 3h0m-5 8h0m-1-10h0m-1 16h0m-4-17h0m-6 5h0m-4 5h0m-8 10h0m4 6h0m3-5h0m3-2h0m5 18h0m4-14h0m2 8h0m3-10h0m0 12h0m3 3h0m3-16h0m1 0h0m0 2h0m3 11h0m2 0h0m3-10h0m7-1h0m10 9h0m5-2h0m2-7h0m3 9h0m2-6h0m7 1h0m5 7h0m1-6h0m2-8h0m5 1h0m-25 21h0m-2 6h0m-6-8h0m-8 8h0m-6-2h0m-8-5h0m-5-1h0" stroke="#9b6bc8" stroke-width="12.4" stroke-linecap="round" fill="none"/>
<path transform="scale(0.5)" d="M1177 3396h0m-4 0h0m-1-7h0m-1-3h0m-2 8h0m-1-1h0m-1 3h0m0-8h0m-6 4h0m1 12h0m2 14h0m2-16h0m1 9h0m1-3h0m0 6h0m1-3h0m0 8h0m2 0h0m1-19h0m1 10h0m7-7h0m0 8h0m0-10h0m1 7h0m-2 22h0m-4-10h0m0 1h0m-1 15h0m-1-5h0m0-5h0m-6 1h0m-1-2h0m-12 4h0m9 24h0m4-5h0m1-7h0m1 10h0m1-6h0m3-3h0m2 3h0" stroke="#9b6bc8" stroke-width="12.4" stroke-linecap="round" fill="none"/>
<path transform="scale(0.5)" d="M1043 3256h0m7-1h0m3-3h0m1 5h0m1-4h0m2-2h0m0 8h0m2-6h0m0-1h0m9-5h0m0 7h0m2-1h0m0-2h0m3-1h0m2 7h0m9 0h0m2-3h0m0-4h0m2 9h0m16 17h0m-1-4h0m-6 6h0m-2-10h0m-3 4h0m-2 1h0m0-10h0m-1 3h0m-1 0h0m-4 3h0m-1-9h0m0 7h0m-1 4h0m-1-4h0m-1-4h0m-1 12h0m-1-7h0m-1-4h0m-2-1h0m-2 14h0m-1-3h0m0 0h0m-3-6h0m-1 5h0m-1-13h0m0 2h0m-1 1h0m0 0h0m0 12h0m0-15h0m-1 11h0m-1 0h0m-6-10h0m0 0h0m0 7h0m-1-3h0m-1 1h0m-2 6h0m-4-12h0m0 14h0m-1-5h0m0 7h0m-4-9h0m-2-7h0m-1 1h0m-1 14h0m-3-13h0m-2 17h0m0-5h0m-1 3h0m-1-4h0m-1-7h0m0 4h0m-1-6h0m-3 13h0m-8-2h0m-10 20h0m4-2h0m1-10h0m2 13h0m3-10h0m1-5h0m1 13h0m2-13h0m2 6h0m1 12h0m1-18h0m0 12h0m4-8h0m0 10h0m1-1h0m0 0h0m1-4h0m2 6h0m0-9h0m2 10h0m1-4h0m0 1h0m3 5h0m4-8h0m2-1h0m1 9h0m1-13h0m0 2h0m1-5h0m0 11h0m3-1h0m1 6h0m1-4h0m0-11h0m4 10h0m1-2h0m1-4h0m1 10h0m2-14h0m1 11h0m0-15h0m3 7h0m3 4h0m0 4h0m0 0h0m2-8h0m4 7h0m1-12h0m4 17h0m2-14h0m2 2h0m0 0h0m1 8h0m3-9h0m2 7h0m1-10h0m1 13h0m2-16h0m5 15h0m4 4h0m-5 11h0m-1 7h0m-1 1h0m0-2h0m-2-6h0m-1-10h0m-1 3h0m-1 5h0m0-2h0m-1-1h0m-11 6h0m-2 7h0m0-12h0m-1 9h0m-6-12h0m-7 0h0m-1 13h0m0 0h0m-1-1h0m0-7h0m-2 8h0m-1-8h0m-2-8h0m0 7h0m0-3h0m-2 3h0m0-2h0m0-1h0m-1-2h0m-2 7h0m0 9h0m-4 0h0m-2-8h0m0 8h0m0-16h0m-3 16h0m-1-18h0m0 17h0m0-14h0m0 16h0m-2-14h0m-4 2h0m-2 1h0m-1-3h0m-3 4h0m-1-6h0m-3 13h0m-1 1h0m-1-9h0m-3-7h0m-4 13h0m0-7h0m0-1h0m-2 8h0m-1-10h0m-1 15h0m0-18h0m-2 18h0m-1-1h0m-4-5h0m-4 3h0m-2-4h0m-3 6h0m-3 20h0m2-2h0m1-11h0m1 4h0m3 9h0m1-18h0m0 14h0m0-9h0m1 1h0m0-5h0m3 1h0m3 0h0m4 7h0m0-5h0m0-4h0m1 15h0m1 2h0m4-6h0m0 6h0m1-10h0m1-4h0m2 16h0m3-15h0m0 11h0m4-6h0m1 2h0m7 7h0m0-8h0m2 2h0m0-12h0m1 1h0m2 0h0m0 3h0m0-2h0m3 13h0m0-15h0m1 9h0m0-7h0m1 14h0m0-6h0m1 9h0m2-12h0m2 11h0m0-2h0m3-1h0m1-4h0m0-3h0m0-5h0m4 14h0m1-9h0m0 1h0m1 0h0m0 5h0m2 1h0m1-2h0m1-13h0m0 2h0m0 5h0m1 0h0m0 6h0m3-12h0m0 18h0m2-19h0m1 19h0m0-1h0m2-17h0m2 9h0m2-7h0m0 0h0m1 7h0m1-8h0m1 0h0m3 5h0m0 9h0m0-12h0m1 7h0m1-2h0m0 1h0m1-8h0m3 1h0m3 2h0m3-3h0m1 5h0m-12 16h0m-1 10h0m0-11h0m-4-2h0m-2 12h0m-1-8h0m-2 10h0m0-3h0m-4 7h0m-5-9h0m-1 2h0m-1-10h0m-1 16h0m0 0h0m-8-7h0m0-9h0m-1 17h0m0 0h0m-5-12h0m0 8h0m-2-3h0m0 5h0m-1 2h0m-2-5h0m-2-5h0m-4 11h0m-1-17h0m-1 14h0m-2 3h0m-1-9h0m-1 3h0m0-2h0m-3 4h0m0 2h0m-1-14h0m-4 7h0m0-5h0m-2 0h0m-1 1h0m-1 0h0m-1-3h0m-2 11h0m-1 5h0m-2-6h0m-1 4h0m-1-3h0m0-3h0m-1-1h0m-4-6h0m0 13h0m-3-11h0m-3 8h0m-3 5h0m-1-16h0m-1 2h0m0 14h0m-1-12h0m-1 5h0m-2 2h0m-1 4h0m0 0h0m-1-18h0m-2 5h0m0 5h0m0 5h0m0-5h0m-1 6h0m-1-12h0m-2 14h0m0-9h0m-5 3h0m-2 3h0m-4 17h0m1 7h0m0-7h0m2-2h0m1 4h0m0 2h0m2-9h0m0-1h0m3 8h0m0 5h0m2-12h0m0-4h0m2 2h0m0 10h0m3-7h0m2 5h0m1 0h0m1-12h0m1 15h0m1-12h0m2 3h0m0 2h0m2 8h0m2-5h0m2-7h0m2 12h0m0-14h0m1 12h0m0-3h0m1-7h0m1 8h0m0 4h0m1-6h0m1 6h0m4 1h0m2-18h0m4 17h0m0 1h0m1-10h0m0 1h0m1-5h0m0 6h0m1 5h0m2-1h0m1-7h0m1-2h0m0 10h0m8-7h0m3 4h0m1-2h0m1 6h0m0-4h0m1 3h0m1-3h0m1-10h0m0 8h0m0 2h0m2-3h0m0-5h0m5 8h0m1 7h0m1-11h0m3 10h0m0-4h0m1-4h0m1-6h0m2-3h0m1 5h0m7 13h0m3-3h0m1-8h0m2-2h0m3-3h0m1 12h0m2-7h0m4 0h0m0 6h0m-1 12h0m-2-2h0m-4 4h0m0-2h0m-2 5h0m-6-9h0m0 7h0m-1-3h0m-2 1h0m0 8h0m0-15h0m-2 18h0m0-2h0m-3-16h0m-2 6h0m-2 8h0m-2-10h0m-2 7h0m0-10h0m-2 2h0m0 5h0m-1 3h0m-1 2h0m-1-13h0m-2 1h0m-1 13h0m-1 3h0m0-6h0m-6-4h0m0 12h0m-5-14h0m-3 7h0m0 1h0m-2-11h0m0-2h0m-1 13h0m0-12h0m-2 16h0m-1-14h0m-1 15h0m-2 0h0m-1-14h0m-1-4h0m-1 15h0m-1-10h0m-3-1h0m-2-2h0m0 4h0m-6 1h0m-2-7h0m-3 2h0m0 16h0m-8-17h0m-2-1h0m0 7h0m-1-3h0m-1 9h0m-1-6h0m-1 4h0m0 8h0m0 0h0m-1-17h0m-2 16h0m-1-12h0m0 1h0m0 3h0m-2 8h0m0-10h0m0 2h0m-1 7h0m-3 2h0m-5-18h0m0 26h0m5-7h0m2 3h0m1 4h0m0 6h0m0-4h0m2-2h0m2 3h0m2-8h0m2 10h0m2-5h0m7 12h0m1-16h0m0 15h0m2-17h0m0 12h0m2-8h0m8 1h0m3 13h0m4-19h0m1 12h0m2 7h0m3-19h0m0 0h0m1 19h0m1-3h0m1-4h0m0-5h0m3 9h0m0-1h0m5-1h0m0-10h0m2 7h0m0 6h0m4-13h0m1 15h0m0-19h0m0 0h0m8 11h0m1-5h0m2 5h0m1-7h0m4 8h0m3 6h0m1-11h0m0-6h0m2 18h0m0-13h0m1-1h0m2 12h0m0-3h0m0-14h0m3 6h0m1 8h0m6-9h0m1-1h0m1-3h0m-11 28h0m-2 5h0m0-11h0m-1 9h0m-1-6h0m-1 6h0m-2-2h0m-4 7h0m0 2h0m-1-10h0m-2 5h0m0 0h0m-3 2h0m0-4h0m0-8h0m-1-3h0m-1 16h0m-2-13h0m-1 4h0m0 9h0m0-6h0m-1-11h0m0 6h0m-2 4h0m-5 4h0m0-14h0m-2 3h0m0-2h0m-3 16h0m-1-12h0m-3 13h0m0-12h0m-4-1h0m-3-3h0m-2 7h0m-11 9h0m-1-17h0m0 12h0m-1-7h0m-2-3h0m-3 15h0m-1-5h0m-2-12h0m-1 4h0m0 7h0m-1-3h0m-4 5h0m-1 5h0m-3-14h0m6 26h0m3-11h0m2 11h0m0-1h0m4-5h0m1-2h0m0 2h0m1-1h0m2-1h0m1 3h0m1-1h0m1 4h0m2-6h0m6 0h0m1 5h0m7-5h0m0 2h0m6-5h0m6 14h0m1-7h0m0 1h0m2-1h0m1 11h0m3-15h0m0 13h0m2-5h0m2-5h0m1-2h0m2 1h0m0 3h0m0-6h0m2 15h0m2-15h0m0 9h0m3 8h0m1-14h0m0 10h0m1-14h0m1 5h0m0 5h0m2-11h0m1 9h0" stroke="#8c564b" stroke-width="12.4" stroke-linecap="round" fill="none"/>
<path transform="scale(0.5)" d="M971 3419h0m6-4h0m3 3h0m1-3h0m1 19h0m-4-14h0m-2 17h0m-15 16h0m0 2h0m3 2h0m3-8h0m7-7h0m3 17h0m0-4h0m1-8h0m1 5h0m5-5h0m0 5h0m2-2h0m2 3h0m6 0h0m5 20h0m-2-9h0m0-3h0m-7 18h0m0-9h0m-4 0h0m-1-7h0m-2 5h0m0 4h0m-1-7h0m-1 0h0m-1 9h0m-4-1h0m0-13h0m-1 3h0m-1 16h0m-3-1h0m0-9h0m0 2h0m-2 4h0m-4-15h0m-1 4h0m-2 10h0m-5-4h0m-1 5h0m0-12h0m-14 19h0m6 16h0m0-5h0m3 1h0m4-10h0m4 10h0m8 2h0m12-14h0m3 1h0m-19 19h0m-17 3h0m-1-3h0m-10 0h0" stroke="#d8302e" stroke-width="12.4" stroke-linecap="round" fill="none"/>
<path transform="scale(0.5)" d="M1026 3454h0m9 5h0m10-15h0m0 14h0m19 20h0m-4-9h0m-3 6h0m-5-3h0m0-6h0m-1 2h0m-2-3h0m-6-3h0m-2 17h0m-1-6h0m-5-8h0m-1 1h0m-6 8h0m-1 1h0m-2-5h0m0-5h0m-1 13h0m-3-14h0m-1 0h0m-1 14h0m0-10h0m-6 6h0m-1 5h0m-4 7h0m3 8h0m4-10h0m3 1h0m0 9h0m2-8h0m2 6h0m1 6h0m11-13h0m1 8h0m4-3h0m1-2h0m0 7h0m11-11h0m1 13h0m6-17h0m1 17h0m2-3h0m0-10h0m10 12h0m1-8h0m4 11h0m2 0h0m28 14h0m-3 3h0m-1-6h0m-2-5h0m0 2h0m-2 9h0m-3-7h0m-4-1h0m-7 10h0m-1-9h0m0 1h0m-1-2h0m-1 5h0m-12-3h0m0 8h0m-2-5h0m-1-3h0m-1-7h0m-3 13h0m-1-13h0m-1 13h0m-3-9h0m-1-2h0m-2-4h0m-2 2h0m0-3h0m0 6h0m0 6h0m-2 5h0m-7-13h0m-3 0h0m-5-4h0m-1 19h0m-2-7h0m-3 4h0m14 15h0m0-11h0m1 5h0m1-5h0m1 4h0m5 0h0m3 0h0m3 10h0m1-3h0m5 3h0m5 0h0m1-6h0m3 11h0m1-4h0m9-11h0m3 13h0m1-11h0m1 0h0m2-5h0m5 14h0m1-15h0m3 4h0m2 13h0m0-16h0m0 8h0m2 9h0m0-17h0m2 10h0m3-2h0m7 5h0m3 23h0m0-12h0m-2-5h0m-3 0h0m-3 14h0m0-2h0m-1-1h0m0-1h0m0-1h0m-2-6h0m0 4h0m-2 0h0m-1-4h0m-1 3h0m-2 13h0m-8-11h0m-3-2h0m0 10h0m-3-1h0m0-11h0m-1 3h0m-2 2h0m-6-7h0m-4 3h0m-1-5h0m-1 1h0m-1 8h0m-7 5h0m-1 4h0m-1-13h0m0 13h0m0-9h0m-3-1h0m-8 1h0m-8 8h0m-2-16h0m-6 13h0m-2 5h0m-10 13h0m7 6h0m12-7h0m2-8h0m2 12h0m1-9h0m2-1h0m2 12h0m1-13h0m2-4h0m2 7h0m2-4h0m3 10h0m1 1h0m1-9h0m1 10h0m9-14h0m5 9h0m1 8h0m3-9h0m4 1h0m1-10h0m2 13h0m0 5h0m4-10h0m3-3h0m1 4h0m1-1h0m2 6h0m4-10h0m3 14h0m0-15h0m0-3h0m4 13h0m2-8h0m3 10h0m0-2h0m5-3h0m9 0h0m0 2h0m1-6h0m1 8h0m1-7h0m1 3h0m1 4h0m-2 15h0m-2 3h0m0 2h0m-3-1h0m0 0h0m-1-4h0m-3-2h0m-2 8h0m0 1h0m-3-15h0m0 16h0m0-10h0m-5-5h0m0 0h0m-1 5h0m0-3h0m-5 12h0m-3-14h0m-1 8h0m0 1h0m-2 1h0m0-10h0m-6 4h0m-1 4h0m-2-4h0m-2-1h0m-1-5h0m-1 5h0m-2-1h0m0-2h0m-9 5h0m-1 4h0m-6 5h0m-1 1h0m-1 2h0m-6-18h0m-4 4h0m-3 12h0m-5 2h0m10 4h0m1-1h0m0 10h0m2-10h0m14 2h0m7 12h0m1-4h0m1 2h0m0-1h0m1-12h0m1 18h0m4-9h0m2 4h0m9-2h0m3-1h0m1 8h0m7-8h0m4-9h0m4 5h0m2 6h0m-12 13h0m-24-5h0m-1 3h0" stroke="#5ed0d2" stroke-width="12.4" stroke-linecap="round" fill="none"/>
<path transform="scale(0.5)" d="M1127 3656h0m2-9h0m8 6h0m1 0h0m1 0h0m3-3h0m10 3h0m3 13h0m-4 4h0m-5 1h0m-1 5h0m-1-13h0m-1 8h0m-1-1h0m-2-8h0m-1 12h0m-1-3h0m-3 5h0m-1-10h0m0 8h0m-4-14h0m-2 15h0" stroke="#5ed0d2" stroke-width="12.4" stroke-linecap="round" fill="none"/>
<path transform="scale(0.5)" d="M1209 3630h0m0 0h0m-2 6h0m0 0h0m-3 1h0m-7-16h0m0 11h0m-3 5h0m-2 1h0m-1-11h0m-4 7h0m0 1h0m-2 1h0m-3 6h0m3-1h0m4 1h0m3 6h0m2 3h0m2-10h0m0 1h0m2-1h0m1 5h0m1-1h0m0 0h0m3 14h0m1-4h0m3-2h0m1 5h0m2-3h0m0-4h0" stroke="#5ed0d2" stroke-width="12.4" stroke-linecap="round" fill="none"/>
<path transform="scale(0.5)" d="M1234 3618h0m0 1h0m0-17h0m1 6h0m1 5h0m1-10h0m1 10h0m5-6h0m2 4h0m1 8h0m0-2h0m2-7h0m4-8h0m2 3h0m0 10h0m10-7h0m-3 18h0m-2-6h0m-2 3h0m-3 5h0m-13 0h0m-2-5h0m-1 6h0m-2 3h0m-3-6h0" stroke="#5ed0d2" stroke-width="12.4" stroke-linecap="round" fill="none"/>
<path transform="scale(0.5)" d="M1238 3672h0m-2-2h0m-5 5h0m0-2h0m-1 3h0m-4 3h0m4 5h0m3 0h0" stroke="#5ed0d2" stroke-width="12.4" stroke-linecap="round" fill="none"/>
<path transform="scale(0.5)" d="M1090 3376h0m4-5h0m5 6h0m11-2h0m4 3h0m20 13h0m-2-1h0m-7 4h0m0 2h0m-1-2h0m-4 4h0m-4 0h0m-1-10h0m-5-2h0m-2 11h0m0-15h0m-2 0h0m-6 8h0m-1 2h0m-1 1h0m-1-3h0m-2-10h0m-3 1h0m-2 13h0m-1-1h0m-5 15h0m1-5h0m0 1h0m6 8h0m5 4h0m2-1h0m1-12h0m0 5h0m1 3h0m2-5h0m0-3h0m5 7h0m0-8h0m0 10h0m4 2h0m4-6h0m2-6h0m4 4h0m1 12h0m3-18h0m2 11h0m0 8h0m0-12h0m3 8h0m3 1h0m-5 4h0m-5 16h0m-1-5h0m0 4h0m-1-7h0m0 1h0m-1 3h0m-2 3h0m-1-1h0m-1-1h0m-2-3h0m-4 2h0m-1-7h0m0-4h0m-1 15h0m-4 0h0m-4-1h0m-8-3h0m-2-1h0m-1 5h0m0-12h0m-1 12h0m-2-5h0m0-5h0m-2-4h0m0 6h0m-3 5h0m-1-7h0m-4 30h0m3 2h0m3-17h0m4 14h0m2-11h0m2 10h0m3-12h0m1 1h0m4 9h0m2-9h0m0 12h0m1-7h0m2 2h0m1 6h0m0-11h0m2 14h0m2-15h0m0 11h0m2-11h0m3 13h0m0-11h0m1 13h0m6-6h0m1 0h0m1-9h0m-2 23h0m-2-1h0m-1-2h0m-1 5h0m-2-2h0m-3 6h0m-1-11h0m0 9h0m-4 4h0m-1-6h0m0-6h0m-2 16h0m0-19h0m-1 4h0m-1 4h0m0 7h0m-2-8h0m-1 11h0m-3-12h0m0-4h0m-3 1h0m0 6h0m-1-1h0m-2 0h0m-3 3h0m-2-7h0m27 17h0" stroke="#3b82bd" stroke-width="12.4" stroke-linecap="round" fill="none"/>
<path transform="scale(0.5)" d="M1122 3492h0m15 1h0m3 5h0m1 0h0m1 0h0m16 19h0m-3-2h0m-4 0h0m-2-2h0m-1 1h0m-7 4h0m-2-13h0m-2 3h0m-2-5h0m-1 8h0m0-6h0m-2 0h0m-2 12h0m0-15h0m-1 10h0m-3-11h0m6 24h0m2-3h0m9 3h0m2 3h0m2-2h0m10-6h0m3 5h0m4-1h0m1 0h0" stroke="#3b82bd" stroke-width="12.4" stroke-linecap="round" fill="none"/>
<path transform="scale(0.5)" d="M1237 3439h0m-7 20h0m5-8h0m2 6h0m5-17h0m2 9h0m2 2h0m0-4h0m2 4h0m22 2h0m7 5h0m2-1h0m15 18h0m-2-7h0m0-2h0m-1 6h0m-4 7h0m-3-6h0m-3 5h0m-3-14h0m0 11h0m-1-3h0m-1-8h0m0 8h0m-1-6h0m-1 3h0m0-3h0m-2 7h0m-2-4h0m-1-6h0m0 1h0m-7 15h0m0-6h0m-4-13h0m-7 2h0m0-1h0m0 5h0m-4 10h0m-2 1h0m-2-2h0m0-1h0m-2-1h0m0-6h0m0-4h0m-1 4h0m-6-5h0m-1 14h0m0-7h0m-1 5h0m-3 1h0m-1-5h0m-1-3h0m0 6h0m0 3h0m-1-9h0m0-2h0m-3 1h0m-2 1h0m0 8h0m-2-12h0m-1 6h0m-2-3h0m-1-4h0m-2 7h0m-1 1h0m0 7h0m-3 6h0m1 1h0m0-2h0m4 5h0m3 3h0m1 6h0m5-1h0m1-5h0m0 0h0m2-4h0m0 5h0m4-9h0m2 13h0m2-10h0m1 2h0m1 11h0m1-7h0m2-11h0m3 6h0m1 11h0m1-13h0m0 1h0m0 1h0m4 1h0m4 6h0m1-4h0m2 5h0m0 2h0m5-12h0m1 2h0m0-6h0m2 9h0m0 1h0m1 5h0m2-13h0m1 10h0m3 7h0m1-9h0m2 4h0m0-3h0m2 4h0m0 0h0m1 1h0m0-6h0m1-10h0m1 3h0m4 15h0m1-3h0m1-6h0m1-7h0m1 0h0m4 17h0m1-10h0m0 10h0m0-13h0m1 10h0m0 3h0m4-17h0m1 2h0m2 14h0m4-1h0m1 2h0m4 7h0m-1 5h0m-2-3h0m-1 1h0m0-8h0m-4 0h0m-2 9h0m-4-4h0m0 3h0m0-4h0m0 5h0m-2-8h0m-3 9h0m-1 8h0m0-16h0m-2 14h0m-3-5h0m0-2h0m0-4h0m-3 4h0m-1 8h0m-3-14h0m-1-4h0m-3 19h0m-2-13h0m-2 10h0m-3 2h0m-4-8h0m0 0h0m-1 0h0m-1 7h0m-2-11h0m-2-1h0m0 3h0m-1 5h0m-2-1h0m-1 1h0m-5-9h0m-1-1h0m-2 5h0m-1 7h0m-3-11h0m0 3h0m-2-4h0m-4 8h0m-1 7h0m-2-2h0m-1-2h0m-1-4h0m-3-8h0m-3 3h0m-2 3h0m-4-3h0m0 2h0m-1 7h0m13 6h0m2 9h0m0-3h0m2 2h0m1-2h0m2 2h0m1 4h0m3-4h0m3-6h0m1 13h0m4 4h0m0-12h0m0 10h0m1-17h0m12 4h0m1-2h0m1 6h0m1-5h0m4 8h0m1 7h0m1-9h0m6-2h0m1 11h0m0-3h0m0-4h0m3-4h0m0 6h0m4 6h0m1 0h0m0-7h0m2-5h0m1 7h0m4-6h0m1-6h0m2-1h0m2-1h0m5 14h0m3 5h0m1-3h0m0-16h0m7 7h0m1-5h0m3 16h0m10 12h0m-2 6h0m-1-12h0m0 15h0m-4-10h0m-1-5h0m0 10h0m-2-5h0m0 2h0m-1-11h0m-1 10h0m0-2h0m0-7h0m-1 0h0m0 7h0m-4 11h0m-1 0h0m-1-15h0m-2 3h0m-1-3h0m-1 13h0m-6-5h0m0-6h0m-2 4h0m-4 9h0m-1-18h0m-1-1h0m-2 14h0m-2 3h0m-1-14h0m-1 3h0m-1 0h0m-2 4h0m-1 0h0m0-7h0m-2-3h0m-1 7h0m-3 6h0m0 0h0m-2-5h0m-2 2h0m-1-7h0m-7 7h0m0-8h0m-5 17h0m-8-19h0m-2 2h0m0 2h0m-7 8h0m-5-6h0m-7-4h0m21 19h0m1 7h0m1-2h0m4 3h0m2-5h0m0 9h0m8 0h0m5-3h0m0 7h0m1-9h0m0 7h0m3-8h0m0-3h0m0 8h0m2-11h0m1 12h0m1-8h0m2 6h0m1-7h0m0 11h0m2-14h0m0 6h0m8 4h0m1 8h0m0-11h0m3-4h0m1 8h0m0 6h0m0-6h0m2-3h0m1 1h0m1-8h0m0 2h0m1 0h0m1 14h0m1-4h0m0-8h0m3 13h0m1-17h0m1 11h0m3-12h0m1-1h0m2 19h0m1-4h0m2 3h0m1-16h0m2 5h0m1 2h0m1-9h0m2 3h0m1 12h0m3 2h0m2-11h0m0 10h0m1 0h0m2-7h0m0 8h0m3-11h0m2 13h0m9 19h0m-3 1h0m-1-5h0m-1-11h0m-3 10h0m-7-7h0m-1 7h0m-1-6h0m-1 11h0m-3 0h0m-2-11h0m-1 5h0m0 0h0m-1-5h0m-1 11h0m-7-8h0m-2 0h0m-1-5h0m0 2h0m-5-7h0m-2 19h0m0-12h0m-1 0h0m-2 4h0m-16 7h0m0-10h0m-1 10h0m-3-3h0m-1 4h0m-11-15h0m0 6h0m-7 2h0m-1 3h0m0 23h0m6-1h0m1-6h0m2 8h0m1-2h0m0-14h0m2 15h0m6-11h0m0 10h0m1-1h0m4-15h0m4 15h0m1-1h0m0-11h0m1-4h0m1 17h0m4-7h0m1-8h0m2 17h0m1-12h0m1-7h0m1 19h0m2-9h0m1-8h0m5-2h0m1 1h0m0 15h0m1 2h0m0-18h0m1 4h0m1 6h0m2 8h0m0-14h0m1 12h0m0-14h0m2 8h0m1-4h0m2-6h0m2 8h0m0 8h0m3-6h0m0-3h0m1-4h0m1 7h0m0-10h0m0 13h0m1-13h0m0 0h0m2 8h0m3-7h0m2 1h0m0 17h0m0-5h0m1 5h0m5-11h0m1-4h0m1 9h0m2 6h0m4-3h0m0-8h0m1 9h0m2-5h0m7 7h0m11 7h0m-3 13h0m-2-19h0m-1 7h0m-1-7h0m-2 16h0m-1-16h0m-9 9h0m-1 0h0m0 0h0m0 0h0m-2-9h0m0 16h0m-2-2h0m-1-5h0m-2-6h0m-1 4h0m-2-2h0m-2 14h0m0-3h0m-2-8h0m0-6h0m0 0h0m-1 14h0m-1-16h0m-2 16h0m-1-9h0m-2 6h0m-3 6h0m-2-13h0m0 13h0m-4-9h0m-1-4h0m-3-4h0m-1-1h0m-6 10h0m-1-8h0m0-1h0m-1 8h0m-1-1h0m-1-2h0m-1 5h0m-2-9h0m-1-3h0m0 17h0m0-10h0m-1 6h0m-1-8h0m-2 11h0m0-16h0m-4 13h0m-7 6h0m0-13h0m-2 9h0m-2-11h0m-1-1h0m-3 0h0m-3 0h0m-4-3h0m-1 18h0m0-4h0m-2-12h0m0 1h0m-2 3h0m0 8h0m-1-9h0m-1-2h0m-1-2h0m-4 15h0m-19 18h0m6 4h0m0 0h0m1-3h0m3-5h0m1 2h0m1-7h0m3 11h0m1-16h0m0 11h0m0 5h0m1-1h0m2-3h0m2-9h0m11 2h0m1-1h0m1 15h0m1 0h0m4-15h0m2 6h0m1 8h0m1-15h0m5 11h0m2 2h0m4-11h0m1 11h0m0 3h0m3-6h0m0 2h0m1-11h0m1 6h0m1-4h0m1-2h0m1-1h0m1 13h0m1-2h0m8 4h0m6-17h0m1 12h0m1-8h0m1 13h0m1-11h0m4-1h0m0 2h0m0 11h0m1-8h0m2 4h0m1-6h0m3-8h0m0 1h0m4-1h0m4 7h0m1 4h0m2-2h0m0 3h0m2-9h0m1 0h0m1 3h0m2 12h0m2-4h0m0-4h0m2 0h0m1-10h0m1 17h0m7-12h0m1 13h0m2-2h0m0 1h0m33 19h0m-9 0h0m-2 2h0m-2-10h0m-5 10h0m-4-5h0m-3 2h0m-2-15h0m0 0h0m-2 13h0m0-11h0m0 13h0m-4-5h0m0 1h0m-2 2h0m-1-3h0m-4-4h0m-3 7h0m-2-3h0m-1 7h0m-3-14h0m0 14h0m-2-6h0m0-6h0m-3 3h0m-1-3h0m0-1h0m-2 1h0m-5-6h0m-1 8h0m-1 7h0m-6-7h0m-1 7h0m-1 0h0m-1 4h0m-1-18h0m-1 4h0m-2 6h0m0-4h0m-3-3h0m0 13h0m-2-7h0m-3 9h0m0-2h0m-6-13h0m-3 10h0m-2-10h0m0-2h0m-1 11h0m0 6h0m-3-3h0m-3-11h0m0 12h0m-2-13h0m-4 9h0m-1-12h0m-3 18h0m-2-18h0m-1 17h0m-3-13h0m-3 1h0m-1 5h0m-1 5h0m-1-12h0m-1 7h0m0-10h0m-5 16h0m-11-8h0m0-4h0m-1 4h0m-1 3h0m-4-5h0m-2 5h0m-1 1h0m0-1h0m-4-10h0m-1 11h0m0-1h0m-1-2h0m-8-7h0m3 22h0m7-3h0m3 6h0m5-2h0m1 10h0m1-7h0m2-4h0m3 0h0m1 0h0m0 11h0m0 2h0m3-12h0m2 3h0m0 1h0m1-7h0m2 11h0m0-11h0m1 8h0m1 8h0m1-6h0m1-11h0m2 1h0m6 9h0m4 3h0m1-7h0m4 9h0m0-9h0m0-1h0m3 3h0m1 6h0m0-5h0m0-7h0m2 6h0m2-9h0m1 6h0m2 9h0m0-5h0m0-4h0m6 8h0m2-14h0m0 6h0m0 6h0m2 4h0m1-13h0m1 13h0m1 0h0m2-8h0m2 9h0m1-13h0m2 12h0m0-4h0m0-12h0m4 7h0m0 6h0m2-12h0m2 6h0m5-6h0m2 12h0m1 4h0m2-2h0m4-1h0m1-10h0m1 9h0m0-12h0m2 13h0m5-6h0m1-9h0m2 9h0m3 3h0m3 1h0m0 3h0m0-14h0m3 1h0m1 11h0m2 1h0m0-12h0m3 8h0m2-9h0m5 8h0m1 0h0m1 6h0m0-3h0m1-4h0m1-8h0m3 11h0m0-2h0m1 2h0m0-9h0m1 6h0m0-8h0m1 2h0m1 6h0m2 7h0m2-4h0m2 0h0m0-8h0m1 5h0m1 5h0m1-13h0m2 13h0m0-4h0m3 2h0m0 0h0m1-7h0m0 4h0m2-7h0m2 10h0m0 0h0m3 5h0m11 2h0m-2 17h0m-3-3h0m-3-12h0m-1 4h0m-3 7h0m-2 3h0m-2-7h0m-12-5h0m0 4h0m-7 11h0m0-6h0m-2-12h0m-1 17h0m0-4h0m-1-8h0m-1-1h0m0 9h0m-1-11h0m-3 4h0m-2 9h0m-1 2h0m-1-17h0m-1 16h0m-2 1h0m-1-10h0m-1 3h0m-1 8h0m-1 0h0m0-15h0m-1 3h0m-2 12h0m-1-12h0m0-6h0m-2 7h0m0-6h0m-1 18h0m-3-13h0m-1-3h0m-9 0h0m-1 7h0m-7 5h0m0-6h0m-1-3h0m-2 4h0m0 5h0m-1-11h0m0 4h0m0 6h0m-4-12h0m0 11h0m0 5h0m-1-1h0m-1-15h0m-4 15h0m-1 2h0m0-10h0m-2 10h0m-1-7h0m-4-4h0m-6 9h0m-1-1h0m-1 0h0m-4-11h0m0 11h0m-3-3h0m-1-3h0m-1 1h0m0 2h0m-4-13h0m-3 11h0m-2-2h0m-1 7h0m-1-15h0m0 6h0m-1 8h0m0-4h0m-3-2h0m-1-4h0m-1 8h0m0-4h0m-3 3h0m-5 3h0m-3-10h0m0 12h0m-4-14h0m-1 2h0m0-5h0m-1 18h0m0-15h0m-2 2h0m-1 11h0m0-11h0m0 10h0m-5-6h0m-4 5h0m-2-1h0m-1 6h0m1 5h0m2-2h0m4 16h0m0-12h0m1 1h0m0 7h0m1-8h0m4-4h0m1 3h0m4-1h0m1 10h0m2-5h0m0-7h0m2-2h0m1 16h0m1-8h0m0 9h0m4-10h0m0 5h0m3-6h0m1 13h0m1-1h0m1-14h0m1 14h0m1-1h0m0-4h0m4-3h0m0 3h0m1-7h0m0 7h0m1-12h0m1 8h0m1 7h0m0-2h0m4 0h0m2-11h0m2 11h0m4-11h0m6-3h0m1 11h0m1 1h0m2-5h0m2 0h0m1 4h0m2 3h0m0-7h0m1 1h0m0 3h0m0-10h0m2 16h0m3-2h0m2 0h0m3 4h0m1 0h0m3-7h0m0-7h0m2 6h0m0 8h0m2-9h0m2-9h0m3 18h0m1-19h0m1 8h0m9-5h0m1 16h0m1-9h0m0 5h0m0-9h0m2-3h0m6 4h0m1 4h0m4 7h0m2-4h0m1 2h0m0 2h0m2-11h0m2-7h0m5 15h0m1-1h0m0-1h0m3 6h0m0-6h0m4-12h0m2 16h0m0-16h0m2 16h0m7 0h0m0-13h0m0 14h0m1-18h0m1 17h0m1-7h0m0-8h0m2 12h0m1-1h0m7 6h0m0-11h0m3 3h0m2-6h0m-8 25h0m-5 4h0m-1-10h0m-1 11h0m-1 3h0m-1-3h0m0-10h0m-1 8h0m-2 0h0m-2-13h0m-1 5h0m-1 14h0m-2-4h0m0 3h0m-2-13h0m-1 12h0m-1 2h0m-6 0h0m-1-17h0m0 0h0m-2 7h0m-1-7h0m-2 15h0m-1-12h0m-2 0h0m-3 5h0m-1 8h0m-2-6h0m-1-2h0m-1-4h0m-2 3h0m-1-8h0m-1 7h0m0 1h0m0 0h0m-3 4h0m0-7h0m-2 12h0m-3-9h0m0 3h0m-4-10h0m-1 16h0m-4-16h0m-4 15h0m0-4h0m-4 4h0m-3-12h0m-1 1h0m-2 8h0m-1-8h0m-1 7h0m0-12h0m-5 11h0m-1-2h0m0-2h0m-4 2h0m0-3h0m0 11h0m-1-2h0m-1-8h0m0 4h0m-1 1h0m-1 1h0m0 5h0m-4-18h0m0 8h0m0-2h0m-1 4h0m0 3h0m-2-6h0m-2 5h0m-1-9h0m-2 6h0m-1-8h0m0 7h0m-1 7h0m0-15h0m-2 11h0m-1-1h0m-1 5h0m0-8h0m-3 9h0m0-7h0m-2 7h0m0-5h0m-1-7h0m-1 5h0m-1 1h0m-1 7h0m-1-15h0m-4 5h0m-1 3h0m-2 0h0m-2 8h0m-2-16h0m0-1h0m-4 10h0m-1-11h0m0 7h0m-5-4h0m-2 20h0m6 6h0m2 5h0m1-3h0m1 2h0m2-5h0m1 3h0m1 1h0m1 0h0m2-6h0m1 4h0m1 3h0m1-13h0m1 12h0m2-9h0m4 8h0m1-5h0m1-4h0m1 9h0m1-6h0m1 10h0m3-13h0m1 7h0m3 6h0m1-15h0m1 10h0m2 8h0m0 0h0m3-17h0m2 13h0m2-10h0m0 10h0m2 2h0m4-2h0m2-13h0m0 11h0m10 2h0m3-5h0m0-2h0m1 2h0m1 0h0m1-3h0m1 6h0m0 6h0m1-5h0m1-9h0m0 2h0m1 10h0m2-6h0m1-1h0m4-6h0m6 8h0m0-7h0m1 4h0m1-5h0m0 1h0m1 10h0m0-5h0m2-6h0m0 10h0m4-13h0m1 11h0m1-4h0m0 10h0m0-6h0m2-3h0m3 4h0m2-3h0m1 9h0m0-9h0m1-10h0m0 4h0m0 11h0m1-1h0m3-5h0m2-7h0m0 11h0m6 1h0m0-11h0m0-2h0m3 16h0m0-5h0m2-1h0m1 1h0m3-12h0m3 5h0m0 4h0m1-4h0m0 2h0m-7 16h0m-1 5h0m-3-7h0m-1 5h0m-5-3h0m-1 16h0m0-18h0m-1 8h0m-5-4h0m-1 0h0m-2 4h0m-2 6h0m-4-12h0m0 11h0m-4 5h0m-3-2h0m-1-7h0m-1-3h0m0-5h0m-2 1h0m-1 13h0m-1-5h0m-1 4h0m-4-5h0m-1 4h0m-6-11h0m-3 12h0m-1-3h0m0-12h0m-1 8h0m-4-4h0m-1-2h0m0 13h0m-3 1h0m-1-8h0m-1 2h0m-1 0h0m-1-6h0m0 7h0m-4-9h0m0 7h0m-1-9h0m-1 3h0m-1 9h0m-1-4h0m-4 1h0m0-2h0m-2 1h0m-2-5h0m-2 0h0m-1 9h0m0-4h0m0 3h0m-3 0h0m-2-10h0m0 3h0m0 6h0m-1-9h0m-3 2h0m-4-2h0m-1 11h0m0-5h0m-1 2h0m-1-5h0m0 2h0m-1 1h0m-2 7h0m-1-2h0m-2-9h0m-3 1h0m-3 11h0m0-13h0m-1 3h0m-3 13h0m-1-10h0m-1 2h0m-2-6h0m-1 14h0m-1-7h0m0 5h0m-1-14h0m-2 16h0m-1-15h0m-2 8h0m-1-10h0m-1 8h0m-3-3h0m-3-5h0m-2 8h0m0 8h0m-3-10h0m0 17h0m2-4h0m1 5h0m0 12h0m1-11h0m0 4h0m2-3h0m1 1h0m0-8h0m2 2h0m0 2h0m0 13h0m2 1h0m0-17h0m1 18h0m1-13h0m3-1h0m0-2h0m3 0h0m3 8h0m1 1h0m0-2h0m1 7h0m0-5h0m3 6h0m2 0h0m4-4h0m1-4h0m2-5h0m45-4h0m3 2h0m1 0h0m5 0h0m2 12h0m2-14h0m0 1h0m4 4h0m3 4h0m1-6h0m3 5h0m1 0h0m1-6h0m1 6h0m1-7h0m1-2h0m0 14h0m2-8h0m5-4h0m7 3h0m1-4h0m8 0h0m1-1h0m-96 22h0m-17 17h0m-1-11h0m-3 3h0m0-4h0m-1 0h0m-6 0h0m-1-5h0m-1 3h0m-2 3h0m-2 1h0m-3-1h0m13 16h0" stroke="#f5882a" stroke-width="12.4" stroke-linecap="round" fill="none"/>
<path transform="scale(0.5)" d="M1406 3228h0m-1 1h0m-3 2h0m-1-9h0m-3 9h0m0 3h0m-7 9h0m3 6h0m7-7h0m1 2h0m3 13h0m1-3h0m1-11h0m0-3h0m4 12h0m5 3h0m2-5h0m1 9h0m0-2h0m-4 8h0m-10 5h0m-1 8h0m-1-1h0m-1-5h0m-4-3h0m0-8h0m-1 3h0m-2 14h0m-7-10h0m-1 1h0m-5 0h0m-6 6h0m-13 22h0m1 1h0m2 1h0m2-8h0m0 1h0m0-2h0m4 8h0m1-9h0m1-1h0m0 9h0m0-8h0m1-4h0m1-2h0m3 6h0m0-1h0m0-3h0m1-1h0m2 3h0m0 4h0m4 0h0m2 4h0m2-10h0m3 8h0m2-1h0m0-9h0m1-1h0m1 0h0m1-1h0m2 17h0m2-11h0m1 1h0m2 4h0m1-7h0m0 7h0m0 1h0m4 9h0m-2 11h0m-1-8h0m0 11h0m-3-7h0m-1 1h0m-1 0h0m-2 3h0m-1-10h0m-1 8h0m-2-7h0m-1 2h0m-1 7h0m-1 5h0m0-2h0m-1-4h0m0 6h0m-1-15h0m-4 1h0m-3 4h0m-2-4h0m-3 5h0m-3-7h0m0-1h0m-1 1h0m-1 11h0m0-11h0m-3 3h0m-2 14h0m-1-14h0m-2 2h0m-2-6h0m-2 9h0m-1 6h0m-4-9h0m-4-7h0m-2 20h0m0 2h0m2 15h0m2 2h0m0-4h0m1-8h0m4 12h0m5-11h0m2 6h0m1-11h0m1 0h0m3 4h0m4-4h0m2 11h0m0 5h0m1-3h0m0-14h0m4 12h0m0-12h0m9 9h0m0-2h0m0-9h0m5 2h0m-11 32h0m-6-8h0m-3 5h0m-1 2h0m-2 1h0m0-9h0m-2 1h0m0 6h0m-1-11h0m-1 11h0m-1 2h0m-1-3h0m0-5h0m-2 0h0m-1-1h0m-4-5h0m0 1h0m-5 6h0m0 11h0m-2-18h0m-10 38h0m10-5h0m2-10h0m1 14h0m1-11h0m0-5h0m1 6h0m0 7h0m3-3h0m4-8h0m0-3h0m5 7h0m0 2h0m0-6h0m11-1h0m3-2h0m-33 22h0m-1 6h0m-4 2h0m-1-8h0m-1 12h0m0-14h0m-2 6h0m3 27h0" stroke="#b8c435" stroke-width="12.4" stroke-linecap="round" fill="none"/>
<path transform="scale(0.5)" d="M1378 3419h0m10-2h0m2-1h0m3 2h0m4-10h0m0 2h0m2 5h0m0 0h0m0-4h0m-2 17h0m-2-4h0m-2 0h0m-1 1h0m-5 1h0m-6 3h0m-1-6h0m-1 4h0m-1-3h0m0 5h0m-2 7h0m-2-8h0m-3 16h0m1 12h0m1-13h0m0 2h0m1-5h0m1 11h0m4 7h0m1-10h0m2 7h0m0 4h0m3-18h0m2 13h0m9-14h0m-12 22h0m-8 5h0m-2-4h0m-4 14h0m-1-6h0m-1 2h0m0-5h0m0 0h0m0 9h0m-1-15h0m0 6h0m-1-3h0m0 5h0m-2 2h0m-8 14h0m0 6h0m1-6h0m4-2h0m0-1h0m6 10h0m2-8h0" stroke="#b8c435" stroke-width="12.4" stroke-linecap="round" fill="none"/>
<path transform="scale(0.5)" d="M1349 3516h0m-1 3h0m-13-2h0m-1 1h0m1 4h0m6 7h0m2-9h0m0 7h0m1-5h0m2 4h0m0 8h0m4-4h0m2-2h0m0 9h0m0 1h0m2-13h0m1 7h0m3 1h0m0-4h0m6 9h0m0-2h0m8 0h0m14 17h0m-3-2h0m-6 8h0m-1-4h0m-1 4h0m-1-13h0m-1 3h0m0-6h0m0 4h0m-1 2h0m-6 1h0m-2-4h0m17 32h0m2-1h0m4-13h0m0 9h0m0-9h0m1 7h0m3-11h0m1 11h0m-2 11h0m-2 9h0m-2-7h0m-1 1h0m-2 0h0m-3-4h0m-3 6h0m-2 2h0" stroke="#45b03c" stroke-width="12.4" stroke-linecap="round" fill="none"/>
<path transform="scale(0.5)" d="M1439 3507h0m-3-1h0m-1 7h0m0 0h0m0 5h0m-3 1h0m-3-2h0m-1-10h0m-1 4h0m-1 7h0m-1-1h0m-5 19h0m3-16h0m1 13h0m2-3h0m1-3h0m2 11h0m0-14h0m0-2h0m1 4h0m1 7h0m4-4h0" stroke="#45b03c" stroke-width="12.4" stroke-linecap="round" fill="none"/>
<path transform="scale(0.5)" d="M1208 3559h0m-3-1h0m-5 0h0m-1-2h0m-2-3h0m-8 4h0m-2-2h0m2 8h0m2 6h0m3-7h0m1 9h0m1-1h0m0-5h0m0 3h0m1 2h0m4 1h0m1-8h0m1 0h0m1 12h0m2-2h0m0 0h0m4-11h0m1 4h0m0 4h0m2-9h0" stroke="#e07fd0" stroke-width="12.4" stroke-linecap="round" fill="none"/>
<path transform="scale(0.5)" d="M1111 3756h0m-6-1h0m3 5h0m1 18h0m3-12h0m1-6h0m0 2h0m4 12h0m0-7h0m1 1h0m0 19h0m0 8h0m-1-15h0m-2 13h0m-1-4h0m-2 0h0m0-1h0m3 12h0" stroke="#808080" stroke-width="12.4" stroke-linecap="round" fill="none"/>
<path transform="scale(0.5)" d="M1069 3429h0m109 67h0m46 80h0m-75 10h0m21 40h0m-9 32h0m68-13h0" stroke="#5ed0d2" stroke-width="12.4" stroke-linecap="round" fill="none"/>
<path transform="scale(0.5)" d="M981 3408h0m222 99h0m11 88h0" stroke="#d8302e" stroke-width="12.4" stroke-linecap="round" fill="none"/>
<path transform="scale(0.5)" d="M1346 3498h0m46 21h0m-75-17h0m8 28h0m59-4h0m25 2h0m-54 46h0m16 21h0m-65 52h0m-38 76h0" stroke="#45b03c" stroke-width="12.4" stroke-linecap="round" fill="none"/>
<path transform="scale(0.5)" d="M1193 3530h0m23 23h0" stroke="#e07fd0" stroke-width="12.4" stroke-linecap="round" fill="none"/>
<path transform="scale(0.5)" d="M1350 3378h0m-12 85h0m46 21h0" stroke="#b8c435" stroke-width="12.4" stroke-linecap="round" fill="none"/>
<path transform="scale(0.5)" d="M1086 3248h0m21 13h0m42 128h0m-4 65h0m16 9h0" stroke="#9b6bc8" stroke-width="12.4" stroke-linecap="round" fill="none"/>
<path transform="scale(0.5)" d="M1140 3437h0m-67-8h0m-12 4h0m88 17h0m-59 42h0" stroke="#3b82bd" stroke-width="12.4" stroke-linecap="round" fill="none"/>
<text x="433.6" y="1624.1" font-size="24">Capillaries</text>
<text x="602.7" y="1628.3" font-size="24">Venule</text>
<text x="590.1" y="1687.1" font-size="24">Homeo</text>
<text x="708.4" y="1696.6" font-size="24">EL</text>
<text x="592.2" y="1723.9" font-size="24">IMEC1</text>
<text x="454.2" y="1779.6" font-size="24">Arteriole</text>
<text x="709.9" y="1798.5" font-size="24">MF</text>
<text x="494.1" y="1836.3" font-size="24">Prolif</text>
<text x="544.5" y="1866.8" font-size="24">IMEC2</text>
<text x="647.9" y="1926.6" font-size="24">Pericyte</text>
<path d="M514.5 1622L519.1 1635.7" stroke="#000" stroke-width="1.4" fill="none"/>
<path d="M520.8 1640.9L516.3 1635.6L521.2 1633.9Z" fill="#000"/>
<path d="M606.9 1630.4L594.7 1645.1" stroke="#000" stroke-width="1.4" fill="none"/>
<path d="M591.2 1649.3L593.4 1642.6L597.4 1646Z" fill="#000"/>
<path d="M590.1 1688.2L565.5 1714.7" stroke="#000" stroke-width="1.4" fill="none"/>
<path d="M561.8 1718.7L564.3 1712.2L568.1 1715.7Z" fill="#000"/>
<path d="M708.8 1679.8L699.8 1669.3" stroke="#000" stroke-width="1.4" fill="none"/>
<path d="M696.2 1665.1L702.4 1668.3L698.5 1671.7Z" fill="#000"/>
<path d="M620.2 1727.1L604 1772.3" stroke="#000" stroke-width="1.4" fill="none"/>
<path d="M602.1 1777.5L601.8 1770.5L606.7 1772.3Z" fill="#000"/>
<path d="M499.8 1765.9L487.8 1753.1" stroke="#000" stroke-width="1.4" fill="none"/>
<path d="M484 1749.1L490.3 1752.1L486.6 1755.6Z" fill="#000"/>
<path d="M709.9 1782.7L702.2 1778.9" stroke="#000" stroke-width="1.4" fill="none"/>
<path d="M697.3 1776.4L704.3 1777L702 1781.6Z" fill="#000"/>
<path d="M537.6 1817.4L542.2 1803.7" stroke="#000" stroke-width="1.4" fill="none"/>
<path d="M543.9 1798.5L544.3 1805.5L539.4 1803.8Z" fill="#000"/>
<path d="M573.3 1872L562.7 1888.4" stroke="#000" stroke-width="1.4" fill="none"/>
<path d="M559.7 1893L561.1 1886.1L565.4 1889Z" fill="#000"/>
<path d="M703.6 1914L697.1 1896.1" stroke="#000" stroke-width="1.4" fill="none"/>
<path d="M695.2 1890.9L699.9 1896.1L695 1897.9Z" fill="#000"/>
<path d="M439 1877.7V1944.7H507.2" stroke="#111" stroke-width="1.6" fill="none"/>
<path d="M439 1875.3l-1.8 3.4h3.6zM509.6 1944.7l-3.4 -1.8v3.6z" fill="#111"/>
<text x="436.6" y="1963.5" font-size="19.8">UMAP2</text>
<text transform="translate(434.8 1945.1) rotate(-90)" font-size="19.8">UMAP1</text>
</g>
<g id="dot_a">
<rect x="912" y="1.5" width="827.5" height="302" fill="none" stroke="#111" stroke-width="1.8"/>
<text x="900" y="49.5" font-size="24" text-anchor="end">Homeo1</text>
<text x="900" y="87.4" font-size="24" text-anchor="end">Homeo2</text>
<text x="900" y="125.4" font-size="24" text-anchor="end">Homeo3</text>
<text x="900" y="163.3" font-size="24" text-anchor="end">Dis1</text>
<text x="900" y="201.2" font-size="24" text-anchor="end">Dis2</text>
<text x="900" y="239.2" font-size="24" text-anchor="end">Dis3</text>
<text x="900" y="277.1" font-size="24" text-anchor="end">Remyel</text>
<text transform="translate(951.2 313) rotate(-90)" font-size="24" text-anchor="end">LINC01608</text>
<text transform="translate(986.2 313) rotate(-90)" font-size="24" text-anchor="end">PLXDC2</text>
<text transform="translate(1021.3 313) rotate(-90)" font-size="24" text-anchor="end">DYSF</text>
<text transform="translate(1056.4 313) rotate(-90)" font-size="24" text-anchor="end">AC090015.1</text>
<text transform="translate(1091.4 313) rotate(-90)" font-size="24" text-anchor="end">AATK</text>
<text transform="translate(1126.5 313) rotate(-90)" font-size="24" text-anchor="end">RASGRF1</text>
<text transform="translate(1161.5 313) rotate(-90)" font-size="24" text-anchor="end">AFF3</text>
<text transform="translate(1196.5 313) rotate(-90)" font-size="24" text-anchor="end">RBFOX1</text>
<text transform="translate(1231.6 313) rotate(-90)" font-size="24" text-anchor="end">AMER2</text>
<text transform="translate(1266.7 313) rotate(-90)" font-size="24" text-anchor="end">RHOBTB3</text>
<text transform="translate(1301.7 313) rotate(-90)" font-size="24" text-anchor="end">DCC</text>
<text transform="translate(1336.8 313) rotate(-90)" font-size="24" text-anchor="end">HSPA1A</text>
<text transform="translate(1371.8 313) rotate(-90)" font-size="24" text-anchor="end">CAMK2D</text>
<text transform="translate(1406.8 313) rotate(-90)" font-size="24" text-anchor="end">FGFR1</text>
<text transform="translate(1441.9 313) rotate(-90)" font-size="24" text-anchor="end">NGFR</text>
<text transform="translate(1477 313) rotate(-90)" font-size="24" text-anchor="end">MDGA2</text>
<text transform="translate(1512 313) rotate(-90)" font-size="24" text-anchor="end">CNTN1</text>
<text transform="translate(1547 313) rotate(-90)" font-size="24" text-anchor="end">FRY</text>
<text transform="translate(1582.1 313) rotate(-90)" font-size="24" text-anchor="end">MBP</text>
<text transform="translate(1617.2 313) rotate(-90)" font-size="24" text-anchor="end">PLP1</text>
<text transform="translate(1652.2 313) rotate(-90)" font-size="24" text-anchor="end">CNP</text>
<text transform="translate(1687.2 313) rotate(-90)" font-size="24" text-anchor="end">CRYAB</text>
<text transform="translate(1722.3 313) rotate(-90)" font-size="24" text-anchor="end">CLDN11</text>
<path d="M912 38.6h-7M912 76.5h-7M912 114.5h-7M912 152.4h-7M912 190.3h-7M912 228.2h-7M912 266.2h-7M939.7 303.5v7M974.8 303.5v7M1009.8 303.5v7M1044.9 303.5v7M1079.9 303.5v7M1115 303.5v7M1150 303.5v7M1185 303.5v7M1220.1 303.5v7M1255.2 303.5v7M1290.2 303.5v7M1325.2 303.5v7M1360.3 303.5v7M1395.3 303.5v7M1430.4 303.5v7M1465.5 303.5v7M1500.5 303.5v7M1535.5 303.5v7M1570.6 303.5v7M1605.7 303.5v7M1640.7 303.5v7M1675.8 303.5v7M1710.8 303.5v7" stroke="#1a1a1a" stroke-width="1.4" fill="none"/>
<g stroke="#333" stroke-width="0.8">
<circle cx="939.7" cy="38.6" r="14.3" fill="#680612"/>
<circle cx="974.8" cy="38.6" r="14.3" fill="#680612"/>
<circle cx="1009.8" cy="38.6" r="14.3" fill="#680612"/>
<circle cx="1044.9" cy="38.6" r="14.3" fill="#ea3f30"/>
<circle cx="1079.9" cy="38.6" r="14.3" fill="#c61c21"/>
<circle cx="1115" cy="38.6" r="7.9" fill="#f7ddd0"/>
<circle cx="1150" cy="38.6" r="3.2" fill="#f7ddd0"/>
<circle cx="1185" cy="38.6" r="1.7" fill="#f8eee9"/>
<circle cx="1220.1" cy="38.6" r="14.3" fill="#ea3f30"/>
<circle cx="1255.2" cy="38.6" r="14.3" fill="#f4694b"/>
<circle cx="1290.2" cy="38.6" r="11.1" fill="#ea3f30"/>
<circle cx="1325.2" cy="38.6" r="9.5" fill="#f8eee9"/>
<circle cx="1360.3" cy="38.6" r="12.7" fill="#f5a88d"/>
<circle cx="1395.3" cy="38.6" r="3.2" fill="#f7ddd0"/>
<circle cx="1430.4" cy="38.6" r="3.2" fill="#f7ddd0"/>
<circle cx="1465.5" cy="38.6" r="3.2" fill="#f7ddd0"/>
<circle cx="1500.5" cy="38.6" r="3.2" fill="#f7ddd0"/>
<circle cx="1535.5" cy="38.6" r="9.5" fill="#f5a88d"/>
<circle cx="1570.6" cy="38.6" r="14.3" fill="#c61c21"/>
<circle cx="1605.7" cy="38.6" r="14.3" fill="#f6c9b5"/>
<circle cx="1640.7" cy="38.6" r="14.3" fill="#f7ddd0"/>
<circle cx="1675.8" cy="38.6" r="14.3" fill="#f8eee9"/>
<circle cx="1710.8" cy="38.6" r="14.3" fill="#f7ddd0"/>
<circle cx="939.7" cy="76.5" r="14.3" fill="#f58f70"/>
<circle cx="974.8" cy="76.5" r="14.3" fill="#f58f70"/>
<circle cx="1009.8" cy="76.5" r="11.1" fill="#f58f70"/>
<circle cx="1044.9" cy="76.5" r="14.3" fill="#680612"/>
<circle cx="1079.9" cy="76.5" r="14.3" fill="#680612"/>
<circle cx="1115" cy="76.5" r="14.3" fill="#f4694b"/>
<circle cx="1150" cy="76.5" r="11.1" fill="#f58f70"/>
<circle cx="1185" cy="76.5" r="7.9" fill="#f6c9b5"/>
<circle cx="1220.1" cy="76.5" r="14.3" fill="#f58f70"/>
<circle cx="1255.2" cy="76.5" r="14.3" fill="#f5a88d"/>
<circle cx="1290.2" cy="76.5" r="7.9" fill="#f5a88d"/>
<circle cx="1325.2" cy="76.5" r="11.1" fill="#f8eee9"/>
<circle cx="1360.3" cy="76.5" r="14.3" fill="#f6c9b5"/>
<circle cx="1395.3" cy="76.5" r="3.2" fill="#f7ddd0"/>
<circle cx="1430.4" cy="76.5" r="3.2" fill="#f6c9b5"/>
<circle cx="1465.5" cy="76.5" r="3.2" fill="#f7ddd0"/>
<circle cx="1500.5" cy="76.5" r="1.7" fill="#f8eee9"/>
<circle cx="1535.5" cy="76.5" r="4.8" fill="#f7ddd0"/>
<circle cx="1570.6" cy="76.5" r="14.3" fill="#9c1218"/>
<circle cx="1605.7" cy="76.5" r="14.3" fill="#f6c9b5"/>
<circle cx="1640.7" cy="76.5" r="14.3" fill="#f7ddd0"/>
<circle cx="1675.8" cy="76.5" r="14.3" fill="#f8eee9"/>
<circle cx="1710.8" cy="76.5" r="14.3" fill="#f7ddd0"/>
<circle cx="939.7" cy="114.5" r="4.8" fill="#f8eee9"/>
<circle cx="974.8" cy="114.5" r="4.8" fill="#f7ddd0"/>
<circle cx="1009.8" cy="114.5" r="3.2" fill="#f7ddd0"/>
<circle cx="1044.9" cy="114.5" r="12.7" fill="#f58f70"/>
<circle cx="1079.9" cy="114.5" r="14.3" fill="#c61c21"/>
<circle cx="1115" cy="114.5" r="14.3" fill="#680612"/>
<circle cx="1150" cy="114.5" r="14.3" fill="#680612"/>
<circle cx="1185" cy="114.5" r="14.3" fill="#680612"/>
<circle cx="1220.1" cy="114.5" r="14.3" fill="#f7ddd0"/>
<circle cx="1255.2" cy="114.5" r="14.3" fill="#f5a88d"/>
<circle cx="1290.2" cy="114.5" r="7.9" fill="#f6c9b5"/>
<circle cx="1325.2" cy="114.5" r="12.7" fill="#f6c9b5"/>
<circle cx="1360.3" cy="114.5" r="14.3" fill="#f6c9b5"/>
<circle cx="1395.3" cy="114.5" r="6.4" fill="#f6c9b5"/>
<circle cx="1430.4" cy="114.5" r="4.8" fill="#f5a88d"/>
<circle cx="1465.5" cy="114.5" r="9.5" fill="#f5a88d"/>
<circle cx="1500.5" cy="114.5" r="1.7" fill="#f8eee9"/>
<circle cx="1535.5" cy="114.5" r="1.7" fill="#f8eee9"/>
<circle cx="1570.6" cy="114.5" r="14.3" fill="#680612"/>
<circle cx="1605.7" cy="114.5" r="14.3" fill="#f6c9b5"/>
<circle cx="1640.7" cy="114.5" r="14.3" fill="#f7ddd0"/>
<circle cx="1675.8" cy="114.5" r="14.3" fill="#f7ddd0"/>
<circle cx="1710.8" cy="114.5" r="14.3" fill="#f7ddd0"/>
<circle cx="939.7" cy="152.4" r="14.3" fill="#f4694b"/>
<circle cx="974.8" cy="152.4" r="14.3" fill="#f4694b"/>
<circle cx="1009.8" cy="152.4" r="11.1" fill="#f4694b"/>
<circle cx="1044.9" cy="152.4" r="9.5" fill="#f58f70"/>
<circle cx="1079.9" cy="152.4" r="14.3" fill="#f8eee9"/>
<circle cx="1115" cy="152.4" r="9.5" fill="#f6c9b5"/>
<circle cx="1150" cy="152.4" r="6.4" fill="#f6c9b5"/>
<circle cx="1185" cy="152.4" r="3.2" fill="#f7ddd0"/>
<circle cx="1220.1" cy="152.4" r="14.3" fill="#680612"/>
<circle cx="1255.2" cy="152.4" r="14.3" fill="#680612"/>
<circle cx="1290.2" cy="152.4" r="14.3" fill="#680612"/>
<circle cx="1325.2" cy="152.4" r="14.3" fill="#9c1218"/>
<circle cx="1360.3" cy="152.4" r="14.3" fill="#f58f70"/>
<circle cx="1395.3" cy="152.4" r="3.2" fill="#f7ddd0"/>
<circle cx="1430.4" cy="152.4" r="3.2" fill="#f5a88d"/>
<circle cx="1465.5" cy="152.4" r="3.2" fill="#f7ddd0"/>
<circle cx="1500.5" cy="152.4" r="3.2" fill="#f7ddd0"/>
<circle cx="1535.5" cy="152.4" r="6.4" fill="#f6c9b5"/>
<circle cx="1570.6" cy="152.4" r="14.3" fill="#ea3f30"/>
<circle cx="1605.7" cy="152.4" r="14.3" fill="#f6c9b5"/>
<circle cx="1640.7" cy="152.4" r="14.3" fill="#f7ddd0"/>
<circle cx="1675.8" cy="152.4" r="14.3" fill="#f58f70"/>
<circle cx="1710.8" cy="152.4" r="14.3" fill="#f6c9b5"/>
<circle cx="939.7" cy="190.3" r="14.3" fill="#f58f70"/>
<circle cx="974.8" cy="190.3" r="14.3" fill="#f58f70"/>
<circle cx="1009.8" cy="190.3" r="7.9" fill="#f5a88d"/>
<circle cx="1044.9" cy="190.3" r="7.9" fill="#f6c9b5"/>
<circle cx="1079.9" cy="190.3" r="14.3" fill="#f58f70"/>
<circle cx="1115" cy="190.3" r="6.4" fill="#f7ddd0"/>
<circle cx="1150" cy="190.3" r="3.2" fill="#f7ddd0"/>
<circle cx="1185" cy="190.3" r="1.7" fill="#f8eee9"/>
<circle cx="1220.1" cy="190.3" r="14.3" fill="#f8eee9"/>
<circle cx="1255.2" cy="190.3" r="14.3" fill="#f58f70"/>
<circle cx="1290.2" cy="190.3" r="11.1" fill="#ea3f30"/>
<circle cx="1325.2" cy="190.3" r="14.3" fill="#680612"/>
<circle cx="1360.3" cy="190.3" r="14.3" fill="#680612"/>
<circle cx="1395.3" cy="190.3" r="11.1" fill="#680612"/>
<circle cx="1430.4" cy="190.3" r="7.9" fill="#680612"/>
<circle cx="1465.5" cy="190.3" r="4.8" fill="#f7ddd0"/>
<circle cx="1500.5" cy="190.3" r="4.8" fill="#f7ddd0"/>
<circle cx="1535.5" cy="190.3" r="7.9" fill="#f5a88d"/>
<circle cx="1570.6" cy="190.3" r="14.3" fill="#f5a88d"/>
<circle cx="1605.7" cy="190.3" r="14.3" fill="#f8eee9"/>
<circle cx="1640.7" cy="190.3" r="14.3" fill="#f8eee9"/>
<circle cx="1675.8" cy="190.3" r="14.3" fill="#f5a88d"/>
<circle cx="1710.8" cy="190.3" r="14.3" fill="#f8eee9"/>
<circle cx="939.7" cy="228.2" r="14.3" fill="#ea3f30"/>
<circle cx="974.8" cy="228.2" r="14.3" fill="#f4694b"/>
<circle cx="1009.8" cy="228.2" r="12.7" fill="#ea3f30"/>
<circle cx="1044.9" cy="228.2" r="9.5" fill="#f5a88d"/>
<circle cx="1079.9" cy="228.2" r="14.3" fill="#f5a88d"/>
<circle cx="1115" cy="228.2" r="4.8" fill="#f8eee9"/>
<circle cx="1150" cy="228.2" r="3.2" fill="#f7ddd0"/>
<circle cx="1185" cy="228.2" r="1.7" fill="#f8eee9"/>
<circle cx="1220.1" cy="228.2" r="14.3" fill="#680612"/>
<circle cx="1255.2" cy="228.2" r="14.3" fill="#ea3f30"/>
<circle cx="1290.2" cy="228.2" r="11.1" fill="#f4694b"/>
<circle cx="1325.2" cy="228.2" r="12.7" fill="#ea3f30"/>
<circle cx="1360.3" cy="228.2" r="14.3" fill="#f58f70"/>
<circle cx="1395.3" cy="228.2" r="3.2" fill="#f7ddd0"/>
<circle cx="1430.4" cy="228.2" r="3.2" fill="#f7ddd0"/>
<circle cx="1465.5" cy="228.2" r="14.3" fill="#680612"/>
<circle cx="1500.5" cy="228.2" r="14.3" fill="#680612"/>
<circle cx="1535.5" cy="228.2" r="14.3" fill="#680612"/>
<circle cx="1570.6" cy="228.2" r="14.3" fill="#c61c21"/>
<circle cx="1605.7" cy="228.2" r="14.3" fill="#f5a88d"/>
<circle cx="1640.7" cy="228.2" r="14.3" fill="#f6c9b5"/>
<circle cx="1675.8" cy="228.2" r="14.3" fill="#f7ddd0"/>
<circle cx="1710.8" cy="228.2" r="14.3" fill="#f5a88d"/>
<circle cx="939.7" cy="266.2" r="1.7" fill="#f7ddd0"/>
<circle cx="974.8" cy="266.2" r="1.7" fill="#f7ddd0"/>
<circle cx="1044.9" cy="266.2" r="1.7" fill="#f7ddd0"/>
<circle cx="1079.9" cy="266.2" r="9.5" fill="#f8eee9"/>
<circle cx="1115" cy="266.2" r="4.8" fill="#f5a88d"/>
<circle cx="1150" cy="266.2" r="1.7" fill="#f7ddd0"/>
<circle cx="1185" cy="266.2" r="3.2" fill="#f7ddd0"/>
<circle cx="1220.1" cy="266.2" r="12.7" fill="#f58f70"/>
<circle cx="1255.2" cy="266.2" r="4.8" fill="#f8eee9"/>
<circle cx="1325.2" cy="266.2" r="6.4" fill="#f4694b"/>
<circle cx="1360.3" cy="266.2" r="4.8" fill="#f8eee9"/>
<circle cx="1430.4" cy="266.2" r="3.2" fill="#ea3f30"/>
<circle cx="1500.5" cy="266.2" r="3.2" fill="#f6c9b5"/>
<circle cx="1535.5" cy="266.2" r="4.8" fill="#f6c9b5"/>
<circle cx="1570.6" cy="266.2" r="12.7" fill="#f8eee9"/>
<circle cx="1605.7" cy="266.2" r="14.3" fill="#680612"/>
<circle cx="1640.7" cy="266.2" r="14.3" fill="#680612"/>
<circle cx="1675.8" cy="266.2" r="14.3" fill="#680612"/>
<circle cx="1710.8" cy="266.2" r="14.3" fill="#680612"/>
</g></g>
<g id="dot_b">
<rect x="915.4" y="502" width="824.1" height="303" fill="none" stroke="#111" stroke-width="1.8"/>
<text x="905.4" y="545.3" font-size="24" text-anchor="end">Homeo</text>
<text x="905.4" y="578.9" font-size="24" text-anchor="end">PreOPC</text>
<text x="905.4" y="612.5" font-size="24" text-anchor="end">COP</text>
<text x="905.4" y="646.2" font-size="24" text-anchor="end">Stress</text>
<text x="905.4" y="679.8" font-size="24" text-anchor="end">Dis1</text>
<text x="905.4" y="713.4" font-size="24" text-anchor="end">Dis2</text>
<text x="905.4" y="747" font-size="24" text-anchor="end">Mature</text>
<text x="905.4" y="780.6" font-size="24" text-anchor="end">PreOL</text>
<text transform="translate(949.2 812.5) rotate(-90)" font-size="24" text-anchor="end">MMD2</text>
<text transform="translate(980.1 812.5) rotate(-90)" font-size="24" text-anchor="end">MIR3681HG</text>
<text transform="translate(1011.1 812.5) rotate(-90)" font-size="24" text-anchor="end">ITGA8</text>
<text transform="translate(1042 812.5) rotate(-90)" font-size="24" text-anchor="end">DLC1</text>
<text transform="translate(1073 812.5) rotate(-90)" font-size="24" text-anchor="end">NRXN3</text>
<text transform="translate(1103.9 812.5) rotate(-90)" font-size="24" text-anchor="end">VIM</text>
<text transform="translate(1134.8 812.5) rotate(-90)" font-size="24" text-anchor="end">TRAK2</text>
<text transform="translate(1165.8 812.5) rotate(-90)" font-size="24" text-anchor="end">GPR17</text>
<text transform="translate(1196.7 812.5) rotate(-90)" font-size="24" text-anchor="end">BCAS1</text>
<text transform="translate(1227.7 812.5) rotate(-90)" font-size="24" text-anchor="end">MT-CO2</text>
<text transform="translate(1258.6 812.5) rotate(-90)" font-size="24" text-anchor="end">MT-ND4</text>
<text transform="translate(1289.5 812.5) rotate(-90)" font-size="24" text-anchor="end">MT-ND5</text>
<text transform="translate(1320.5 812.5) rotate(-90)" font-size="24" text-anchor="end">ANKRD10</text>
<text transform="translate(1351.4 812.5) rotate(-90)" font-size="24" text-anchor="end">CAMK2D</text>
<text transform="translate(1382.4 812.5) rotate(-90)" font-size="24" text-anchor="end">TPST1</text>
<text transform="translate(1413.3 812.5) rotate(-90)" font-size="24" text-anchor="end">SNED1</text>
<text transform="translate(1444.2 812.5) rotate(-90)" font-size="24" text-anchor="end">RALYL</text>
<text transform="translate(1475.2 812.5) rotate(-90)" font-size="24" text-anchor="end">CDH18</text>
<text transform="translate(1506.1 812.5) rotate(-90)" font-size="22.3" text-anchor="end">KCNMB2-AS1</text>
<text transform="translate(1537.1 812.5) rotate(-90)" font-size="24" text-anchor="end">TAFA1</text>
<text transform="translate(1568 812.5) rotate(-90)" font-size="24" text-anchor="end">SOX2</text>
<text transform="translate(1598.9 812.5) rotate(-90)" font-size="24" text-anchor="end">CLDN11</text>
<text transform="translate(1629.9 812.5) rotate(-90)" font-size="24" text-anchor="end">SOX10</text>
<text transform="translate(1660.8 812.5) rotate(-90)" font-size="24" text-anchor="end">MOBP</text>
<text transform="translate(1691.8 812.5) rotate(-90)" font-size="24" text-anchor="end">CTNNA3</text>
<text transform="translate(1722.7 812.5) rotate(-90)" font-size="24" text-anchor="end">PEX5L</text>
<path d="M915.4 535.9h-7M915.4 569.5h-7M915.4 603.1h-7M915.4 636.8h-7M915.4 670.4h-7M915.4 704h-7M915.4 737.6h-7M915.4 771.2h-7M939.7 805v7M970.6 805v7M1001.6 805v7M1032.5 805v7M1063.5 805v7M1094.4 805v7M1125.3 805v7M1156.3 805v7M1187.2 805v7M1218.2 805v7M1249.1 805v7M1280 805v7M1311 805v7M1341.9 805v7M1372.9 805v7M1403.8 805v7M1434.7 805v7M1465.7 805v7M1496.6 805v7M1527.6 805v7M1558.5 805v7M1589.4 805v7M1620.4 805v7M1651.3 805v7M1682.3 805v7M1713.2 805v7" stroke="#1a1a1a" stroke-width="1.4" fill="none"/>
<g stroke="#333" stroke-width="0.8">
<circle cx="939.7" cy="535.9" r="14.1" fill="#680612"/>
<circle cx="970.6" cy="535.9" r="7.8" fill="#680612"/>
<circle cx="1001.6" cy="535.9" r="11" fill="#680612"/>
<circle cx="1032.5" cy="535.9" r="14.1" fill="#f7ddd0"/>
<circle cx="1063.5" cy="535.9" r="7.8" fill="#f7ddd0"/>
<circle cx="1125.3" cy="535.9" r="7.8" fill="#f7ddd0"/>
<circle cx="1156.3" cy="535.9" r="7.8" fill="#f7ddd0"/>
<circle cx="1187.2" cy="535.9" r="14.1" fill="#f5a88d"/>
<circle cx="1218.2" cy="535.9" r="11" fill="#f7ddd0"/>
<circle cx="1249.1" cy="535.9" r="7.8" fill="#f8eee9"/>
<circle cx="1280" cy="535.9" r="3.1" fill="#f8eee9"/>
<circle cx="1311" cy="535.9" r="12.5" fill="#f6c9b5"/>
<circle cx="1341.9" cy="535.9" r="14.1" fill="#f6c9b5"/>
<circle cx="1372.9" cy="535.9" r="11" fill="#f8eee9"/>
<circle cx="1403.8" cy="535.9" r="1.7" fill="#f7ddd0"/>
<circle cx="1434.7" cy="535.9" r="14.1" fill="#ea3f30"/>
<circle cx="1465.7" cy="535.9" r="14.1" fill="#ea3f30"/>
<circle cx="1496.6" cy="535.9" r="14.1" fill="#ea3f30"/>
<circle cx="1527.6" cy="535.9" r="14.1" fill="#c61c21"/>
<circle cx="1558.5" cy="535.9" r="9.4" fill="#f6c9b5"/>
<circle cx="1589.4" cy="535.9" r="1.7" fill="#f8eee9"/>
<circle cx="1620.4" cy="535.9" r="9.4" fill="#f8eee9"/>
<circle cx="1651.3" cy="535.9" r="1.7" fill="#f8eee9"/>
<circle cx="1682.3" cy="535.9" r="4.7" fill="#f8eee9"/>
<circle cx="1713.2" cy="535.9" r="6.3" fill="#f7ddd0"/>
<circle cx="939.7" cy="569.5" r="6.3" fill="#f5a88d"/>
<circle cx="970.6" cy="569.5" r="1.7" fill="#f8eee9"/>
<circle cx="1032.5" cy="569.5" r="14.1" fill="#680612"/>
<circle cx="1063.5" cy="569.5" r="14.1" fill="#680612"/>
<circle cx="1094.4" cy="569.5" r="14.1" fill="#680612"/>
<circle cx="1125.3" cy="569.5" r="6.3" fill="#f7ddd0"/>
<circle cx="1156.3" cy="569.5" r="1.7" fill="#f8eee9"/>
<circle cx="1187.2" cy="569.5" r="6.3" fill="#f8eee9"/>
<circle cx="1218.2" cy="569.5" r="14.1" fill="#f4694b"/>
<circle cx="1249.1" cy="569.5" r="14.1" fill="#f4694b"/>
<circle cx="1280" cy="569.5" r="14.1" fill="#c61c21"/>
<circle cx="1311" cy="569.5" r="11" fill="#f6c9b5"/>
<circle cx="1341.9" cy="569.5" r="14.1" fill="#f58f70"/>
<circle cx="1372.9" cy="569.5" r="11" fill="#f5a88d"/>
<circle cx="1403.8" cy="569.5" r="4.7" fill="#f58f70"/>
<circle cx="1434.7" cy="569.5" r="3.1" fill="#f8eee9"/>
<circle cx="1465.7" cy="569.5" r="1.7" fill="#f8eee9"/>
<circle cx="1496.6" cy="569.5" r="6.3" fill="#f6c9b5"/>
<circle cx="1527.6" cy="569.5" r="1.7" fill="#f8eee9"/>
<circle cx="1558.5" cy="569.5" r="6.3" fill="#f8eee9"/>
<circle cx="1589.4" cy="569.5" r="3.1" fill="#f8eee9"/>
<circle cx="1620.4" cy="569.5" r="14.1" fill="#f58f70"/>
<circle cx="1651.3" cy="569.5" r="3.1" fill="#f7ddd0"/>
<circle cx="1682.3" cy="569.5" r="9.4" fill="#f6c9b5"/>
<circle cx="1713.2" cy="569.5" r="6.3" fill="#f7ddd0"/>
<circle cx="939.7" cy="603.1" r="6.3" fill="#f7ddd0"/>
<circle cx="970.6" cy="603.1" r="3.1" fill="#f8eee9"/>
<circle cx="1001.6" cy="603.1" r="1.7" fill="#f8eee9"/>
<circle cx="1032.5" cy="603.1" r="14.1" fill="#f8eee9"/>
<circle cx="1063.5" cy="603.1" r="7.8" fill="#f8eee9"/>
<circle cx="1125.3" cy="603.1" r="14.1" fill="#680612"/>
<circle cx="1156.3" cy="603.1" r="14.1" fill="#680612"/>
<circle cx="1187.2" cy="603.1" r="14.1" fill="#680612"/>
<circle cx="1218.2" cy="603.1" r="14.1" fill="#f58f70"/>
<circle cx="1249.1" cy="603.1" r="14.1" fill="#f58f70"/>
<circle cx="1280" cy="603.1" r="12.5" fill="#f5a88d"/>
<circle cx="1311" cy="603.1" r="14.1" fill="#f7ddd0"/>
<circle cx="1341.9" cy="603.1" r="14.1" fill="#f6c9b5"/>
<circle cx="1372.9" cy="603.1" r="14.1" fill="#f8eee9"/>
<circle cx="1403.8" cy="603.1" r="1.7" fill="#f8eee9"/>
<circle cx="1434.7" cy="603.1" r="14.1" fill="#c61c21"/>
<circle cx="1465.7" cy="603.1" r="14.1" fill="#c61c21"/>
<circle cx="1496.6" cy="603.1" r="14.1" fill="#f5a88d"/>
<circle cx="1527.6" cy="603.1" r="7.8" fill="#f6c9b5"/>
<circle cx="1558.5" cy="603.1" r="14.1" fill="#c61c21"/>
<circle cx="1589.4" cy="603.1" r="7.8" fill="#f7ddd0"/>
<circle cx="1620.4" cy="603.1" r="14.1" fill="#f4694b"/>
<circle cx="1651.3" cy="603.1" r="3.1" fill="#f8eee9"/>
<circle cx="1682.3" cy="603.1" r="14.1" fill="#f58f70"/>
<circle cx="1713.2" cy="603.1" r="3.1" fill="#f8eee9"/>
<circle cx="939.7" cy="636.8" r="7.8" fill="#f58f70"/>
<circle cx="970.6" cy="636.8" r="1.7" fill="#f7ddd0"/>
<circle cx="1001.6" cy="636.8" r="4.7" fill="#f5a88d"/>
<circle cx="1032.5" cy="636.8" r="14.1" fill="#f7ddd0"/>
<circle cx="1063.5" cy="636.8" r="11" fill="#f6c9b5"/>
<circle cx="1094.4" cy="636.8" r="1.7" fill="#f8eee9"/>
<circle cx="1125.3" cy="636.8" r="4.7" fill="#f8eee9"/>
<circle cx="1156.3" cy="636.8" r="6.3" fill="#f7ddd0"/>
<circle cx="1187.2" cy="636.8" r="14.1" fill="#f5a88d"/>
<circle cx="1218.2" cy="636.8" r="14.1" fill="#680612"/>
<circle cx="1249.1" cy="636.8" r="14.1" fill="#680612"/>
<circle cx="1280" cy="636.8" r="14.1" fill="#680612"/>
<circle cx="1311" cy="636.8" r="14.1" fill="#f58f70"/>
<circle cx="1341.9" cy="636.8" r="14.1" fill="#f6c9b5"/>
<circle cx="1372.9" cy="636.8" r="11" fill="#f6c9b5"/>
<circle cx="1403.8" cy="636.8" r="3.1" fill="#f7ddd0"/>
<circle cx="1434.7" cy="636.8" r="14.1" fill="#c61c21"/>
<circle cx="1465.7" cy="636.8" r="14.1" fill="#c61c21"/>
<circle cx="1496.6" cy="636.8" r="14.1" fill="#ea3f30"/>
<circle cx="1527.6" cy="636.8" r="14.1" fill="#c61c21"/>
<circle cx="1558.5" cy="636.8" r="9.4" fill="#f58f70"/>
<circle cx="1620.4" cy="636.8" r="9.4" fill="#f8eee9"/>
<circle cx="1651.3" cy="636.8" r="1.7" fill="#f8eee9"/>
<circle cx="1682.3" cy="636.8" r="7.8" fill="#f7ddd0"/>
<circle cx="1713.2" cy="636.8" r="6.3" fill="#f7ddd0"/>
<circle cx="939.7" cy="670.4" r="12.5" fill="#f4694b"/>
<circle cx="970.6" cy="670.4" r="3.1" fill="#f8eee9"/>
<circle cx="1001.6" cy="670.4" r="7.8" fill="#ea3f30"/>
<circle cx="1032.5" cy="670.4" r="14.1" fill="#f7ddd0"/>
<circle cx="1063.5" cy="670.4" r="11" fill="#f6c9b5"/>
<circle cx="1125.3" cy="670.4" r="9.4" fill="#f7ddd0"/>
<circle cx="1156.3" cy="670.4" r="7.8" fill="#f7ddd0"/>
<circle cx="1187.2" cy="670.4" r="14.1" fill="#f5a88d"/>
<circle cx="1218.2" cy="670.4" r="14.1" fill="#f7ddd0"/>
<circle cx="1249.1" cy="670.4" r="11" fill="#f8eee9"/>
<circle cx="1280" cy="670.4" r="4.7" fill="#f8eee9"/>
<circle cx="1311" cy="670.4" r="14.1" fill="#680612"/>
<circle cx="1341.9" cy="670.4" r="14.1" fill="#680612"/>
<circle cx="1372.9" cy="670.4" r="14.1" fill="#680612"/>
<circle cx="1403.8" cy="670.4" r="11" fill="#680612"/>
<circle cx="1434.7" cy="670.4" r="14.1" fill="#ea3f30"/>
<circle cx="1465.7" cy="670.4" r="14.1" fill="#ea3f30"/>
<circle cx="1496.6" cy="670.4" r="14.1" fill="#c61c21"/>
<circle cx="1527.6" cy="670.4" r="14.1" fill="#f4694b"/>
<circle cx="1558.5" cy="670.4" r="11" fill="#f6c9b5"/>
<circle cx="1589.4" cy="670.4" r="1.7" fill="#f8eee9"/>
<circle cx="1620.4" cy="670.4" r="14.1" fill="#f7ddd0"/>
<circle cx="1651.3" cy="670.4" r="1.7" fill="#f8eee9"/>
<circle cx="1682.3" cy="670.4" r="7.8" fill="#f7ddd0"/>
<circle cx="1713.2" cy="670.4" r="6.3" fill="#f7ddd0"/>
<circle cx="939.7" cy="704" r="12.5" fill="#f58f70"/>
<circle cx="970.6" cy="704" r="3.1" fill="#f7ddd0"/>
<circle cx="1001.6" cy="704" r="6.3" fill="#f58f70"/>
<circle cx="1032.5" cy="704" r="14.1" fill="#f7ddd0"/>
<circle cx="1063.5" cy="704" r="11" fill="#f7ddd0"/>
<circle cx="1125.3" cy="704" r="9.4" fill="#f7ddd0"/>
<circle cx="1156.3" cy="704" r="11" fill="#f7ddd0"/>
<circle cx="1187.2" cy="704" r="14.1" fill="#f5a88d"/>
<circle cx="1218.2" cy="704" r="12.5" fill="#f8eee9"/>
<circle cx="1249.1" cy="704" r="11" fill="#f8eee9"/>
<circle cx="1280" cy="704" r="4.7" fill="#f8eee9"/>
<circle cx="1311" cy="704" r="14.1" fill="#f4694b"/>
<circle cx="1341.9" cy="704" r="14.1" fill="#f58f70"/>
<circle cx="1372.9" cy="704" r="14.1" fill="#f5a88d"/>
<circle cx="1403.8" cy="704" r="4.7" fill="#f5a88d"/>
<circle cx="1434.7" cy="704" r="14.1" fill="#680612"/>
<circle cx="1465.7" cy="704" r="14.1" fill="#680612"/>
<circle cx="1496.6" cy="704" r="14.1" fill="#680612"/>
<circle cx="1527.6" cy="704" r="14.1" fill="#680612"/>
<circle cx="1558.5" cy="704" r="11" fill="#f5a88d"/>
<circle cx="1589.4" cy="704" r="1.7" fill="#f8eee9"/>
<circle cx="1620.4" cy="704" r="14.1" fill="#f7ddd0"/>
<circle cx="1651.3" cy="704" r="1.7" fill="#f8eee9"/>
<circle cx="1682.3" cy="704" r="11" fill="#f7ddd0"/>
<circle cx="1713.2" cy="704" r="3.1" fill="#f8eee9"/>
<circle cx="939.7" cy="737.6" r="4.7" fill="#f8eee9"/>
<circle cx="970.6" cy="737.6" r="3.1" fill="#f8eee9"/>
<circle cx="1001.6" cy="737.6" r="1.7" fill="#f7ddd0"/>
<circle cx="1032.5" cy="737.6" r="14.1" fill="#f8eee9"/>
<circle cx="1063.5" cy="737.6" r="7.8" fill="#f8eee9"/>
<circle cx="1125.3" cy="737.6" r="14.1" fill="#f58f70"/>
<circle cx="1156.3" cy="737.6" r="14.1" fill="#f4694b"/>
<circle cx="1187.2" cy="737.6" r="14.1" fill="#c61c21"/>
<circle cx="1218.2" cy="737.6" r="14.1" fill="#f4694b"/>
<circle cx="1249.1" cy="737.6" r="14.1" fill="#f58f70"/>
<circle cx="1280" cy="737.6" r="11" fill="#f5a88d"/>
<circle cx="1311" cy="737.6" r="14.1" fill="#f8eee9"/>
<circle cx="1341.9" cy="737.6" r="14.1" fill="#f8eee9"/>
<circle cx="1372.9" cy="737.6" r="14.1" fill="#f58f70"/>
<circle cx="1403.8" cy="737.6" r="1.7" fill="#f7ddd0"/>
<circle cx="1434.7" cy="737.6" r="14.1" fill="#f58f70"/>
<circle cx="1465.7" cy="737.6" r="14.1" fill="#f58f70"/>
<circle cx="1496.6" cy="737.6" r="7.8" fill="#f8eee9"/>
<circle cx="1527.6" cy="737.6" r="3.1" fill="#f8eee9"/>
<circle cx="1558.5" cy="737.6" r="14.1" fill="#680612"/>
<circle cx="1589.4" cy="737.6" r="14.1" fill="#680612"/>
<circle cx="1620.4" cy="737.6" r="14.1" fill="#680612"/>
<circle cx="1651.3" cy="737.6" r="14.1" fill="#680612"/>
<circle cx="1682.3" cy="737.6" r="14.1" fill="#f58f70"/>
<circle cx="1713.2" cy="737.6" r="9.4" fill="#f6c9b5"/>
<circle cx="939.7" cy="771.2" r="12.5" fill="#f58f70"/>
<circle cx="970.6" cy="771.2" r="7.8" fill="#c61c21"/>
<circle cx="1001.6" cy="771.2" r="11" fill="#c61c21"/>
<circle cx="1032.5" cy="771.2" r="14.1" fill="#f6c9b5"/>
<circle cx="1063.5" cy="771.2" r="14.1" fill="#f58f70"/>
<circle cx="1094.4" cy="771.2" r="1.7" fill="#f8eee9"/>
<circle cx="1125.3" cy="771.2" r="12.5" fill="#f7ddd0"/>
<circle cx="1156.3" cy="771.2" r="7.8" fill="#f7ddd0"/>
<circle cx="1187.2" cy="771.2" r="14.1" fill="#f5a88d"/>
<circle cx="1218.2" cy="771.2" r="14.1" fill="#f6c9b5"/>
<circle cx="1249.1" cy="771.2" r="14.1" fill="#f6c9b5"/>
<circle cx="1280" cy="771.2" r="7.8" fill="#f7ddd0"/>
<circle cx="1311" cy="771.2" r="14.1" fill="#f5a88d"/>
<circle cx="1341.9" cy="771.2" r="14.1" fill="#f5a88d"/>
<circle cx="1372.9" cy="771.2" r="14.1" fill="#f7ddd0"/>
<circle cx="1403.8" cy="771.2" r="6.3" fill="#f5a88d"/>
<circle cx="1434.7" cy="771.2" r="14.1" fill="#ea3f30"/>
<circle cx="1465.7" cy="771.2" r="14.1" fill="#ea3f30"/>
<circle cx="1496.6" cy="771.2" r="14.1" fill="#ea3f30"/>
<circle cx="1527.6" cy="771.2" r="14.1" fill="#c61c21"/>
<circle cx="1558.5" cy="771.2" r="12.5" fill="#f6c9b5"/>
<circle cx="1589.4" cy="771.2" r="14.1" fill="#f6c9b5"/>
<circle cx="1620.4" cy="771.2" r="14.1" fill="#f7ddd0"/>
<circle cx="1651.3" cy="771.2" r="14.1" fill="#9c1218"/>
<circle cx="1682.3" cy="771.2" r="14.1" fill="#680612"/>
<circle cx="1713.2" cy="771.2" r="14.1" fill="#680612"/>
</g></g>
<g id="dot_c">
<rect x="916.5" y="1014.2" width="823" height="328.8" fill="none" stroke="#111" stroke-width="1.8"/>
<text x="905.2" y="1063.8" font-size="24" text-anchor="end">Homeo1</text>
<text x="905.2" y="1104.9" font-size="24" text-anchor="end">Homeo2</text>
<text x="905.2" y="1146" font-size="24" text-anchor="end">Trans</text>
<text x="905.2" y="1187.1" font-size="24" text-anchor="end">CA</text>
<text x="905.2" y="1228.2" font-size="24" text-anchor="end">Dis</text>
<text x="905.2" y="1269.3" font-size="24" text-anchor="end">Rim</text>
<text x="905.2" y="1310.4" font-size="24" text-anchor="end">Phago</text>
<text transform="translate(962.5 1352.2) rotate(-90)" font-size="24" text-anchor="end">CX3CR1</text>
<text transform="translate(1009.2 1352.2) rotate(-90)" font-size="24" text-anchor="end">P2RY12</text>
<text transform="translate(1056 1352.2) rotate(-90)" font-size="24" text-anchor="end">SPP1</text>
<text transform="translate(1102.8 1352.2) rotate(-90)" font-size="22" text-anchor="end">ZEPM2-AS1</text>
<text transform="translate(1149.5 1352.2) rotate(-90)" font-size="24" text-anchor="end">MYO1E</text>
<text transform="translate(1196.2 1352.2) rotate(-90)" font-size="24" text-anchor="end">PTPRG</text>
<text transform="translate(1243 1352.2) rotate(-90)" font-size="24" text-anchor="end">GPNMB</text>
<text transform="translate(1289.8 1352.2) rotate(-90)" font-size="24" text-anchor="end">TNS1</text>
<text transform="translate(1336.5 1352.2) rotate(-90)" font-size="24" text-anchor="end">FTL</text>
<text transform="translate(1383.2 1352.2) rotate(-90)" font-size="24" text-anchor="end">APOE</text>
<text transform="translate(1430 1352.2) rotate(-90)" font-size="24" text-anchor="end">C1QA</text>
<text transform="translate(1476.8 1352.2) rotate(-90)" font-size="24" text-anchor="end">CD163</text>
<text transform="translate(1523.5 1352.2) rotate(-90)" font-size="24" text-anchor="end">F13A1</text>
<text transform="translate(1570.2 1352.2) rotate(-90)" font-size="24" text-anchor="end">MRC1</text>
<text transform="translate(1617 1352.2) rotate(-90)" font-size="24" text-anchor="end">FOXP1</text>
<text transform="translate(1663.8 1352.2) rotate(-90)" font-size="24" text-anchor="end">ACSL1</text>
<text transform="translate(1710.5 1352.2) rotate(-90)" font-size="24" text-anchor="end">SRGN</text>
<path d="M916.5 1055h-7M916.5 1096.1h-7M916.5 1137.2h-7M916.5 1178.3h-7M916.5 1219.4h-7M916.5 1260.5h-7M916.5 1301.6h-7M954 1343v7M1000.8 1343v7M1047.5 1343v7M1094.2 1343v7M1141 1343v7M1187.8 1343v7M1234.5 1343v7M1281.2 1343v7M1328 1343v7M1374.8 1343v7M1421.5 1343v7M1468.2 1343v7M1515 1343v7M1561.8 1343v7M1608.5 1343v7M1655.2 1343v7M1702 1343v7" stroke="#1a1a1a" stroke-width="1.4" fill="none"/>
<g stroke="#333" stroke-width="0.8">
<circle cx="954" cy="1055" r="6.8" fill="#ea3f30"/>
<circle cx="1000.8" cy="1055" r="6.8" fill="#f5a88d"/>
<circle cx="1047.5" cy="1055" r="15.4" fill="#ea3f30"/>
<circle cx="1094.2" cy="1055" r="5.1" fill="#f58f70"/>
<circle cx="1141" cy="1055" r="6.8" fill="#f8eee9"/>
<circle cx="1187.8" cy="1055" r="6.8" fill="#f7ddd0"/>
<circle cx="1234.5" cy="1055" r="3.4" fill="#f8eee9"/>
<circle cx="1281.2" cy="1055" r="1.8" fill="#f8eee9"/>
<circle cx="1328" cy="1055" r="12" fill="#f7ddd0"/>
<circle cx="1374.8" cy="1055" r="10.3" fill="#f8eee9"/>
<circle cx="1421.5" cy="1055" r="5.1" fill="#f6c9b5"/>
<circle cx="1468.2" cy="1055" r="3.4" fill="#f8eee9"/>
<circle cx="1515" cy="1055" r="1.8" fill="#f8eee9"/>
<circle cx="1561.8" cy="1055" r="1.8" fill="#f8eee9"/>
<circle cx="1608.5" cy="1055" r="12" fill="#f8eee9"/>
<circle cx="1655.2" cy="1055" r="10.3" fill="#f8eee9"/>
<circle cx="1702" cy="1055" r="10.3" fill="#f6c9b5"/>
<circle cx="954" cy="1096.1" r="13.7" fill="#680612"/>
<circle cx="1000.8" cy="1096.1" r="15.4" fill="#680612"/>
<circle cx="1047.5" cy="1096.1" r="15.4" fill="#f4694b"/>
<circle cx="1094.2" cy="1096.1" r="10.3" fill="#f4694b"/>
<circle cx="1141" cy="1096.1" r="15.4" fill="#f5a88d"/>
<circle cx="1187.8" cy="1096.1" r="12" fill="#f5a88d"/>
<circle cx="1234.5" cy="1096.1" r="6.8" fill="#f8eee9"/>
<circle cx="1281.2" cy="1096.1" r="1.8" fill="#f8eee9"/>
<circle cx="1328" cy="1096.1" r="15.4" fill="#f8eee9"/>
<circle cx="1374.8" cy="1096.1" r="15.4" fill="#f7ddd0"/>
<circle cx="1421.5" cy="1096.1" r="12" fill="#f7ddd0"/>
<circle cx="1468.2" cy="1096.1" r="5.1" fill="#f8eee9"/>
<circle cx="1515" cy="1096.1" r="1.8" fill="#f8eee9"/>
<circle cx="1561.8" cy="1096.1" r="3.4" fill="#f6c9b5"/>
<circle cx="1608.5" cy="1096.1" r="15.4" fill="#f58f70"/>
<circle cx="1655.2" cy="1096.1" r="15.4" fill="#f7ddd0"/>
<circle cx="1702" cy="1096.1" r="15.4" fill="#f7ddd0"/>
<circle cx="954" cy="1137.2" r="13.7" fill="#ea3f30"/>
<circle cx="1000.8" cy="1137.2" r="15.4" fill="#9c1218"/>
<circle cx="1047.5" cy="1137.2" r="15.4" fill="#680612"/>
<circle cx="1094.2" cy="1137.2" r="15.4" fill="#680612"/>
<circle cx="1141" cy="1137.2" r="15.4" fill="#680612"/>
<circle cx="1187.8" cy="1137.2" r="15.4" fill="#c61c21"/>
<circle cx="1234.5" cy="1137.2" r="13.7" fill="#f5a88d"/>
<circle cx="1281.2" cy="1137.2" r="5.1" fill="#f6c9b5"/>
<circle cx="1328" cy="1137.2" r="15.4" fill="#f58f70"/>
<circle cx="1374.8" cy="1137.2" r="15.4" fill="#f5a88d"/>
<circle cx="1421.5" cy="1137.2" r="13.7" fill="#f6c9b5"/>
<circle cx="1468.2" cy="1137.2" r="10.3" fill="#f7ddd0"/>
<circle cx="1515" cy="1137.2" r="1.8" fill="#f8eee9"/>
<circle cx="1561.8" cy="1137.2" r="1.8" fill="#f8eee9"/>
<circle cx="1608.5" cy="1137.2" r="15.4" fill="#f6c9b5"/>
<circle cx="1655.2" cy="1137.2" r="15.4" fill="#f58f70"/>
<circle cx="1702" cy="1137.2" r="15.4" fill="#f7ddd0"/>
<circle cx="954" cy="1178.3" r="5.1" fill="#f8eee9"/>
<circle cx="1000.8" cy="1178.3" r="10.3" fill="#f5a88d"/>
<circle cx="1047.5" cy="1178.3" r="15.4" fill="#f5a88d"/>
<circle cx="1094.2" cy="1178.3" r="8.6" fill="#f58f70"/>
<circle cx="1141" cy="1178.3" r="15.4" fill="#9c1218"/>
<circle cx="1187.8" cy="1178.3" r="15.4" fill="#680612"/>
<circle cx="1234.5" cy="1178.3" r="15.4" fill="#680612"/>
<circle cx="1281.2" cy="1178.3" r="15.4" fill="#680612"/>
<circle cx="1328" cy="1178.3" r="15.4" fill="#ea3f30"/>
<circle cx="1374.8" cy="1178.3" r="15.4" fill="#f58f70"/>
<circle cx="1421.5" cy="1178.3" r="12" fill="#f8eee9"/>
<circle cx="1468.2" cy="1178.3" r="15.4" fill="#f58f70"/>
<circle cx="1515" cy="1178.3" r="1.8" fill="#f8eee9"/>
<circle cx="1561.8" cy="1178.3" r="5.1" fill="#f5a88d"/>
<circle cx="1608.5" cy="1178.3" r="15.4" fill="#f5a88d"/>
<circle cx="1655.2" cy="1178.3" r="15.4" fill="#f58f70"/>
<circle cx="1702" cy="1178.3" r="13.7" fill="#f8eee9"/>
<circle cx="954" cy="1219.4" r="12" fill="#ea3f30"/>
<circle cx="1000.8" cy="1219.4" r="12" fill="#f58f70"/>
<circle cx="1047.5" cy="1219.4" r="15.4" fill="#f5a88d"/>
<circle cx="1094.2" cy="1219.4" r="3.4" fill="#f7ddd0"/>
<circle cx="1141" cy="1219.4" r="15.4" fill="#f6c9b5"/>
<circle cx="1187.8" cy="1219.4" r="12" fill="#f5a88d"/>
<circle cx="1234.5" cy="1219.4" r="15.4" fill="#f58f70"/>
<circle cx="1281.2" cy="1219.4" r="6.8" fill="#f5a88d"/>
<circle cx="1328" cy="1219.4" r="15.4" fill="#680612"/>
<circle cx="1374.8" cy="1219.4" r="15.4" fill="#680612"/>
<circle cx="1421.5" cy="1219.4" r="15.4" fill="#680612"/>
<circle cx="1468.2" cy="1219.4" r="15.4" fill="#ea3f30"/>
<circle cx="1515" cy="1219.4" r="8.6" fill="#f5a88d"/>
<circle cx="1561.8" cy="1219.4" r="5.1" fill="#f5a88d"/>
<circle cx="1608.5" cy="1219.4" r="15.4" fill="#ea3f30"/>
<circle cx="1655.2" cy="1219.4" r="15.4" fill="#f5a88d"/>
<circle cx="1702" cy="1219.4" r="15.4" fill="#f58f70"/>
<circle cx="954" cy="1260.5" r="8.6" fill="#f58f70"/>
<circle cx="1000.8" cy="1260.5" r="10.3" fill="#f58f70"/>
<circle cx="1047.5" cy="1260.5" r="15.4" fill="#f8eee9"/>
<circle cx="1094.2" cy="1260.5" r="1.8" fill="#f8eee9"/>
<circle cx="1141" cy="1260.5" r="13.7" fill="#f7ddd0"/>
<circle cx="1187.8" cy="1260.5" r="5.1" fill="#f8eee9"/>
<circle cx="1234.5" cy="1260.5" r="10.3" fill="#f6c9b5"/>
<circle cx="1281.2" cy="1260.5" r="5.1" fill="#f7ddd0"/>
<circle cx="1328" cy="1260.5" r="15.4" fill="#f58f70"/>
<circle cx="1374.8" cy="1260.5" r="15.4" fill="#f4694b"/>
<circle cx="1421.5" cy="1260.5" r="15.4" fill="#f4694b"/>
<circle cx="1468.2" cy="1260.5" r="15.4" fill="#680612"/>
<circle cx="1515" cy="1260.5" r="15.4" fill="#680612"/>
<circle cx="1561.8" cy="1260.5" r="12" fill="#680612"/>
<circle cx="1608.5" cy="1260.5" r="15.4" fill="#680612"/>
<circle cx="1655.2" cy="1260.5" r="15.4" fill="#f58f70"/>
<circle cx="1702" cy="1260.5" r="15.4" fill="#f58f70"/>
<circle cx="954" cy="1301.6" r="3.4" fill="#f8eee9"/>
<circle cx="1000.8" cy="1301.6" r="3.4" fill="#f8eee9"/>
<circle cx="1047.5" cy="1301.6" r="15.4" fill="#f5a88d"/>
<circle cx="1094.2" cy="1301.6" r="5.1" fill="#f6c9b5"/>
<circle cx="1141" cy="1301.6" r="13.7" fill="#f6c9b5"/>
<circle cx="1187.8" cy="1301.6" r="15.4" fill="#f4694b"/>
<circle cx="1234.5" cy="1301.6" r="8.6" fill="#f7ddd0"/>
<circle cx="1281.2" cy="1301.6" r="1.8" fill="#f8eee9"/>
<circle cx="1328" cy="1301.6" r="15.4" fill="#f6c9b5"/>
<circle cx="1374.8" cy="1301.6" r="15.4" fill="#f58f70"/>
<circle cx="1421.5" cy="1301.6" r="10.3" fill="#f8eee9"/>
<circle cx="1468.2" cy="1301.6" r="13.7" fill="#f5a88d"/>
<circle cx="1515" cy="1301.6" r="5.1" fill="#f6c9b5"/>
<circle cx="1561.8" cy="1301.6" r="1.8" fill="#f8eee9"/>
<circle cx="1608.5" cy="1301.6" r="15.4" fill="#9c1218"/>
<circle cx="1655.2" cy="1301.6" r="15.4" fill="#680612"/>
<circle cx="1702" cy="1301.6" r="15.4" fill="#680612"/>
</g></g>
<g id="dot_d">
<rect x="917.3" y="1538" width="822.2" height="335.2" fill="none" stroke="#111" stroke-width="1.8"/>
<text x="906.8" y="1577.4" font-size="24" text-anchor="end">Homeo</text>
<text x="906.8" y="1607.9" font-size="24" text-anchor="end">Pericyte</text>
<text x="906.8" y="1638.3" font-size="24" text-anchor="end">MF</text>
<text x="906.8" y="1668.8" font-size="24" text-anchor="end">Arteriole</text>
<text x="906.8" y="1699.3" font-size="24" text-anchor="end">Venule</text>
<text x="906.8" y="1729.8" font-size="24" text-anchor="end">Capillaries</text>
<text x="906.8" y="1760.2" font-size="24" text-anchor="end">IMEC1</text>
<text x="906.8" y="1790.7" font-size="24" text-anchor="end">IMEC2</text>
<text x="906.8" y="1821.2" font-size="24" text-anchor="end">EL</text>
<text x="906.8" y="1851.6" font-size="24" text-anchor="end">Prolif</text>
<text transform="translate(950 1880.9) rotate(-90)" font-size="24" text-anchor="end">HIGD1B</text>
<text transform="translate(979.8 1880.9) rotate(-90)" font-size="24" text-anchor="end">GRM8</text>
<text transform="translate(1009.6 1880.9) rotate(-90)" font-size="24" text-anchor="end">PDGFRB</text>
<text transform="translate(1039.5 1880.9) rotate(-90)" font-size="24" text-anchor="end">CEMIP</text>
<text transform="translate(1069.3 1880.9) rotate(-90)" font-size="24" text-anchor="end">ABCA9</text>
<text transform="translate(1099.1 1880.9) rotate(-90)" font-size="24" text-anchor="end">ACTA2</text>
<text transform="translate(1128.9 1880.9) rotate(-90)" font-size="24" text-anchor="end">VEGFC</text>
<text transform="translate(1158.7 1880.9) rotate(-90)" font-size="24" text-anchor="end">SEMA3G</text>
<text transform="translate(1188.6 1880.9) rotate(-90)" font-size="24" text-anchor="end">NOS1</text>
<text transform="translate(1218.4 1880.9) rotate(-90)" font-size="24" text-anchor="end">LRRC1</text>
<text transform="translate(1248.2 1880.9) rotate(-90)" font-size="24" text-anchor="end">ACKR1</text>
<text transform="translate(1278 1880.9) rotate(-90)" font-size="24" text-anchor="end">TSHZ2</text>
<text transform="translate(1307.8 1880.9) rotate(-90)" font-size="24" text-anchor="end">ATP10A</text>
<text transform="translate(1337.7 1880.9) rotate(-90)" font-size="24" text-anchor="end">TMEM132C</text>
<text transform="translate(1367.5 1880.9) rotate(-90)" font-size="24" text-anchor="end">PROM1</text>
<text transform="translate(1397.3 1880.9) rotate(-90)" font-size="24" text-anchor="end">CD44</text>
<text transform="translate(1427.1 1880.9) rotate(-90)" font-size="24" text-anchor="end">CD58</text>
<text transform="translate(1456.9 1880.9) rotate(-90)" font-size="24" text-anchor="end">PTPRC</text>
<text transform="translate(1486.8 1880.9) rotate(-90)" font-size="24" text-anchor="end">FCGRT</text>
<text transform="translate(1516.6 1880.9) rotate(-90)" font-size="24" text-anchor="end">LYVE1</text>
<text transform="translate(1546.4 1880.9) rotate(-90)" font-size="24" text-anchor="end">STAB1</text>
<text transform="translate(1576.2 1880.9) rotate(-90)" font-size="24" text-anchor="end">ERBIN</text>
<text transform="translate(1606 1880.9) rotate(-90)" font-size="24" text-anchor="end">MEIS2</text>
<text transform="translate(1635.9 1880.9) rotate(-90)" font-size="24" text-anchor="end">ITGB8</text>
<text transform="translate(1665.7 1880.9) rotate(-90)" font-size="24" text-anchor="end">MT1M</text>
<text transform="translate(1695.5 1880.9) rotate(-90)" font-size="24" text-anchor="end">VIM</text>
<text transform="translate(1725.3 1880.9) rotate(-90)" font-size="24" text-anchor="end">IFI27</text>
<path d="M917.3 1568.3h-7M917.3 1598.8h-7M917.3 1629.2h-7M917.3 1659.7h-7M917.3 1690.2h-7M917.3 1720.6h-7M917.3 1751.1h-7M917.3 1781.6h-7M917.3 1812.1h-7M917.3 1842.5h-7M940.8 1873.2v7M970.6 1873.2v7M1000.4 1873.2v7M1030.3 1873.2v7M1060.1 1873.2v7M1089.9 1873.2v7M1119.7 1873.2v7M1149.5 1873.2v7M1179.4 1873.2v7M1209.2 1873.2v7M1239 1873.2v7M1268.8 1873.2v7M1298.6 1873.2v7M1328.5 1873.2v7M1358.3 1873.2v7M1388.1 1873.2v7M1417.9 1873.2v7M1447.7 1873.2v7M1477.6 1873.2v7M1507.4 1873.2v7M1537.2 1873.2v7M1567 1873.2v7M1596.8 1873.2v7M1626.7 1873.2v7M1656.5 1873.2v7M1686.3 1873.2v7M1716.1 1873.2v7" stroke="#1a1a1a" stroke-width="1.4" fill="none"/>
<g stroke="#333" stroke-width="0.8">
<circle cx="940.8" cy="1568.3" r="1.7" fill="#f8eee9"/>
<circle cx="970.6" cy="1568.3" r="3.1" fill="#f7ddd0"/>
<circle cx="1000.4" cy="1568.3" r="3.1" fill="#f7ddd0"/>
<circle cx="1030.3" cy="1568.3" r="1.7" fill="#f8eee9"/>
<circle cx="1060.1" cy="1568.3" r="1.7" fill="#f8eee9"/>
<circle cx="1089.9" cy="1568.3" r="1.7" fill="#f8eee9"/>
<circle cx="1119.7" cy="1568.3" r="3.1" fill="#f8eee9"/>
<circle cx="1149.5" cy="1568.3" r="1.7" fill="#f8eee9"/>
<circle cx="1179.4" cy="1568.3" r="1.7" fill="#f8eee9"/>
<circle cx="1209.2" cy="1568.3" r="1.7" fill="#f8eee9"/>
<circle cx="1239" cy="1568.3" r="1.7" fill="#f8eee9"/>
<circle cx="1268.8" cy="1568.3" r="6.2" fill="#f7ddd0"/>
<circle cx="1298.6" cy="1568.3" r="14" fill="#f5a88d"/>
<circle cx="1328.5" cy="1568.3" r="7.8" fill="#f5a88d"/>
<circle cx="1358.3" cy="1568.3" r="4.7" fill="#f58f70"/>
<circle cx="1388.1" cy="1568.3" r="1.7" fill="#f8eee9"/>
<circle cx="1417.9" cy="1568.3" r="3.1" fill="#f8eee9"/>
<circle cx="1447.7" cy="1568.3" r="1.7" fill="#f8eee9"/>
<circle cx="1477.6" cy="1568.3" r="3.1" fill="#f4694b"/>
<circle cx="1537.2" cy="1568.3" r="4.7" fill="#f5a88d"/>
<circle cx="1567" cy="1568.3" r="9.3" fill="#f8eee9"/>
<circle cx="1596.8" cy="1568.3" r="1.7" fill="#f8eee9"/>
<circle cx="1656.5" cy="1568.3" r="4.7" fill="#f8eee9"/>
<circle cx="1686.3" cy="1568.3" r="9.3" fill="#f8eee9"/>
<circle cx="1716.1" cy="1568.3" r="9.3" fill="#f8eee9"/>
<circle cx="940.8" cy="1598.8" r="14" fill="#680612"/>
<circle cx="970.6" cy="1598.8" r="14" fill="#680612"/>
<circle cx="1000.4" cy="1598.8" r="14" fill="#680612"/>
<circle cx="1030.3" cy="1598.8" r="3.1" fill="#f8eee9"/>
<circle cx="1060.1" cy="1598.8" r="14" fill="#f58f70"/>
<circle cx="1089.9" cy="1598.8" r="9.3" fill="#ea3f30"/>
<circle cx="1119.7" cy="1598.8" r="9.3" fill="#f8eee9"/>
<circle cx="1149.5" cy="1598.8" r="4.7" fill="#f7ddd0"/>
<circle cx="1179.4" cy="1598.8" r="3.1" fill="#f8eee9"/>
<circle cx="1209.2" cy="1598.8" r="7.8" fill="#f7ddd0"/>
<circle cx="1239" cy="1598.8" r="1.7" fill="#f8eee9"/>
<circle cx="1268.8" cy="1598.8" r="9.3" fill="#f7ddd0"/>
<circle cx="1298.6" cy="1598.8" r="14" fill="#f6c9b5"/>
<circle cx="1328.5" cy="1598.8" r="12.4" fill="#f5a88d"/>
<circle cx="1358.3" cy="1598.8" r="7.8" fill="#f6c9b5"/>
<circle cx="1388.1" cy="1598.8" r="6.2" fill="#f5a88d"/>
<circle cx="1417.9" cy="1598.8" r="10.9" fill="#f4694b"/>
<circle cx="1447.7" cy="1598.8" r="1.7" fill="#f8eee9"/>
<circle cx="1477.6" cy="1598.8" r="7.8" fill="#f58f70"/>
<circle cx="1507.4" cy="1598.8" r="1.7" fill="#f8eee9"/>
<circle cx="1537.2" cy="1598.8" r="6.2" fill="#f8eee9"/>
<circle cx="1567" cy="1598.8" r="14" fill="#f5a88d"/>
<circle cx="1626.7" cy="1598.8" r="1.7" fill="#f8eee9"/>
<circle cx="1656.5" cy="1598.8" r="12.4" fill="#f6c9b5"/>
<circle cx="1686.3" cy="1598.8" r="14" fill="#f5a88d"/>
<circle cx="1716.1" cy="1598.8" r="14" fill="#f7ddd0"/>
<circle cx="940.8" cy="1629.2" r="14" fill="#9c1218"/>
<circle cx="970.6" cy="1629.2" r="14" fill="#f4694b"/>
<circle cx="1000.4" cy="1629.2" r="14" fill="#ea3f30"/>
<circle cx="1030.3" cy="1629.2" r="14" fill="#680612"/>
<circle cx="1060.1" cy="1629.2" r="14" fill="#680612"/>
<circle cx="1089.9" cy="1629.2" r="14" fill="#680612"/>
<circle cx="1119.7" cy="1629.2" r="14" fill="#f6c9b5"/>
<circle cx="1149.5" cy="1629.2" r="9.3" fill="#f5a88d"/>
<circle cx="1179.4" cy="1629.2" r="7.8" fill="#f6c9b5"/>
<circle cx="1209.2" cy="1629.2" r="14" fill="#f6c9b5"/>
<circle cx="1239" cy="1629.2" r="6.2" fill="#f5a88d"/>
<circle cx="1268.8" cy="1629.2" r="14" fill="#f6c9b5"/>
<circle cx="1298.6" cy="1629.2" r="14" fill="#f8eee9"/>
<circle cx="1328.5" cy="1629.2" r="14" fill="#ea3f30"/>
<circle cx="1358.3" cy="1629.2" r="7.8" fill="#f8eee9"/>
<circle cx="1388.1" cy="1629.2" r="14" fill="#ea3f30"/>
<circle cx="1417.9" cy="1629.2" r="14" fill="#f58f70"/>
<circle cx="1447.7" cy="1629.2" r="14" fill="#f6c9b5"/>
<circle cx="1477.6" cy="1629.2" r="14" fill="#ea3f30"/>
<circle cx="1507.4" cy="1629.2" r="9.3" fill="#ea3f30"/>
<circle cx="1537.2" cy="1629.2" r="14" fill="#f5a88d"/>
<circle cx="1567" cy="1629.2" r="14" fill="#f4694b"/>
<circle cx="1596.8" cy="1629.2" r="1.7" fill="#f8eee9"/>
<circle cx="1626.7" cy="1629.2" r="4.7" fill="#f5a88d"/>
<circle cx="1656.5" cy="1629.2" r="14" fill="#f58f70"/>
<circle cx="1686.3" cy="1629.2" r="14" fill="#f58f70"/>
<circle cx="1716.1" cy="1629.2" r="14" fill="#f6c9b5"/>
<circle cx="940.8" cy="1659.7" r="7.8" fill="#f6c9b5"/>
<circle cx="970.6" cy="1659.7" r="3.1" fill="#f8eee9"/>
<circle cx="1000.4" cy="1659.7" r="7.8" fill="#f7ddd0"/>
<circle cx="1030.3" cy="1659.7" r="7.8" fill="#f5a88d"/>
<circle cx="1060.1" cy="1659.7" r="3.1" fill="#f8eee9"/>
<circle cx="1089.9" cy="1659.7" r="4.7" fill="#f7ddd0"/>
<circle cx="1119.7" cy="1659.7" r="14" fill="#680612"/>
<circle cx="1149.5" cy="1659.7" r="14" fill="#680612"/>
<circle cx="1179.4" cy="1659.7" r="14" fill="#680612"/>
<circle cx="1209.2" cy="1659.7" r="4.7" fill="#f8eee9"/>
<circle cx="1268.8" cy="1659.7" r="3.1" fill="#f8eee9"/>
<circle cx="1298.6" cy="1659.7" r="14" fill="#f5a88d"/>
<circle cx="1328.5" cy="1659.7" r="9.3" fill="#f6c9b5"/>
<circle cx="1358.3" cy="1659.7" r="6.2" fill="#f5a88d"/>
<circle cx="1388.1" cy="1659.7" r="6.2" fill="#f6c9b5"/>
<circle cx="1417.9" cy="1659.7" r="9.3" fill="#ea3f30"/>
<circle cx="1447.7" cy="1659.7" r="3.1" fill="#f8eee9"/>
<circle cx="1477.6" cy="1659.7" r="6.2" fill="#f5a88d"/>
<circle cx="1537.2" cy="1659.7" r="7.8" fill="#f5a88d"/>
<circle cx="1567" cy="1659.7" r="14" fill="#f4694b"/>
<circle cx="1656.5" cy="1659.7" r="6.2" fill="#f8eee9"/>
<circle cx="1686.3" cy="1659.7" r="14" fill="#f4694b"/>
<circle cx="1716.1" cy="1659.7" r="14" fill="#f58f70"/>
<circle cx="940.8" cy="1690.2" r="7.8" fill="#f6c9b5"/>
<circle cx="970.6" cy="1690.2" r="3.1" fill="#f8eee9"/>
<circle cx="1000.4" cy="1690.2" r="4.7" fill="#f8eee9"/>
<circle cx="1030.3" cy="1690.2" r="7.8" fill="#f5a88d"/>
<circle cx="1060.1" cy="1690.2" r="1.7" fill="#f8eee9"/>
<circle cx="1089.9" cy="1690.2" r="4.7" fill="#f7ddd0"/>
<circle cx="1119.7" cy="1690.2" r="7.8" fill="#f8eee9"/>
<circle cx="1179.4" cy="1690.2" r="1.7" fill="#f8eee9"/>
<circle cx="1209.2" cy="1690.2" r="14" fill="#680612"/>
<circle cx="1239" cy="1690.2" r="14" fill="#680612"/>
<circle cx="1268.8" cy="1690.2" r="14" fill="#680612"/>
<circle cx="1298.6" cy="1690.2" r="14" fill="#ea3f30"/>
<circle cx="1328.5" cy="1690.2" r="9.3" fill="#f8eee9"/>
<circle cx="1358.3" cy="1690.2" r="7.8" fill="#f5a88d"/>
<circle cx="1388.1" cy="1690.2" r="3.1" fill="#f8eee9"/>
<circle cx="1417.9" cy="1690.2" r="7.8" fill="#f7ddd0"/>
<circle cx="1447.7" cy="1690.2" r="3.1" fill="#f8eee9"/>
<circle cx="1477.6" cy="1690.2" r="7.8" fill="#f4694b"/>
<circle cx="1537.2" cy="1690.2" r="9.3" fill="#f58f70"/>
<circle cx="1567" cy="1690.2" r="14" fill="#f58f70"/>
<circle cx="1656.5" cy="1690.2" r="14" fill="#ea3f30"/>
<circle cx="1686.3" cy="1690.2" r="14" fill="#f5a88d"/>
<circle cx="1716.1" cy="1690.2" r="14" fill="#f58f70"/>
<circle cx="940.8" cy="1720.6" r="7.8" fill="#f5a88d"/>
<circle cx="970.6" cy="1720.6" r="1.7" fill="#f8eee9"/>
<circle cx="1000.4" cy="1720.6" r="1.7" fill="#f8eee9"/>
<circle cx="1030.3" cy="1720.6" r="3.1" fill="#f8eee9"/>
<circle cx="1060.1" cy="1720.6" r="1.7" fill="#f8eee9"/>
<circle cx="1089.9" cy="1720.6" r="4.7" fill="#f7ddd0"/>
<circle cx="1119.7" cy="1720.6" r="10.9" fill="#f5a88d"/>
<circle cx="1149.5" cy="1720.6" r="3.1" fill="#f7ddd0"/>
<circle cx="1179.4" cy="1720.6" r="1.7" fill="#f8eee9"/>
<circle cx="1209.2" cy="1720.6" r="7.8" fill="#f7ddd0"/>
<circle cx="1268.8" cy="1720.6" r="12.4" fill="#f5a88d"/>
<circle cx="1298.6" cy="1720.6" r="14" fill="#680612"/>
<circle cx="1328.5" cy="1720.6" r="14" fill="#680612"/>
<circle cx="1358.3" cy="1720.6" r="12.4" fill="#680612"/>
<circle cx="1388.1" cy="1720.6" r="1.7" fill="#f8eee9"/>
<circle cx="1417.9" cy="1720.6" r="9.3" fill="#f4694b"/>
<circle cx="1447.7" cy="1720.6" r="1.7" fill="#f8eee9"/>
<circle cx="1477.6" cy="1720.6" r="4.7" fill="#f6c9b5"/>
<circle cx="1537.2" cy="1720.6" r="6.2" fill="#f7ddd0"/>
<circle cx="1567" cy="1720.6" r="14" fill="#f58f70"/>
<circle cx="1656.5" cy="1720.6" r="12.4" fill="#f58f70"/>
<circle cx="1686.3" cy="1720.6" r="14" fill="#f5a88d"/>
<circle cx="1716.1" cy="1720.6" r="14" fill="#f58f70"/>
<circle cx="940.8" cy="1751.1" r="12.4" fill="#ea3f30"/>
<circle cx="970.6" cy="1751.1" r="10.9" fill="#f58f70"/>
<circle cx="1000.4" cy="1751.1" r="9.3" fill="#f7ddd0"/>
<circle cx="1030.3" cy="1751.1" r="3.1" fill="#f8eee9"/>
<circle cx="1060.1" cy="1751.1" r="6.2" fill="#f8eee9"/>
<circle cx="1089.9" cy="1751.1" r="7.8" fill="#f58f70"/>
<circle cx="1119.7" cy="1751.1" r="14" fill="#f5a88d"/>
<circle cx="1149.5" cy="1751.1" r="3.1" fill="#f7ddd0"/>
<circle cx="1179.4" cy="1751.1" r="4.7" fill="#f6c9b5"/>
<circle cx="1209.2" cy="1751.1" r="9.3" fill="#f8eee9"/>
<circle cx="1239" cy="1751.1" r="3.1" fill="#f7ddd0"/>
<circle cx="1268.8" cy="1751.1" r="6.2" fill="#f8eee9"/>
<circle cx="1298.6" cy="1751.1" r="14" fill="#f4694b"/>
<circle cx="1328.5" cy="1751.1" r="14" fill="#f58f70"/>
<circle cx="1358.3" cy="1751.1" r="10.9" fill="#ea3f30"/>
<circle cx="1388.1" cy="1751.1" r="14" fill="#680612"/>
<circle cx="1417.9" cy="1751.1" r="14" fill="#680612"/>
<circle cx="1447.7" cy="1751.1" r="14" fill="#680612"/>
<circle cx="1477.6" cy="1751.1" r="4.7" fill="#f8eee9"/>
<circle cx="1507.4" cy="1751.1" r="1.7" fill="#f7ddd0"/>
<circle cx="1537.2" cy="1751.1" r="6.2" fill="#f8eee9"/>
<circle cx="1567" cy="1751.1" r="14" fill="#ea3f30"/>
<circle cx="1656.5" cy="1751.1" r="14" fill="#f4694b"/>
<circle cx="1686.3" cy="1751.1" r="14" fill="#f58f70"/>
<circle cx="1716.1" cy="1751.1" r="14" fill="#f58f70"/>
<circle cx="940.8" cy="1781.6" r="7.8" fill="#f5a88d"/>
<circle cx="970.6" cy="1781.6" r="4.7" fill="#f7ddd0"/>
<circle cx="1000.4" cy="1781.6" r="4.7" fill="#f8eee9"/>
<circle cx="1030.3" cy="1781.6" r="1.7" fill="#f8eee9"/>
<circle cx="1060.1" cy="1781.6" r="4.7" fill="#f8eee9"/>
<circle cx="1089.9" cy="1781.6" r="4.7" fill="#f8eee9"/>
<circle cx="1119.7" cy="1781.6" r="10.9" fill="#f5a88d"/>
<circle cx="1149.5" cy="1781.6" r="1.7" fill="#f8eee9"/>
<circle cx="1179.4" cy="1781.6" r="1.7" fill="#f8eee9"/>
<circle cx="1209.2" cy="1781.6" r="7.8" fill="#f6c9b5"/>
<circle cx="1239" cy="1781.6" r="4.7" fill="#f7ddd0"/>
<circle cx="1268.8" cy="1781.6" r="12.4" fill="#f6c9b5"/>
<circle cx="1298.6" cy="1781.6" r="14" fill="#ea3f30"/>
<circle cx="1328.5" cy="1781.6" r="14" fill="#c61c21"/>
<circle cx="1358.3" cy="1781.6" r="9.3" fill="#f4694b"/>
<circle cx="1388.1" cy="1781.6" r="1.7" fill="#f8eee9"/>
<circle cx="1417.9" cy="1781.6" r="10.9" fill="#ea3f30"/>
<circle cx="1447.7" cy="1781.6" r="12.4" fill="#f58f70"/>
<circle cx="1477.6" cy="1781.6" r="12.4" fill="#680612"/>
<circle cx="1507.4" cy="1781.6" r="9.3" fill="#680612"/>
<circle cx="1537.2" cy="1781.6" r="14" fill="#680612"/>
<circle cx="1567" cy="1781.6" r="14" fill="#f4694b"/>
<circle cx="1656.5" cy="1781.6" r="14" fill="#f6c9b5"/>
<circle cx="1686.3" cy="1781.6" r="14" fill="#f7ddd0"/>
<circle cx="1716.1" cy="1781.6" r="14" fill="#f7ddd0"/>
<circle cx="940.8" cy="1812.1" r="12.4" fill="#ea3f30"/>
<circle cx="970.6" cy="1812.1" r="14" fill="#f58f70"/>
<circle cx="1000.4" cy="1812.1" r="14" fill="#f58f70"/>
<circle cx="1030.3" cy="1812.1" r="4.7" fill="#f7ddd0"/>
<circle cx="1060.1" cy="1812.1" r="9.3" fill="#f6c9b5"/>
<circle cx="1089.9" cy="1812.1" r="6.2" fill="#f5a88d"/>
<circle cx="1119.7" cy="1812.1" r="7.8" fill="#f8eee9"/>
<circle cx="1149.5" cy="1812.1" r="3.1" fill="#f8eee9"/>
<circle cx="1179.4" cy="1812.1" r="1.7" fill="#f8eee9"/>
<circle cx="1209.2" cy="1812.1" r="14" fill="#f4694b"/>
<circle cx="1239" cy="1812.1" r="3.1" fill="#f8eee9"/>
<circle cx="1268.8" cy="1812.1" r="12.4" fill="#f6c9b5"/>
<circle cx="1298.6" cy="1812.1" r="14" fill="#f8eee9"/>
<circle cx="1328.5" cy="1812.1" r="14" fill="#f58f70"/>
<circle cx="1358.3" cy="1812.1" r="6.2" fill="#f8eee9"/>
<circle cx="1388.1" cy="1812.1" r="9.3" fill="#f4694b"/>
<circle cx="1417.9" cy="1812.1" r="9.3" fill="#f7ddd0"/>
<circle cx="1447.7" cy="1812.1" r="3.1" fill="#f8eee9"/>
<circle cx="1477.6" cy="1812.1" r="4.7" fill="#f7ddd0"/>
<circle cx="1507.4" cy="1812.1" r="1.7" fill="#f8eee9"/>
<circle cx="1537.2" cy="1812.1" r="4.7" fill="#f8eee9"/>
<circle cx="1567" cy="1812.1" r="14" fill="#680612"/>
<circle cx="1596.8" cy="1812.1" r="14" fill="#680612"/>
<circle cx="1626.7" cy="1812.1" r="10.9" fill="#680612"/>
<circle cx="1656.5" cy="1812.1" r="12.4" fill="#f58f70"/>
<circle cx="1686.3" cy="1812.1" r="14" fill="#f7ddd0"/>
<circle cx="1716.1" cy="1812.1" r="14" fill="#f7ddd0"/>
<circle cx="940.8" cy="1842.5" r="12.4" fill="#680612"/>
<circle cx="970.6" cy="1842.5" r="7.8" fill="#f6c9b5"/>
<circle cx="1000.4" cy="1842.5" r="9.3" fill="#f5a88d"/>
<circle cx="1030.3" cy="1842.5" r="1.7" fill="#f8eee9"/>
<circle cx="1060.1" cy="1842.5" r="4.7" fill="#f7ddd0"/>
<circle cx="1089.9" cy="1842.5" r="4.7" fill="#f6c9b5"/>
<circle cx="1119.7" cy="1842.5" r="9.3" fill="#f6c9b5"/>
<circle cx="1149.5" cy="1842.5" r="4.7" fill="#f58f70"/>
<circle cx="1179.4" cy="1842.5" r="1.7" fill="#f8eee9"/>
<circle cx="1209.2" cy="1842.5" r="4.7" fill="#f8eee9"/>
<circle cx="1239" cy="1842.5" r="1.7" fill="#f8eee9"/>
<circle cx="1268.8" cy="1842.5" r="9.3" fill="#f7ddd0"/>
<circle cx="1298.6" cy="1842.5" r="14" fill="#f5a88d"/>
<circle cx="1328.5" cy="1842.5" r="12.4" fill="#f5a88d"/>
<circle cx="1358.3" cy="1842.5" r="6.2" fill="#f5a88d"/>
<circle cx="1388.1" cy="1842.5" r="3.1" fill="#f8eee9"/>
<circle cx="1417.9" cy="1842.5" r="9.3" fill="#f5a88d"/>
<circle cx="1447.7" cy="1842.5" r="1.7" fill="#f8eee9"/>
<circle cx="1477.6" cy="1842.5" r="7.8" fill="#ea3f30"/>
<circle cx="1507.4" cy="1842.5" r="1.7" fill="#f8eee9"/>
<circle cx="1537.2" cy="1842.5" r="6.2" fill="#f7ddd0"/>
<circle cx="1567" cy="1842.5" r="14" fill="#f6c9b5"/>
<circle cx="1626.7" cy="1842.5" r="1.7" fill="#f8eee9"/>
<circle cx="1656.5" cy="1842.5" r="14" fill="#680612"/>
<circle cx="1686.3" cy="1842.5" r="14" fill="#680612"/>
<circle cx="1716.1" cy="1842.5" r="14" fill="#680612"/>
</g></g>
<g>
<rect x="1833.6" y="107.9" width="39.9" height="67.4" fill="#8cd8e0"/>
<rect x="1833.6" y="70.4" width="39.9" height="37.8" fill="#e26ee0"/>
<rect x="1833.6" y="4.6" width="39.9" height="66.1" fill="#6ee564"/>
<rect x="1881.2" y="109.9" width="39.9" height="65.4" fill="#8cd8e0"/>
<rect x="1881.2" y="73.8" width="39.9" height="36.4" fill="#e26ee0"/>
<rect x="1881.2" y="4.6" width="39.9" height="69.5" fill="#6ee564"/>
<rect x="1928.9" y="109.9" width="39.9" height="65.4" fill="#8cd8e0"/>
<rect x="1928.9" y="74" width="39.9" height="36.3" fill="#e26ee0"/>
<rect x="1928.9" y="4.6" width="39.9" height="69.7" fill="#6ee564"/>
<rect x="1976.5" y="85.4" width="39.9" height="89.9" fill="#8cd8e0"/>
<rect x="1976.5" y="21.8" width="39.9" height="63.9" fill="#e26ee0"/>
<rect x="1976.5" y="4.6" width="39.9" height="17.5" fill="#6ee564"/>
<rect x="2024.2" y="56.7" width="39.9" height="118.6" fill="#8cd8e0"/>
<rect x="2024.2" y="28.3" width="39.9" height="28.8" fill="#e26ee0"/>
<rect x="2024.2" y="4.6" width="39.9" height="24" fill="#6ee564"/>
<rect x="2071.8" y="83.7" width="39.9" height="91.6" fill="#8cd8e0"/>
<rect x="2071.8" y="32.2" width="39.9" height="51.8" fill="#e26ee0"/>
<rect x="2071.8" y="4.6" width="39.9" height="27.9" fill="#6ee564"/>
<rect x="2119.4" y="128.7" width="39.9" height="46.6" fill="#8cd8e0"/>
<rect x="2119.4" y="4.6" width="39.9" height="124.4" fill="#e26ee0"/>
<path d="M1832.6 4.6H2162M1832.6 3.9V175H2162" stroke="#222" stroke-width="1.5" fill="none"/>
<path d="M2161 4.6V175" stroke="#222" stroke-width="1.5" fill="none"/>
<path d="M1832.6 47.2h-5M1832.6 89.8h-5M1832.6 132.4h-5M1853.5 175v5M1901.2 175v5M1948.8 175v5M1996.5 175v5M2044.1 175v5M2091.7 175v5M2139.4 175v5" stroke="#222" stroke-width="1.3" fill="none"/>
<text x="1823" y="22.4" font-size="24" text-anchor="end">100</text>
<text x="1823" y="61.4" font-size="24" text-anchor="end">75</text>
<text x="1823" y="101.1" font-size="24" text-anchor="end">50</text>
<text x="1823" y="140.8" font-size="24" text-anchor="end">25</text>
<text x="1823" y="177.9" font-size="24" text-anchor="end">0</text>
</g>
<g>
<rect x="1833.6" y="341.1" width="39.9" height="16.6" fill="#3f7fba"/>
<rect x="1833.6" y="322.4" width="39.9" height="19" fill="#f08228"/>
<rect x="1833.6" y="317.5" width="39.9" height="5.2" fill="#4aaa6e"/>
<rect x="1833.6" y="305.8" width="39.9" height="12" fill="#dc2e2e"/>
<rect x="1833.6" y="297.5" width="39.9" height="8.6" fill="#c03cf8"/>
<rect x="1833.6" y="292" width="39.9" height="5.7" fill="#8c524c"/>
<rect x="1833.6" y="275.9" width="39.9" height="16.4" fill="#e07bcf"/>
<rect x="1833.6" y="268.4" width="39.9" height="7.8" fill="#b0c05e"/>
<rect x="1833.6" y="255.9" width="39.9" height="12.9" fill="#5ecfd0"/>
<rect x="1833.6" y="244.1" width="39.9" height="12" fill="#adc8e8"/>
<rect x="1833.6" y="233.1" width="39.9" height="11.3" fill="#f2b878"/>
<rect x="1833.6" y="224.1" width="39.9" height="9.3" fill="#a0ee90"/>
<rect x="1833.6" y="220.7" width="39.9" height="3.7" fill="#f48c8c"/>
<rect x="1833.6" y="216.1" width="39.9" height="4.9" fill="#c4b0d8"/>
<rect x="1833.6" y="195.6" width="39.9" height="20.8" fill="#c09c94"/>
<rect x="1833.6" y="187.6" width="39.9" height="8.3" fill="#f0b4d8"/>
<rect x="1881.2" y="335.7" width="39.9" height="22" fill="#3f7fba"/>
<rect x="1881.2" y="317.5" width="39.9" height="18.5" fill="#f08228"/>
<rect x="1881.2" y="306.8" width="39.9" height="11" fill="#4aaa6e"/>
<rect x="1881.2" y="300.9" width="39.9" height="6.2" fill="#dc2e2e"/>
<rect x="1881.2" y="293.9" width="39.9" height="7.3" fill="#c03cf8"/>
<rect x="1881.2" y="289.3" width="39.9" height="4.9" fill="#8c524c"/>
<rect x="1881.2" y="277.9" width="39.9" height="11.7" fill="#e07bcf"/>
<rect x="1881.2" y="268.4" width="39.9" height="9.8" fill="#b0c05e"/>
<rect x="1881.2" y="257.2" width="39.9" height="11.5" fill="#5ecfd0"/>
<rect x="1881.2" y="245.2" width="39.9" height="12.4" fill="#adc8e8"/>
<rect x="1881.2" y="236.8" width="39.9" height="8.6" fill="#f2b878"/>
<rect x="1881.2" y="223.8" width="39.9" height="13.4" fill="#a0ee90"/>
<rect x="1881.2" y="218.5" width="39.9" height="5.6" fill="#f48c8c"/>
<rect x="1881.2" y="212.7" width="39.9" height="6.1" fill="#c4b0d8"/>
<rect x="1881.2" y="197.6" width="39.9" height="15.4" fill="#c09c94"/>
<rect x="1881.2" y="187.6" width="39.9" height="10.3" fill="#f0b4d8"/>
<rect x="1928.9" y="331.6" width="39.9" height="26.1" fill="#3f7fba"/>
<rect x="1928.9" y="315.8" width="39.9" height="16.1" fill="#f08228"/>
<rect x="1928.9" y="304.8" width="39.9" height="11.3" fill="#4aaa6e"/>
<rect x="1928.9" y="300" width="39.9" height="5.1" fill="#dc2e2e"/>
<rect x="1928.9" y="292.4" width="39.9" height="7.9" fill="#c03cf8"/>
<rect x="1928.9" y="289" width="39.9" height="3.7" fill="#8c524c"/>
<rect x="1928.9" y="279.8" width="39.9" height="9.5" fill="#e07bcf"/>
<rect x="1928.9" y="267.7" width="39.9" height="12.4" fill="#b0c05e"/>
<rect x="1928.9" y="255.9" width="39.9" height="12.2" fill="#5ecfd0"/>
<rect x="1928.9" y="246.2" width="39.9" height="10" fill="#adc8e8"/>
<rect x="1928.9" y="239.7" width="39.9" height="6.8" fill="#f2b878"/>
<rect x="1928.9" y="223.8" width="39.9" height="16.3" fill="#a0ee90"/>
<rect x="1928.9" y="216.5" width="39.9" height="7.6" fill="#f48c8c"/>
<rect x="1928.9" y="207.6" width="39.9" height="9.1" fill="#c4b0d8"/>
<rect x="1928.9" y="198.5" width="39.9" height="9.5" fill="#c09c94"/>
<rect x="1928.9" y="187.6" width="39.9" height="11.2" fill="#f0b4d8"/>
<rect x="1976.5" y="352.1" width="39.9" height="5.6" fill="#3f7fba"/>
<rect x="1976.5" y="348.9" width="39.9" height="3.5" fill="#f08228"/>
<rect x="1976.5" y="348.2" width="39.9" height="1" fill="#4aaa6e"/>
<rect x="1976.5" y="343.5" width="39.9" height="5.1" fill="#dc2e2e"/>
<rect x="1976.5" y="341.6" width="39.9" height="2.2" fill="#c03cf8"/>
<rect x="1976.5" y="340.8" width="39.9" height="1.1" fill="#8c524c"/>
<rect x="1976.5" y="317.5" width="39.9" height="23.6" fill="#e07bcf"/>
<rect x="1976.5" y="301" width="39.9" height="16.8" fill="#b0c05e"/>
<rect x="1976.5" y="283.4" width="39.9" height="18" fill="#5ecfd0"/>
<rect x="1976.5" y="277.8" width="39.9" height="5.9" fill="#adc8e8"/>
<rect x="1976.5" y="268.4" width="39.9" height="9.6" fill="#f2b878"/>
<rect x="1976.5" y="251.6" width="39.9" height="17.1" fill="#a0ee90"/>
<rect x="1976.5" y="239.6" width="39.9" height="12.4" fill="#f48c8c"/>
<rect x="1976.5" y="208.7" width="39.9" height="31.2" fill="#c4b0d8"/>
<rect x="1976.5" y="196.6" width="39.9" height="12.4" fill="#c09c94"/>
<rect x="1976.5" y="187.6" width="39.9" height="9.3" fill="#f0b4d8"/>
<rect x="2024.2" y="352" width="39.9" height="5.7" fill="#3f7fba"/>
<rect x="2024.2" y="344.2" width="39.9" height="8.1" fill="#f08228"/>
<rect x="2024.2" y="341.8" width="39.9" height="2.7" fill="#4aaa6e"/>
<rect x="2024.2" y="337.2" width="39.9" height="4.9" fill="#dc2e2e"/>
<rect x="2024.2" y="334" width="39.9" height="3.5" fill="#c03cf8"/>
<rect x="2024.2" y="333.8" width="39.9" height="0.5" fill="#8c524c"/>
<rect x="2024.2" y="288.6" width="39.9" height="45.5" fill="#e07bcf"/>
<rect x="2024.2" y="271.5" width="39.9" height="17.4" fill="#b0c05e"/>
<rect x="2024.2" y="257.4" width="39.9" height="14.4" fill="#5ecfd0"/>
<rect x="2024.2" y="242.8" width="39.9" height="14.9" fill="#adc8e8"/>
<rect x="2024.2" y="225.3" width="39.9" height="17.8" fill="#f2b878"/>
<rect x="2024.2" y="216.1" width="39.9" height="9.5" fill="#a0ee90"/>
<rect x="2024.2" y="213.7" width="39.9" height="2.7" fill="#f48c8c"/>
<rect x="2024.2" y="200.8" width="39.9" height="13.2" fill="#c4b0d8"/>
<rect x="2024.2" y="193.5" width="39.9" height="7.6" fill="#c09c94"/>
<rect x="2024.2" y="187.6" width="39.9" height="6.2" fill="#f0b4d8"/>
<rect x="2071.8" y="348.6" width="39.9" height="9.1" fill="#3f7fba"/>
<rect x="2071.8" y="339.9" width="39.9" height="9" fill="#f08228"/>
<rect x="2071.8" y="339.7" width="39.9" height="0.5" fill="#4aaa6e"/>
<rect x="2071.8" y="334" width="39.9" height="6.1" fill="#dc2e2e"/>
<rect x="2071.8" y="330.1" width="39.9" height="4.2" fill="#c03cf8"/>
<rect x="2071.8" y="329.9" width="39.9" height="0.5" fill="#8c524c"/>
<rect x="2071.8" y="314.8" width="39.9" height="15.4" fill="#e07bcf"/>
<rect x="2071.8" y="299.3" width="39.9" height="15.8" fill="#b0c05e"/>
<rect x="2071.8" y="284.9" width="39.9" height="14.7" fill="#5ecfd0"/>
<rect x="2071.8" y="270.3" width="39.9" height="14.9" fill="#adc8e8"/>
<rect x="2071.8" y="253.8" width="39.9" height="16.8" fill="#f2b878"/>
<rect x="2071.8" y="238.7" width="39.9" height="15.4" fill="#a0ee90"/>
<rect x="2071.8" y="234.1" width="39.9" height="4.9" fill="#f48c8c"/>
<rect x="2071.8" y="230.2" width="39.9" height="4.2" fill="#c4b0d8"/>
<rect x="2071.8" y="201" width="39.9" height="29.5" fill="#c09c94"/>
<rect x="2071.8" y="187.6" width="39.9" height="13.7" fill="#f0b4d8"/>
<rect x="2119.4" y="347.7" width="39.9" height="10" fill="#e07bcf"/>
<rect x="2119.4" y="332.1" width="39.9" height="15.9" fill="#b0c05e"/>
<rect x="2119.4" y="326.7" width="39.9" height="5.7" fill="#5ecfd0"/>
<rect x="2119.4" y="311.4" width="39.9" height="15.6" fill="#a0ee90"/>
<rect x="2119.4" y="275.4" width="39.9" height="36.3" fill="#f48c8c"/>
<rect x="2119.4" y="213.2" width="39.9" height="62.4" fill="#c4b0d8"/>
<rect x="2119.4" y="208.5" width="39.9" height="5.1" fill="#c09c94"/>
<rect x="2119.4" y="187.6" width="39.9" height="21.2" fill="#f0b4d8"/>
<path d="M1832.6 187.6H2162M1832.6 186.9V357.4H2162" stroke="#222" stroke-width="1.5" fill="none"/>
<path d="M2161 187.6V357.4" stroke="#222" stroke-width="1.5" fill="none"/>
<path d="M1832.6 230h-5M1832.6 272.5h-5M1832.6 314.9h-5M1853.5 357.4v5M1901.2 357.4v5M1948.8 357.4v5M1996.5 357.4v5M2044.1 357.4v5M2091.7 357.4v5M2139.4 357.4v5" stroke="#222" stroke-width="1.3" fill="none"/>
<text x="1823" y="202.8" font-size="24" text-anchor="end">100</text>
<text x="1823" y="242.4" font-size="24" text-anchor="end">75</text>
<text x="1823" y="282.4" font-size="24" text-anchor="end">50</text>
<text x="1823" y="321.4" font-size="24" text-anchor="end">25</text>
<text x="1823" y="359.4" font-size="24" text-anchor="end">0</text>
<text transform="translate(1867.3 376.4) rotate(-45)" font-size="24" text-anchor="end">Homeo1</text>
<text transform="translate(1915 376.4) rotate(-45)" font-size="24" text-anchor="end">Homeo2</text>
<text transform="translate(1962.6 376.4) rotate(-45)" font-size="24" text-anchor="end">Homeo3</text>
<text transform="translate(2010.3 376.4) rotate(-45)" font-size="24" text-anchor="end">Dis1</text>
<text transform="translate(2057.9 376.4) rotate(-45)" font-size="24" text-anchor="end">Dis2</text>
<text transform="translate(2105.5 376.4) rotate(-45)" font-size="24" text-anchor="end">Dis3</text>
<text transform="translate(2153.2 376.4) rotate(-45)" font-size="24" text-anchor="end">Remyel</text>
</g>
<g>
<rect x="1833.6" y="623.1" width="34.6" height="49.8" fill="#8cd8e0"/>
<rect x="1833.6" y="599.4" width="34.6" height="24" fill="#e26ee0"/>
<rect x="1833.6" y="502.4" width="34.6" height="97.3" fill="#6ee564"/>
<rect x="1875.3" y="508" width="34.6" height="164.9" fill="#8cd8e0"/>
<rect x="1875.3" y="502.4" width="34.6" height="5.9" fill="#e26ee0"/>
<rect x="1917" y="513" width="34.6" height="159.9" fill="#8cd8e0"/>
<rect x="1917" y="506" width="34.6" height="7.3" fill="#e26ee0"/>
<rect x="1917" y="502.4" width="34.6" height="3.9" fill="#6ee564"/>
<rect x="1958.7" y="528.4" width="34.6" height="144.5" fill="#8cd8e0"/>
<rect x="1958.7" y="509" width="34.6" height="19.7" fill="#e26ee0"/>
<rect x="1958.7" y="502.4" width="34.6" height="6.9" fill="#6ee564"/>
<rect x="2000.4" y="574.1" width="34.6" height="98.8" fill="#8cd8e0"/>
<rect x="2000.4" y="527.2" width="34.6" height="47.1" fill="#e26ee0"/>
<rect x="2000.4" y="502.4" width="34.6" height="25.1" fill="#6ee564"/>
<rect x="2042.1" y="555" width="34.6" height="117.9" fill="#8cd8e0"/>
<rect x="2042.1" y="519.9" width="34.6" height="35.4" fill="#e26ee0"/>
<rect x="2042.1" y="502.4" width="34.6" height="17.8" fill="#6ee564"/>
<rect x="2083.8" y="526.1" width="34.6" height="146.8" fill="#8cd8e0"/>
<rect x="2083.8" y="506.5" width="34.6" height="19.9" fill="#e26ee0"/>
<rect x="2083.8" y="502.4" width="34.6" height="4.4" fill="#6ee564"/>
<rect x="2125.5" y="607.4" width="34.6" height="65.5" fill="#8cd8e0"/>
<rect x="2125.5" y="521.5" width="34.6" height="86.3" fill="#e26ee0"/>
<rect x="2125.5" y="502.4" width="34.6" height="19.4" fill="#6ee564"/>
<path d="M1832.6 502.4H2162M1832.6 501.7V672.6H2162" stroke="#222" stroke-width="1.5" fill="none"/>
<path d="M2161 502.4V672.6" stroke="#222" stroke-width="1.5" fill="none"/>
<path d="M1832.6 536.4h-5M1832.6 570.5h-5M1832.6 604.5h-5M1832.6 638.6h-5M1850.9 672.6v5M1892.6 672.6v5M1934.3 672.6v5M1976 672.6v5M2017.7 672.6v5M2059.4 672.6v5M2101.1 672.6v5M2142.8 672.6v5" stroke="#222" stroke-width="1.3" fill="none"/>
<text x="1823" y="518.4" font-size="24" text-anchor="end">100</text>
<text x="1823" y="547.6" font-size="24" text-anchor="end">80</text>
<text x="1823" y="579.7" font-size="24" text-anchor="end">60</text>
<text x="1823" y="613.2" font-size="24" text-anchor="end">40</text>
<text x="1823" y="645.3" font-size="24" text-anchor="end">20</text>
<text x="1823" y="674" font-size="24" text-anchor="end">0</text>
</g>
<g>
<rect x="1833.6" y="845.5" width="34.6" height="10" fill="#3f7fba"/>
<rect x="1833.6" y="829.9" width="34.6" height="15.9" fill="#f08228"/>
<rect x="1833.6" y="806.5" width="34.6" height="23.7" fill="#4aaa6e"/>
<rect x="1833.6" y="779.8" width="34.6" height="27" fill="#dc2e2e"/>
<rect x="1833.6" y="767.9" width="34.6" height="12.2" fill="#c03cf8"/>
<rect x="1833.6" y="759.3" width="34.6" height="9" fill="#8c524c"/>
<rect x="1833.6" y="742.3" width="34.6" height="17.3" fill="#e07bcf"/>
<rect x="1833.6" y="740.6" width="34.6" height="2" fill="#b0c05e"/>
<rect x="1833.6" y="731.2" width="34.6" height="9.6" fill="#5ecfd0"/>
<rect x="1833.6" y="724.1" width="34.6" height="7.4" fill="#adc8e8"/>
<rect x="1833.6" y="716.5" width="34.6" height="7.9" fill="#f2b878"/>
<rect x="1833.6" y="709.5" width="34.6" height="7.3" fill="#a0ee90"/>
<rect x="1833.6" y="708.7" width="34.6" height="1.1" fill="#f48c8c"/>
<rect x="1833.6" y="705.6" width="34.6" height="3.4" fill="#c4b0d8"/>
<rect x="1833.6" y="687.1" width="34.6" height="18.8" fill="#c09c94"/>
<rect x="1833.6" y="685.4" width="34.6" height="2" fill="#f0b4d8"/>
<rect x="1875.3" y="854.5" width="34.6" height="1" fill="#dc2e2e"/>
<rect x="1875.3" y="825.8" width="34.6" height="29" fill="#5ecfd0"/>
<rect x="1875.3" y="811.1" width="34.6" height="15.1" fill="#adc8e8"/>
<rect x="1875.3" y="691" width="34.6" height="120.3" fill="#a0ee90"/>
<rect x="1875.3" y="685.4" width="34.6" height="5.9" fill="#c09c94"/>
<rect x="1917" y="853.7" width="34.6" height="1.8" fill="#dc2e2e"/>
<rect x="1917" y="851.8" width="34.6" height="2.2" fill="#c03cf8"/>
<rect x="1917" y="741.6" width="34.6" height="110.5" fill="#e07bcf"/>
<rect x="1917" y="728.2" width="34.6" height="13.7" fill="#5ecfd0"/>
<rect x="1917" y="714.1" width="34.6" height="14.4" fill="#adc8e8"/>
<rect x="1917" y="700" width="34.6" height="14.4" fill="#f2b878"/>
<rect x="1917" y="692.4" width="34.6" height="7.9" fill="#a0ee90"/>
<rect x="1917" y="691" width="34.6" height="1.7" fill="#c4b0d8"/>
<rect x="1917" y="687.1" width="34.6" height="4.2" fill="#c09c94"/>
<rect x="1917" y="685.4" width="34.6" height="2" fill="#f0b4d8"/>
<rect x="1958.7" y="851.1" width="34.6" height="4.4" fill="#4aaa6e"/>
<rect x="1958.7" y="849.6" width="34.6" height="1.8" fill="#dc2e2e"/>
<rect x="1958.7" y="781" width="34.6" height="68.9" fill="#e07bcf"/>
<rect x="1958.7" y="762.3" width="34.6" height="19" fill="#b0c05e"/>
<rect x="1958.7" y="735.7" width="34.6" height="27" fill="#5ecfd0"/>
<rect x="1958.7" y="732.1" width="34.6" height="3.9" fill="#adc8e8"/>
<rect x="1958.7" y="717.2" width="34.6" height="15.2" fill="#f2b878"/>
<rect x="1958.7" y="706.1" width="34.6" height="11.3" fill="#a0ee90"/>
<rect x="1958.7" y="701.7" width="34.6" height="4.7" fill="#f48c8c"/>
<rect x="1958.7" y="695.4" width="34.6" height="6.6" fill="#c4b0d8"/>
<rect x="1958.7" y="689" width="34.6" height="6.8" fill="#c09c94"/>
<rect x="1958.7" y="685.4" width="34.6" height="3.9" fill="#f0b4d8"/>
<rect x="2000.4" y="850.1" width="34.6" height="5.4" fill="#3f7fba"/>
<rect x="2000.4" y="841.6" width="34.6" height="8.8" fill="#f08228"/>
<rect x="2000.4" y="838.6" width="34.6" height="3.4" fill="#4aaa6e"/>
<rect x="2000.4" y="836.9" width="34.6" height="2" fill="#dc2e2e"/>
<rect x="2000.4" y="833.5" width="34.6" height="3.7" fill="#c03cf8"/>
<rect x="2000.4" y="830.9" width="34.6" height="2.8" fill="#8c524c"/>
<rect x="2000.4" y="816.5" width="34.6" height="14.7" fill="#e07bcf"/>
<rect x="2000.4" y="790.3" width="34.6" height="26.4" fill="#b0c05e"/>
<rect x="2000.4" y="784.4" width="34.6" height="6.2" fill="#5ecfd0"/>
<rect x="2000.4" y="773.7" width="34.6" height="11" fill="#adc8e8"/>
<rect x="2000.4" y="768.3" width="34.6" height="5.7" fill="#f2b878"/>
<rect x="2000.4" y="732.1" width="34.6" height="36.5" fill="#a0ee90"/>
<rect x="2000.4" y="720.5" width="34.6" height="11.8" fill="#f48c8c"/>
<rect x="2000.4" y="691.7" width="34.6" height="29.2" fill="#c4b0d8"/>
<rect x="2000.4" y="687.1" width="34.6" height="4.9" fill="#c09c94"/>
<rect x="2000.4" y="685.4" width="34.6" height="2" fill="#f0b4d8"/>
<rect x="2042.1" y="854" width="34.6" height="1.5" fill="#3f7fba"/>
<rect x="2042.1" y="848.6" width="34.6" height="5.7" fill="#f08228"/>
<rect x="2042.1" y="846" width="34.6" height="2.8" fill="#4aaa6e"/>
<rect x="2042.1" y="842" width="34.6" height="4.4" fill="#dc2e2e"/>
<rect x="2042.1" y="839.1" width="34.6" height="3.2" fill="#c03cf8"/>
<rect x="2042.1" y="808" width="34.6" height="31.4" fill="#e07bcf"/>
<rect x="2042.1" y="797.8" width="34.6" height="10.5" fill="#b0c05e"/>
<rect x="2042.1" y="778.3" width="34.6" height="19.8" fill="#5ecfd0"/>
<rect x="2042.1" y="757.9" width="34.6" height="20.7" fill="#adc8e8"/>
<rect x="2042.1" y="735.7" width="34.6" height="22.5" fill="#f2b878"/>
<rect x="2042.1" y="721.6" width="34.6" height="14.4" fill="#a0ee90"/>
<rect x="2042.1" y="720.5" width="34.6" height="1.3" fill="#f48c8c"/>
<rect x="2042.1" y="717.2" width="34.6" height="3.7" fill="#c4b0d8"/>
<rect x="2042.1" y="693.6" width="34.6" height="23.9" fill="#c09c94"/>
<rect x="2042.1" y="685.4" width="34.6" height="8.5" fill="#f0b4d8"/>
<rect x="2083.8" y="851.6" width="34.6" height="3.9" fill="#f08228"/>
<rect x="2083.8" y="800.4" width="34.6" height="51.6" fill="#e07bcf"/>
<rect x="2083.8" y="764.4" width="34.6" height="36.3" fill="#5ecfd0"/>
<rect x="2083.8" y="745.2" width="34.6" height="19.5" fill="#adc8e8"/>
<rect x="2083.8" y="713.4" width="34.6" height="32.1" fill="#f2b878"/>
<rect x="2083.8" y="705.4" width="34.6" height="8.3" fill="#a0ee90"/>
<rect x="2083.8" y="693.6" width="34.6" height="12.2" fill="#c09c94"/>
<rect x="2083.8" y="685.4" width="34.6" height="8.5" fill="#f0b4d8"/>
<rect x="2125.5" y="853" width="34.6" height="2.5" fill="#3f7fba"/>
<rect x="2125.5" y="836.9" width="34.6" height="16.4" fill="#dc2e2e"/>
<rect x="2125.5" y="813.9" width="34.6" height="23.2" fill="#e07bcf"/>
<rect x="2125.5" y="807.5" width="34.6" height="6.8" fill="#b0c05e"/>
<rect x="2125.5" y="800.9" width="34.6" height="6.9" fill="#5ecfd0"/>
<rect x="2125.5" y="792" width="34.6" height="9.1" fill="#adc8e8"/>
<rect x="2125.5" y="776.9" width="34.6" height="15.4" fill="#f2b878"/>
<rect x="2125.5" y="771.3" width="34.6" height="5.9" fill="#a0ee90"/>
<rect x="2125.5" y="767.9" width="34.6" height="3.7" fill="#f48c8c"/>
<rect x="2125.5" y="765.2" width="34.6" height="3" fill="#c4b0d8"/>
<rect x="2125.5" y="695.1" width="34.6" height="70.4" fill="#c09c94"/>
<rect x="2125.5" y="685.4" width="34.6" height="10" fill="#f0b4d8"/>
<path d="M1832.6 685.4H2162M1832.6 684.7V855.2H2162" stroke="#222" stroke-width="1.5" fill="none"/>
<path d="M2161 685.4V855.2" stroke="#222" stroke-width="1.5" fill="none"/>
<path d="M1832.6 727.9h-5M1832.6 770.3h-5M1832.6 812.8h-5M1850.9 855.2v5M1892.6 855.2v5M1934.3 855.2v5M1976 855.2v5M2017.7 855.2v5M2059.4 855.2v5M2101.1 855.2v5M2142.8 855.2v5" stroke="#222" stroke-width="1.3" fill="none"/>
<text x="1823" y="703.4" font-size="24" text-anchor="end">100</text>
<text x="1823" y="739.6" font-size="24" text-anchor="end">75</text>
<text x="1823" y="778.7" font-size="24" text-anchor="end">50</text>
<text x="1823" y="818.2" font-size="24" text-anchor="end">25</text>
<text x="1823" y="856" font-size="24" text-anchor="end">0</text>
<text transform="translate(1864.7 874.2) rotate(-45)" font-size="24" text-anchor="end">Homeo</text>
<text transform="translate(1906.4 874.2) rotate(-45)" font-size="24" text-anchor="end">PreOPC</text>
<text transform="translate(1948.1 874.2) rotate(-45)" font-size="24" text-anchor="end">COP</text>
<text transform="translate(1989.8 874.2) rotate(-45)" font-size="24" text-anchor="end">Stress</text>
<text transform="translate(2031.5 874.2) rotate(-45)" font-size="24" text-anchor="end">Dis1</text>
<text transform="translate(2073.2 874.2) rotate(-45)" font-size="24" text-anchor="end">Dis2</text>
<text transform="translate(2114.9 874.2) rotate(-45)" font-size="24" text-anchor="end">Mature</text>
<text transform="translate(2156.6 874.2) rotate(-45)" font-size="24" text-anchor="end">PreOL</text>
</g>
<g>
<rect x="1833.6" y="1135.4" width="39.9" height="47.1" fill="#8cd8e0"/>
<rect x="1833.6" y="1107" width="39.9" height="28.7" fill="#e26ee0"/>
<rect x="1833.6" y="1012" width="39.9" height="95.3" fill="#6ee564"/>
<rect x="1881.2" y="1121.6" width="39.9" height="60.9" fill="#8cd8e0"/>
<rect x="1881.2" y="1063.6" width="39.9" height="58.3" fill="#e26ee0"/>
<rect x="1881.2" y="1012" width="39.9" height="51.9" fill="#6ee564"/>
<rect x="1928.9" y="1047.6" width="39.9" height="134.9" fill="#8cd8e0"/>
<rect x="1928.9" y="1024.3" width="39.9" height="23.6" fill="#e26ee0"/>
<rect x="1928.9" y="1012" width="39.9" height="12.6" fill="#6ee564"/>
<rect x="1976.5" y="1042.3" width="39.9" height="140.2" fill="#8cd8e0"/>
<rect x="1976.5" y="1012" width="39.9" height="30.6" fill="#e26ee0"/>
<rect x="2024.2" y="1106.1" width="39.9" height="76.4" fill="#8cd8e0"/>
<rect x="2024.2" y="1015.1" width="39.9" height="91.4" fill="#e26ee0"/>
<rect x="2024.2" y="1012" width="39.9" height="3.4" fill="#6ee564"/>
<rect x="2071.8" y="1102.5" width="39.9" height="80" fill="#8cd8e0"/>
<rect x="2071.8" y="1020.7" width="39.9" height="82.2" fill="#e26ee0"/>
<rect x="2071.8" y="1012" width="39.9" height="9" fill="#6ee564"/>
<rect x="2119.4" y="1085" width="39.9" height="97.5" fill="#8cd8e0"/>
<rect x="2119.4" y="1036.3" width="39.9" height="49" fill="#e26ee0"/>
<rect x="2119.4" y="1012" width="39.9" height="24.6" fill="#6ee564"/>
<path d="M1832.6 1012H2162M1832.6 1011.3V1182.2H2162" stroke="#222" stroke-width="1.5" fill="none"/>
<path d="M2161 1012V1182.2" stroke="#222" stroke-width="1.5" fill="none"/>
<path d="M1832.6 1046h-5M1832.6 1080.1h-5M1832.6 1114.1h-5M1832.6 1148.2h-5M1853.5 1182.2v5M1901.2 1182.2v5M1948.8 1182.2v5M1996.5 1182.2v5M2044.1 1182.2v5M2091.7 1182.2v5M2139.4 1182.2v5" stroke="#222" stroke-width="1.3" fill="none"/>
<text x="1823" y="1038.5" font-size="24" text-anchor="end">100</text>
<text x="1823" y="1066.6" font-size="24" text-anchor="end">80</text>
<text x="1823" y="1096.7" font-size="24" text-anchor="end">60</text>
<text x="1823" y="1130.8" font-size="24" text-anchor="end">40</text>
<text x="1823" y="1167.9" font-size="24" text-anchor="end">20</text>
<text x="1823" y="1194" font-size="24" text-anchor="end">0</text>
</g>
<g>
<rect x="1833.6" y="1365.9" width="39.9" height="8.8" fill="#3f7fba"/>
<rect x="1833.6" y="1358.7" width="39.9" height="7.5" fill="#f08228"/>
<rect x="1833.6" y="1304" width="39.9" height="55" fill="#4aaa6e"/>
<rect x="1833.6" y="1292.9" width="39.9" height="11.4" fill="#dc2e2e"/>
<rect x="1833.6" y="1286.3" width="39.9" height="6.9" fill="#c03cf8"/>
<rect x="1833.6" y="1279.5" width="39.9" height="7.1" fill="#8c524c"/>
<rect x="1833.6" y="1271.5" width="39.9" height="8.3" fill="#e07bcf"/>
<rect x="1833.6" y="1267.6" width="39.9" height="4.2" fill="#b0c05e"/>
<rect x="1833.6" y="1260.4" width="39.9" height="7.5" fill="#5ecfd0"/>
<rect x="1833.6" y="1252.9" width="39.9" height="7.8" fill="#adc8e8"/>
<rect x="1833.6" y="1240.8" width="39.9" height="12.4" fill="#f2b878"/>
<rect x="1833.6" y="1232.1" width="39.9" height="9" fill="#a0ee90"/>
<rect x="1833.6" y="1227.3" width="39.9" height="5.1" fill="#f48c8c"/>
<rect x="1833.6" y="1223.1" width="39.9" height="4.6" fill="#c4b0d8"/>
<rect x="1833.6" y="1204" width="39.9" height="19.4" fill="#c09c94"/>
<rect x="1881.2" y="1359.4" width="39.9" height="15.3" fill="#3f7fba"/>
<rect x="1881.2" y="1351.7" width="39.9" height="8" fill="#f08228"/>
<rect x="1881.2" y="1342.2" width="39.9" height="9.8" fill="#4aaa6e"/>
<rect x="1881.2" y="1325.8" width="39.9" height="16.7" fill="#dc2e2e"/>
<rect x="1881.2" y="1323.1" width="39.9" height="3" fill="#c03cf8"/>
<rect x="1881.2" y="1314.1" width="39.9" height="9.3" fill="#e07bcf"/>
<rect x="1881.2" y="1304.5" width="39.9" height="9.8" fill="#5ecfd0"/>
<rect x="1881.2" y="1281.5" width="39.9" height="23.3" fill="#adc8e8"/>
<rect x="1881.2" y="1265.9" width="39.9" height="16" fill="#f2b878"/>
<rect x="1881.2" y="1261.9" width="39.9" height="4.2" fill="#a0ee90"/>
<rect x="1881.2" y="1220" width="39.9" height="42.2" fill="#c09c94"/>
<rect x="1881.2" y="1204" width="39.9" height="16.3" fill="#f0b4d8"/>
<rect x="1928.9" y="1370.3" width="39.9" height="4.4" fill="#3f7fba"/>
<rect x="1928.9" y="1367.4" width="39.9" height="3.2" fill="#f08228"/>
<rect x="1928.9" y="1365.9" width="39.9" height="1.8" fill="#4aaa6e"/>
<rect x="1928.9" y="1362.8" width="39.9" height="3.4" fill="#dc2e2e"/>
<rect x="1928.9" y="1331.1" width="39.9" height="32" fill="#e07bcf"/>
<rect x="1928.9" y="1326.2" width="39.9" height="5.2" fill="#b0c05e"/>
<rect x="1928.9" y="1305.7" width="39.9" height="20.7" fill="#5ecfd0"/>
<rect x="1928.9" y="1261.4" width="39.9" height="44.6" fill="#adc8e8"/>
<rect x="1928.9" y="1238.8" width="39.9" height="23" fill="#f2b878"/>
<rect x="1928.9" y="1226.7" width="39.9" height="12.4" fill="#a0ee90"/>
<rect x="1928.9" y="1209.3" width="39.9" height="17.7" fill="#c09c94"/>
<rect x="1928.9" y="1204" width="39.9" height="5.6" fill="#f0b4d8"/>
<rect x="1976.5" y="1307.1" width="39.9" height="67.6" fill="#e07bcf"/>
<rect x="1976.5" y="1302" width="39.9" height="5.4" fill="#b0c05e"/>
<rect x="1976.5" y="1295.7" width="39.9" height="6.6" fill="#5ecfd0"/>
<rect x="1976.5" y="1276.9" width="39.9" height="19" fill="#adc8e8"/>
<rect x="1976.5" y="1257.2" width="39.9" height="20.1" fill="#f2b878"/>
<rect x="1976.5" y="1233.8" width="39.9" height="23.6" fill="#a0ee90"/>
<rect x="1976.5" y="1228.7" width="39.9" height="5.4" fill="#c4b0d8"/>
<rect x="1976.5" y="1213.2" width="39.9" height="15.8" fill="#c09c94"/>
<rect x="1976.5" y="1204" width="39.9" height="9.5" fill="#f0b4d8"/>
<rect x="2024.2" y="1372.4" width="39.9" height="2.3" fill="#8c524c"/>
<rect x="2024.2" y="1360.3" width="39.9" height="12.4" fill="#e07bcf"/>
<rect x="2024.2" y="1356.3" width="39.9" height="4.2" fill="#b0c05e"/>
<rect x="2024.2" y="1344.6" width="39.9" height="12.1" fill="#5ecfd0"/>
<rect x="2024.2" y="1342.2" width="39.9" height="2.7" fill="#adc8e8"/>
<rect x="2024.2" y="1334.2" width="39.9" height="8.3" fill="#f2b878"/>
<rect x="2024.2" y="1295.2" width="39.9" height="39.3" fill="#a0ee90"/>
<rect x="2024.2" y="1290.6" width="39.9" height="4.9" fill="#c4b0d8"/>
<rect x="2024.2" y="1234.3" width="39.9" height="56.5" fill="#c09c94"/>
<rect x="2024.2" y="1204" width="39.9" height="30.6" fill="#f0b4d8"/>
<rect x="2071.8" y="1370" width="39.9" height="4.7" fill="#4aaa6e"/>
<rect x="2071.8" y="1365.9" width="39.9" height="4.4" fill="#dc2e2e"/>
<rect x="2071.8" y="1356.3" width="39.9" height="9.8" fill="#e07bcf"/>
<rect x="2071.8" y="1353.3" width="39.9" height="3.4" fill="#b0c05e"/>
<rect x="2071.8" y="1342.7" width="39.9" height="10.9" fill="#5ecfd0"/>
<rect x="2071.8" y="1334.7" width="39.9" height="8.3" fill="#adc8e8"/>
<rect x="2071.8" y="1317.5" width="39.9" height="17.5" fill="#f2b878"/>
<rect x="2071.8" y="1286" width="39.9" height="31.8" fill="#a0ee90"/>
<rect x="2071.8" y="1284.4" width="39.9" height="1.8" fill="#f48c8c"/>
<rect x="2071.8" y="1280.5" width="39.9" height="4.2" fill="#c4b0d8"/>
<rect x="2071.8" y="1229" width="39.9" height="51.8" fill="#c09c94"/>
<rect x="2071.8" y="1204" width="39.9" height="25.3" fill="#f0b4d8"/>
<rect x="2119.4" y="1360.3" width="39.9" height="14.4" fill="#3f7fba"/>
<rect x="2119.4" y="1353.3" width="39.9" height="7.3" fill="#f08228"/>
<rect x="2119.4" y="1352.2" width="39.9" height="1.3" fill="#dc2e2e"/>
<rect x="2119.4" y="1348.7" width="39.9" height="3.9" fill="#c03cf8"/>
<rect x="2119.4" y="1304" width="39.9" height="44.9" fill="#b0c05e"/>
<rect x="2119.4" y="1303" width="39.9" height="1.3" fill="#5ecfd0"/>
<rect x="2119.4" y="1300.4" width="39.9" height="2.9" fill="#adc8e8"/>
<rect x="2119.4" y="1298.1" width="39.9" height="2.7" fill="#f2b878"/>
<rect x="2119.4" y="1252.9" width="39.9" height="45.5" fill="#a0ee90"/>
<rect x="2119.4" y="1230.1" width="39.9" height="23.1" fill="#f48c8c"/>
<rect x="2119.4" y="1210.3" width="39.9" height="20.1" fill="#c4b0d8"/>
<rect x="2119.4" y="1204" width="39.9" height="6.6" fill="#c09c94"/>
<path d="M1832.6 1204H2162M1832.6 1203.3V1374.4H2162" stroke="#222" stroke-width="1.5" fill="none"/>
<path d="M2161 1204V1374.4" stroke="#222" stroke-width="1.5" fill="none"/>
<path d="M1832.6 1246.6h-5M1832.6 1289.2h-5M1832.6 1331.8h-5M1853.5 1374.4v5M1901.2 1374.4v5M1948.8 1374.4v5M1996.5 1374.4v5M2044.1 1374.4v5M2091.7 1374.4v5M2139.4 1374.4v5" stroke="#222" stroke-width="1.3" fill="none"/>
<text x="1823" y="1223.5" font-size="24" text-anchor="end">100</text>
<text x="1823" y="1262.6" font-size="24" text-anchor="end">75</text>
<text x="1823" y="1301.7" font-size="24" text-anchor="end">50</text>
<text x="1823" y="1340.9" font-size="24" text-anchor="end">25</text>
<text x="1823" y="1379" font-size="24" text-anchor="end">0</text>
<text transform="translate(1867.3 1393.4) rotate(-45)" font-size="24" text-anchor="end">Homeo1</text>
<text transform="translate(1915 1393.4) rotate(-45)" font-size="24" text-anchor="end">Homeo2</text>
<text transform="translate(1962.6 1393.4) rotate(-45)" font-size="24" text-anchor="end">Homeo3</text>
<text transform="translate(2010.3 1393.4) rotate(-45)" font-size="24" text-anchor="end">CA</text>
<text transform="translate(2057.9 1393.4) rotate(-45)" font-size="24" text-anchor="end">Dis</text>
<text transform="translate(2105.5 1393.4) rotate(-45)" font-size="24" text-anchor="end">Rim</text>
<text transform="translate(2153.2 1393.4) rotate(-45)" font-size="24" text-anchor="end">Phago</text>
</g>
<g>
<rect x="1833.6" y="1636.6" width="28.2" height="72.8" fill="#8cd8e0"/>
<rect x="1833.6" y="1592.4" width="28.2" height="44.4" fill="#e26ee0"/>
<rect x="1833.6" y="1538.8" width="28.2" height="53.9" fill="#6ee564"/>
<rect x="1866.9" y="1608.6" width="28.2" height="100.8" fill="#8cd8e0"/>
<rect x="1866.9" y="1575.9" width="28.2" height="33" fill="#e26ee0"/>
<rect x="1866.9" y="1538.8" width="28.2" height="37.4" fill="#6ee564"/>
<rect x="1900.1" y="1620.2" width="28.2" height="89.2" fill="#8cd8e0"/>
<rect x="1900.1" y="1550.7" width="28.2" height="69.8" fill="#e26ee0"/>
<rect x="1900.1" y="1538.8" width="28.2" height="12.2" fill="#6ee564"/>
<rect x="1933.4" y="1620.2" width="28.2" height="89.2" fill="#8cd8e0"/>
<rect x="1933.4" y="1577.8" width="28.2" height="42.7" fill="#e26ee0"/>
<rect x="1933.4" y="1538.8" width="28.2" height="39.3" fill="#6ee564"/>
<rect x="1966.6" y="1621.6" width="28.2" height="87.8" fill="#8cd8e0"/>
<rect x="1966.6" y="1575.4" width="28.2" height="46.5" fill="#e26ee0"/>
<rect x="1966.6" y="1538.8" width="28.2" height="36.9" fill="#6ee564"/>
<rect x="1999.9" y="1623.1" width="28.2" height="86.3" fill="#8cd8e0"/>
<rect x="1999.9" y="1581.5" width="28.2" height="41.9" fill="#e26ee0"/>
<rect x="1999.9" y="1538.8" width="28.2" height="43" fill="#6ee564"/>
<rect x="2033.2" y="1657.5" width="28.2" height="51.9" fill="#8cd8e0"/>
<rect x="2033.2" y="1598.1" width="28.2" height="59.7" fill="#e26ee0"/>
<rect x="2033.2" y="1538.8" width="28.2" height="59.6" fill="#6ee564"/>
<rect x="2066.4" y="1644.2" width="28.2" height="65.2" fill="#8cd8e0"/>
<rect x="2066.4" y="1563.2" width="28.2" height="81.4" fill="#e26ee0"/>
<rect x="2066.4" y="1538.8" width="28.2" height="24.7" fill="#6ee564"/>
<rect x="2099.7" y="1646.1" width="28.2" height="63.3" fill="#8cd8e0"/>
<rect x="2099.7" y="1557.4" width="28.2" height="89" fill="#e26ee0"/>
<rect x="2099.7" y="1538.8" width="28.2" height="18.9" fill="#6ee564"/>
<rect x="2132.9" y="1597" width="28.2" height="112.4" fill="#8cd8e0"/>
<rect x="2132.9" y="1549.2" width="28.2" height="48.2" fill="#e26ee0"/>
<rect x="2132.9" y="1538.8" width="28.2" height="10.7" fill="#6ee564"/>
<path d="M1832.6 1538.8H2162M1832.6 1538.1V1709.1H2162" stroke="#222" stroke-width="1.5" fill="none"/>
<path d="M2161 1538.8V1709.1" stroke="#222" stroke-width="1.5" fill="none"/>
<path d="M1832.6 1581.4h-5M1832.6 1623.9h-5M1832.6 1666.5h-5M1847.7 1709.1v5M1881 1709.1v5M1914.2 1709.1v5M1947.5 1709.1v5M1980.7 1709.1v5M2014 1709.1v5M2047.3 1709.1v5M2080.5 1709.1v5M2113.8 1709.1v5M2147 1709.1v5" stroke="#222" stroke-width="1.3" fill="none"/>
<text x="1823" y="1556.5" font-size="24" text-anchor="end">100</text>
<text x="1823" y="1594.6" font-size="24" text-anchor="end">75</text>
<text x="1823" y="1633.1" font-size="24" text-anchor="end">50</text>
<text x="1823" y="1672.9" font-size="24" text-anchor="end">25</text>
<text x="1823" y="1712" font-size="24" text-anchor="end">0</text>
</g>
<g>
<rect x="1833.6" y="1873" width="28.2" height="19.9" fill="#4aaa6e"/>
<rect x="1833.6" y="1858.8" width="28.2" height="14.5" fill="#dc2e2e"/>
<rect x="1833.6" y="1850.5" width="28.2" height="8.7" fill="#c03cf8"/>
<rect x="1833.6" y="1838.9" width="28.2" height="11.9" fill="#8c524c"/>
<rect x="1833.6" y="1813.8" width="28.2" height="25.4" fill="#e07bcf"/>
<rect x="1833.6" y="1804.8" width="28.2" height="9.3" fill="#b0c05e"/>
<rect x="1833.6" y="1793.4" width="28.2" height="11.7" fill="#5ecfd0"/>
<rect x="1833.6" y="1782.3" width="28.2" height="11.4" fill="#adc8e8"/>
<rect x="1833.6" y="1773.2" width="28.2" height="9.3" fill="#f2b878"/>
<rect x="1833.6" y="1766.3" width="28.2" height="7.3" fill="#a0ee90"/>
<rect x="1833.6" y="1762.2" width="28.2" height="4.4" fill="#f48c8c"/>
<rect x="1833.6" y="1746.7" width="28.2" height="15.8" fill="#c4b0d8"/>
<rect x="1833.6" y="1726.7" width="28.2" height="20.2" fill="#c09c94"/>
<rect x="1833.6" y="1722.1" width="28.2" height="4.9" fill="#f0b4d8"/>
<rect x="1866.9" y="1890" width="28.2" height="2.9" fill="#3f7fba"/>
<rect x="1866.9" y="1888" width="28.2" height="2.3" fill="#f08228"/>
<rect x="1866.9" y="1875.2" width="28.2" height="13.1" fill="#4aaa6e"/>
<rect x="1866.9" y="1861.6" width="28.2" height="13.9" fill="#dc2e2e"/>
<rect x="1866.9" y="1859.5" width="28.2" height="2.3" fill="#c03cf8"/>
<rect x="1866.9" y="1855.9" width="28.2" height="3.9" fill="#8c524c"/>
<rect x="1866.9" y="1826.4" width="28.2" height="29.8" fill="#e07bcf"/>
<rect x="1866.9" y="1817.9" width="28.2" height="8.8" fill="#b0c05e"/>
<rect x="1866.9" y="1790.6" width="28.2" height="27.6" fill="#5ecfd0"/>
<rect x="1866.9" y="1771.2" width="28.2" height="19.7" fill="#adc8e8"/>
<rect x="1866.9" y="1760.3" width="28.2" height="11.2" fill="#f2b878"/>
<rect x="1866.9" y="1755.5" width="28.2" height="5.1" fill="#a0ee90"/>
<rect x="1866.9" y="1752.6" width="28.2" height="3.2" fill="#f48c8c"/>
<rect x="1866.9" y="1744.1" width="28.2" height="8.8" fill="#c4b0d8"/>
<rect x="1866.9" y="1725.2" width="28.2" height="19.2" fill="#c09c94"/>
<rect x="1866.9" y="1722.1" width="28.2" height="3.4" fill="#f0b4d8"/>
<rect x="1900.1" y="1890.2" width="28.2" height="2.7" fill="#4aaa6e"/>
<rect x="1900.1" y="1880.5" width="28.2" height="10" fill="#dc2e2e"/>
<rect x="1900.1" y="1861.6" width="28.2" height="19.2" fill="#e07bcf"/>
<rect x="1900.1" y="1857" width="28.2" height="4.9" fill="#b0c05e"/>
<rect x="1900.1" y="1834.8" width="28.2" height="22.5" fill="#5ecfd0"/>
<rect x="1900.1" y="1813.8" width="28.2" height="21.3" fill="#adc8e8"/>
<rect x="1900.1" y="1794.4" width="28.2" height="19.7" fill="#f2b878"/>
<rect x="1900.1" y="1791.8" width="28.2" height="2.9" fill="#a0ee90"/>
<rect x="1900.1" y="1786.9" width="28.2" height="5.2" fill="#c4b0d8"/>
<rect x="1900.1" y="1729.6" width="28.2" height="57.6" fill="#c09c94"/>
<rect x="1900.1" y="1722.1" width="28.2" height="7.8" fill="#f0b4d8"/>
<rect x="1933.4" y="1885.6" width="28.2" height="7.3" fill="#3f7fba"/>
<rect x="1933.4" y="1875.2" width="28.2" height="10.7" fill="#4aaa6e"/>
<rect x="1933.4" y="1860.9" width="28.2" height="14.6" fill="#dc2e2e"/>
<rect x="1933.4" y="1857" width="28.2" height="4.2" fill="#c03cf8"/>
<rect x="1933.4" y="1853.9" width="28.2" height="3.4" fill="#8c524c"/>
<rect x="1933.4" y="1817.8" width="28.2" height="36.4" fill="#e07bcf"/>
<rect x="1933.4" y="1814.3" width="28.2" height="3.7" fill="#b0c05e"/>
<rect x="1933.4" y="1785.9" width="28.2" height="28.8" fill="#5ecfd0"/>
<rect x="1933.4" y="1768.3" width="28.2" height="17.9" fill="#adc8e8"/>
<rect x="1933.4" y="1764.2" width="28.2" height="4.4" fill="#f2b878"/>
<rect x="1933.4" y="1740.2" width="28.2" height="24.3" fill="#c4b0d8"/>
<rect x="1933.4" y="1725.2" width="28.2" height="15.3" fill="#c09c94"/>
<rect x="1933.4" y="1722.1" width="28.2" height="3.4" fill="#f0b4d8"/>
<rect x="1966.6" y="1888.5" width="28.2" height="4.4" fill="#3f7fba"/>
<rect x="1966.6" y="1883.2" width="28.2" height="5.6" fill="#f08228"/>
<rect x="1966.6" y="1868.9" width="28.2" height="14.6" fill="#4aaa6e"/>
<rect x="1966.6" y="1856.1" width="28.2" height="13.1" fill="#dc2e2e"/>
<rect x="1966.6" y="1843.5" width="28.2" height="12.9" fill="#e07bcf"/>
<rect x="1966.6" y="1834.8" width="28.2" height="9" fill="#b0c05e"/>
<rect x="1966.6" y="1813.3" width="28.2" height="21.8" fill="#5ecfd0"/>
<rect x="1966.6" y="1794.7" width="28.2" height="18.9" fill="#adc8e8"/>
<rect x="1966.6" y="1774.3" width="28.2" height="20.8" fill="#f2b878"/>
<rect x="1966.6" y="1768.3" width="28.2" height="6.3" fill="#a0ee90"/>
<rect x="1966.6" y="1764.6" width="28.2" height="4.1" fill="#f48c8c"/>
<rect x="1966.6" y="1738.5" width="28.2" height="26.4" fill="#c4b0d8"/>
<rect x="1966.6" y="1724.5" width="28.2" height="14.3" fill="#c09c94"/>
<rect x="1966.6" y="1722.1" width="28.2" height="2.7" fill="#f0b4d8"/>
<rect x="1999.9" y="1890.6" width="28.2" height="2.3" fill="#3f7fba"/>
<rect x="1999.9" y="1887.7" width="28.2" height="3.2" fill="#f08228"/>
<rect x="1999.9" y="1877.9" width="28.2" height="10" fill="#4aaa6e"/>
<rect x="1999.9" y="1857.5" width="28.2" height="20.8" fill="#dc2e2e"/>
<rect x="1999.9" y="1852" width="28.2" height="5.8" fill="#c03cf8"/>
<rect x="1999.9" y="1849.8" width="28.2" height="2.5" fill="#8c524c"/>
<rect x="1999.9" y="1812" width="28.2" height="38.2" fill="#e07bcf"/>
<rect x="1999.9" y="1800.7" width="28.2" height="11.6" fill="#b0c05e"/>
<rect x="1999.9" y="1789.3" width="28.2" height="11.7" fill="#5ecfd0"/>
<rect x="1999.9" y="1778.2" width="28.2" height="11.4" fill="#adc8e8"/>
<rect x="1999.9" y="1769.8" width="28.2" height="8.7" fill="#f2b878"/>
<rect x="1999.9" y="1763.7" width="28.2" height="6.4" fill="#a0ee90"/>
<rect x="1999.9" y="1757.2" width="28.2" height="6.8" fill="#f48c8c"/>
<rect x="1999.9" y="1743.8" width="28.2" height="13.8" fill="#c4b0d8"/>
<rect x="1999.9" y="1724.7" width="28.2" height="19.4" fill="#c09c94"/>
<rect x="1999.9" y="1722.1" width="28.2" height="2.9" fill="#f0b4d8"/>
<rect x="2033.2" y="1877.9" width="28.2" height="15" fill="#4aaa6e"/>
<rect x="2033.2" y="1833.1" width="28.2" height="45.1" fill="#dc2e2e"/>
<rect x="2033.2" y="1796.3" width="28.2" height="37.1" fill="#e07bcf"/>
<rect x="2033.2" y="1781.3" width="28.2" height="15.3" fill="#5ecfd0"/>
<rect x="2033.2" y="1774.3" width="28.2" height="7.3" fill="#f48c8c"/>
<rect x="2033.2" y="1752.1" width="28.2" height="22.5" fill="#c4b0d8"/>
<rect x="2033.2" y="1730.1" width="28.2" height="22.3" fill="#c09c94"/>
<rect x="2033.2" y="1722.1" width="28.2" height="8.3" fill="#f0b4d8"/>
<rect x="2066.4" y="1884.2" width="28.2" height="8.7" fill="#3f7fba"/>
<rect x="2066.4" y="1876.2" width="28.2" height="8.3" fill="#f08228"/>
<rect x="2066.4" y="1868" width="28.2" height="8.5" fill="#dc2e2e"/>
<rect x="2066.4" y="1843.8" width="28.2" height="24.5" fill="#5ecfd0"/>
<rect x="2066.4" y="1828" width="28.2" height="16.2" fill="#adc8e8"/>
<rect x="2066.4" y="1803.3" width="28.2" height="25" fill="#f2b878"/>
<rect x="2066.4" y="1787.2" width="28.2" height="16.3" fill="#f48c8c"/>
<rect x="2066.4" y="1770.9" width="28.2" height="16.7" fill="#c4b0d8"/>
<rect x="2066.4" y="1730.8" width="28.2" height="40.4" fill="#c09c94"/>
<rect x="2066.4" y="1722.1" width="28.2" height="9" fill="#f0b4d8"/>
<rect x="2099.7" y="1884.9" width="28.2" height="8" fill="#f08228"/>
<rect x="2099.7" y="1883.6" width="28.2" height="1.7" fill="#4aaa6e"/>
<rect x="2099.7" y="1876.6" width="28.2" height="7.3" fill="#dc2e2e"/>
<rect x="2099.7" y="1874" width="28.2" height="2.9" fill="#8c524c"/>
<rect x="2099.7" y="1853.9" width="28.2" height="20.4" fill="#e07bcf"/>
<rect x="2099.7" y="1848.1" width="28.2" height="6.1" fill="#b0c05e"/>
<rect x="2099.7" y="1835" width="28.2" height="13.4" fill="#5ecfd0"/>
<rect x="2099.7" y="1822" width="28.2" height="13.3" fill="#adc8e8"/>
<rect x="2099.7" y="1810.4" width="28.2" height="11.9" fill="#f2b878"/>
<rect x="2099.7" y="1801.9" width="28.2" height="8.8" fill="#c4b0d8"/>
<rect x="2099.7" y="1725.2" width="28.2" height="77" fill="#c09c94"/>
<rect x="2099.7" y="1722.1" width="28.2" height="3.4" fill="#f0b4d8"/>
<rect x="2132.9" y="1889" width="28.2" height="3.9" fill="#4aaa6e"/>
<rect x="2132.9" y="1886.1" width="28.2" height="3.2" fill="#dc2e2e"/>
<rect x="2132.9" y="1882.5" width="28.2" height="3.9" fill="#8c524c"/>
<rect x="2132.9" y="1859.5" width="28.2" height="23.3" fill="#e07bcf"/>
<rect x="2132.9" y="1854.4" width="28.2" height="5.4" fill="#b0c05e"/>
<rect x="2132.9" y="1814.3" width="28.2" height="40.4" fill="#5ecfd0"/>
<rect x="2132.9" y="1806.3" width="28.2" height="8.3" fill="#adc8e8"/>
<rect x="2132.9" y="1780.2" width="28.2" height="26.4" fill="#f2b878"/>
<rect x="2132.9" y="1769.8" width="28.2" height="10.7" fill="#a0ee90"/>
<rect x="2132.9" y="1765.7" width="28.2" height="4.4" fill="#f48c8c"/>
<rect x="2132.9" y="1741.7" width="28.2" height="24.3" fill="#c4b0d8"/>
<rect x="2132.9" y="1724.1" width="28.2" height="17.9" fill="#c09c94"/>
<rect x="2132.9" y="1722.1" width="28.2" height="2.3" fill="#f0b4d8"/>
<path d="M1832.6 1722.1H2162M1832.6 1721.4V1892.6H2162" stroke="#222" stroke-width="1.5" fill="none"/>
<path d="M2161 1722.1V1892.6" stroke="#222" stroke-width="1.5" fill="none"/>
<path d="M1832.6 1756.2h-5M1832.6 1790.3h-5M1832.6 1824.4h-5M1832.6 1858.5h-5M1847.7 1892.6v5M1881 1892.6v5M1914.2 1892.6v5M1947.5 1892.6v5M1980.7 1892.6v5M2014 1892.6v5M2047.3 1892.6v5M2080.5 1892.6v5M2113.8 1892.6v5M2147 1892.6v5" stroke="#222" stroke-width="1.3" fill="none"/>
<text x="1823" y="1740.5" font-size="24" text-anchor="end">100</text>
<text x="1823" y="1769.2" font-size="24" text-anchor="end">80</text>
<text x="1823" y="1800.7" font-size="24" text-anchor="end">60</text>
<text x="1823" y="1834.8" font-size="24" text-anchor="end">40</text>
<text x="1823" y="1868.3" font-size="24" text-anchor="end">20</text>
<text x="1823" y="1898" font-size="24" text-anchor="end">0</text>
<text transform="translate(1861.5 1911.6) rotate(-45)" font-size="24" text-anchor="end">Homeo</text>
<text transform="translate(1894.8 1911.6) rotate(-45)" font-size="24" text-anchor="end">Pericyte</text>
<text transform="translate(1928 1911.6) rotate(-45)" font-size="24" text-anchor="end">MyoFibro</text>
<text transform="translate(1961.3 1911.6) rotate(-45)" font-size="24" text-anchor="end">Arteriole</text>
<text transform="translate(1994.5 1911.6) rotate(-45)" font-size="24" text-anchor="end">Venule</text>
<text transform="translate(2027.8 1911.6) rotate(-45)" font-size="24" text-anchor="end">Capillaries</text>
<text transform="translate(2061.1 1911.6) rotate(-45)" font-size="24" text-anchor="end">IMEC1</text>
<text transform="translate(2094.3 1911.6) rotate(-45)" font-size="24" text-anchor="end">IMEC2</text>
<text transform="translate(2127.6 1911.6) rotate(-45)" font-size="24" text-anchor="end">EL</text>
<text transform="translate(2160.8 1911.6) rotate(-45)" font-size="24" text-anchor="end">Prolif</text>
</g>
<text x="916" y="2061" font-size="24" class="b">Cluster representation legend</text>
<text x="996.5" y="2105" font-size="20.5" text-anchor="middle">Fraction of cells</text>
<text x="996.5" y="2124.5" font-size="20.5" text-anchor="middle">in group (%)</text>
<text x="1185" y="2105" font-size="20.5" text-anchor="middle">Mean expression</text>
<text x="1185" y="2124.5" font-size="20.5" text-anchor="middle">in group</text>
<circle cx="938.5" cy="2147.5" r="3.1" fill="#8c8c8c" stroke="#555" stroke-width="0.6"/>
<path d="M938.5 2159v4" stroke="#222" stroke-width="1.2"/>
<text x="938.5" y="2180" font-size="20" text-anchor="middle">20</text>
<circle cx="964" cy="2147.2" r="5.4" fill="#8c8c8c" stroke="#555" stroke-width="0.6"/>
<path d="M964 2159v4" stroke="#222" stroke-width="1.2"/>
<text x="964" y="2180" font-size="20" text-anchor="middle">40</text>
<circle cx="993" cy="2146.9" r="7.1" fill="#8c8c8c" stroke="#555" stroke-width="0.6"/>
<path d="M993 2159v4" stroke="#222" stroke-width="1.2"/>
<text x="993" y="2180" font-size="20" text-anchor="middle">60</text>
<circle cx="1019.5" cy="2146.7" r="8.8" fill="#8c8c8c" stroke="#555" stroke-width="0.6"/>
<path d="M1019.5 2159v4" stroke="#222" stroke-width="1.2"/>
<text x="1019.5" y="2180" font-size="20" text-anchor="middle">80</text>
<circle cx="1052" cy="2146.4" r="10.3" fill="#8c8c8c" stroke="#555" stroke-width="0.6"/>
<path d="M1052 2159v4" stroke="#222" stroke-width="1.2"/>
<text x="1052" y="2180" font-size="20" text-anchor="middle">100</text>
<defs><linearGradient id="rg" x1="0" x2="1" y1="0" y2="0">
<stop offset="0%" stop-color="#fff5f0"/>
<stop offset="10%" stop-color="#fee4d8"/>
<stop offset="20%" stop-color="#fcc9b4"/>
<stop offset="30%" stop-color="#fcab8e"/>
<stop offset="40%" stop-color="#fb8a6a"/>
<stop offset="50%" stop-color="#fa6949"/>
<stop offset="60%" stop-color="#f14432"/>
<stop offset="70%" stop-color="#d82522"/>
<stop offset="80%" stop-color="#bb1419"/>
<stop offset="90%" stop-color="#970b13"/>
<stop offset="100%" stop-color="#67000c"/>
</linearGradient></defs>
<rect x="1141.5" y="2143.5" width="87.5" height="9" fill="url(#rg)" stroke="#444" stroke-width="0.8"/>
<path d="M1141.5 2152.5v5" stroke="#444" stroke-width="1"/>
<path d="M1185.2 2152.5v5" stroke="#444" stroke-width="1"/>
<path d="M1229 2152.5v5" stroke="#444" stroke-width="1"/>
<text x="1148" y="2180" font-size="20" text-anchor="middle">0.0</text>
<text x="1186" y="2180" font-size="20" text-anchor="middle">0.5</text>
<text x="1224" y="2180" font-size="20" text-anchor="middle">1.0</text>
<text x="1440.8" y="2062.8" font-size="24" class="b">Cluster representation legend</text>
<rect x="1439.7" y="2085.5" width="25.5" height="25.5" fill="#6ee564" stroke="#111" stroke-width="1.3"/>
<text x="1476" y="2104" font-size="23.5">CTRL</text>
<rect x="1439.7" y="2123.1" width="25.5" height="25.5" fill="#e26ee0" stroke="#111" stroke-width="1.3"/>
<text x="1476" y="2141.6" font-size="23.5">MS-CI</text>
<rect x="1439.7" y="2160.7" width="25.5" height="25.5" fill="#8cd8e0" stroke="#111" stroke-width="1.3"/>
<text x="1476" y="2179.2" font-size="23.5">MS-CA</text>
<rect x="1614.5" y="2085.5" width="25.5" height="25.5" fill="#3f7fba" stroke="#111" stroke-width="1.3"/>
<text x="1650" y="2106.5" font-size="23.5">CO1</text>
<rect x="1614.5" y="2123.1" width="25.5" height="25.5" fill="#f08228" stroke="#111" stroke-width="1.3"/>
<text x="1650" y="2144.1" font-size="23.5">CO2</text>
<rect x="1614.5" y="2160.7" width="25.5" height="25.5" fill="#4aaa6e" stroke="#111" stroke-width="1.3"/>
<text x="1650" y="2181.7" font-size="23.5">CO3</text>
<rect x="1614.5" y="2198.3" width="25.5" height="25.5" fill="#dc2e2e" stroke="#111" stroke-width="1.3"/>
<text x="1650" y="2219.3" font-size="23.5">CO4</text>
<rect x="1734.5" y="2085.5" width="25.5" height="25.5" fill="#c03cf8" stroke="#111" stroke-width="1.3"/>
<text x="1771" y="2106.5" font-size="23.5">CO5</text>
<rect x="1734.5" y="2123.1" width="25.5" height="25.5" fill="#8c524c" stroke="#111" stroke-width="1.3"/>
<text x="1771" y="2144.1" font-size="23.5">CO6</text>
<rect x="1734.5" y="2160.7" width="25.5" height="25.5" fill="#e07bcf" stroke="#111" stroke-width="1.3"/>
<text x="1771" y="2181.7" font-size="23.5">MS2</text>
<rect x="1734.5" y="2198.3" width="25.5" height="25.5" fill="#b0c05e" stroke="#111" stroke-width="1.3"/>
<text x="1771" y="2219.3" font-size="23.5">MS4</text>
<rect x="1875.5" y="2085.5" width="25.5" height="25.5" fill="#5ecfd0" stroke="#111" stroke-width="1.3"/>
<text x="1912" y="2106.5" font-size="23.5">MS5</text>
<rect x="1875.5" y="2123.1" width="25.5" height="25.5" fill="#adc8e8" stroke="#111" stroke-width="1.3"/>
<text x="1912" y="2144.1" font-size="23.5">MS6</text>
<rect x="1875.5" y="2160.7" width="25.5" height="25.5" fill="#f2b878" stroke="#111" stroke-width="1.3"/>
<text x="1912" y="2181.7" font-size="23.5">MS7</text>
<rect x="1875.5" y="2198.3" width="25.5" height="25.5" fill="#a0ee90" stroke="#111" stroke-width="1.3"/>
<text x="1912" y="2219.3" font-size="23.5">MS8</text>
<rect x="2026.5" y="2085.5" width="25.5" height="25.5" fill="#f48c8c" stroke="#111" stroke-width="1.3"/>
<text x="2063" y="2106.5" font-size="23.5">MS9</text>
<rect x="2026.5" y="2123.1" width="25.5" height="25.5" fill="#c4b0d8" stroke="#111" stroke-width="1.3"/>
<text x="2063" y="2144.1" font-size="23.5">MS10</text>
<rect x="2026.5" y="2160.7" width="25.5" height="25.5" fill="#c09c94" stroke="#111" stroke-width="1.3"/>
<text x="2063" y="2181.7" font-size="23.5">MS11</text>
<rect x="2026.5" y="2198.3" width="25.5" height="25.5" fill="#f0b4d8" stroke="#111" stroke-width="1.3"/>
<text x="2063" y="2219.3" font-size="23.5">MS12</text>
</svg></body></html>
